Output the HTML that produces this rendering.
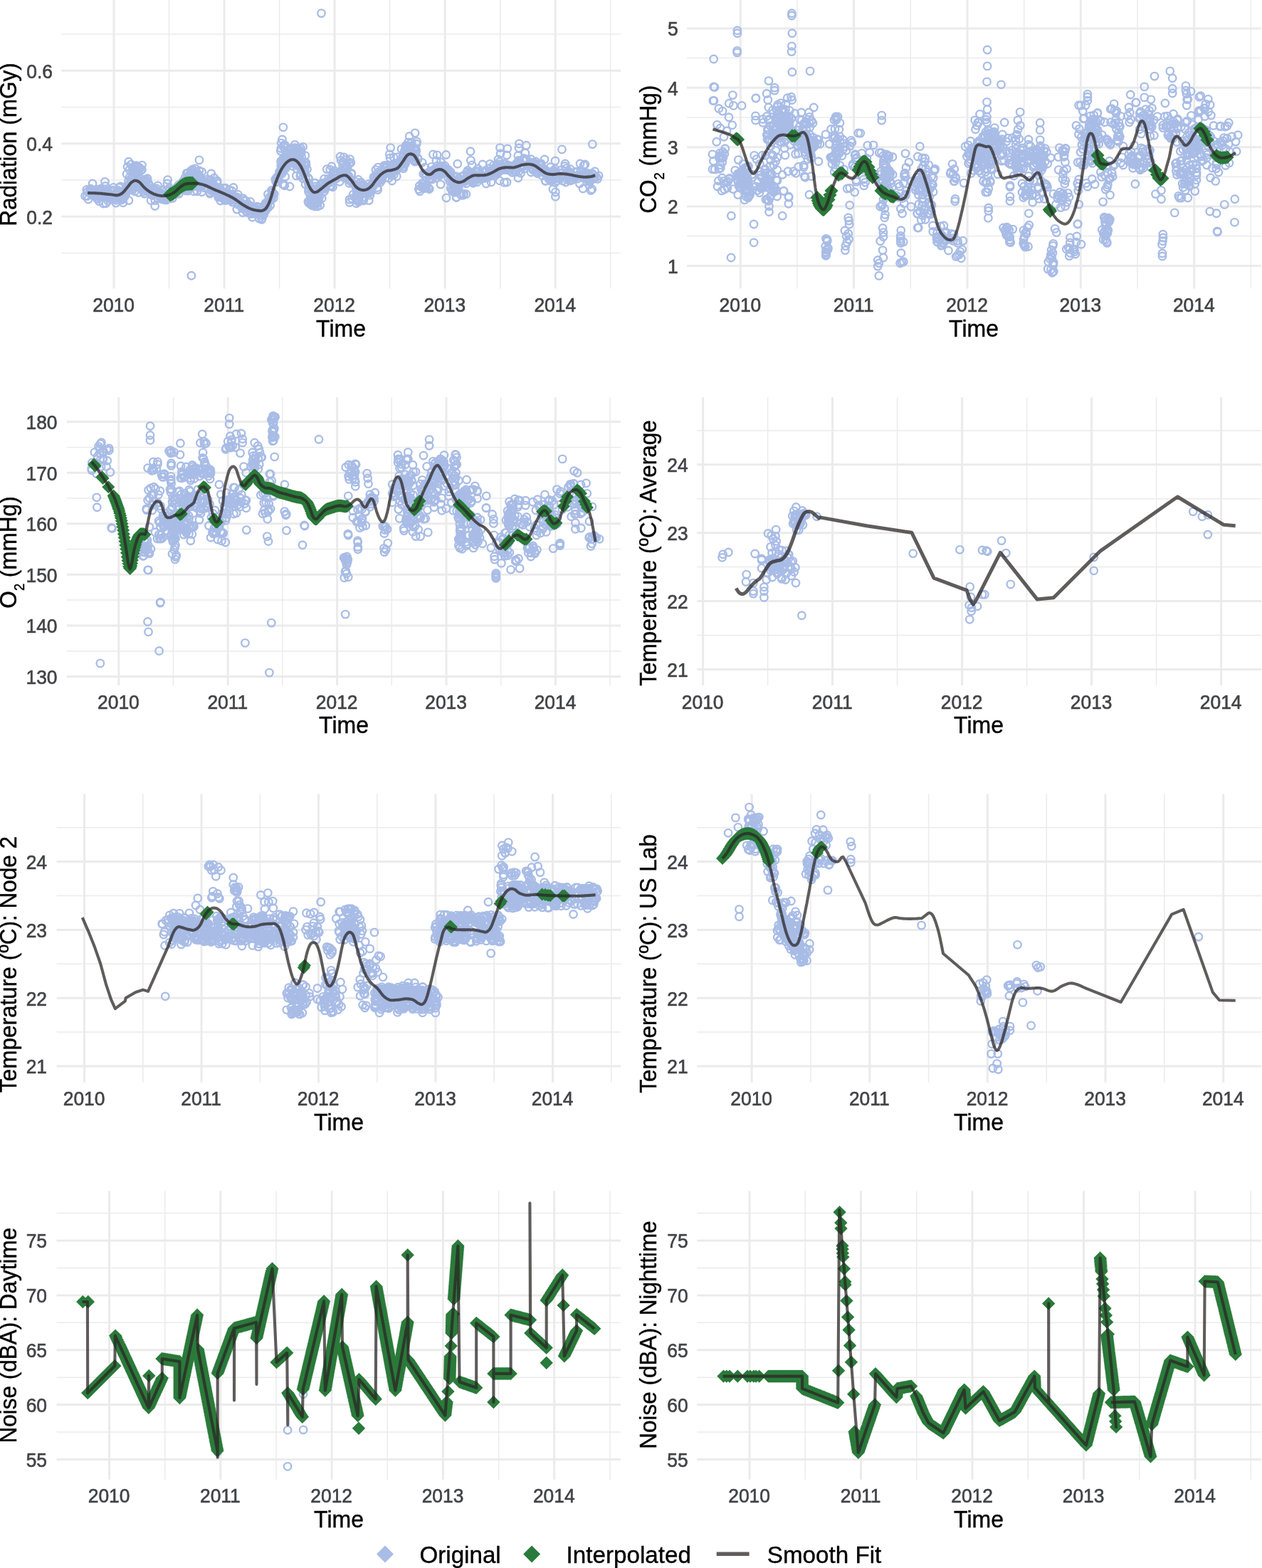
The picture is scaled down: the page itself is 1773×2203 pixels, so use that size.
<!DOCTYPE html>
<html lang="en"><head><meta charset="utf-8"><title>Environmental time series</title>
<style>
html,body{margin:0;padding:0;background:#fff}
svg{display:block;font-family:'Liberation Sans', sans-serif}
</style></head>
<body>
<svg width="1773" height="2203" viewBox="0 0 1773 2203">
<rect width="1773" height="2203" fill="#fff"/>
<!-- p1 -->
<path d="M86.4 48.1H872M86.4 150.5H872M86.4 253H872M86.4 355.4H872M237.5 0V405.6M392.6 0V405.6M547.6 0V405.6M702.7 0V405.6M857.7 0V405.6" stroke="#ebebeb" stroke-width="1.5" fill="none"/>
<path d="M86.4 99.3H872M86.4 201.8H872M86.4 304.2H872M160 0V405.6M315.1 0V405.6M470.1 0V405.6M625.2 0V405.6M780.2 0V405.6" stroke="#ebebeb" stroke-width="3.0" fill="none"/>
<g fill="none" stroke="#a8bce6" stroke-width="2.35"><circle cx="211.1" cy="266.7" r="5.25"/><circle cx="479.5" cy="241.6" r="5.25"/><circle cx="553.5" cy="238.9" r="5.25"/><circle cx="138.8" cy="276.5" r="5.25"/><circle cx="225.1" cy="278.2" r="5.25"/><circle cx="790" cy="246.7" r="5.25"/><circle cx="169" cy="275.5" r="5.25"/><circle cx="212" cy="281.5" r="5.25"/><circle cx="804.6" cy="247.6" r="5.25"/><circle cx="568.2" cy="228.7" r="5.25"/><circle cx="385.2" cy="272.5" r="5.25"/><circle cx="488.2" cy="247.9" r="5.25"/><circle cx="597.9" cy="244.6" r="5.25"/><circle cx="317.3" cy="278.4" r="5.25"/><circle cx="217.9" cy="281.6" r="5.25"/><circle cx="688.5" cy="245.4" r="5.25"/><circle cx="603.3" cy="247" r="5.25"/><circle cx="489" cy="248.8" r="5.25"/><circle cx="709.3" cy="229.4" r="5.25"/><circle cx="515.5" cy="271.6" r="5.25"/><circle cx="828.2" cy="247.1" r="5.25"/><circle cx="266.1" cy="249.2" r="5.25"/><circle cx="518.9" cy="263.3" r="5.25"/><circle cx="468.1" cy="244.8" r="5.25"/><circle cx="373.8" cy="287.6" r="5.25"/><circle cx="546.3" cy="239.7" r="5.25"/><circle cx="288.4" cy="255.9" r="5.25"/><circle cx="698.8" cy="243.7" r="5.25"/><circle cx="745.9" cy="223.7" r="5.25"/><circle cx="211.2" cy="271.4" r="5.25"/><circle cx="456.2" cy="264.1" r="5.25"/><circle cx="318.7" cy="281.1" r="5.25"/><circle cx="178.2" cy="268.8" r="5.25"/><circle cx="766.7" cy="244.4" r="5.25"/><circle cx="429.3" cy="249.5" r="5.25"/><circle cx="224.9" cy="274.7" r="5.25"/><circle cx="605.5" cy="250.3" r="5.25"/><circle cx="264.4" cy="254.6" r="5.25"/><circle cx="770.6" cy="247.1" r="5.25"/><circle cx="275.2" cy="257.2" r="5.25"/><circle cx="141.9" cy="273.1" r="5.25"/><circle cx="263.4" cy="256.7" r="5.25"/><circle cx="368.3" cy="306.7" r="5.25"/><circle cx="457.5" cy="256.9" r="5.25"/><circle cx="774" cy="246.2" r="5.25"/><circle cx="622.9" cy="241" r="5.25"/><circle cx="363.7" cy="299.1" r="5.25"/><circle cx="130.2" cy="273.6" r="5.25"/><circle cx="233.7" cy="277" r="5.25"/><circle cx="839.4" cy="251.4" r="5.25"/><circle cx="450.8" cy="258.1" r="5.25"/><circle cx="618.3" cy="238.2" r="5.25"/><circle cx="157.6" cy="267.4" r="5.25"/><circle cx="142.7" cy="273.1" r="5.25"/><circle cx="730.4" cy="226.8" r="5.25"/><circle cx="543.6" cy="235.4" r="5.25"/><circle cx="341.5" cy="287.6" r="5.25"/><circle cx="347.8" cy="298.5" r="5.25"/><circle cx="182.6" cy="261.5" r="5.25"/><circle cx="243" cy="272.9" r="5.25"/><circle cx="135.8" cy="278.5" r="5.25"/><circle cx="725.5" cy="229.8" r="5.25"/><circle cx="455.6" cy="251.3" r="5.25"/><circle cx="210.1" cy="267.3" r="5.25"/><circle cx="653.2" cy="252" r="5.25"/><circle cx="259.7" cy="265.1" r="5.25"/><circle cx="162.8" cy="285.1" r="5.25"/><circle cx="551.2" cy="232.3" r="5.25"/><circle cx="766.5" cy="254.2" r="5.25"/><circle cx="137.5" cy="279.4" r="5.25"/><circle cx="700.9" cy="241.5" r="5.25"/><circle cx="255.7" cy="262.9" r="5.25"/><circle cx="185.3" cy="266.8" r="5.25"/><circle cx="131" cy="271.7" r="5.25"/><circle cx="330.1" cy="277.5" r="5.25"/><circle cx="644.4" cy="256.9" r="5.25"/><circle cx="475.1" cy="242.7" r="5.25"/><circle cx="735.5" cy="233.8" r="5.25"/><circle cx="275.3" cy="257.2" r="5.25"/><circle cx="346.2" cy="292.3" r="5.25"/><circle cx="304.9" cy="269.8" r="5.25"/><circle cx="826.3" cy="243.3" r="5.25"/><circle cx="799.3" cy="251.8" r="5.25"/><circle cx="364.7" cy="291.2" r="5.25"/><circle cx="433.7" cy="264.7" r="5.25"/><circle cx="345.6" cy="282.4" r="5.25"/><circle cx="658.5" cy="251.7" r="5.25"/><circle cx="147" cy="268.3" r="5.25"/><circle cx="166.8" cy="274.2" r="5.25"/><circle cx="410.5" cy="221" r="5.25"/><circle cx="295.4" cy="252.8" r="5.25"/><circle cx="729.9" cy="227.4" r="5.25"/><circle cx="655.1" cy="252.4" r="5.25"/><circle cx="513.2" cy="270" r="5.25"/><circle cx="596.9" cy="235.2" r="5.25"/><circle cx="619.2" cy="227.7" r="5.25"/><circle cx="683.5" cy="241.3" r="5.25"/><circle cx="789.5" cy="243.2" r="5.25"/><circle cx="226.4" cy="272" r="5.25"/><circle cx="571.3" cy="215" r="5.25"/><circle cx="222" cy="278.7" r="5.25"/><circle cx="438.8" cy="273.6" r="5.25"/><circle cx="687.3" cy="248.1" r="5.25"/><circle cx="765.8" cy="238.2" r="5.25"/><circle cx="667.7" cy="246.8" r="5.25"/><circle cx="143.6" cy="271.1" r="5.25"/><circle cx="378.2" cy="277.5" r="5.25"/><circle cx="236.1" cy="278.8" r="5.25"/><circle cx="841.1" cy="246.9" r="5.25"/><circle cx="222.3" cy="272.1" r="5.25"/><circle cx="294.9" cy="270.5" r="5.25"/><circle cx="376.6" cy="291.9" r="5.25"/><circle cx="162.1" cy="278.6" r="5.25"/><circle cx="748.2" cy="237.6" r="5.25"/><circle cx="578.7" cy="220.3" r="5.25"/><circle cx="233.7" cy="268.6" r="5.25"/><circle cx="478.7" cy="245.6" r="5.25"/><circle cx="175" cy="273.3" r="5.25"/><circle cx="560.3" cy="230.6" r="5.25"/><circle cx="285.7" cy="259.9" r="5.25"/><circle cx="146" cy="274.3" r="5.25"/><circle cx="201.4" cy="269.4" r="5.25"/><circle cx="520" cy="269.7" r="5.25"/><circle cx="579.2" cy="221.4" r="5.25"/><circle cx="353.2" cy="293" r="5.25"/><circle cx="583.9" cy="225.6" r="5.25"/><circle cx="372.9" cy="296.3" r="5.25"/><circle cx="212.6" cy="270.1" r="5.25"/><circle cx="346.2" cy="297.5" r="5.25"/><circle cx="404.2" cy="229.5" r="5.25"/><circle cx="778.8" cy="241.2" r="5.25"/><circle cx="201.7" cy="268.9" r="5.25"/><circle cx="180.4" cy="260.2" r="5.25"/><circle cx="524.5" cy="261" r="5.25"/><circle cx="815.5" cy="240.7" r="5.25"/><circle cx="774.9" cy="244.9" r="5.25"/><circle cx="625" cy="236.5" r="5.25"/><circle cx="166.3" cy="269.2" r="5.25"/><circle cx="701.8" cy="227.4" r="5.25"/><circle cx="612.8" cy="250" r="5.25"/><circle cx="222.2" cy="273.7" r="5.25"/><circle cx="454.6" cy="263.8" r="5.25"/><circle cx="153.7" cy="278.7" r="5.25"/><circle cx="698.6" cy="237.9" r="5.25"/><circle cx="638.3" cy="256.8" r="5.25"/><circle cx="700.6" cy="230.7" r="5.25"/><circle cx="668.5" cy="247.3" r="5.25"/><circle cx="311.5" cy="268.6" r="5.25"/><circle cx="689.8" cy="245.8" r="5.25"/><circle cx="298.4" cy="266" r="5.25"/><circle cx="217.8" cy="266.2" r="5.25"/><circle cx="400.6" cy="221.2" r="5.25"/><circle cx="478.4" cy="242.5" r="5.25"/><circle cx="324.9" cy="280.5" r="5.25"/><circle cx="556.6" cy="239.4" r="5.25"/><circle cx="554.2" cy="240.1" r="5.25"/><circle cx="291.6" cy="251.8" r="5.25"/><circle cx="568.7" cy="211.6" r="5.25"/><circle cx="376.7" cy="284.9" r="5.25"/><circle cx="649.9" cy="253.5" r="5.25"/><circle cx="328.3" cy="275.7" r="5.25"/><circle cx="696.3" cy="241.6" r="5.25"/><circle cx="418.5" cy="227.3" r="5.25"/><circle cx="518.5" cy="258.4" r="5.25"/><circle cx="605.5" cy="240.2" r="5.25"/><circle cx="493.3" cy="253.9" r="5.25"/><circle cx="304.5" cy="268.1" r="5.25"/><circle cx="827.1" cy="248.1" r="5.25"/><circle cx="187.5" cy="265.4" r="5.25"/><circle cx="353.2" cy="292.6" r="5.25"/><circle cx="515.6" cy="266.6" r="5.25"/><circle cx="138.8" cy="266.7" r="5.25"/><circle cx="230.2" cy="273.4" r="5.25"/><circle cx="696.7" cy="242.2" r="5.25"/><circle cx="685.5" cy="247.8" r="5.25"/><circle cx="579.2" cy="216.1" r="5.25"/><circle cx="770.9" cy="246.5" r="5.25"/><circle cx="665" cy="246.9" r="5.25"/><circle cx="334.3" cy="273.4" r="5.25"/><circle cx="584.9" cy="211.8" r="5.25"/><circle cx="364.2" cy="307.1" r="5.25"/><circle cx="660.9" cy="252.5" r="5.25"/><circle cx="396.6" cy="235.7" r="5.25"/><circle cx="228.9" cy="266.5" r="5.25"/><circle cx="752.6" cy="227" r="5.25"/><circle cx="617.9" cy="244.9" r="5.25"/><circle cx="657.1" cy="239.5" r="5.25"/><circle cx="523.1" cy="258.2" r="5.25"/><circle cx="684.8" cy="249.5" r="5.25"/><circle cx="442.3" cy="270.9" r="5.25"/><circle cx="527.6" cy="257.4" r="5.25"/><circle cx="163.3" cy="273.7" r="5.25"/><circle cx="519.9" cy="274.3" r="5.25"/><circle cx="707.8" cy="230.5" r="5.25"/><circle cx="628.8" cy="238.8" r="5.25"/><circle cx="699.5" cy="239.3" r="5.25"/><circle cx="477.2" cy="255.3" r="5.25"/><circle cx="756.1" cy="235.7" r="5.25"/><circle cx="196.4" cy="261.8" r="5.25"/><circle cx="752" cy="230.4" r="5.25"/><circle cx="386.8" cy="252" r="5.25"/><circle cx="183.9" cy="264.1" r="5.25"/><circle cx="566.4" cy="234.1" r="5.25"/><circle cx="447.3" cy="276" r="5.25"/><circle cx="428.1" cy="244" r="5.25"/><circle cx="734.9" cy="225.8" r="5.25"/><circle cx="217.8" cy="267.3" r="5.25"/><circle cx="564.7" cy="227.6" r="5.25"/><circle cx="417.6" cy="230" r="5.25"/><circle cx="500.5" cy="265.3" r="5.25"/><circle cx="479.6" cy="240" r="5.25"/><circle cx="215.1" cy="273" r="5.25"/><circle cx="488.7" cy="248.2" r="5.25"/><circle cx="742.2" cy="231.1" r="5.25"/><circle cx="242" cy="271.8" r="5.25"/><circle cx="126.3" cy="270.1" r="5.25"/><circle cx="166.9" cy="276.8" r="5.25"/><circle cx="450.9" cy="266.2" r="5.25"/><circle cx="823.5" cy="249.8" r="5.25"/><circle cx="150" cy="269.3" r="5.25"/><circle cx="835.4" cy="248.6" r="5.25"/><circle cx="506.1" cy="265.6" r="5.25"/><circle cx="205" cy="255" r="5.25"/><circle cx="421" cy="233.6" r="5.25"/><circle cx="268.1" cy="256.4" r="5.25"/><circle cx="635" cy="256.6" r="5.25"/><circle cx="510.1" cy="266.3" r="5.25"/><circle cx="326.5" cy="277.2" r="5.25"/><circle cx="302.9" cy="268.1" r="5.25"/><circle cx="745.7" cy="230.9" r="5.25"/><circle cx="672.8" cy="244.2" r="5.25"/><circle cx="433.8" cy="251.5" r="5.25"/><circle cx="411.6" cy="233.5" r="5.25"/><circle cx="651.9" cy="246.3" r="5.25"/><circle cx="820.8" cy="247" r="5.25"/><circle cx="175.6" cy="270.6" r="5.25"/><circle cx="233.2" cy="276.8" r="5.25"/><circle cx="380.3" cy="281.5" r="5.25"/><circle cx="485.6" cy="250.2" r="5.25"/><circle cx="169.7" cy="279" r="5.25"/><circle cx="156.7" cy="274.9" r="5.25"/><circle cx="276.9" cy="268.7" r="5.25"/><circle cx="397.4" cy="229.6" r="5.25"/><circle cx="653.2" cy="254.5" r="5.25"/><circle cx="559.6" cy="233.4" r="5.25"/><circle cx="139.1" cy="268.9" r="5.25"/><circle cx="150.6" cy="274.2" r="5.25"/><circle cx="445.3" cy="276.8" r="5.25"/><circle cx="751.4" cy="229.2" r="5.25"/><circle cx="780.5" cy="241.2" r="5.25"/><circle cx="382.3" cy="275.4" r="5.25"/><circle cx="760.5" cy="241.9" r="5.25"/><circle cx="790.7" cy="254" r="5.25"/><circle cx="412.4" cy="229.5" r="5.25"/><circle cx="658.2" cy="251.1" r="5.25"/><circle cx="382.5" cy="269.6" r="5.25"/><circle cx="229.2" cy="276.3" r="5.25"/><circle cx="534.4" cy="244.9" r="5.25"/><circle cx="180.6" cy="254.3" r="5.25"/><circle cx="598.3" cy="243.6" r="5.25"/><circle cx="703.9" cy="235.4" r="5.25"/><circle cx="780.8" cy="243.5" r="5.25"/><circle cx="442.4" cy="268" r="5.25"/><circle cx="203" cy="272.2" r="5.25"/><circle cx="771.4" cy="248.1" r="5.25"/><circle cx="748.1" cy="236.2" r="5.25"/><circle cx="818.5" cy="245.5" r="5.25"/><circle cx="548" cy="234.3" r="5.25"/><circle cx="605.5" cy="243.1" r="5.25"/><circle cx="388.3" cy="255.1" r="5.25"/><circle cx="250.6" cy="263.4" r="5.25"/><circle cx="329.2" cy="278.3" r="5.25"/><circle cx="639.8" cy="259.8" r="5.25"/><circle cx="353.3" cy="295.4" r="5.25"/><circle cx="618.7" cy="233.2" r="5.25"/><circle cx="481.6" cy="244.5" r="5.25"/><circle cx="443.1" cy="266.8" r="5.25"/><circle cx="818.6" cy="249.5" r="5.25"/><circle cx="238.2" cy="267.8" r="5.25"/><circle cx="470.7" cy="251.2" r="5.25"/><circle cx="233.6" cy="278.3" r="5.25"/><circle cx="796.7" cy="244.9" r="5.25"/><circle cx="471.8" cy="246.9" r="5.25"/><circle cx="358.3" cy="292.1" r="5.25"/><circle cx="239.9" cy="273.6" r="5.25"/><circle cx="548.1" cy="241.8" r="5.25"/><circle cx="406.8" cy="229.4" r="5.25"/><circle cx="210.1" cy="268.6" r="5.25"/><circle cx="141.4" cy="265.2" r="5.25"/><circle cx="401.3" cy="236.8" r="5.25"/><circle cx="540.2" cy="243.1" r="5.25"/><circle cx="493.6" cy="255.5" r="5.25"/><circle cx="769.6" cy="245.8" r="5.25"/><circle cx="778" cy="239.8" r="5.25"/><circle cx="795.9" cy="243.1" r="5.25"/><circle cx="697" cy="240.7" r="5.25"/><circle cx="463.8" cy="260.9" r="5.25"/><circle cx="497.2" cy="258.8" r="5.25"/><circle cx="405.7" cy="215" r="5.25"/><circle cx="407.3" cy="223.9" r="5.25"/><circle cx="148.1" cy="274.3" r="5.25"/><circle cx="696.3" cy="246.2" r="5.25"/><circle cx="296.1" cy="267.5" r="5.25"/><circle cx="139.2" cy="282.7" r="5.25"/><circle cx="455.7" cy="268.7" r="5.25"/><circle cx="637.7" cy="260.6" r="5.25"/><circle cx="433.7" cy="264.9" r="5.25"/><circle cx="381.6" cy="267.3" r="5.25"/><circle cx="594.8" cy="244.4" r="5.25"/><circle cx="235.9" cy="277.3" r="5.25"/><circle cx="126.2" cy="268.5" r="5.25"/><circle cx="546.9" cy="242.5" r="5.25"/><circle cx="502" cy="266.2" r="5.25"/><circle cx="744.9" cy="228.6" r="5.25"/><circle cx="419.1" cy="228.1" r="5.25"/><circle cx="687.1" cy="243" r="5.25"/><circle cx="131" cy="272.4" r="5.25"/><circle cx="137.7" cy="269.4" r="5.25"/><circle cx="551.4" cy="241.6" r="5.25"/><circle cx="281.8" cy="249" r="5.25"/><circle cx="166.7" cy="272.5" r="5.25"/><circle cx="210.5" cy="261.2" r="5.25"/><circle cx="389.3" cy="248.7" r="5.25"/><circle cx="362.1" cy="298.4" r="5.25"/><circle cx="526.2" cy="255.7" r="5.25"/><circle cx="760.6" cy="238.7" r="5.25"/><circle cx="382.8" cy="270.7" r="5.25"/><circle cx="251.3" cy="272.2" r="5.25"/><circle cx="536.5" cy="238.5" r="5.25"/><circle cx="119.6" cy="275.4" r="5.25"/><circle cx="396.6" cy="228.4" r="5.25"/><circle cx="347.7" cy="289.1" r="5.25"/><circle cx="398.5" cy="233.9" r="5.25"/><circle cx="154.8" cy="268.9" r="5.25"/><circle cx="519.3" cy="264.8" r="5.25"/><circle cx="569.9" cy="224.5" r="5.25"/><circle cx="660.6" cy="242.5" r="5.25"/><circle cx="811.2" cy="247.2" r="5.25"/><circle cx="374.8" cy="289.3" r="5.25"/><circle cx="593.2" cy="228.3" r="5.25"/><circle cx="438" cy="266.8" r="5.25"/><circle cx="273.7" cy="253.6" r="5.25"/><circle cx="761.8" cy="246.8" r="5.25"/><circle cx="658" cy="245.6" r="5.25"/><circle cx="800.6" cy="253.9" r="5.25"/><circle cx="712.8" cy="232.5" r="5.25"/><circle cx="782.2" cy="254.2" r="5.25"/><circle cx="210.7" cy="272.4" r="5.25"/><circle cx="129.4" cy="273.5" r="5.25"/><circle cx="261.8" cy="262.2" r="5.25"/><circle cx="416.4" cy="230.6" r="5.25"/><circle cx="615.9" cy="245.3" r="5.25"/><circle cx="435.4" cy="272.5" r="5.25"/><circle cx="489.7" cy="247.2" r="5.25"/><circle cx="669" cy="240.1" r="5.25"/><circle cx="169.1" cy="262" r="5.25"/><circle cx="609.1" cy="239.7" r="5.25"/><circle cx="153.3" cy="276.8" r="5.25"/><circle cx="298" cy="266.8" r="5.25"/><circle cx="640.9" cy="256" r="5.25"/><circle cx="612.5" cy="237.6" r="5.25"/><circle cx="411.4" cy="221" r="5.25"/><circle cx="331.3" cy="279.2" r="5.25"/><circle cx="717.6" cy="237.4" r="5.25"/><circle cx="316.9" cy="264.2" r="5.25"/><circle cx="140.6" cy="275.4" r="5.25"/><circle cx="297" cy="257.1" r="5.25"/><circle cx="133.3" cy="270.6" r="5.25"/><circle cx="704.9" cy="232.9" r="5.25"/><circle cx="206.5" cy="265" r="5.25"/><circle cx="823.2" cy="243.5" r="5.25"/><circle cx="272.2" cy="251.8" r="5.25"/><circle cx="339.6" cy="285.4" r="5.25"/><circle cx="541.7" cy="235.4" r="5.25"/><circle cx="341.1" cy="298.6" r="5.25"/><circle cx="392.6" cy="241.3" r="5.25"/><circle cx="193.4" cy="251.2" r="5.25"/><circle cx="399.7" cy="228.7" r="5.25"/><circle cx="136.3" cy="266.1" r="5.25"/><circle cx="280.2" cy="247.2" r="5.25"/><circle cx="776.5" cy="243.7" r="5.25"/><circle cx="321.3" cy="276.5" r="5.25"/><circle cx="314.1" cy="264.2" r="5.25"/><circle cx="609.8" cy="241" r="5.25"/><circle cx="757.2" cy="230.7" r="5.25"/><circle cx="332.2" cy="281" r="5.25"/><circle cx="390.5" cy="250" r="5.25"/><circle cx="635.4" cy="254.6" r="5.25"/><circle cx="691.5" cy="244.6" r="5.25"/><circle cx="562.4" cy="228.4" r="5.25"/><circle cx="247.6" cy="272.4" r="5.25"/><circle cx="248.9" cy="264.5" r="5.25"/><circle cx="666.8" cy="248.1" r="5.25"/><circle cx="629.7" cy="250.1" r="5.25"/><circle cx="766.9" cy="241.8" r="5.25"/><circle cx="682.6" cy="239.3" r="5.25"/><circle cx="423" cy="237.4" r="5.25"/><circle cx="214.5" cy="266.1" r="5.25"/><circle cx="762.7" cy="236.3" r="5.25"/><circle cx="621.6" cy="233.4" r="5.25"/><circle cx="535.3" cy="249.2" r="5.25"/><circle cx="611.7" cy="238.9" r="5.25"/><circle cx="396.8" cy="224.6" r="5.25"/><circle cx="366.5" cy="299.9" r="5.25"/><circle cx="534.6" cy="255.9" r="5.25"/><circle cx="467.5" cy="262.7" r="5.25"/><circle cx="631.3" cy="245.4" r="5.25"/><circle cx="795.7" cy="245" r="5.25"/><circle cx="731.4" cy="234.9" r="5.25"/><circle cx="398.5" cy="237.5" r="5.25"/><circle cx="387.7" cy="255.6" r="5.25"/><circle cx="789" cy="238.6" r="5.25"/><circle cx="403.7" cy="231.1" r="5.25"/><circle cx="697.4" cy="242.2" r="5.25"/><circle cx="185.1" cy="249.2" r="5.25"/><circle cx="444.6" cy="267.9" r="5.25"/><circle cx="491.8" cy="252.6" r="5.25"/><circle cx="703.6" cy="236.3" r="5.25"/><circle cx="753.4" cy="236.5" r="5.25"/><circle cx="228.5" cy="279.1" r="5.25"/><circle cx="564.8" cy="231.1" r="5.25"/><circle cx="573.5" cy="216.5" r="5.25"/><circle cx="227.7" cy="268.4" r="5.25"/><circle cx="721.5" cy="238.4" r="5.25"/><circle cx="518.7" cy="271.1" r="5.25"/><circle cx="814.3" cy="257.9" r="5.25"/><circle cx="252.9" cy="262.8" r="5.25"/><circle cx="498.1" cy="259.5" r="5.25"/><circle cx="352.2" cy="300.6" r="5.25"/><circle cx="583.2" cy="227.1" r="5.25"/><circle cx="558.2" cy="237.9" r="5.25"/><circle cx="489" cy="251.8" r="5.25"/><circle cx="353.2" cy="290" r="5.25"/><circle cx="482.9" cy="249.2" r="5.25"/><circle cx="387.5" cy="251.7" r="5.25"/><circle cx="762.9" cy="240.1" r="5.25"/><circle cx="452.1" cy="263.9" r="5.25"/><circle cx="462.1" cy="254.4" r="5.25"/><circle cx="305.2" cy="257.4" r="5.25"/><circle cx="301.8" cy="262.4" r="5.25"/><circle cx="808.6" cy="248.7" r="5.25"/><circle cx="345.3" cy="289.8" r="5.25"/><circle cx="746.7" cy="229.1" r="5.25"/><circle cx="548.6" cy="241.5" r="5.25"/><circle cx="827.9" cy="251.8" r="5.25"/><circle cx="236.8" cy="278.3" r="5.25"/><circle cx="799.7" cy="241.1" r="5.25"/><circle cx="677.3" cy="246.3" r="5.25"/><circle cx="529.2" cy="249.8" r="5.25"/><circle cx="631.2" cy="243.7" r="5.25"/><circle cx="641" cy="247.9" r="5.25"/><circle cx="442.6" cy="269.6" r="5.25"/><circle cx="577.4" cy="212" r="5.25"/><circle cx="283.5" cy="269.7" r="5.25"/><circle cx="133.5" cy="270.8" r="5.25"/><circle cx="607.8" cy="241.6" r="5.25"/><circle cx="461.5" cy="255.1" r="5.25"/><circle cx="773.6" cy="254.2" r="5.25"/><circle cx="309.2" cy="264.8" r="5.25"/><circle cx="710.2" cy="234.4" r="5.25"/><circle cx="832.1" cy="243.7" r="5.25"/><circle cx="768.2" cy="243.1" r="5.25"/><circle cx="816.2" cy="248.1" r="5.25"/><circle cx="233.2" cy="280.3" r="5.25"/><circle cx="237.5" cy="266.7" r="5.25"/><circle cx="283.3" cy="258.7" r="5.25"/><circle cx="379.7" cy="288.5" r="5.25"/><circle cx="201.6" cy="259.6" r="5.25"/><circle cx="227.1" cy="274.2" r="5.25"/><circle cx="131.4" cy="266.8" r="5.25"/><circle cx="793.7" cy="233.5" r="5.25"/><circle cx="379.4" cy="280.7" r="5.25"/><circle cx="571.2" cy="224.8" r="5.25"/><circle cx="447.1" cy="266.1" r="5.25"/><circle cx="656" cy="242" r="5.25"/><circle cx="701.6" cy="238.2" r="5.25"/><circle cx="395.3" cy="238.5" r="5.25"/><circle cx="505.6" cy="271" r="5.25"/><circle cx="188.6" cy="258.5" r="5.25"/><circle cx="324.7" cy="275.2" r="5.25"/><circle cx="279.3" cy="260" r="5.25"/><circle cx="341.4" cy="278.7" r="5.25"/><circle cx="352.9" cy="299.2" r="5.25"/><circle cx="534.3" cy="246.8" r="5.25"/><circle cx="358.9" cy="300.7" r="5.25"/><circle cx="354.6" cy="299.5" r="5.25"/><circle cx="719.8" cy="234" r="5.25"/><circle cx="126.8" cy="270.3" r="5.25"/><circle cx="121.8" cy="266.5" r="5.25"/><circle cx="159.4" cy="263.4" r="5.25"/><circle cx="744.7" cy="230.1" r="5.25"/><circle cx="576.8" cy="217.1" r="5.25"/><circle cx="645" cy="250.7" r="5.25"/><circle cx="811.4" cy="251" r="5.25"/><circle cx="275.8" cy="258.1" r="5.25"/><circle cx="784.1" cy="246.4" r="5.25"/><circle cx="293.6" cy="258.8" r="5.25"/><circle cx="493.7" cy="244.6" r="5.25"/><circle cx="611.1" cy="243.9" r="5.25"/><circle cx="695.2" cy="243.4" r="5.25"/><circle cx="297.6" cy="264.1" r="5.25"/><circle cx="463.4" cy="253.8" r="5.25"/><circle cx="151" cy="271.3" r="5.25"/><circle cx="326.4" cy="276.8" r="5.25"/><circle cx="828.2" cy="245.7" r="5.25"/><circle cx="773.3" cy="234.7" r="5.25"/><circle cx="539.4" cy="245.9" r="5.25"/><circle cx="687.4" cy="236.7" r="5.25"/><circle cx="771.2" cy="242.8" r="5.25"/><circle cx="358.3" cy="293.6" r="5.25"/><circle cx="827.9" cy="249.6" r="5.25"/><circle cx="442.7" cy="262" r="5.25"/><circle cx="233" cy="280.9" r="5.25"/><circle cx="501.8" cy="267.1" r="5.25"/><circle cx="547.8" cy="243.2" r="5.25"/><circle cx="619.6" cy="244.6" r="5.25"/><circle cx="603.8" cy="241" r="5.25"/><circle cx="148" cy="261.5" r="5.25"/><circle cx="580.7" cy="219.2" r="5.25"/><circle cx="785.3" cy="250.7" r="5.25"/><circle cx="603.2" cy="250.9" r="5.25"/><circle cx="824.1" cy="245.9" r="5.25"/><circle cx="488.3" cy="247.2" r="5.25"/><circle cx="704.6" cy="237.5" r="5.25"/><circle cx="219.6" cy="264.6" r="5.25"/><circle cx="766.4" cy="239.7" r="5.25"/><circle cx="434" cy="257.6" r="5.25"/><circle cx="752.7" cy="241.4" r="5.25"/><circle cx="350.3" cy="289.4" r="5.25"/><circle cx="570" cy="228.5" r="5.25"/><circle cx="730.9" cy="232.6" r="5.25"/><circle cx="633" cy="241.6" r="5.25"/><circle cx="566.8" cy="236.6" r="5.25"/><circle cx="820.7" cy="243.8" r="5.25"/><circle cx="181.7" cy="262.7" r="5.25"/><circle cx="191.8" cy="262.4" r="5.25"/><circle cx="517.3" cy="262.4" r="5.25"/><circle cx="809.2" cy="241.1" r="5.25"/><circle cx="615" cy="243.7" r="5.25"/><circle cx="342.2" cy="288.6" r="5.25"/><circle cx="196" cy="250.1" r="5.25"/><circle cx="442.6" cy="264.8" r="5.25"/><circle cx="465.7" cy="252.7" r="5.25"/><circle cx="457" cy="265.4" r="5.25"/><circle cx="566.4" cy="224.8" r="5.25"/><circle cx="315.5" cy="275.6" r="5.25"/><circle cx="755.4" cy="243.7" r="5.25"/><circle cx="326.8" cy="284.1" r="5.25"/><circle cx="195.5" cy="263" r="5.25"/><circle cx="370.6" cy="301.2" r="5.25"/><circle cx="795.5" cy="236.6" r="5.25"/><circle cx="233.4" cy="281" r="5.25"/><circle cx="319" cy="275.6" r="5.25"/><circle cx="788.8" cy="243.5" r="5.25"/><circle cx="370" cy="290" r="5.25"/><circle cx="728.4" cy="225.5" r="5.25"/><circle cx="150.9" cy="267.2" r="5.25"/><circle cx="761.3" cy="239.6" r="5.25"/><circle cx="289.8" cy="255.2" r="5.25"/><circle cx="248.7" cy="262.9" r="5.25"/><circle cx="655.4" cy="248.7" r="5.25"/><circle cx="834.4" cy="250.3" r="5.25"/><circle cx="812.5" cy="246.3" r="5.25"/><circle cx="662.7" cy="246.7" r="5.25"/><circle cx="779.9" cy="251.4" r="5.25"/><circle cx="832.6" cy="245.8" r="5.25"/><circle cx="518.2" cy="267.5" r="5.25"/><circle cx="222.7" cy="269.3" r="5.25"/><circle cx="733" cy="233.6" r="5.25"/><circle cx="404.6" cy="227.3" r="5.25"/><circle cx="344.4" cy="290.4" r="5.25"/><circle cx="480.7" cy="244.5" r="5.25"/><circle cx="143.2" cy="266.8" r="5.25"/><circle cx="131.5" cy="269.8" r="5.25"/><circle cx="309.4" cy="267.4" r="5.25"/><circle cx="549.4" cy="244.4" r="5.25"/><circle cx="660.6" cy="253.1" r="5.25"/><circle cx="811" cy="241.5" r="5.25"/><circle cx="710.3" cy="238.5" r="5.25"/><circle cx="799.4" cy="242.8" r="5.25"/><circle cx="578.7" cy="219" r="5.25"/><circle cx="649.3" cy="253" r="5.25"/><circle cx="543.3" cy="232.9" r="5.25"/><circle cx="177" cy="270.7" r="5.25"/><circle cx="162.8" cy="276.6" r="5.25"/><circle cx="668.3" cy="240.2" r="5.25"/><circle cx="264.5" cy="248.4" r="5.25"/><circle cx="689.8" cy="240.6" r="5.25"/><circle cx="454" cy="257.2" r="5.25"/><circle cx="123" cy="269.2" r="5.25"/><circle cx="524.5" cy="261.1" r="5.25"/><circle cx="438.8" cy="276" r="5.25"/><circle cx="171.5" cy="269.7" r="5.25"/><circle cx="307" cy="275.6" r="5.25"/><circle cx="340" cy="292.7" r="5.25"/><circle cx="368.3" cy="293.9" r="5.25"/><circle cx="629.7" cy="238.3" r="5.25"/><circle cx="239.1" cy="277.6" r="5.25"/><circle cx="438.9" cy="271.8" r="5.25"/><circle cx="557.3" cy="247.8" r="5.25"/><circle cx="803.1" cy="253.1" r="5.25"/><circle cx="201.3" cy="265.9" r="5.25"/><circle cx="175.4" cy="276" r="5.25"/><circle cx="256.8" cy="255.1" r="5.25"/><circle cx="277.7" cy="258.8" r="5.25"/><circle cx="235.8" cy="273" r="5.25"/><circle cx="173" cy="279" r="5.25"/><circle cx="269.7" cy="260.5" r="5.25"/><circle cx="279.7" cy="247.1" r="5.25"/><circle cx="465.2" cy="261.8" r="5.25"/><circle cx="587" cy="222.3" r="5.25"/><circle cx="381.4" cy="278.8" r="5.25"/><circle cx="239.8" cy="270.7" r="5.25"/><circle cx="186.5" cy="256.2" r="5.25"/><circle cx="308.5" cy="272.6" r="5.25"/><circle cx="241.7" cy="273.1" r="5.25"/><circle cx="466.3" cy="249.7" r="5.25"/><circle cx="748.7" cy="238.7" r="5.25"/><circle cx="636.7" cy="255.3" r="5.25"/><circle cx="265.1" cy="257.8" r="5.25"/><circle cx="143.9" cy="275.7" r="5.25"/><circle cx="167" cy="271.2" r="5.25"/><circle cx="433.5" cy="269.3" r="5.25"/><circle cx="381.2" cy="276.8" r="5.25"/><circle cx="612.1" cy="241.5" r="5.25"/><circle cx="178.7" cy="265.3" r="5.25"/><circle cx="302.3" cy="262.3" r="5.25"/><circle cx="614.5" cy="232.8" r="5.25"/><circle cx="529.3" cy="252.7" r="5.25"/><circle cx="492.1" cy="253.5" r="5.25"/><circle cx="770.8" cy="251.3" r="5.25"/><circle cx="200.1" cy="262.9" r="5.25"/><circle cx="259.5" cy="253.6" r="5.25"/><circle cx="527.5" cy="256.5" r="5.25"/><circle cx="527.3" cy="258.3" r="5.25"/><circle cx="827.6" cy="253.5" r="5.25"/><circle cx="825.7" cy="250.4" r="5.25"/><circle cx="543.2" cy="234.2" r="5.25"/><circle cx="667.4" cy="252.2" r="5.25"/><circle cx="622.9" cy="236.1" r="5.25"/><circle cx="214.2" cy="274.6" r="5.25"/><circle cx="554.1" cy="230.3" r="5.25"/><circle cx="339.4" cy="290.4" r="5.25"/><circle cx="377.9" cy="281.5" r="5.25"/><circle cx="231.1" cy="280.6" r="5.25"/><circle cx="124" cy="280" r="5.25"/><circle cx="736" cy="237.3" r="5.25"/><circle cx="637.1" cy="247.8" r="5.25"/><circle cx="662.6" cy="242.9" r="5.25"/><circle cx="326.5" cy="273.4" r="5.25"/><circle cx="420.2" cy="233.5" r="5.25"/><circle cx="245.5" cy="271.6" r="5.25"/><circle cx="554" cy="239" r="5.25"/><circle cx="725.6" cy="236" r="5.25"/><circle cx="681.9" cy="248.9" r="5.25"/><circle cx="794.1" cy="247.8" r="5.25"/><circle cx="306.6" cy="277.1" r="5.25"/><circle cx="625.8" cy="241.8" r="5.25"/><circle cx="209.7" cy="270.2" r="5.25"/><circle cx="506.3" cy="257.1" r="5.25"/><circle cx="197.8" cy="251.3" r="5.25"/><circle cx="509.2" cy="263.6" r="5.25"/><circle cx="510.5" cy="261.2" r="5.25"/><circle cx="369.2" cy="296.9" r="5.25"/><circle cx="371" cy="300.1" r="5.25"/><circle cx="632.8" cy="247.7" r="5.25"/><circle cx="466.3" cy="252" r="5.25"/><circle cx="413.1" cy="222" r="5.25"/><circle cx="199.6" cy="260.7" r="5.25"/><circle cx="322.4" cy="272.8" r="5.25"/><circle cx="731.3" cy="234.6" r="5.25"/><circle cx="821.7" cy="250.2" r="5.25"/><circle cx="388.2" cy="255.8" r="5.25"/><circle cx="748.5" cy="235.5" r="5.25"/><circle cx="750.6" cy="232.5" r="5.25"/><circle cx="275.9" cy="258.4" r="5.25"/><circle cx="316.2" cy="281.5" r="5.25"/><circle cx="621.9" cy="238.9" r="5.25"/><circle cx="339.6" cy="290.6" r="5.25"/><circle cx="809.6" cy="247.6" r="5.25"/><circle cx="382.3" cy="269.6" r="5.25"/><circle cx="646.7" cy="253.7" r="5.25"/><circle cx="630.1" cy="242.9" r="5.25"/><circle cx="272.7" cy="257.6" r="5.25"/><circle cx="745" cy="227.9" r="5.25"/><circle cx="356" cy="292.6" r="5.25"/><circle cx="197.7" cy="263.8" r="5.25"/><circle cx="154.3" cy="272.5" r="5.25"/><circle cx="445.1" cy="275.3" r="5.25"/><circle cx="576.3" cy="217.7" r="5.25"/><circle cx="314.5" cy="276.2" r="5.25"/><circle cx="727.5" cy="230.7" r="5.25"/><circle cx="311.7" cy="271.4" r="5.25"/><circle cx="731.6" cy="243.3" r="5.25"/><circle cx="141.9" cy="276" r="5.25"/><circle cx="308.2" cy="274.2" r="5.25"/><circle cx="233.5" cy="276" r="5.25"/><circle cx="442.1" cy="274.5" r="5.25"/><circle cx="372" cy="288.4" r="5.25"/><circle cx="403.8" cy="223" r="5.25"/><circle cx="734.5" cy="233.7" r="5.25"/><circle cx="537.6" cy="247.3" r="5.25"/><circle cx="556.3" cy="235.2" r="5.25"/><circle cx="400.4" cy="229.7" r="5.25"/><circle cx="703" cy="234.7" r="5.25"/><circle cx="481.3" cy="245.7" r="5.25"/><circle cx="658.1" cy="243.9" r="5.25"/><circle cx="779.9" cy="237.6" r="5.25"/><circle cx="561.1" cy="233.1" r="5.25"/><circle cx="433.1" cy="250" r="5.25"/><circle cx="308.9" cy="264.6" r="5.25"/><circle cx="778.3" cy="241.6" r="5.25"/><circle cx="671.8" cy="241.1" r="5.25"/><circle cx="696.9" cy="240.6" r="5.25"/><circle cx="278.3" cy="255.6" r="5.25"/><circle cx="434.2" cy="260.8" r="5.25"/><circle cx="757.7" cy="232.1" r="5.25"/><circle cx="296.1" cy="260.1" r="5.25"/><circle cx="707.3" cy="238.2" r="5.25"/><circle cx="508" cy="268.5" r="5.25"/><circle cx="276.4" cy="255.3" r="5.25"/><circle cx="389.8" cy="251.5" r="5.25"/><circle cx="173.2" cy="270.9" r="5.25"/><circle cx="605.3" cy="245.3" r="5.25"/><circle cx="644.3" cy="264" r="5.25"/><circle cx="139" cy="269.5" r="5.25"/><circle cx="336.2" cy="286.2" r="5.25"/><circle cx="674.6" cy="248.3" r="5.25"/><circle cx="263.1" cy="256.7" r="5.25"/><circle cx="506.8" cy="260.5" r="5.25"/><circle cx="701.5" cy="240.4" r="5.25"/><circle cx="530.7" cy="251" r="5.25"/><circle cx="206.5" cy="266.9" r="5.25"/><circle cx="776.2" cy="245" r="5.25"/><circle cx="658.6" cy="249.6" r="5.25"/><circle cx="527" cy="249.8" r="5.25"/><circle cx="359" cy="296.6" r="5.25"/><circle cx="539.6" cy="232.7" r="5.25"/><circle cx="401.5" cy="229.1" r="5.25"/><circle cx="203.9" cy="256.9" r="5.25"/><circle cx="206.4" cy="264.8" r="5.25"/><circle cx="150.8" cy="276.2" r="5.25"/><circle cx="241.3" cy="270.8" r="5.25"/><circle cx="295.8" cy="261.2" r="5.25"/><circle cx="578" cy="218.8" r="5.25"/><circle cx="538" cy="241.3" r="5.25"/><circle cx="545.6" cy="237.4" r="5.25"/><circle cx="713.1" cy="233" r="5.25"/><circle cx="186.9" cy="262.1" r="5.25"/><circle cx="399.6" cy="234.7" r="5.25"/><circle cx="175.4" cy="269.7" r="5.25"/><circle cx="421.2" cy="225.2" r="5.25"/><circle cx="175" cy="270.9" r="5.25"/><circle cx="166" cy="267.4" r="5.25"/><circle cx="193.5" cy="256.6" r="5.25"/><circle cx="400.3" cy="224.9" r="5.25"/><circle cx="670.5" cy="255.8" r="5.25"/><circle cx="322.1" cy="266.7" r="5.25"/><circle cx="655.1" cy="257.8" r="5.25"/><circle cx="286.9" cy="263.7" r="5.25"/><circle cx="325.9" cy="268.2" r="5.25"/><circle cx="459.3" cy="257.2" r="5.25"/><circle cx="172.3" cy="277.8" r="5.25"/><circle cx="443" cy="275.5" r="5.25"/><circle cx="540.5" cy="232.8" r="5.25"/><circle cx="715" cy="232.4" r="5.25"/><circle cx="158.7" cy="267.5" r="5.25"/><circle cx="697.1" cy="233.8" r="5.25"/><circle cx="530.4" cy="246.6" r="5.25"/><circle cx="536.7" cy="252.7" r="5.25"/><circle cx="155" cy="273.6" r="5.25"/><circle cx="755" cy="233.7" r="5.25"/><circle cx="318.8" cy="271.8" r="5.25"/><circle cx="513.6" cy="269.7" r="5.25"/><circle cx="508" cy="269.9" r="5.25"/><circle cx="776.9" cy="240.1" r="5.25"/><circle cx="553.4" cy="245.3" r="5.25"/><circle cx="835.7" cy="240.8" r="5.25"/><circle cx="286.1" cy="258" r="5.25"/><circle cx="597.4" cy="244.8" r="5.25"/><circle cx="535.6" cy="253" r="5.25"/><circle cx="489.8" cy="247" r="5.25"/><circle cx="572.4" cy="219" r="5.25"/><circle cx="516.6" cy="271.7" r="5.25"/><circle cx="361.9" cy="298.6" r="5.25"/><circle cx="582.5" cy="224.4" r="5.25"/><circle cx="178.4" cy="268.8" r="5.25"/><circle cx="464.8" cy="256.1" r="5.25"/><circle cx="445.8" cy="272.1" r="5.25"/><circle cx="272.4" cy="261.8" r="5.25"/><circle cx="529.3" cy="251" r="5.25"/><circle cx="603" cy="252.8" r="5.25"/><circle cx="208.5" cy="258" r="5.25"/><circle cx="333" cy="276.9" r="5.25"/><circle cx="162.9" cy="281.2" r="5.25"/><circle cx="550.3" cy="240.9" r="5.25"/><circle cx="177.1" cy="261.9" r="5.25"/><circle cx="284.1" cy="260.7" r="5.25"/><circle cx="442.3" cy="275.3" r="5.25"/><circle cx="445.1" cy="266.5" r="5.25"/><circle cx="141.9" cy="275.4" r="5.25"/><circle cx="803.9" cy="245.2" r="5.25"/><circle cx="284.5" cy="258.4" r="5.25"/><circle cx="559.6" cy="234.5" r="5.25"/><circle cx="278.9" cy="263.2" r="5.25"/><circle cx="549.3" cy="233.4" r="5.25"/><circle cx="373.4" cy="290.9" r="5.25"/><circle cx="348.7" cy="294.9" r="5.25"/><circle cx="461.5" cy="250.8" r="5.25"/><circle cx="542.5" cy="232.3" r="5.25"/><circle cx="551.1" cy="241.4" r="5.25"/><circle cx="616.5" cy="237.9" r="5.25"/><circle cx="312.5" cy="269.9" r="5.25"/><circle cx="184.3" cy="257.1" r="5.25"/><circle cx="301.4" cy="261.3" r="5.25"/><circle cx="354.5" cy="305.3" r="5.25"/><circle cx="557.7" cy="231.3" r="5.25"/><circle cx="418" cy="225" r="5.25"/><circle cx="343.4" cy="281.5" r="5.25"/><circle cx="189.2" cy="251.4" r="5.25"/><circle cx="550" cy="246.5" r="5.25"/><circle cx="197.6" cy="257.5" r="5.25"/><circle cx="492.2" cy="254.5" r="5.25"/><circle cx="616.4" cy="235.4" r="5.25"/><circle cx="569.1" cy="230.8" r="5.25"/><circle cx="233.6" cy="275.3" r="5.25"/><circle cx="375.7" cy="283.2" r="5.25"/><circle cx="799.2" cy="248.7" r="5.25"/><circle cx="183.7" cy="255.1" r="5.25"/><circle cx="609.4" cy="244.1" r="5.25"/><circle cx="434" cy="261.2" r="5.25"/><circle cx="562.2" cy="233.2" r="5.25"/><circle cx="403.1" cy="228.3" r="5.25"/><circle cx="207.6" cy="262.8" r="5.25"/><circle cx="525.2" cy="249.2" r="5.25"/><circle cx="122.4" cy="275.6" r="5.25"/><circle cx="743.6" cy="229.8" r="5.25"/><circle cx="696.3" cy="240.9" r="5.25"/><circle cx="388.6" cy="250.3" r="5.25"/><circle cx="507" cy="256.1" r="5.25"/><circle cx="499.9" cy="255.4" r="5.25"/><circle cx="827.3" cy="255.1" r="5.25"/><circle cx="149.7" cy="268.4" r="5.25"/><circle cx="333.5" cy="280" r="5.25"/><circle cx="412.7" cy="216.8" r="5.25"/><circle cx="688.1" cy="241" r="5.25"/><circle cx="646.5" cy="253.9" r="5.25"/><circle cx="424.5" cy="236" r="5.25"/><circle cx="126.5" cy="270.4" r="5.25"/><circle cx="587.1" cy="223.6" r="5.25"/><circle cx="237.9" cy="279.1" r="5.25"/><circle cx="664.7" cy="257.2" r="5.25"/><circle cx="327.1" cy="279.2" r="5.25"/><circle cx="314.3" cy="279.4" r="5.25"/><circle cx="830.1" cy="267.5" r="5.25"/><circle cx="760.2" cy="229.8" r="5.25"/><circle cx="671.4" cy="237" r="5.25"/><circle cx="433.7" cy="265.7" r="5.25"/><circle cx="831.8" cy="265.9" r="5.25"/><circle cx="531" cy="251.6" r="5.25"/><circle cx="827.6" cy="259.4" r="5.25"/><circle cx="640.3" cy="252.9" r="5.25"/><circle cx="151.9" cy="282.3" r="5.25"/><circle cx="695.9" cy="234.8" r="5.25"/><circle cx="724.7" cy="241.8" r="5.25"/><circle cx="755.9" cy="240.3" r="5.25"/><circle cx="568.4" cy="227.7" r="5.25"/><circle cx="145.2" cy="286" r="5.25"/><circle cx="746.1" cy="242" r="5.25"/><circle cx="423.5" cy="230.4" r="5.25"/><circle cx="260.3" cy="267.8" r="5.25"/><circle cx="268.9" cy="242.4" r="5.25"/><circle cx="263.9" cy="268.1" r="5.25"/><circle cx="708.5" cy="256.4" r="5.25"/><circle cx="170.6" cy="278.1" r="5.25"/><circle cx="782.8" cy="250.1" r="5.25"/><circle cx="130.2" cy="272.8" r="5.25"/><circle cx="641.4" cy="264.4" r="5.25"/><circle cx="284.9" cy="256.1" r="5.25"/><circle cx="490.7" cy="257.5" r="5.25"/><circle cx="246.4" cy="267.6" r="5.25"/><circle cx="769.4" cy="241.2" r="5.25"/><circle cx="230.9" cy="277.4" r="5.25"/><circle cx="456" cy="261.9" r="5.25"/><circle cx="558.6" cy="220.6" r="5.25"/><circle cx="446.1" cy="290" r="5.25"/><circle cx="274.5" cy="260.1" r="5.25"/><circle cx="327.9" cy="263.5" r="5.25"/><circle cx="794.6" cy="256" r="5.25"/><circle cx="208.7" cy="269.3" r="5.25"/><circle cx="130.7" cy="274.4" r="5.25"/><circle cx="775.9" cy="252.9" r="5.25"/><circle cx="759.6" cy="231.2" r="5.25"/><circle cx="614.1" cy="217.8" r="5.25"/><circle cx="459.7" cy="258.7" r="5.25"/><circle cx="807.2" cy="250.3" r="5.25"/><circle cx="417.1" cy="237.4" r="5.25"/><circle cx="127.4" cy="265.2" r="5.25"/><circle cx="433.1" cy="257.4" r="5.25"/><circle cx="501.1" cy="268.4" r="5.25"/><circle cx="515" cy="264.4" r="5.25"/><circle cx="761" cy="238.4" r="5.25"/><circle cx="167" cy="277.4" r="5.25"/><circle cx="736.4" cy="223" r="5.25"/><circle cx="496.1" cy="273.2" r="5.25"/><circle cx="648.1" cy="248.2" r="5.25"/><circle cx="417.5" cy="228.6" r="5.25"/><circle cx="332.4" cy="279.5" r="5.25"/><circle cx="361" cy="290.1" r="5.25"/><circle cx="316.7" cy="279.2" r="5.25"/><circle cx="446.4" cy="279.8" r="5.25"/><circle cx="550.8" cy="254" r="5.25"/><circle cx="719.6" cy="242.2" r="5.25"/><circle cx="244.3" cy="267.5" r="5.25"/><circle cx="443.9" cy="279.3" r="5.25"/><circle cx="503.2" cy="252.3" r="5.25"/><circle cx="710.4" cy="236.9" r="5.25"/><circle cx="632.2" cy="255.3" r="5.25"/><circle cx="569.2" cy="228.4" r="5.25"/><circle cx="606.2" cy="234.3" r="5.25"/><circle cx="442.5" cy="257.1" r="5.25"/><circle cx="701.9" cy="253.8" r="5.25"/><circle cx="724.3" cy="231" r="5.25"/><circle cx="527.9" cy="238.6" r="5.25"/><circle cx="202.7" cy="252.8" r="5.25"/><circle cx="426.6" cy="243.5" r="5.25"/><circle cx="309.7" cy="282" r="5.25"/><circle cx="256.9" cy="261.2" r="5.25"/><circle cx="332.8" cy="294.1" r="5.25"/><circle cx="711.2" cy="238.4" r="5.25"/><circle cx="369.8" cy="300.9" r="5.25"/><circle cx="429.1" cy="258.8" r="5.25"/><circle cx="395.1" cy="235.8" r="5.25"/><circle cx="251.6" cy="267.8" r="5.25"/><circle cx="531.7" cy="245.9" r="5.25"/><circle cx="419.7" cy="224.3" r="5.25"/><circle cx="796.1" cy="251.8" r="5.25"/><circle cx="565.8" cy="220.2" r="5.25"/><circle cx="826.1" cy="250.2" r="5.25"/><circle cx="739.8" cy="224.1" r="5.25"/><circle cx="473.3" cy="250.5" r="5.25"/><circle cx="129.9" cy="267" r="5.25"/><circle cx="272.2" cy="268.8" r="5.25"/><circle cx="204.4" cy="266.6" r="5.25"/><circle cx="652" cy="255.6" r="5.25"/><circle cx="217.7" cy="289.5" r="5.25"/><circle cx="585.1" cy="202.2" r="5.25"/><circle cx="351.5" cy="283.3" r="5.25"/><circle cx="465.9" cy="233.7" r="5.25"/><circle cx="665.8" cy="247" r="5.25"/><circle cx="334" cy="287.3" r="5.25"/><circle cx="242.3" cy="278.4" r="5.25"/><circle cx="326.5" cy="280.7" r="5.25"/><circle cx="801.2" cy="237.7" r="5.25"/><circle cx="518.3" cy="281.6" r="5.25"/><circle cx="325.9" cy="280.7" r="5.25"/><circle cx="223.5" cy="272.7" r="5.25"/><circle cx="167.4" cy="263.5" r="5.25"/><circle cx="359.8" cy="299.9" r="5.25"/><circle cx="562.5" cy="227.5" r="5.25"/><circle cx="448.7" cy="263.4" r="5.25"/><circle cx="706" cy="238.2" r="5.25"/><circle cx="838.2" cy="248.8" r="5.25"/><circle cx="530.8" cy="242.2" r="5.25"/><circle cx="367.7" cy="308.4" r="5.25"/><circle cx="693.4" cy="232.3" r="5.25"/><circle cx="182.2" cy="248.7" r="5.25"/><circle cx="667.9" cy="249.5" r="5.25"/><circle cx="756.3" cy="237.6" r="5.25"/><circle cx="679.9" cy="247.1" r="5.25"/><circle cx="189.4" cy="250.1" r="5.25"/><circle cx="538.7" cy="243.1" r="5.25"/><circle cx="698.8" cy="233.2" r="5.25"/><circle cx="416" cy="210.4" r="5.25"/><circle cx="729.1" cy="240.4" r="5.25"/><circle cx="238.2" cy="264.2" r="5.25"/><circle cx="500.8" cy="261.1" r="5.25"/><circle cx="522.1" cy="268.2" r="5.25"/><circle cx="688.7" cy="244.2" r="5.25"/><circle cx="416.3" cy="246.9" r="5.25"/><circle cx="305" cy="254.8" r="5.25"/><circle cx="633.6" cy="243.6" r="5.25"/><circle cx="200.7" cy="262.4" r="5.25"/><circle cx="384.3" cy="278.3" r="5.25"/><circle cx="456.9" cy="258.5" r="5.25"/><circle cx="688.4" cy="230.4" r="5.25"/><circle cx="425.5" cy="250.7" r="5.25"/><circle cx="525" cy="248.7" r="5.25"/><circle cx="609.1" cy="239.9" r="5.25"/><circle cx="607.1" cy="251.9" r="5.25"/><circle cx="815.6" cy="242" r="5.25"/><circle cx="453.3" cy="259.5" r="5.25"/><circle cx="532" cy="253.1" r="5.25"/><circle cx="132.1" cy="269.5" r="5.25"/><circle cx="256.9" cy="263.1" r="5.25"/><circle cx="298.1" cy="256" r="5.25"/><circle cx="270.9" cy="256.6" r="5.25"/><circle cx="493.8" cy="243.5" r="5.25"/><circle cx="262.3" cy="243.4" r="5.25"/><circle cx="530.7" cy="266.6" r="5.25"/><circle cx="715.9" cy="239.7" r="5.25"/><circle cx="170.6" cy="280.9" r="5.25"/><circle cx="293.9" cy="253.7" r="5.25"/><circle cx="477.6" cy="247.8" r="5.25"/><circle cx="151.4" cy="271" r="5.25"/><circle cx="221.7" cy="260.9" r="5.25"/><circle cx="534.3" cy="251.2" r="5.25"/><circle cx="407.2" cy="218.3" r="5.25"/><circle cx="772.3" cy="242.8" r="5.25"/><circle cx="531" cy="235.1" r="5.25"/><circle cx="666.1" cy="255.9" r="5.25"/><circle cx="368.4" cy="303.2" r="5.25"/><circle cx="391" cy="250.8" r="5.25"/><circle cx="735.9" cy="222.7" r="5.25"/><circle cx="563.5" cy="225.4" r="5.25"/><circle cx="780.1" cy="256.4" r="5.25"/><circle cx="300.7" cy="263.6" r="5.25"/><circle cx="201" cy="264.2" r="5.25"/><circle cx="608.3" cy="243.7" r="5.25"/><circle cx="208.6" cy="257.7" r="5.25"/><circle cx="173" cy="284.8" r="5.25"/><circle cx="400.7" cy="211.5" r="5.25"/><circle cx="615" cy="240.6" r="5.25"/><circle cx="378.9" cy="282" r="5.25"/><circle cx="663.2" cy="231.9" r="5.25"/><circle cx="447.6" cy="271.3" r="5.25"/><circle cx="324.3" cy="281.5" r="5.25"/><circle cx="504.8" cy="266.3" r="5.25"/><circle cx="555.7" cy="229.7" r="5.25"/><circle cx="226.6" cy="279.4" r="5.25"/><circle cx="546.3" cy="250.2" r="5.25"/><circle cx="240" cy="275" r="5.25"/><circle cx="819" cy="265" r="5.25"/><circle cx="502.8" cy="272.8" r="5.25"/><circle cx="266.7" cy="265.1" r="5.25"/><circle cx="148.8" cy="285.8" r="5.25"/><circle cx="273.3" cy="251.3" r="5.25"/><circle cx="348.5" cy="286.9" r="5.25"/><circle cx="533.2" cy="252" r="5.25"/><circle cx="598.4" cy="248.6" r="5.25"/><circle cx="633.2" cy="264.6" r="5.25"/><circle cx="437.4" cy="277.8" r="5.25"/><circle cx="574.3" cy="218.5" r="5.25"/><circle cx="518.8" cy="266.3" r="5.25"/><circle cx="332.7" cy="279" r="5.25"/><circle cx="276.5" cy="254.3" r="5.25"/><circle cx="407.1" cy="221" r="5.25"/><circle cx="617.3" cy="246.8" r="5.25"/><circle cx="215.4" cy="267.8" r="5.25"/><circle cx="578.4" cy="213.4" r="5.25"/><circle cx="133" cy="273" r="5.25"/><circle cx="251" cy="260" r="5.25"/><circle cx="602.9" cy="243.1" r="5.25"/><circle cx="703.1" cy="216" r="5.25"/><circle cx="673.5" cy="250.2" r="5.25"/><circle cx="612.8" cy="236.5" r="5.25"/><circle cx="302" cy="268.7" r="5.25"/><circle cx="833.2" cy="251" r="5.25"/><circle cx="553.1" cy="221" r="5.25"/><circle cx="776.9" cy="265.9" r="5.25"/><circle cx="796" cy="246.6" r="5.25"/><circle cx="290.8" cy="263.7" r="5.25"/><circle cx="820.1" cy="232.3" r="5.25"/><circle cx="176.8" cy="272.4" r="5.25"/><circle cx="579.4" cy="221.6" r="5.25"/><circle cx="303.8" cy="264.9" r="5.25"/><circle cx="186.1" cy="258.5" r="5.25"/><circle cx="530.3" cy="263.5" r="5.25"/><circle cx="271.9" cy="255.5" r="5.25"/><circle cx="687.4" cy="236.9" r="5.25"/><circle cx="452.2" cy="278.4" r="5.25"/><circle cx="313.3" cy="275.2" r="5.25"/><circle cx="126.5" cy="270.8" r="5.25"/><circle cx="619" cy="259.1" r="5.25"/><circle cx="578.8" cy="219.6" r="5.25"/><circle cx="701" cy="237" r="5.25"/><circle cx="395.4" cy="241.9" r="5.25"/><circle cx="780.4" cy="242.3" r="5.25"/><circle cx="135.1" cy="274.9" r="5.25"/><circle cx="783.2" cy="247.2" r="5.25"/><circle cx="671.7" cy="241.6" r="5.25"/><circle cx="192.1" cy="252.9" r="5.25"/><circle cx="832.7" cy="251.7" r="5.25"/><circle cx="183" cy="263" r="5.25"/><circle cx="661.8" cy="254.7" r="5.25"/><circle cx="294.9" cy="272.1" r="5.25"/><circle cx="618.3" cy="241.8" r="5.25"/><circle cx="724" cy="241.1" r="5.25"/><circle cx="203.4" cy="261.8" r="5.25"/><circle cx="353" cy="292.5" r="5.25"/><circle cx="766.1" cy="254" r="5.25"/><circle cx="463.7" cy="238.2" r="5.25"/><circle cx="228.8" cy="279.9" r="5.25"/><circle cx="180.9" cy="281.6" r="5.25"/><circle cx="207.1" cy="250.7" r="5.25"/><circle cx="194.6" cy="270.5" r="5.25"/><circle cx="376.4" cy="272.9" r="5.25"/><circle cx="680.3" cy="250.5" r="5.25"/><circle cx="445.9" cy="285.6" r="5.25"/><circle cx="189.2" cy="268.8" r="5.25"/><circle cx="373.3" cy="285.4" r="5.25"/><circle cx="468.2" cy="241.8" r="5.25"/><circle cx="442.5" cy="257.2" r="5.25"/><circle cx="582.3" cy="226.4" r="5.25"/><circle cx="610.7" cy="237.3" r="5.25"/><circle cx="659.4" cy="249.9" r="5.25"/><circle cx="506" cy="269.2" r="5.25"/><circle cx="139.7" cy="276.1" r="5.25"/><circle cx="675.2" cy="252" r="5.25"/><circle cx="685" cy="246.8" r="5.25"/><circle cx="184.2" cy="231" r="5.25"/><circle cx="199.5" cy="232.1" r="5.25"/><circle cx="182" cy="238.2" r="5.25"/><circle cx="198.4" cy="239.1" r="5.25"/><circle cx="189.2" cy="238.9" r="5.25"/><circle cx="191.2" cy="238.3" r="5.25"/><circle cx="189.6" cy="233.4" r="5.25"/><circle cx="190.4" cy="239.1" r="5.25"/><circle cx="192.1" cy="240.6" r="5.25"/><circle cx="190.8" cy="235" r="5.25"/><circle cx="186.7" cy="239.9" r="5.25"/><circle cx="196.4" cy="236" r="5.25"/><circle cx="189.3" cy="237.7" r="5.25"/><circle cx="198.9" cy="238.2" r="5.25"/><circle cx="191.4" cy="232.7" r="5.25"/><circle cx="188.7" cy="241.5" r="5.25"/><circle cx="194.4" cy="234.5" r="5.25"/><circle cx="196.6" cy="236.8" r="5.25"/><circle cx="187.6" cy="235.6" r="5.25"/><circle cx="190.8" cy="238.5" r="5.25"/><circle cx="199.3" cy="238.4" r="5.25"/><circle cx="187.2" cy="237.2" r="5.25"/><circle cx="187.9" cy="241.4" r="5.25"/><circle cx="193" cy="238" r="5.25"/><circle cx="186.1" cy="235.9" r="5.25"/><circle cx="180.7" cy="227.2" r="5.25"/><circle cx="179.1" cy="234.2" r="5.25"/><circle cx="178" cy="244.5" r="5.25"/><circle cx="147.5" cy="255.4" r="5.25"/><circle cx="130" cy="258" r="5.25"/><circle cx="205" cy="252" r="5.25"/><circle cx="235.6" cy="252.6" r="5.25"/><circle cx="235" cy="258" r="5.25"/><circle cx="260" cy="249.8" r="5.25"/><circle cx="270.6" cy="253" r="5.25"/><circle cx="270.5" cy="247.3" r="5.25"/><circle cx="267" cy="248.5" r="5.25"/><circle cx="267.1" cy="244" r="5.25"/><circle cx="275.8" cy="241.5" r="5.25"/><circle cx="278.5" cy="253" r="5.25"/><circle cx="283.6" cy="241.4" r="5.25"/><circle cx="279.1" cy="245.2" r="5.25"/><circle cx="268" cy="242.6" r="5.25"/><circle cx="273.8" cy="246.2" r="5.25"/><circle cx="264.1" cy="243" r="5.25"/><circle cx="276.6" cy="246.2" r="5.25"/><circle cx="274.4" cy="236.9" r="5.25"/><circle cx="268.6" cy="242.7" r="5.25"/><circle cx="271.6" cy="250.1" r="5.25"/><circle cx="270.7" cy="238" r="5.25"/><circle cx="268.4" cy="239.9" r="5.25"/><circle cx="279.9" cy="224.9" r="5.25"/><circle cx="296.7" cy="244" r="5.25"/><circle cx="301" cy="250" r="5.25"/><circle cx="305" cy="254" r="5.25"/><circle cx="271" cy="239" r="5.25"/><circle cx="280" cy="240" r="5.25"/><circle cx="400.6" cy="248.2" r="5.25"/><circle cx="398.5" cy="206.5" r="5.25"/><circle cx="399.9" cy="260.7" r="5.25"/><circle cx="392.7" cy="244.1" r="5.25"/><circle cx="397.9" cy="222.6" r="5.25"/><circle cx="394.8" cy="208.5" r="5.25"/><circle cx="394.5" cy="226.7" r="5.25"/><circle cx="398.5" cy="258.9" r="5.25"/><circle cx="400.2" cy="203.8" r="5.25"/><circle cx="394.3" cy="212.1" r="5.25"/><circle cx="395.2" cy="201.1" r="5.25"/><circle cx="396.3" cy="243.8" r="5.25"/><circle cx="397.3" cy="258.8" r="5.25"/><circle cx="394.7" cy="232.7" r="5.25"/><circle cx="402.6" cy="215.6" r="5.25"/><circle cx="398.9" cy="259.6" r="5.25"/><circle cx="397.9" cy="178.8" r="5.25"/><circle cx="396.5" cy="196" r="5.25"/><circle cx="399" cy="204" r="5.25"/><circle cx="410.2" cy="215.8" r="5.25"/><circle cx="413.6" cy="214.2" r="5.25"/><circle cx="425.6" cy="206.3" r="5.25"/><circle cx="417.6" cy="208.2" r="5.25"/><circle cx="413.9" cy="207.7" r="5.25"/><circle cx="417.5" cy="208.9" r="5.25"/><circle cx="418.9" cy="212.4" r="5.25"/><circle cx="417.3" cy="216.8" r="5.25"/><circle cx="407.6" cy="220.1" r="5.25"/><circle cx="418.2" cy="208.5" r="5.25"/><circle cx="415.6" cy="210.5" r="5.25"/><circle cx="420.9" cy="221.2" r="5.25"/><circle cx="409.9" cy="217.9" r="5.25"/><circle cx="421.9" cy="214.6" r="5.25"/><circle cx="414.2" cy="203.4" r="5.25"/><circle cx="408.1" cy="208.3" r="5.25"/><circle cx="423.3" cy="214.2" r="5.25"/><circle cx="414" cy="210.4" r="5.25"/><circle cx="418.5" cy="223.4" r="5.25"/><circle cx="415.8" cy="213.8" r="5.25"/><circle cx="422.1" cy="214.8" r="5.25"/><circle cx="422.2" cy="207.8" r="5.25"/><circle cx="422.2" cy="208.1" r="5.25"/><circle cx="420.2" cy="210" r="5.25"/><circle cx="408.5" cy="210.2" r="5.25"/><circle cx="408.1" cy="212.2" r="5.25"/><circle cx="417.6" cy="215.3" r="5.25"/><circle cx="411.8" cy="214.6" r="5.25"/><circle cx="444.7" cy="282" r="5.25"/><circle cx="432.9" cy="283.2" r="5.25"/><circle cx="440.7" cy="286.9" r="5.25"/><circle cx="440.9" cy="286.2" r="5.25"/><circle cx="447.7" cy="280.3" r="5.25"/><circle cx="438.6" cy="288.7" r="5.25"/><circle cx="441.3" cy="284.9" r="5.25"/><circle cx="435.6" cy="279.8" r="5.25"/><circle cx="441.8" cy="287.7" r="5.25"/><circle cx="441.7" cy="283" r="5.25"/><circle cx="436.5" cy="286.9" r="5.25"/><circle cx="437.5" cy="281.5" r="5.25"/><circle cx="439.5" cy="285.2" r="5.25"/><circle cx="442.6" cy="277.1" r="5.25"/><circle cx="433.9" cy="285.2" r="5.25"/><circle cx="444.2" cy="277.5" r="5.25"/><circle cx="438" cy="284.4" r="5.25"/><circle cx="449.3" cy="275.7" r="5.25"/><circle cx="447.1" cy="283.4" r="5.25"/><circle cx="437.6" cy="286.6" r="5.25"/><circle cx="436.5" cy="285.7" r="5.25"/><circle cx="449.7" cy="288.5" r="5.25"/><circle cx="442.9" cy="279.4" r="5.25"/><circle cx="442.6" cy="290" r="5.25"/><circle cx="431.5" cy="237.9" r="5.25"/><circle cx="420.1" cy="231" r="5.25"/><circle cx="421.8" cy="247.2" r="5.25"/><circle cx="422.7" cy="235.1" r="5.25"/><circle cx="424.9" cy="234.5" r="5.25"/><circle cx="425.7" cy="236.2" r="5.25"/><circle cx="417" cy="225.8" r="5.25"/><circle cx="427.4" cy="232" r="5.25"/><circle cx="424" cy="227.6" r="5.25"/><circle cx="420.9" cy="217" r="5.25"/><circle cx="428.8" cy="218.6" r="5.25"/><circle cx="423.6" cy="238.9" r="5.25"/><circle cx="429.6" cy="229.4" r="5.25"/><circle cx="427.1" cy="232" r="5.25"/><circle cx="423.7" cy="221" r="5.25"/><circle cx="429.7" cy="228.2" r="5.25"/><circle cx="428.2" cy="239.3" r="5.25"/><circle cx="422.9" cy="233.7" r="5.25"/><circle cx="418.5" cy="228.8" r="5.25"/><circle cx="422.8" cy="245.3" r="5.25"/><circle cx="459.2" cy="237.6" r="5.25"/><circle cx="430" cy="232" r="5.25"/><circle cx="407" cy="262" r="5.25"/><circle cx="478" cy="220" r="5.25"/><circle cx="482" cy="228" r="5.25"/><circle cx="470" cy="240" r="5.25"/><circle cx="485.7" cy="236.3" r="5.25"/><circle cx="484.6" cy="236.5" r="5.25"/><circle cx="490.6" cy="229.7" r="5.25"/><circle cx="479" cy="225.3" r="5.25"/><circle cx="488.2" cy="235.5" r="5.25"/><circle cx="481.5" cy="232.2" r="5.25"/><circle cx="482.8" cy="237.2" r="5.25"/><circle cx="483.2" cy="220.9" r="5.25"/><circle cx="486.5" cy="244" r="5.25"/><circle cx="486.4" cy="224.3" r="5.25"/><circle cx="487.2" cy="232.2" r="5.25"/><circle cx="486.8" cy="238" r="5.25"/><circle cx="491.6" cy="223.6" r="5.25"/><circle cx="492.8" cy="228.6" r="5.25"/><circle cx="491" cy="280.3" r="5.25"/><circle cx="494.3" cy="278.9" r="5.25"/><circle cx="491.3" cy="284.5" r="5.25"/><circle cx="503.6" cy="283.7" r="5.25"/><circle cx="504.8" cy="273.3" r="5.25"/><circle cx="501.1" cy="278.4" r="5.25"/><circle cx="510.6" cy="281.9" r="5.25"/><circle cx="511.4" cy="277.2" r="5.25"/><circle cx="502.9" cy="282.3" r="5.25"/><circle cx="501.7" cy="280.4" r="5.25"/><circle cx="501.3" cy="281.4" r="5.25"/><circle cx="500.3" cy="278.8" r="5.25"/><circle cx="510.9" cy="280.2" r="5.25"/><circle cx="504.4" cy="281.1" r="5.25"/><circle cx="501" cy="273.1" r="5.25"/><circle cx="501.6" cy="275.3" r="5.25"/><circle cx="506.3" cy="274.9" r="5.25"/><circle cx="500.6" cy="285.8" r="5.25"/><circle cx="548.7" cy="207.6" r="5.25"/><circle cx="547.3" cy="216.9" r="5.25"/><circle cx="548" cy="222" r="5.25"/><circle cx="575.5" cy="205.9" r="5.25"/><circle cx="575.9" cy="209.5" r="5.25"/><circle cx="574.9" cy="206.8" r="5.25"/><circle cx="571.4" cy="207.4" r="5.25"/><circle cx="570.3" cy="204.4" r="5.25"/><circle cx="578.3" cy="204.8" r="5.25"/><circle cx="572.1" cy="209.9" r="5.25"/><circle cx="582" cy="211" r="5.25"/><circle cx="575" cy="209.9" r="5.25"/><circle cx="574.5" cy="205.4" r="5.25"/><circle cx="572.9" cy="209.3" r="5.25"/><circle cx="573.6" cy="200" r="5.25"/><circle cx="574.2" cy="211.8" r="5.25"/><circle cx="581.7" cy="207.9" r="5.25"/><circle cx="584" cy="209.1" r="5.25"/><circle cx="568.2" cy="212.7" r="5.25"/><circle cx="575.3" cy="206.4" r="5.25"/><circle cx="577.6" cy="211.9" r="5.25"/><circle cx="569.5" cy="206.3" r="5.25"/><circle cx="570.8" cy="210.3" r="5.25"/><circle cx="571.7" cy="206.4" r="5.25"/><circle cx="564" cy="209.3" r="5.25"/><circle cx="577.3" cy="213.9" r="5.25"/><circle cx="573.8" cy="205.5" r="5.25"/><circle cx="573.6" cy="205.6" r="5.25"/><circle cx="574.4" cy="206.8" r="5.25"/><circle cx="575.3" cy="209.3" r="5.25"/><circle cx="584" cy="216" r="5.25"/><circle cx="575" cy="205.8" r="5.25"/><circle cx="578.2" cy="200" r="5.25"/><circle cx="583.1" cy="186.9" r="5.25"/><circle cx="575.2" cy="191.5" r="5.25"/><circle cx="585.6" cy="198.9" r="5.25"/><circle cx="594.4" cy="262.9" r="5.25"/><circle cx="589.8" cy="268.7" r="5.25"/><circle cx="594.9" cy="262.8" r="5.25"/><circle cx="597.8" cy="263.8" r="5.25"/><circle cx="592.9" cy="263.1" r="5.25"/><circle cx="594.3" cy="259.5" r="5.25"/><circle cx="588.4" cy="266" r="5.25"/><circle cx="598.7" cy="263.9" r="5.25"/><circle cx="594" cy="263.6" r="5.25"/><circle cx="603.2" cy="265.3" r="5.25"/><circle cx="603" cy="265.5" r="5.25"/><circle cx="593.4" cy="257.4" r="5.25"/><circle cx="595.9" cy="264.6" r="5.25"/><circle cx="598" cy="261.4" r="5.25"/><circle cx="601.6" cy="263.6" r="5.25"/><circle cx="589.4" cy="261" r="5.25"/><circle cx="608.4" cy="216.9" r="5.25"/><circle cx="626.6" cy="217.5" r="5.25"/><circle cx="642.8" cy="230.2" r="5.25"/><circle cx="661" cy="212.7" r="5.25"/><circle cx="661.4" cy="225.4" r="5.25"/><circle cx="678" cy="231" r="5.25"/><circle cx="613" cy="226" r="5.25"/><circle cx="625" cy="233" r="5.25"/><circle cx="635.2" cy="267.8" r="5.25"/><circle cx="648" cy="274.2" r="5.25"/><circle cx="641.3" cy="277" r="5.25"/><circle cx="639.3" cy="260.9" r="5.25"/><circle cx="639.3" cy="267.4" r="5.25"/><circle cx="641.9" cy="268.3" r="5.25"/><circle cx="641.2" cy="277.5" r="5.25"/><circle cx="627" cy="278" r="5.25"/><circle cx="635.2" cy="268.2" r="5.25"/><circle cx="639.7" cy="270.3" r="5.25"/><circle cx="646.6" cy="272.8" r="5.25"/><circle cx="650.9" cy="274.2" r="5.25"/><circle cx="634.8" cy="266.8" r="5.25"/><circle cx="655" cy="272.7" r="5.25"/><circle cx="642.1" cy="265" r="5.25"/><circle cx="644.9" cy="258" r="5.25"/><circle cx="637.7" cy="261.6" r="5.25"/><circle cx="637.2" cy="269.6" r="5.25"/><circle cx="651.6" cy="272.4" r="5.25"/><circle cx="640" cy="258" r="5.25"/><circle cx="702.5" cy="207.6" r="5.25"/><circle cx="712.9" cy="208.8" r="5.25"/><circle cx="712" cy="218" r="5.25"/><circle cx="729.4" cy="201.9" r="5.25"/><circle cx="739.4" cy="204.2" r="5.25"/><circle cx="727.8" cy="218.7" r="5.25"/><circle cx="729" cy="208" r="5.25"/><circle cx="738" cy="215" r="5.25"/><circle cx="700" cy="224" r="5.25"/><circle cx="765" cy="224" r="5.25"/><circle cx="780" cy="226" r="5.25"/><circle cx="794" cy="230" r="5.25"/><circle cx="815" cy="230" r="5.25"/><circle cx="822" cy="231" r="5.25"/><circle cx="780.4" cy="269.9" r="5.25"/><circle cx="780.4" cy="276.3" r="5.25"/><circle cx="789.4" cy="209.9" r="5.25"/><circle cx="832.3" cy="202.6" r="5.25"/><circle cx="728" cy="250" r="5.25"/><circle cx="712" cy="256" r="5.25"/><circle cx="690" cy="256" r="5.25"/><circle cx="683" cy="258" r="5.25"/><circle cx="451.5" cy="18.6" r="5.25"/><circle cx="268.9" cy="387.2" r="5.25"/></g><path d="M239 263.3l10 10l-10 10l-10 -10zM240.2 262.8l10 10l-10 10l-10 -10zM241.4 262.2l10 10l-10 10l-10 -10zM242.6 261.6l10 10l-10 10l-10 -10zM243.8 260.9l10 10l-10 10l-10 -10zM245 260.1l10 10l-10 10l-10 -10zM246.2 259.2l10 10l-10 10l-10 -10zM247.4 258.2l10 10l-10 10l-10 -10zM248.6 257.1l10 10l-10 10l-10 -10zM249.8 255.9l10 10l-10 10l-10 -10zM251 254.7l10 10l-10 10l-10 -10zM252.2 253.6l10 10l-10 10l-10 -10zM253.4 252.6l10 10l-10 10l-10 -10zM254.6 251.8l10 10l-10 10l-10 -10zM255.8 250.9l10 10l-10 10l-10 -10zM257 250.2l10 10l-10 10l-10 -10zM258.2 249.5l10 10l-10 10l-10 -10zM259.4 249l10 10l-10 10l-10 -10zM260.6 248.5l10 10l-10 10l-10 -10zM261.8 248.2l10 10l-10 10l-10 -10zM263 248l10 10l-10 10l-10 -10zM264.2 247.9l10 10l-10 10l-10 -10zM265.4 247.8l10 10l-10 10l-10 -10zM266.6 247.8l10 10l-10 10l-10 -10zM267.8 247.7l10 10l-10 10l-10 -10zM269 247.7l10 10l-10 10l-10 -10zM270.2 247.6l10 10l-10 10l-10 -10z" fill="#2a7a3a"/><path d="M123.1 271 124.5 271.1 125.9 271.1 127.3 271.2 128.7 271.2 130.1 271.2 131.5 271.3 132.9 271.3 134.3 271.4 135.7 271.5 137.1 271.5 138.5 271.6 139.9 271.7 141.4 271.8 142.8 271.9 144.3 272.1 145.8 272.2 147.3 272.4 148.7 272.6 150.2 272.7 151.7 272.9 153.2 273 154.6 273.2 156.1 273.3 157.6 273.5 159.1 273.8 160.6 274 162 274.3 163.5 274.4 165 274.3 166.5 274 167.9 273.5 169.3 272.9 170.8 272 172.2 271 173.6 269.7 175 268.2 176.3 266.4 177.7 264.7 179.1 263 180.6 261.2 182 259.3 183.4 257.5 184.9 256.1 186.3 255.1 187.8 254.3 189.2 253.8 190.7 253.7 192.1 254 193.6 254.6 195 255.4 196.4 256.5 197.8 257.9 199.3 259.6 200.8 261.4 202.2 263 203.6 264.3 205 265.5 206.3 266.7 207.7 267.7 209.1 268.7 210.4 269.6 211.7 270.3 213 271.1 214.4 271.7 215.7 272.3 217 272.8 218.3 273.3 219.8 273.8 221.2 274.2 222.7 274.5 224.1 274.8 225.6 275 227 275.2 228.5 275.2 229.9 275.2 231.2 275.1 232.5 275 233.8 274.8 235.2 274.5 236.5 274.2 237.8 273.8 239.1 273.3 240.5 272.7 241.9 272 243.2 271.2 244.6 270.4 246 269.4 247.4 268.2 248.8 266.9 250.1 265.5 251.5 264.2 252.9 263 254.3 262 255.7 261 257 260.2 258.4 259.4 259.8 258.8 261.1 258.4 262.4 258.1 263.7 257.9 265.1 257.8 266.4 257.8 267.7 257.7 269 257.7 270.3 257.6 271.7 257.6 273 257.6 274.3 257.6 275.6 257.6 277 257.7 278.3 257.9 279.6 258.1 280.9 258.4 282.2 258.7 283.6 259 284.9 259.4 286.2 259.8 287.5 260.2 288.9 260.7 290.3 261.2 291.6 261.8 293 262.5 294.4 263.1 295.8 263.8 297.2 264.5 298.5 265.1 299.9 265.8 301.3 266.4 302.7 267 304.1 267.6 305.5 268.1 306.9 268.7 308.2 269.3 309.6 269.8 311 270.4 312.4 271 313.8 271.6 315.2 272.2 316.6 272.8 318 273.5 319.3 274.1 320.7 274.7 322.1 275.4 323.5 276.1 324.9 276.8 326.2 277.5 327.6 278.3 329 279.1 330.4 280 331.9 281 333.3 282.1 334.8 283.1 336.2 284.2 337.6 285.3 339.1 286.3 340.5 287.2 341.9 288.1 343.4 289 344.8 289.8 346.2 290.7 347.7 291.4 349.1 292.2 350.6 292.8 352 293.4 353.3 293.9 354.7 294.3 356 294.7 357.3 295 358.6 295.3 360 295.5 361.3 295.7 362.6 295.9 364 296.1 365.3 296.3 366.6 296.3 368 296.1 369.3 295.7 370.4 295.2 371.6 294.6 372.8 293.7 373.9 292.5 375.1 290.8 376.2 288.8 377.4 286.4 378.6 283.7 380 279.6 381.5 274.9 382.9 269.9 384.3 265.3 385.8 261 387.2 256.8 388.7 252.8 390.1 249.1 391.5 245.9 392.9 242.9 394.2 240.1 395.6 237.6 397 235.3 398.4 233.2 399.8 231.4 401.1 229.8 402.5 228.4 403.9 227.2 405.3 226.2 406.7 225.3 408 224.7 409.4 224.3 410.8 224.2 412.2 224.3 413.6 224.6 414.9 225.2 416.3 226 417.7 227.2 419.1 228.7 420.6 230.6 422.1 232.8 423.5 235.3 424.9 238.3 426.4 241.8 427.9 245.5 429.3 249.1 430.7 252.7 432.1 256.4 433.6 260 435 263 436.1 265 437.3 266.8 438.5 268.3 439.6 269.4 440.8 270 442 270.2 443.1 270.1 444.3 269.9 445.7 269.4 447.1 268.6 448.4 267.5 449.8 266.4 451.2 265.3 452.5 264.3 453.8 263.2 455.1 262.1 456.5 261 457.8 259.9 459.1 258.9 460.4 257.9 461.8 256.9 463.3 256.1 464.7 255.2 466.1 254.4 467.6 253.7 469 252.9 470.5 252.2 471.9 251.4 473.2 250.6 474.6 249.8 475.9 248.9 477.3 248.1 478.6 247.5 480 247 481.4 246.6 482.8 246.3 484.1 246.2 485.5 246.3 486.9 246.8 488.3 247.7 489.7 248.9 491 250.4 492.4 252.1 493.8 253.7 495.2 255.5 496.6 257.5 497.9 259.6 499.3 261.5 500.7 263 502.1 264.2 503.6 265.1 505.1 265.8 506.5 266.4 507.9 266.8 509.2 267 510.6 267.1 511.9 267 513.2 266.8 514.6 266.4 516 265.8 517.4 265.1 518.7 264.2 520.1 263.1 521.5 261.8 522.9 260.2 524.3 258.4 525.6 256.4 527 254.4 528.4 252.6 529.8 250.9 531.2 249.3 532.5 247.7 533.9 246.3 535.3 245 536.7 243.9 538.1 242.9 539.4 242 540.8 241.3 542.2 240.6 543.5 240.1 544.9 239.8 546.2 239.6 547.5 239.5 548.8 239.4 550.2 239.1 551.5 238.8 552.8 238.4 554.2 238 555.5 237.6 556.8 237.1 558.2 236.3 559.5 235.3 560.9 233.8 562.3 232.1 563.7 230.1 565.1 228.1 566.5 226.1 567.9 224 569.4 221.7 570.8 219.6 572.2 218 573.5 217.1 574.8 216.6 576 216.4 577.3 216.4 578.6 216.6 580 217.1 581.3 217.9 582.6 219.2 584 221.2 585.5 223.9 587 226.8 588.4 229.5 589.8 232.1 591.2 234.8 592.7 237.3 594.1 239.4 595.5 241.1 597 242.6 598.5 243.7 599.9 244.5 601 244.9 602.2 245.1 603.4 245.2 604.5 245 605.9 244.4 607.3 243.3 608.6 242 610 240.8 611.4 239.9 612.8 239.2 614.2 238.7 615.5 238.3 616.9 238.1 618.3 238.1 619.8 238.3 621.2 238.8 622.6 239.5 624.1 240.4 625.5 241.7 627 243.4 628.5 245.2 629.9 246.8 631.3 248.2 632.7 249.7 634 251 635.4 252.3 636.8 253.3 638.2 254.2 639.6 254.9 640.9 255.4 642.3 255.9 643.7 256.1 645.1 256.2 646.5 256.1 647.8 255.8 649.2 255.4 650.6 254.9 652 254.2 653.4 253.3 654.7 252.2 656.1 251.2 657.5 250.3 658.9 249.5 660.3 248.7 661.6 248 663 247.3 664.4 246.8 665.7 246.5 667.1 246.3 668.4 246.3 669.7 246.3 671 246.4 672.4 246.4 673.7 246.4 675 246.3 676.3 246.3 677.6 246.3 679 246.2 680.3 246.1 681.6 245.9 682.9 245.7 684.2 245.4 685.5 245 686.8 244.5 688.2 244 689.5 243.4 690.8 242.8 692.1 242.2 693.4 241.5 694.7 240.8 696 240 697.4 239.1 698.7 238.4 700 237.7 701.3 237.1 702.6 236.7 703.9 236.3 705.2 236 706.6 235.8 707.9 235.6 709.2 235.4 710.5 235.3 712 235.2 713.4 235.2 714.9 235.3 716.3 235.4 717.8 235.4 719.2 235.5 720.6 235.5 722.1 235.3 723.5 235 725 234.6 726.4 234.1 727.9 233.6 729.3 233.1 730.7 232.6 732.2 232.1 733.6 231.8 734.9 231.5 736.2 231.3 737.5 231 738.9 230.9 740.2 230.7 741.5 230.7 742.8 230.7 744.1 230.8 745.5 231 746.8 231.2 748.2 231.5 749.5 232 750.9 232.5 752.2 233.2 753.6 234.1 755 235.1 756.3 236.1 757.6 237.1 759 238.1 760.3 239 761.7 240 763 241 764.3 241.9 765.7 242.7 767 243.4 768.4 243.9 769.7 244.3 771 244.6 772.4 244.7 773.8 244.9 775.1 245 776.5 245.1 778 245 779.4 244.9 780.9 244.7 782.3 244.5 783.7 244.3 785.2 244.2 786.6 244.1 788.1 244.1 789.5 244.2 791 244.2 792.4 244.3 793.9 244.5 795.3 244.6 796.8 244.8 798.2 245 799.6 245.2 801.1 245.5 802.5 245.8 804 246.1 805.4 246.4 806.8 246.8 808.3 247 809.7 247.3 811.1 247.5 812.6 247.8 814 248 815.5 248.2 816.9 248.4 818.3 248.5 819.8 248.7 821.2 248.7 822.5 248.7 823.8 248.7 825.1 248.6 826.5 248.5 827.8 248.4 829.1 248.2 830.4 248 831.9 247.7 833.3 247.3 834.8 246.8 836.2 246.4" fill="none" stroke="#2b2626" stroke-opacity="0.75" stroke-width="4.1" stroke-linejoin="round" stroke-linecap="butt"/>
<text transform="translate(74 109.6) scale(1 1.04)" text-anchor="end" font-size="26.4" fill="#424347" stroke="#424347" stroke-width="0.6">0.6</text>
<text transform="translate(74 212.1) scale(1 1.04)" text-anchor="end" font-size="26.4" fill="#424347" stroke="#424347" stroke-width="0.6">0.4</text>
<text transform="translate(74 314.5) scale(1 1.04)" text-anchor="end" font-size="26.4" fill="#424347" stroke="#424347" stroke-width="0.6">0.2</text>
<text transform="translate(159.6 438.1) scale(1 1.04)" text-anchor="middle" font-size="26.4" fill="#424347" stroke="#424347" stroke-width="0.6">2010</text>
<text transform="translate(314.7 438.1) scale(1 1.04)" text-anchor="middle" font-size="26.4" fill="#424347" stroke="#424347" stroke-width="0.6">2011</text>
<text transform="translate(469.7 438.1) scale(1 1.04)" text-anchor="middle" font-size="26.4" fill="#424347" stroke="#424347" stroke-width="0.6">2012</text>
<text transform="translate(624.8 438.1) scale(1 1.04)" text-anchor="middle" font-size="26.4" fill="#424347" stroke="#424347" stroke-width="0.6">2013</text>
<text transform="translate(779.8 438.1) scale(1 1.04)" text-anchor="middle" font-size="26.4" fill="#424347" stroke="#424347" stroke-width="0.6">2014</text>
<text transform="translate(479 473) scale(1 1.03)" text-anchor="middle" font-size="32" fill="#000" stroke="#000" stroke-width="0.4">Time</text>
<text transform="translate(22.8 203) rotate(-90) scale(0.985 1.04)" text-anchor="middle" font-size="32" fill="#000" stroke="#000" stroke-width="0.4">Radiation (mGy)</text>
<!-- p2 -->
<path d="M965.1 81.6H1772M965.1 165H1772M965.1 248.4H1772M965.1 331.8H1772M1120 0V405.6M1279.3 0V405.6M1438.7 0V405.6M1598 0V405.6M1757.4 0V405.6" stroke="#ebebeb" stroke-width="1.5" fill="none"/>
<path d="M965.1 39.9H1772M965.1 123.3H1772M965.1 206.7H1772M965.1 290.1H1772M965.1 373.5H1772M1040.3 0V405.6M1199.6 0V405.6M1359 0V405.6M1518.3 0V405.6M1677.7 0V405.6" stroke="#ebebeb" stroke-width="3.0" fill="none"/>
<g fill="none" stroke="#a8bce6" stroke-width="2.35"><circle cx="1002.7" cy="83" r="5.25"/><circle cx="1035.9" cy="42.8" r="5.25"/><circle cx="1035.9" cy="46.7" r="5.25"/><circle cx="1035.6" cy="71.3" r="5.25"/><circle cx="1035.6" cy="73.9" r="5.25"/><circle cx="1112.4" cy="18.7" r="5.25"/><circle cx="1112.4" cy="22" r="5.25"/><circle cx="1112.9" cy="46.7" r="5.25"/><circle cx="1112.4" cy="64.8" r="5.25"/><circle cx="1112.1" cy="72.6" r="5.25"/><circle cx="1112.9" cy="101.2" r="5.25"/><circle cx="1138.1" cy="99.9" r="5.25"/><circle cx="1080" cy="113.6" r="5.25"/><circle cx="1088.3" cy="123.2" r="5.25"/><circle cx="1088.3" cy="127.1" r="5.25"/><circle cx="1077.1" cy="131.5" r="5.25"/><circle cx="1061.8" cy="138" r="5.25"/><circle cx="1111.6" cy="136.2" r="5.25"/><circle cx="1002.7" cy="121.9" r="5.25"/><circle cx="1004" cy="122.5" r="5.25"/><circle cx="1001.9" cy="141.4" r="5.25"/><circle cx="1003" cy="141.5" r="5.25"/><circle cx="1029.4" cy="133.6" r="5.25"/><circle cx="1024.2" cy="145.2" r="5.25"/><circle cx="1030.4" cy="148.4" r="5.25"/><circle cx="1042.1" cy="148.4" r="5.25"/><circle cx="1009.9" cy="152.5" r="5.25"/><circle cx="1015.1" cy="156.1" r="5.25"/><circle cx="1024" cy="164.7" r="5.25"/><circle cx="1238.7" cy="162.1" r="5.25"/><circle cx="1238.7" cy="169.1" r="5.25"/><circle cx="1143.3" cy="151" r="5.25"/><circle cx="1062" cy="137.8" r="5.25"/><circle cx="1061.5" cy="162.9" r="5.25"/><circle cx="1061.5" cy="168.9" r="5.25"/><circle cx="1028.8" cy="175.8" r="5.25"/><circle cx="1007.5" cy="175.3" r="5.25"/><circle cx="1006.7" cy="199.2" r="5.25"/><circle cx="1018.8" cy="208.7" r="5.25"/><circle cx="1017" cy="192.2" r="5.25"/><circle cx="1021" cy="184" r="5.25"/><circle cx="1012" cy="180" r="5.25"/><circle cx="1002.4" cy="226.2" r="5.25"/><circle cx="1010.8" cy="222.4" r="5.25"/><circle cx="1001" cy="237.8" r="5.25"/><circle cx="1013.7" cy="222" r="5.25"/><circle cx="1015.9" cy="221.4" r="5.25"/><circle cx="1001" cy="216.8" r="5.25"/><circle cx="1014.7" cy="228.3" r="5.25"/><circle cx="1010.1" cy="220.5" r="5.25"/><circle cx="1017.8" cy="216.2" r="5.25"/><circle cx="1012.4" cy="235.9" r="5.25"/><circle cx="1009.9" cy="237.4" r="5.25"/><circle cx="1011.7" cy="218.4" r="5.25"/><circle cx="1015.6" cy="213.5" r="5.25"/><circle cx="1012" cy="231.8" r="5.25"/><circle cx="1011.3" cy="215.1" r="5.25"/><circle cx="1004.2" cy="238" r="5.25"/><circle cx="1017.1" cy="254.4" r="5.25"/><circle cx="1024.2" cy="251.6" r="5.25"/><circle cx="1009.5" cy="254.1" r="5.25"/><circle cx="1017.7" cy="266.3" r="5.25"/><circle cx="1025.1" cy="250.3" r="5.25"/><circle cx="1020.8" cy="256.4" r="5.25"/><circle cx="1014.5" cy="250" r="5.25"/><circle cx="1030" cy="265.6" r="5.25"/><circle cx="1022.8" cy="254.9" r="5.25"/><circle cx="1050.9" cy="277.9" r="5.25"/><circle cx="1049" cy="251.3" r="5.25"/><circle cx="1041.8" cy="243" r="5.25"/><circle cx="1049.9" cy="234.2" r="5.25"/><circle cx="1051.4" cy="258.1" r="5.25"/><circle cx="1038.3" cy="244.9" r="5.25"/><circle cx="1049.9" cy="244.6" r="5.25"/><circle cx="1057" cy="267.2" r="5.25"/><circle cx="1043.6" cy="239.8" r="5.25"/><circle cx="1049.5" cy="243.5" r="5.25"/><circle cx="1037.1" cy="255.9" r="5.25"/><circle cx="1048.4" cy="267.9" r="5.25"/><circle cx="1041.8" cy="245.1" r="5.25"/><circle cx="1050.3" cy="250.9" r="5.25"/><circle cx="1045.2" cy="248.8" r="5.25"/><circle cx="1038.1" cy="261.8" r="5.25"/><circle cx="1052.4" cy="275.7" r="5.25"/><circle cx="1044.1" cy="230.4" r="5.25"/><circle cx="1039.1" cy="245.4" r="5.25"/><circle cx="1045.9" cy="247" r="5.25"/><circle cx="1039.4" cy="258.9" r="5.25"/><circle cx="1048" cy="275.9" r="5.25"/><circle cx="1045.1" cy="247.6" r="5.25"/><circle cx="1043.1" cy="251.9" r="5.25"/><circle cx="1049.7" cy="269.1" r="5.25"/><circle cx="1037.4" cy="224.6" r="5.25"/><circle cx="1051.6" cy="233.5" r="5.25"/><circle cx="1032.8" cy="239.4" r="5.25"/><circle cx="1046.4" cy="267.7" r="5.25"/><circle cx="1047.7" cy="254.6" r="5.25"/><circle cx="1043.4" cy="238.7" r="5.25"/><circle cx="1056.6" cy="245.1" r="5.25"/><circle cx="1042.3" cy="241.7" r="5.25"/><circle cx="1045.2" cy="256.8" r="5.25"/><circle cx="1052.7" cy="270.1" r="5.25"/><circle cx="1050.9" cy="255.5" r="5.25"/><circle cx="1046.3" cy="246.3" r="5.25"/><circle cx="1048.6" cy="250.3" r="5.25"/><circle cx="1051.1" cy="261.4" r="5.25"/><circle cx="1046.3" cy="236" r="5.25"/><circle cx="1050.1" cy="266.8" r="5.25"/><circle cx="1041" cy="264.6" r="5.25"/><circle cx="1046.8" cy="236" r="5.25"/><circle cx="1036.8" cy="273.6" r="5.25"/><circle cx="1041.1" cy="240.6" r="5.25"/><circle cx="1039.7" cy="257.2" r="5.25"/><circle cx="1053.6" cy="273.5" r="5.25"/><circle cx="1043.6" cy="240.5" r="5.25"/><circle cx="1048.1" cy="238" r="5.25"/><circle cx="1040.9" cy="246.5" r="5.25"/><circle cx="1045.1" cy="246.9" r="5.25"/><circle cx="1044.7" cy="257.9" r="5.25"/><circle cx="1041.3" cy="253.4" r="5.25"/><circle cx="1051.3" cy="253.7" r="5.25"/><circle cx="1036.6" cy="253.8" r="5.25"/><circle cx="1049.9" cy="257.3" r="5.25"/><circle cx="1057" cy="249.4" r="5.25"/><circle cx="1041.5" cy="263.3" r="5.25"/><circle cx="1046.4" cy="259.4" r="5.25"/><circle cx="1037.1" cy="247.5" r="5.25"/><circle cx="1046.1" cy="280.9" r="5.25"/><circle cx="1036.1" cy="244.5" r="5.25"/><circle cx="1081.4" cy="197.8" r="5.25"/><circle cx="1068.2" cy="246" r="5.25"/><circle cx="1078.1" cy="196" r="5.25"/><circle cx="1079.5" cy="196" r="5.25"/><circle cx="1082.6" cy="275.4" r="5.25"/><circle cx="1087.6" cy="263.5" r="5.25"/><circle cx="1067.4" cy="230.4" r="5.25"/><circle cx="1092" cy="238.9" r="5.25"/><circle cx="1078.6" cy="242.5" r="5.25"/><circle cx="1067.7" cy="262.6" r="5.25"/><circle cx="1062.9" cy="223.6" r="5.25"/><circle cx="1092" cy="221.2" r="5.25"/><circle cx="1089.7" cy="226.7" r="5.25"/><circle cx="1074.9" cy="243.6" r="5.25"/><circle cx="1081.9" cy="246.3" r="5.25"/><circle cx="1086.9" cy="231.9" r="5.25"/><circle cx="1076" cy="257.2" r="5.25"/><circle cx="1071.3" cy="218.1" r="5.25"/><circle cx="1074.8" cy="238.9" r="5.25"/><circle cx="1082.6" cy="225.3" r="5.25"/><circle cx="1075.3" cy="218.4" r="5.25"/><circle cx="1064.2" cy="267.5" r="5.25"/><circle cx="1081.9" cy="233.5" r="5.25"/><circle cx="1059.7" cy="218.4" r="5.25"/><circle cx="1068.5" cy="241.4" r="5.25"/><circle cx="1086.2" cy="218.5" r="5.25"/><circle cx="1077.3" cy="253.6" r="5.25"/><circle cx="1077.3" cy="259.2" r="5.25"/><circle cx="1076.1" cy="263.1" r="5.25"/><circle cx="1084.4" cy="217.3" r="5.25"/><circle cx="1074.7" cy="237.3" r="5.25"/><circle cx="1091.7" cy="276" r="5.25"/><circle cx="1075.9" cy="280.2" r="5.25"/><circle cx="1087.2" cy="261.7" r="5.25"/><circle cx="1089.3" cy="265" r="5.25"/><circle cx="1067" cy="270.8" r="5.25"/><circle cx="1086.8" cy="268.4" r="5.25"/><circle cx="1083.3" cy="260.8" r="5.25"/><circle cx="1084.3" cy="244.6" r="5.25"/><circle cx="1090.5" cy="253.2" r="5.25"/><circle cx="1081.1" cy="244.1" r="5.25"/><circle cx="1078.2" cy="280.2" r="5.25"/><circle cx="1082.3" cy="257" r="5.25"/><circle cx="1074.9" cy="259.6" r="5.25"/><circle cx="1081.4" cy="265" r="5.25"/><circle cx="1062.1" cy="261.9" r="5.25"/><circle cx="1090.8" cy="267.9" r="5.25"/><circle cx="1073.5" cy="254.3" r="5.25"/><circle cx="1081.7" cy="243.8" r="5.25"/><circle cx="1080" cy="282.2" r="5.25"/><circle cx="1078.4" cy="253.2" r="5.25"/><circle cx="1078.4" cy="256" r="5.25"/><circle cx="1078.1" cy="252.2" r="5.25"/><circle cx="1065" cy="255.1" r="5.25"/><circle cx="1073.4" cy="261.8" r="5.25"/><circle cx="1086.7" cy="270.3" r="5.25"/><circle cx="1069.7" cy="249.2" r="5.25"/><circle cx="1069.5" cy="264.9" r="5.25"/><circle cx="1092" cy="253.6" r="5.25"/><circle cx="1108.7" cy="176.5" r="5.25"/><circle cx="1080.8" cy="167.5" r="5.25"/><circle cx="1096.1" cy="177.7" r="5.25"/><circle cx="1103.1" cy="218" r="5.25"/><circle cx="1079.4" cy="168.8" r="5.25"/><circle cx="1096.2" cy="169.5" r="5.25"/><circle cx="1096.6" cy="179.8" r="5.25"/><circle cx="1085.8" cy="181.6" r="5.25"/><circle cx="1092.4" cy="150" r="5.25"/><circle cx="1106.2" cy="137.7" r="5.25"/><circle cx="1097.6" cy="163.1" r="5.25"/><circle cx="1090.1" cy="170.9" r="5.25"/><circle cx="1092.4" cy="158.7" r="5.25"/><circle cx="1099.9" cy="154" r="5.25"/><circle cx="1109.3" cy="155.3" r="5.25"/><circle cx="1103.9" cy="166.9" r="5.25"/><circle cx="1103.1" cy="172.7" r="5.25"/><circle cx="1112.6" cy="140.5" r="5.25"/><circle cx="1077.2" cy="163.5" r="5.25"/><circle cx="1078.4" cy="182.7" r="5.25"/><circle cx="1072" cy="172.4" r="5.25"/><circle cx="1104.2" cy="146.1" r="5.25"/><circle cx="1072" cy="167.4" r="5.25"/><circle cx="1094.2" cy="174.6" r="5.25"/><circle cx="1103.3" cy="191.3" r="5.25"/><circle cx="1078.8" cy="140.4" r="5.25"/><circle cx="1087.2" cy="189.5" r="5.25"/><circle cx="1091.7" cy="165.1" r="5.25"/><circle cx="1102.9" cy="179.2" r="5.25"/><circle cx="1077.4" cy="189.4" r="5.25"/><circle cx="1098.3" cy="156.4" r="5.25"/><circle cx="1102.5" cy="157.7" r="5.25"/><circle cx="1096.2" cy="172.4" r="5.25"/><circle cx="1096.4" cy="190.3" r="5.25"/><circle cx="1108.8" cy="163.3" r="5.25"/><circle cx="1097.1" cy="144.8" r="5.25"/><circle cx="1094.3" cy="160" r="5.25"/><circle cx="1090.8" cy="182.9" r="5.25"/><circle cx="1102" cy="199.4" r="5.25"/><circle cx="1091.3" cy="164" r="5.25"/><circle cx="1102" cy="167.8" r="5.25"/><circle cx="1095.7" cy="170.9" r="5.25"/><circle cx="1107.4" cy="171.8" r="5.25"/><circle cx="1085.6" cy="154.6" r="5.25"/><circle cx="1095.4" cy="165.3" r="5.25"/><circle cx="1098.5" cy="179.2" r="5.25"/><circle cx="1099.2" cy="176.8" r="5.25"/><circle cx="1107.4" cy="175.1" r="5.25"/><circle cx="1099" cy="153.3" r="5.25"/><circle cx="1104.8" cy="162.9" r="5.25"/><circle cx="1116.7" cy="159.5" r="5.25"/><circle cx="1104.1" cy="196.8" r="5.25"/><circle cx="1082.6" cy="205.3" r="5.25"/><circle cx="1078.4" cy="181.8" r="5.25"/><circle cx="1102.1" cy="208.3" r="5.25"/><circle cx="1090.3" cy="168.4" r="5.25"/><circle cx="1097.8" cy="168.5" r="5.25"/><circle cx="1092.6" cy="147.2" r="5.25"/><circle cx="1109.3" cy="179.5" r="5.25"/><circle cx="1108.1" cy="165" r="5.25"/><circle cx="1081.8" cy="176.6" r="5.25"/><circle cx="1097.6" cy="184.9" r="5.25"/><circle cx="1091.1" cy="169.5" r="5.25"/><circle cx="1079.8" cy="151" r="5.25"/><circle cx="1101.8" cy="173.7" r="5.25"/><circle cx="1092.9" cy="173.2" r="5.25"/><circle cx="1099.5" cy="175.3" r="5.25"/><circle cx="1117" cy="189" r="5.25"/><circle cx="1109.5" cy="170.2" r="5.25"/><circle cx="1107" cy="169.1" r="5.25"/><circle cx="1089.9" cy="211.3" r="5.25"/><circle cx="1081.2" cy="197.4" r="5.25"/><circle cx="1108.6" cy="172.9" r="5.25"/><circle cx="1091.1" cy="155.1" r="5.25"/><circle cx="1091" cy="168" r="5.25"/><circle cx="1098" cy="200" r="5.25"/><circle cx="1101.9" cy="172" r="5.25"/><circle cx="1112" cy="166" r="5.25"/><circle cx="1092.7" cy="194.5" r="5.25"/><circle cx="1096.1" cy="186.9" r="5.25"/><circle cx="1091.8" cy="192.2" r="5.25"/><circle cx="1095.5" cy="199.2" r="5.25"/><circle cx="1091.6" cy="188.4" r="5.25"/><circle cx="1085.9" cy="190.3" r="5.25"/><circle cx="1103.5" cy="154" r="5.25"/><circle cx="1096" cy="165.1" r="5.25"/><circle cx="1105.7" cy="180.8" r="5.25"/><circle cx="1090.7" cy="177.9" r="5.25"/><circle cx="1097.1" cy="184.2" r="5.25"/><circle cx="1100.5" cy="169.5" r="5.25"/><circle cx="1079.2" cy="189.1" r="5.25"/><circle cx="1083.9" cy="200" r="5.25"/><circle cx="1101.3" cy="182.7" r="5.25"/><circle cx="1095.8" cy="185.8" r="5.25"/><circle cx="1079.6" cy="181.8" r="5.25"/><circle cx="1088.8" cy="187" r="5.25"/><circle cx="1086.2" cy="178.2" r="5.25"/><circle cx="1091" cy="169.3" r="5.25"/><circle cx="1108" cy="178" r="5.25"/><circle cx="1132.6" cy="203.8" r="5.25"/><circle cx="1115.6" cy="198.5" r="5.25"/><circle cx="1133.9" cy="198.5" r="5.25"/><circle cx="1131.8" cy="171.2" r="5.25"/><circle cx="1133.7" cy="194.1" r="5.25"/><circle cx="1125.8" cy="158" r="5.25"/><circle cx="1136.5" cy="158" r="5.25"/><circle cx="1138" cy="189.5" r="5.25"/><circle cx="1124.2" cy="191.1" r="5.25"/><circle cx="1134.8" cy="223.8" r="5.25"/><circle cx="1139.6" cy="208" r="5.25"/><circle cx="1139.2" cy="216.5" r="5.25"/><circle cx="1121.9" cy="189.5" r="5.25"/><circle cx="1120.8" cy="203.9" r="5.25"/><circle cx="1131.7" cy="217.6" r="5.25"/><circle cx="1120.5" cy="205.6" r="5.25"/><circle cx="1152" cy="202.3" r="5.25"/><circle cx="1122.9" cy="197.6" r="5.25"/><circle cx="1123" cy="178.2" r="5.25"/><circle cx="1137.9" cy="178.7" r="5.25"/><circle cx="1126.3" cy="168.5" r="5.25"/><circle cx="1110" cy="203.5" r="5.25"/><circle cx="1129.6" cy="190.6" r="5.25"/><circle cx="1120.8" cy="183" r="5.25"/><circle cx="1125.6" cy="202.6" r="5.25"/><circle cx="1114.2" cy="185" r="5.25"/><circle cx="1121.5" cy="215.7" r="5.25"/><circle cx="1129.2" cy="232.2" r="5.25"/><circle cx="1130" cy="204.5" r="5.25"/><circle cx="1119.2" cy="182.9" r="5.25"/><circle cx="1123.3" cy="167.6" r="5.25"/><circle cx="1121.8" cy="234.2" r="5.25"/><circle cx="1132.1" cy="204.6" r="5.25"/><circle cx="1129.1" cy="173.7" r="5.25"/><circle cx="1117.6" cy="216.5" r="5.25"/><circle cx="1137.2" cy="164.3" r="5.25"/><circle cx="1123.3" cy="187.7" r="5.25"/><circle cx="1134.5" cy="191.5" r="5.25"/><circle cx="1121" cy="189.2" r="5.25"/><circle cx="1133.5" cy="174.4" r="5.25"/><circle cx="1129.2" cy="235" r="5.25"/><circle cx="1131" cy="188.5" r="5.25"/><circle cx="1135.6" cy="203.4" r="5.25"/><circle cx="1135.6" cy="200.6" r="5.25"/><circle cx="1123.9" cy="201.8" r="5.25"/><circle cx="1131.4" cy="188.5" r="5.25"/><circle cx="1136.9" cy="172.5" r="5.25"/><circle cx="1142" cy="173.1" r="5.25"/><circle cx="1132.9" cy="190.2" r="5.25"/><circle cx="1138" cy="196.8" r="5.25"/><circle cx="1132.9" cy="182.1" r="5.25"/><circle cx="1139.6" cy="210.5" r="5.25"/><circle cx="1121" cy="206.4" r="5.25"/><circle cx="1139.7" cy="201.3" r="5.25"/><circle cx="1130.9" cy="173.6" r="5.25"/><circle cx="1131.2" cy="195.9" r="5.25"/><circle cx="1121" cy="198.6" r="5.25"/><circle cx="1127.7" cy="180.8" r="5.25"/><circle cx="1139.8" cy="170" r="5.25"/><circle cx="1150" cy="226.7" r="5.25"/><circle cx="1130.3" cy="208" r="5.25"/><circle cx="1130.7" cy="193.4" r="5.25"/><circle cx="1138.9" cy="222.1" r="5.25"/><circle cx="1137.5" cy="215.1" r="5.25"/><circle cx="1131.2" cy="205.5" r="5.25"/><circle cx="1134.2" cy="202.3" r="5.25"/><circle cx="1132.7" cy="210.3" r="5.25"/><circle cx="1139.9" cy="220.2" r="5.25"/><circle cx="1141.1" cy="200" r="5.25"/><circle cx="1148.1" cy="195.7" r="5.25"/><circle cx="1142" cy="207.4" r="5.25"/><circle cx="1140.2" cy="170" r="5.25"/><circle cx="1136.6" cy="200.3" r="5.25"/><circle cx="1142.2" cy="193.1" r="5.25"/><circle cx="1128.4" cy="198.7" r="5.25"/><circle cx="1150" cy="196.3" r="5.25"/><circle cx="1137.5" cy="203.9" r="5.25"/><circle cx="1145.6" cy="200.5" r="5.25"/><circle cx="1129.7" cy="200" r="5.25"/><circle cx="1142.9" cy="197.1" r="5.25"/><circle cx="1138.4" cy="205.6" r="5.25"/><circle cx="1134.1" cy="191.6" r="5.25"/><circle cx="1130.7" cy="213.2" r="5.25"/><circle cx="1129.1" cy="174.6" r="5.25"/><circle cx="1148.5" cy="201.9" r="5.25"/><circle cx="1144.3" cy="205.5" r="5.25"/><circle cx="1099.2" cy="245.5" r="5.25"/><circle cx="1107" cy="240.7" r="5.25"/><circle cx="1114.8" cy="240.7" r="5.25"/><circle cx="1118.2" cy="243.3" r="5.25"/><circle cx="1130.3" cy="247.6" r="5.25"/><circle cx="1131.2" cy="249.3" r="5.25"/><circle cx="1139.8" cy="247.6" r="5.25"/><circle cx="1101" cy="268.3" r="5.25"/><circle cx="1107.9" cy="276" r="5.25"/><circle cx="1137" cy="273.5" r="5.25"/><circle cx="1027.4" cy="303.2" r="5.25"/><circle cx="1027.1" cy="362" r="5.25"/><circle cx="1059.1" cy="315" r="5.25"/><circle cx="1059.1" cy="340.8" r="5.25"/><circle cx="1080.5" cy="289.7" r="5.25"/><circle cx="1080.5" cy="297.7" r="5.25"/><circle cx="1082" cy="277.3" r="5.25"/><circle cx="1100.9" cy="268.3" r="5.25"/><circle cx="1108.2" cy="277.3" r="5.25"/><circle cx="1107.9" cy="286.3" r="5.25"/><circle cx="1099.2" cy="303.2" r="5.25"/><circle cx="1008" cy="262" r="5.25"/><circle cx="1014" cy="268" r="5.25"/><circle cx="1022" cy="264" r="5.25"/><circle cx="1165.3" cy="202.3" r="5.25"/><circle cx="1171.4" cy="219.9" r="5.25"/><circle cx="1184.1" cy="196" r="5.25"/><circle cx="1173.5" cy="235.7" r="5.25"/><circle cx="1168.1" cy="221.3" r="5.25"/><circle cx="1160" cy="188.9" r="5.25"/><circle cx="1177" cy="164" r="5.25"/><circle cx="1175.2" cy="168.3" r="5.25"/><circle cx="1178.9" cy="248.2" r="5.25"/><circle cx="1189" cy="211.5" r="5.25"/><circle cx="1174.5" cy="216.6" r="5.25"/><circle cx="1175.5" cy="202.6" r="5.25"/><circle cx="1169.5" cy="222.6" r="5.25"/><circle cx="1174.1" cy="165.9" r="5.25"/><circle cx="1174.3" cy="164" r="5.25"/><circle cx="1180" cy="172.9" r="5.25"/><circle cx="1178.5" cy="214.6" r="5.25"/><circle cx="1169" cy="230.2" r="5.25"/><circle cx="1171.1" cy="224.6" r="5.25"/><circle cx="1184.5" cy="209.8" r="5.25"/><circle cx="1167.5" cy="181.5" r="5.25"/><circle cx="1179.9" cy="232.4" r="5.25"/><circle cx="1186.3" cy="206" r="5.25"/><circle cx="1179.2" cy="212.4" r="5.25"/><circle cx="1176.3" cy="211.1" r="5.25"/><circle cx="1184.4" cy="201.4" r="5.25"/><circle cx="1177.1" cy="195.2" r="5.25"/><circle cx="1174.4" cy="198.4" r="5.25"/><circle cx="1173" cy="181.2" r="5.25"/><circle cx="1182.8" cy="219" r="5.25"/><circle cx="1179.5" cy="208.6" r="5.25"/><circle cx="1185.7" cy="237.8" r="5.25"/><circle cx="1172.1" cy="168.5" r="5.25"/><circle cx="1172.2" cy="241.6" r="5.25"/><circle cx="1174.6" cy="204.1" r="5.25"/><circle cx="1174.1" cy="228" r="5.25"/><circle cx="1170.5" cy="194.3" r="5.25"/><circle cx="1170.5" cy="219.4" r="5.25"/><circle cx="1166.8" cy="221.1" r="5.25"/><circle cx="1179.9" cy="191.8" r="5.25"/><circle cx="1173.8" cy="214.9" r="5.25"/><circle cx="1178.9" cy="208.2" r="5.25"/><circle cx="1179.5" cy="215" r="5.25"/><circle cx="1172.2" cy="191.2" r="5.25"/><circle cx="1173.7" cy="207.8" r="5.25"/><circle cx="1173.1" cy="193.7" r="5.25"/><circle cx="1180.6" cy="201.2" r="5.25"/><circle cx="1175.7" cy="221.3" r="5.25"/><circle cx="1175.9" cy="203.4" r="5.25"/><circle cx="1178.9" cy="182" r="5.25"/><circle cx="1195.6" cy="197.4" r="5.25"/><circle cx="1198" cy="233.1" r="5.25"/><circle cx="1217.9" cy="222.6" r="5.25"/><circle cx="1202" cy="223.2" r="5.25"/><circle cx="1194.1" cy="205.1" r="5.25"/><circle cx="1218.8" cy="204.3" r="5.25"/><circle cx="1210.8" cy="215.4" r="5.25"/><circle cx="1211.7" cy="238.2" r="5.25"/><circle cx="1201.1" cy="234.7" r="5.25"/><circle cx="1221.7" cy="214.3" r="5.25"/><circle cx="1207.4" cy="234.6" r="5.25"/><circle cx="1190.2" cy="265" r="5.25"/><circle cx="1198" cy="230.7" r="5.25"/><circle cx="1200.7" cy="270" r="5.25"/><circle cx="1207" cy="237.5" r="5.25"/><circle cx="1215.6" cy="256.1" r="5.25"/><circle cx="1201.8" cy="217.5" r="5.25"/><circle cx="1202.9" cy="252.9" r="5.25"/><circle cx="1227" cy="203.9" r="5.25"/><circle cx="1209.3" cy="233.5" r="5.25"/><circle cx="1203.6" cy="221.5" r="5.25"/><circle cx="1208.8" cy="187.1" r="5.25"/><circle cx="1196.9" cy="200.2" r="5.25"/><circle cx="1213.4" cy="252" r="5.25"/><circle cx="1217.5" cy="238.7" r="5.25"/><circle cx="1203.1" cy="255.4" r="5.25"/><circle cx="1217.8" cy="232.5" r="5.25"/><circle cx="1205.8" cy="187" r="5.25"/><circle cx="1211.2" cy="233.7" r="5.25"/><circle cx="1201.6" cy="216.6" r="5.25"/><circle cx="1201.1" cy="218" r="5.25"/><circle cx="1160.8" cy="355" r="5.25"/><circle cx="1160.3" cy="359.2" r="5.25"/><circle cx="1160.1" cy="354.2" r="5.25"/><circle cx="1163.4" cy="348.6" r="5.25"/><circle cx="1162.2" cy="338.9" r="5.25"/><circle cx="1160.5" cy="335.3" r="5.25"/><circle cx="1160.9" cy="357.6" r="5.25"/><circle cx="1163" cy="350.8" r="5.25"/><circle cx="1162.1" cy="337.3" r="5.25"/><circle cx="1161.8" cy="336.3" r="5.25"/><circle cx="1159.7" cy="346" r="5.25"/><circle cx="1160.8" cy="351.2" r="5.25"/><circle cx="1193.8" cy="264.3" r="5.25"/><circle cx="1193.8" cy="288.2" r="5.25"/><circle cx="1191.7" cy="305.8" r="5.25"/><circle cx="1192.6" cy="310.1" r="5.25"/><circle cx="1193.1" cy="315.3" r="5.25"/><circle cx="1186.9" cy="324" r="5.25"/><circle cx="1191.7" cy="328.3" r="5.25"/><circle cx="1189.1" cy="331.8" r="5.25"/><circle cx="1192.6" cy="336.1" r="5.25"/><circle cx="1190" cy="340.4" r="5.25"/><circle cx="1187.9" cy="345.6" r="5.25"/><circle cx="1187.4" cy="351.6" r="5.25"/><circle cx="1213.8" cy="260.9" r="5.25"/><circle cx="1236.7" cy="290.3" r="5.25"/><circle cx="1242.7" cy="292.9" r="5.25"/><circle cx="1243.6" cy="301.5" r="5.25"/><circle cx="1242.7" cy="305.8" r="5.25"/><circle cx="1240.1" cy="320.5" r="5.25"/><circle cx="1241" cy="326.6" r="5.25"/><circle cx="1241" cy="332.6" r="5.25"/><circle cx="1236.7" cy="338.7" r="5.25"/><circle cx="1240.1" cy="351.6" r="5.25"/><circle cx="1241" cy="362" r="5.25"/><circle cx="1233.2" cy="365.5" r="5.25"/><circle cx="1234.9" cy="369.8" r="5.25"/><circle cx="1233.2" cy="374.1" r="5.25"/><circle cx="1234.9" cy="387.4" r="5.25"/><circle cx="1241.6" cy="248.3" r="5.25"/><circle cx="1245.4" cy="257.1" r="5.25"/><circle cx="1241" cy="230.5" r="5.25"/><circle cx="1238.1" cy="257.5" r="5.25"/><circle cx="1240.8" cy="219" r="5.25"/><circle cx="1239.7" cy="252.5" r="5.25"/><circle cx="1245.3" cy="216.8" r="5.25"/><circle cx="1243" cy="241.2" r="5.25"/><circle cx="1242" cy="267" r="5.25"/><circle cx="1241.5" cy="226" r="5.25"/><circle cx="1243.5" cy="222.2" r="5.25"/><circle cx="1239.5" cy="287.2" r="5.25"/><circle cx="1238.2" cy="244.3" r="5.25"/><circle cx="1235.3" cy="214.6" r="5.25"/><circle cx="1244.5" cy="244" r="5.25"/><circle cx="1242.5" cy="231.8" r="5.25"/><circle cx="1242.9" cy="275.4" r="5.25"/><circle cx="1241.1" cy="280.3" r="5.25"/><circle cx="1246" cy="271" r="5.25"/><circle cx="1238" cy="263.9" r="5.25"/><circle cx="1244.6" cy="255.7" r="5.25"/><circle cx="1238.4" cy="214.6" r="5.25"/><circle cx="1239.6" cy="262.1" r="5.25"/><circle cx="1237.3" cy="241" r="5.25"/><circle cx="1241.2" cy="232.5" r="5.25"/><circle cx="1240.1" cy="255.2" r="5.25"/><circle cx="1242.2" cy="229.4" r="5.25"/><circle cx="1239.2" cy="289" r="5.25"/><circle cx="1236.8" cy="257.8" r="5.25"/><circle cx="1242.6" cy="269.9" r="5.25"/><circle cx="1254.1" cy="245.3" r="5.25"/><circle cx="1248.9" cy="219.2" r="5.25"/><circle cx="1249.6" cy="268" r="5.25"/><circle cx="1248.6" cy="220.2" r="5.25"/><circle cx="1248.9" cy="241.9" r="5.25"/><circle cx="1249.4" cy="249.4" r="5.25"/><circle cx="1249.6" cy="240.1" r="5.25"/><circle cx="1244.9" cy="233.2" r="5.25"/><circle cx="1246.2" cy="260.3" r="5.25"/><circle cx="1249.1" cy="246.2" r="5.25"/><circle cx="1252" cy="257.5" r="5.25"/><circle cx="1253.4" cy="263.1" r="5.25"/><circle cx="1259" cy="274.6" r="5.25"/><circle cx="1250.8" cy="244" r="5.25"/><circle cx="1248.1" cy="238.6" r="5.25"/><circle cx="1251" cy="274.3" r="5.25"/><circle cx="1252.5" cy="277.5" r="5.25"/><circle cx="1250.9" cy="271" r="5.25"/><circle cx="1247.3" cy="223.5" r="5.25"/><circle cx="1250.1" cy="273.5" r="5.25"/><circle cx="1250.3" cy="254.9" r="5.25"/><circle cx="1246.2" cy="246.1" r="5.25"/><circle cx="1246.8" cy="218.3" r="5.25"/><circle cx="1254" cy="220.5" r="5.25"/><circle cx="1243.8" cy="270.5" r="5.25"/><circle cx="1266.9" cy="368.5" r="5.25"/><circle cx="1269.4" cy="367.7" r="5.25"/><circle cx="1264.6" cy="369.7" r="5.25"/><circle cx="1265.9" cy="355.5" r="5.25"/><circle cx="1265.2" cy="338.8" r="5.25"/><circle cx="1265.3" cy="331.3" r="5.25"/><circle cx="1265.5" cy="341.5" r="5.25"/><circle cx="1265.8" cy="323.7" r="5.25"/><circle cx="1265.2" cy="335.4" r="5.25"/><circle cx="1269.2" cy="339.9" r="5.25"/><circle cx="1272" cy="215.6" r="5.25"/><circle cx="1273" cy="235.5" r="5.25"/><circle cx="1272" cy="248.4" r="5.25"/><circle cx="1292.4" cy="205.7" r="5.25"/><circle cx="1289.3" cy="220" r="5.25"/><circle cx="1299.7" cy="222.5" r="5.25"/><circle cx="1262" cy="258.4" r="5.25"/><circle cx="1271" cy="248.1" r="5.25"/><circle cx="1276.9" cy="228" r="5.25"/><circle cx="1271.3" cy="275.2" r="5.25"/><circle cx="1268.1" cy="278.5" r="5.25"/><circle cx="1267.6" cy="300" r="5.25"/><circle cx="1262" cy="277" r="5.25"/><circle cx="1265.4" cy="293.2" r="5.25"/><circle cx="1272.3" cy="274.6" r="5.25"/><circle cx="1269.2" cy="257.2" r="5.25"/><circle cx="1271.9" cy="272.8" r="5.25"/><circle cx="1271.3" cy="243.2" r="5.25"/><circle cx="1273.4" cy="268.3" r="5.25"/><circle cx="1263.8" cy="262" r="5.25"/><circle cx="1270.5" cy="245.2" r="5.25"/><circle cx="1270.3" cy="285.8" r="5.25"/><circle cx="1308.7" cy="248" r="5.25"/><circle cx="1302.7" cy="274" r="5.25"/><circle cx="1306" cy="266.3" r="5.25"/><circle cx="1313.6" cy="237.4" r="5.25"/><circle cx="1297.3" cy="247.9" r="5.25"/><circle cx="1286.1" cy="256.8" r="5.25"/><circle cx="1289.8" cy="267.7" r="5.25"/><circle cx="1304.9" cy="231.9" r="5.25"/><circle cx="1300.6" cy="245.1" r="5.25"/><circle cx="1284.9" cy="261.8" r="5.25"/><circle cx="1310.6" cy="259.7" r="5.25"/><circle cx="1300.5" cy="236.8" r="5.25"/><circle cx="1313.3" cy="239.1" r="5.25"/><circle cx="1308.9" cy="258.9" r="5.25"/><circle cx="1294.6" cy="237.2" r="5.25"/><circle cx="1299.4" cy="256" r="5.25"/><circle cx="1291.8" cy="266.2" r="5.25"/><circle cx="1290.9" cy="252.7" r="5.25"/><circle cx="1295.8" cy="222" r="5.25"/><circle cx="1303.2" cy="270" r="5.25"/><circle cx="1311.1" cy="269.7" r="5.25"/><circle cx="1290.4" cy="273.7" r="5.25"/><circle cx="1305" cy="265.3" r="5.25"/><circle cx="1299" cy="227.4" r="5.25"/><circle cx="1296.6" cy="273.7" r="5.25"/><circle cx="1309" cy="257.7" r="5.25"/><circle cx="1295.4" cy="266.5" r="5.25"/><circle cx="1311.3" cy="250.1" r="5.25"/><circle cx="1295.6" cy="248.9" r="5.25"/><circle cx="1290.2" cy="249" r="5.25"/><circle cx="1305.7" cy="276.4" r="5.25"/><circle cx="1285.3" cy="256.6" r="5.25"/><circle cx="1287.8" cy="249.5" r="5.25"/><circle cx="1297" cy="233.4" r="5.25"/><circle cx="1298.8" cy="259.5" r="5.25"/><circle cx="1296.3" cy="252.7" r="5.25"/><circle cx="1280.6" cy="254.9" r="5.25"/><circle cx="1286.5" cy="267.3" r="5.25"/><circle cx="1303.5" cy="263.3" r="5.25"/><circle cx="1303.7" cy="252.6" r="5.25"/><circle cx="1289.5" cy="255.8" r="5.25"/><circle cx="1301.2" cy="253.9" r="5.25"/><circle cx="1300.7" cy="263.3" r="5.25"/><circle cx="1308.1" cy="262.9" r="5.25"/><circle cx="1292" cy="254.6" r="5.25"/><circle cx="1312.2" cy="239.7" r="5.25"/><circle cx="1307.3" cy="301" r="5.25"/><circle cx="1307.9" cy="287.1" r="5.25"/><circle cx="1289.2" cy="320" r="5.25"/><circle cx="1303" cy="299.7" r="5.25"/><circle cx="1295.7" cy="279.1" r="5.25"/><circle cx="1280" cy="290.4" r="5.25"/><circle cx="1298.9" cy="295.4" r="5.25"/><circle cx="1308.3" cy="296.3" r="5.25"/><circle cx="1292.4" cy="297" r="5.25"/><circle cx="1292.6" cy="297.1" r="5.25"/><circle cx="1308.9" cy="288.3" r="5.25"/><circle cx="1288.8" cy="300.1" r="5.25"/><circle cx="1290.3" cy="320" r="5.25"/><circle cx="1296.2" cy="283.7" r="5.25"/><circle cx="1305.1" cy="284.6" r="5.25"/><circle cx="1305.2" cy="300.9" r="5.25"/><circle cx="1294.2" cy="309" r="5.25"/><circle cx="1296.3" cy="302.6" r="5.25"/><circle cx="1300.1" cy="308.5" r="5.25"/><circle cx="1295.5" cy="289.6" r="5.25"/><circle cx="1291" cy="286.9" r="5.25"/><circle cx="1288.9" cy="300.1" r="5.25"/><circle cx="1340.8" cy="237.5" r="5.25"/><circle cx="1342.8" cy="250.9" r="5.25"/><circle cx="1342.5" cy="248.7" r="5.25"/><circle cx="1335.8" cy="241.7" r="5.25"/><circle cx="1341" cy="254.4" r="5.25"/><circle cx="1338.1" cy="230.3" r="5.25"/><circle cx="1335.2" cy="244.1" r="5.25"/><circle cx="1340.2" cy="254.8" r="5.25"/><circle cx="1339.1" cy="244.9" r="5.25"/><circle cx="1342" cy="279.5" r="5.25"/><circle cx="1341.7" cy="282.8" r="5.25"/><circle cx="1354.1" cy="257.1" r="5.25"/><circle cx="1326" cy="340.9" r="5.25"/><circle cx="1316.5" cy="339.7" r="5.25"/><circle cx="1317.6" cy="340.3" r="5.25"/><circle cx="1327.8" cy="338.5" r="5.25"/><circle cx="1335" cy="336.3" r="5.25"/><circle cx="1327.9" cy="336.9" r="5.25"/><circle cx="1322.2" cy="345.1" r="5.25"/><circle cx="1328" cy="327.6" r="5.25"/><circle cx="1310.8" cy="325.4" r="5.25"/><circle cx="1317.9" cy="334.5" r="5.25"/><circle cx="1323.3" cy="344.6" r="5.25"/><circle cx="1326" cy="336.6" r="5.25"/><circle cx="1323.7" cy="332.7" r="5.25"/><circle cx="1324.2" cy="341.8" r="5.25"/><circle cx="1316.2" cy="335.5" r="5.25"/><circle cx="1321.5" cy="318" r="5.25"/><circle cx="1328.7" cy="325.7" r="5.25"/><circle cx="1310.5" cy="317" r="5.25"/><circle cx="1316" cy="332.6" r="5.25"/><circle cx="1323.5" cy="330.6" r="5.25"/><circle cx="1339.4" cy="338.4" r="5.25"/><circle cx="1332.4" cy="352" r="5.25"/><circle cx="1340.1" cy="329.3" r="5.25"/><circle cx="1338.2" cy="334.6" r="5.25"/><circle cx="1322.6" cy="331.2" r="5.25"/><circle cx="1325.9" cy="317" r="5.25"/><circle cx="1316.3" cy="327.9" r="5.25"/><circle cx="1336.7" cy="328.3" r="5.25"/><circle cx="1350.3" cy="362.8" r="5.25"/><circle cx="1345.3" cy="338.3" r="5.25"/><circle cx="1343.2" cy="360.5" r="5.25"/><circle cx="1351.7" cy="350.5" r="5.25"/><circle cx="1348.7" cy="353.3" r="5.25"/><circle cx="1345" cy="358.8" r="5.25"/><circle cx="1345.6" cy="341.4" r="5.25"/><circle cx="1347.7" cy="357.8" r="5.25"/><circle cx="1352.7" cy="338.4" r="5.25"/><circle cx="1387.1" cy="70" r="5.25"/><circle cx="1387.1" cy="92.9" r="5.25"/><circle cx="1386.5" cy="114.9" r="5.25"/><circle cx="1406.5" cy="118.8" r="5.25"/><circle cx="1386.5" cy="143.4" r="5.25"/><circle cx="1387.1" cy="153.8" r="5.25"/><circle cx="1386.5" cy="164.2" r="5.25"/><circle cx="1376.6" cy="160.3" r="5.25"/><circle cx="1369.7" cy="168.9" r="5.25"/><circle cx="1385.3" cy="168" r="5.25"/><circle cx="1433.2" cy="157.4" r="5.25"/><circle cx="1461.2" cy="172.5" r="5.25"/><circle cx="1461.2" cy="182.8" r="5.25"/><circle cx="1461.2" cy="196.6" r="5.25"/><circle cx="1429.9" cy="168.9" r="5.25"/><circle cx="1433.3" cy="176.3" r="5.25"/><circle cx="1430.2" cy="181.9" r="5.25"/><circle cx="1428.5" cy="188.8" r="5.25"/><circle cx="1376.1" cy="226.3" r="5.25"/><circle cx="1370.4" cy="181.7" r="5.25"/><circle cx="1408.3" cy="188.9" r="5.25"/><circle cx="1407.6" cy="195.7" r="5.25"/><circle cx="1394.4" cy="211.9" r="5.25"/><circle cx="1390.8" cy="213.1" r="5.25"/><circle cx="1375.2" cy="211.8" r="5.25"/><circle cx="1409.2" cy="206.5" r="5.25"/><circle cx="1404" cy="197.9" r="5.25"/><circle cx="1396.6" cy="185.2" r="5.25"/><circle cx="1381.5" cy="203.2" r="5.25"/><circle cx="1378" cy="221.5" r="5.25"/><circle cx="1381.9" cy="230.8" r="5.25"/><circle cx="1403.1" cy="201.6" r="5.25"/><circle cx="1369.1" cy="231.8" r="5.25"/><circle cx="1385" cy="185.4" r="5.25"/><circle cx="1407.6" cy="226.1" r="5.25"/><circle cx="1396.5" cy="190.5" r="5.25"/><circle cx="1409.3" cy="215.9" r="5.25"/><circle cx="1389.5" cy="193" r="5.25"/><circle cx="1389.8" cy="192.7" r="5.25"/><circle cx="1404" cy="200.8" r="5.25"/><circle cx="1393.1" cy="238.4" r="5.25"/><circle cx="1388.5" cy="198.5" r="5.25"/><circle cx="1375.8" cy="223.1" r="5.25"/><circle cx="1361.4" cy="214.2" r="5.25"/><circle cx="1405.7" cy="217" r="5.25"/><circle cx="1377.3" cy="217.2" r="5.25"/><circle cx="1372.4" cy="223.2" r="5.25"/><circle cx="1396.5" cy="188.3" r="5.25"/><circle cx="1370.4" cy="212.1" r="5.25"/><circle cx="1363.5" cy="217.9" r="5.25"/><circle cx="1375.1" cy="200.1" r="5.25"/><circle cx="1382.7" cy="218" r="5.25"/><circle cx="1387.7" cy="191.8" r="5.25"/><circle cx="1391.3" cy="225.1" r="5.25"/><circle cx="1398.1" cy="197.9" r="5.25"/><circle cx="1381.9" cy="205.9" r="5.25"/><circle cx="1389.1" cy="226.3" r="5.25"/><circle cx="1382" cy="231.8" r="5.25"/><circle cx="1374.2" cy="200.4" r="5.25"/><circle cx="1389.7" cy="199.1" r="5.25"/><circle cx="1389" cy="230.1" r="5.25"/><circle cx="1411.2" cy="172" r="5.25"/><circle cx="1392.6" cy="236.8" r="5.25"/><circle cx="1373.4" cy="235.9" r="5.25"/><circle cx="1392.6" cy="190.9" r="5.25"/><circle cx="1380" cy="233.9" r="5.25"/><circle cx="1407.2" cy="218.1" r="5.25"/><circle cx="1358.4" cy="220" r="5.25"/><circle cx="1373.9" cy="172" r="5.25"/><circle cx="1374" cy="201.8" r="5.25"/><circle cx="1385.5" cy="207.5" r="5.25"/><circle cx="1381.8" cy="203.4" r="5.25"/><circle cx="1360.2" cy="203.8" r="5.25"/><circle cx="1356.1" cy="205.7" r="5.25"/><circle cx="1386.5" cy="172" r="5.25"/><circle cx="1405.5" cy="207.4" r="5.25"/><circle cx="1405.3" cy="198" r="5.25"/><circle cx="1377.8" cy="209.5" r="5.25"/><circle cx="1390.6" cy="201.7" r="5.25"/><circle cx="1370.9" cy="211.1" r="5.25"/><circle cx="1362.4" cy="216.6" r="5.25"/><circle cx="1401.9" cy="245" r="5.25"/><circle cx="1393.8" cy="195.4" r="5.25"/><circle cx="1378.8" cy="243.4" r="5.25"/><circle cx="1378.3" cy="206.5" r="5.25"/><circle cx="1397.4" cy="194.1" r="5.25"/><circle cx="1388.6" cy="183.5" r="5.25"/><circle cx="1378.8" cy="227.6" r="5.25"/><circle cx="1388" cy="182.2" r="5.25"/><circle cx="1383.7" cy="228.5" r="5.25"/><circle cx="1377.8" cy="217.7" r="5.25"/><circle cx="1373.2" cy="200.2" r="5.25"/><circle cx="1397.5" cy="198.4" r="5.25"/><circle cx="1376.8" cy="220.3" r="5.25"/><circle cx="1366.4" cy="214" r="5.25"/><circle cx="1410.6" cy="225.2" r="5.25"/><circle cx="1402.3" cy="211" r="5.25"/><circle cx="1391.6" cy="201.3" r="5.25"/><circle cx="1382.9" cy="221.3" r="5.25"/><circle cx="1386.7" cy="188.2" r="5.25"/><circle cx="1362.4" cy="227.2" r="5.25"/><circle cx="1383.6" cy="212.1" r="5.25"/><circle cx="1387.9" cy="189.7" r="5.25"/><circle cx="1380.9" cy="191.6" r="5.25"/><circle cx="1390.2" cy="204.8" r="5.25"/><circle cx="1372.5" cy="176.3" r="5.25"/><circle cx="1386.5" cy="237.6" r="5.25"/><circle cx="1360.6" cy="229.5" r="5.25"/><circle cx="1383.4" cy="190.1" r="5.25"/><circle cx="1374.6" cy="208.8" r="5.25"/><circle cx="1364.1" cy="243.5" r="5.25"/><circle cx="1377.8" cy="218.7" r="5.25"/><circle cx="1384" cy="191.6" r="5.25"/><circle cx="1374.9" cy="172" r="5.25"/><circle cx="1397.3" cy="179.6" r="5.25"/><circle cx="1373.3" cy="233.8" r="5.25"/><circle cx="1397.4" cy="217.1" r="5.25"/><circle cx="1394.3" cy="185.9" r="5.25"/><circle cx="1374.7" cy="224.6" r="5.25"/><circle cx="1404.7" cy="204" r="5.25"/><circle cx="1363.5" cy="198.2" r="5.25"/><circle cx="1391.4" cy="201" r="5.25"/><circle cx="1384.5" cy="202.1" r="5.25"/><circle cx="1396.3" cy="212.3" r="5.25"/><circle cx="1369.2" cy="216.9" r="5.25"/><circle cx="1374.8" cy="240" r="5.25"/><circle cx="1392.8" cy="200.4" r="5.25"/><circle cx="1394.6" cy="225.7" r="5.25"/><circle cx="1368.8" cy="218.6" r="5.25"/><circle cx="1400" cy="194.6" r="5.25"/><circle cx="1390.4" cy="204" r="5.25"/><circle cx="1363.6" cy="223.9" r="5.25"/><circle cx="1397.8" cy="192.7" r="5.25"/><circle cx="1363.7" cy="210" r="5.25"/><circle cx="1386.1" cy="225.2" r="5.25"/><circle cx="1367.1" cy="209.3" r="5.25"/><circle cx="1360.5" cy="216.2" r="5.25"/><circle cx="1387.9" cy="203.4" r="5.25"/><circle cx="1383.4" cy="204" r="5.25"/><circle cx="1378.2" cy="204.1" r="5.25"/><circle cx="1381" cy="207.7" r="5.25"/><circle cx="1377.9" cy="221.1" r="5.25"/><circle cx="1376.3" cy="213.6" r="5.25"/><circle cx="1367.9" cy="239.4" r="5.25"/><circle cx="1385.1" cy="220" r="5.25"/><circle cx="1379.2" cy="216.3" r="5.25"/><circle cx="1376.5" cy="240" r="5.25"/><circle cx="1373.1" cy="211" r="5.25"/><circle cx="1376.1" cy="201.5" r="5.25"/><circle cx="1363.2" cy="214.6" r="5.25"/><circle cx="1375.8" cy="197.6" r="5.25"/><circle cx="1368.8" cy="219.5" r="5.25"/><circle cx="1392.4" cy="231.1" r="5.25"/><circle cx="1369.1" cy="221.2" r="5.25"/><circle cx="1374.3" cy="206.9" r="5.25"/><circle cx="1379.2" cy="210.5" r="5.25"/><circle cx="1387.3" cy="219.1" r="5.25"/><circle cx="1383.8" cy="228.6" r="5.25"/><circle cx="1379.2" cy="207" r="5.25"/><circle cx="1400" cy="206.8" r="5.25"/><circle cx="1391.2" cy="256" r="5.25"/><circle cx="1386.6" cy="256.7" r="5.25"/><circle cx="1387.3" cy="270" r="5.25"/><circle cx="1388" cy="246.9" r="5.25"/><circle cx="1381.5" cy="254.7" r="5.25"/><circle cx="1384.7" cy="270" r="5.25"/><circle cx="1391" cy="253.8" r="5.25"/><circle cx="1384.7" cy="256.7" r="5.25"/><circle cx="1384.5" cy="241.6" r="5.25"/><circle cx="1388.7" cy="265.2" r="5.25"/><circle cx="1388.7" cy="292" r="5.25"/><circle cx="1388.7" cy="296.3" r="5.25"/><circle cx="1388.4" cy="306.3" r="5.25"/><circle cx="1437" cy="220.8" r="5.25"/><circle cx="1436.3" cy="216.4" r="5.25"/><circle cx="1435.9" cy="228.3" r="5.25"/><circle cx="1428.2" cy="236.3" r="5.25"/><circle cx="1432.4" cy="240.1" r="5.25"/><circle cx="1429" cy="236.3" r="5.25"/><circle cx="1436.1" cy="216.5" r="5.25"/><circle cx="1429.5" cy="242.9" r="5.25"/><circle cx="1435.6" cy="222.2" r="5.25"/><circle cx="1419.3" cy="230.7" r="5.25"/><circle cx="1427" cy="215.1" r="5.25"/><circle cx="1414" cy="198.8" r="5.25"/><circle cx="1428.4" cy="190" r="5.25"/><circle cx="1435.5" cy="221.2" r="5.25"/><circle cx="1427.6" cy="209" r="5.25"/><circle cx="1445" cy="218.5" r="5.25"/><circle cx="1421.9" cy="231.2" r="5.25"/><circle cx="1427" cy="196.9" r="5.25"/><circle cx="1422.4" cy="193.6" r="5.25"/><circle cx="1425.7" cy="222.2" r="5.25"/><circle cx="1425.9" cy="223.7" r="5.25"/><circle cx="1418.2" cy="214.7" r="5.25"/><circle cx="1422" cy="211.1" r="5.25"/><circle cx="1445" cy="196" r="5.25"/><circle cx="1427.5" cy="217.3" r="5.25"/><circle cx="1436.6" cy="208" r="5.25"/><circle cx="1419.8" cy="224.7" r="5.25"/><circle cx="1428.7" cy="232" r="5.25"/><circle cx="1433.7" cy="210.7" r="5.25"/><circle cx="1428.2" cy="224.4" r="5.25"/><circle cx="1425.6" cy="221.2" r="5.25"/><circle cx="1428.1" cy="228.5" r="5.25"/><circle cx="1429.8" cy="240.3" r="5.25"/><circle cx="1435.9" cy="227.9" r="5.25"/><circle cx="1438.8" cy="228.6" r="5.25"/><circle cx="1419.4" cy="229.8" r="5.25"/><circle cx="1414" cy="212.5" r="5.25"/><circle cx="1428" cy="218.5" r="5.25"/><circle cx="1429.6" cy="223.4" r="5.25"/><circle cx="1435" cy="236.1" r="5.25"/><circle cx="1437.7" cy="236.9" r="5.25"/><circle cx="1424.4" cy="247" r="5.25"/><circle cx="1445" cy="203.1" r="5.25"/><circle cx="1431.5" cy="218" r="5.25"/><circle cx="1415.9" cy="194.1" r="5.25"/><circle cx="1436.9" cy="210.9" r="5.25"/><circle cx="1431.7" cy="195.3" r="5.25"/><circle cx="1431.7" cy="235.1" r="5.25"/><circle cx="1417.3" cy="229.2" r="5.25"/><circle cx="1427.2" cy="203.3" r="5.25"/><circle cx="1419" cy="260.6" r="5.25"/><circle cx="1419" cy="276.1" r="5.25"/><circle cx="1419" cy="262.6" r="5.25"/><circle cx="1419" cy="282.5" r="5.25"/><circle cx="1416.5" cy="330.6" r="5.25"/><circle cx="1418.3" cy="340" r="5.25"/><circle cx="1422.8" cy="322.1" r="5.25"/><circle cx="1418.7" cy="337.1" r="5.25"/><circle cx="1415.6" cy="320.5" r="5.25"/><circle cx="1414.6" cy="319.1" r="5.25"/><circle cx="1417.8" cy="322.7" r="5.25"/><circle cx="1416.4" cy="332" r="5.25"/><circle cx="1412.9" cy="325.7" r="5.25"/><circle cx="1409.6" cy="320" r="5.25"/><circle cx="1419.7" cy="340.6" r="5.25"/><circle cx="1411.8" cy="323.4" r="5.25"/><circle cx="1413.8" cy="330.1" r="5.25"/><circle cx="1418.6" cy="333" r="5.25"/><circle cx="1456.2" cy="229.3" r="5.25"/><circle cx="1462.9" cy="229.3" r="5.25"/><circle cx="1464.9" cy="234.1" r="5.25"/><circle cx="1459.2" cy="246" r="5.25"/><circle cx="1468.3" cy="208.6" r="5.25"/><circle cx="1455.3" cy="213.3" r="5.25"/><circle cx="1451.6" cy="215.3" r="5.25"/><circle cx="1461.6" cy="219.7" r="5.25"/><circle cx="1452.3" cy="234.5" r="5.25"/><circle cx="1463" cy="222" r="5.25"/><circle cx="1459.2" cy="219.5" r="5.25"/><circle cx="1456.3" cy="213.9" r="5.25"/><circle cx="1464.6" cy="219" r="5.25"/><circle cx="1464.3" cy="221" r="5.25"/><circle cx="1444" cy="224.4" r="5.25"/><circle cx="1457.5" cy="210.8" r="5.25"/><circle cx="1461.1" cy="224.7" r="5.25"/><circle cx="1463.9" cy="231.3" r="5.25"/><circle cx="1455.7" cy="229" r="5.25"/><circle cx="1450.9" cy="212.7" r="5.25"/><circle cx="1461" cy="233.9" r="5.25"/><circle cx="1465.4" cy="233.7" r="5.25"/><circle cx="1444" cy="228.5" r="5.25"/><circle cx="1448" cy="212.9" r="5.25"/><circle cx="1455.3" cy="210.4" r="5.25"/><circle cx="1444" cy="225.9" r="5.25"/><circle cx="1455.2" cy="215" r="5.25"/><circle cx="1466.6" cy="211.8" r="5.25"/><circle cx="1451.5" cy="234.6" r="5.25"/><circle cx="1461.1" cy="234.8" r="5.25"/><circle cx="1452.9" cy="232" r="5.25"/><circle cx="1463.4" cy="238.9" r="5.25"/><circle cx="1465.2" cy="234.7" r="5.25"/><circle cx="1470.4" cy="213.6" r="5.25"/><circle cx="1460.6" cy="237.2" r="5.25"/><circle cx="1468.4" cy="226.7" r="5.25"/><circle cx="1463.2" cy="230" r="5.25"/><circle cx="1456.2" cy="241.5" r="5.25"/><circle cx="1471.7" cy="230" r="5.25"/><circle cx="1455.2" cy="241.6" r="5.25"/><circle cx="1461.3" cy="226.1" r="5.25"/><circle cx="1476" cy="221.6" r="5.25"/><circle cx="1466.9" cy="218.3" r="5.25"/><circle cx="1453.4" cy="224.1" r="5.25"/><circle cx="1462.3" cy="208.3" r="5.25"/><circle cx="1455.6" cy="224.8" r="5.25"/><circle cx="1458.8" cy="224.2" r="5.25"/><circle cx="1448" cy="220" r="5.25"/><circle cx="1461.7" cy="205" r="5.25"/><circle cx="1447.6" cy="205" r="5.25"/><circle cx="1459.7" cy="279.3" r="5.25"/><circle cx="1441.5" cy="267.1" r="5.25"/><circle cx="1467.1" cy="279.5" r="5.25"/><circle cx="1444.1" cy="266.7" r="5.25"/><circle cx="1455.9" cy="274.6" r="5.25"/><circle cx="1436.1" cy="270.2" r="5.25"/><circle cx="1445" cy="257" r="5.25"/><circle cx="1449.6" cy="266.8" r="5.25"/><circle cx="1458.4" cy="263" r="5.25"/><circle cx="1470.5" cy="260.2" r="5.25"/><circle cx="1462.6" cy="254.4" r="5.25"/><circle cx="1436" cy="257.7" r="5.25"/><circle cx="1452.1" cy="253.7" r="5.25"/><circle cx="1450.1" cy="274.5" r="5.25"/><circle cx="1445" cy="247.3" r="5.25"/><circle cx="1458.5" cy="265.2" r="5.25"/><circle cx="1469.4" cy="259.1" r="5.25"/><circle cx="1447" cy="253.6" r="5.25"/><circle cx="1464.3" cy="270.9" r="5.25"/><circle cx="1467.4" cy="257.5" r="5.25"/><circle cx="1440.3" cy="275.1" r="5.25"/><circle cx="1471.5" cy="262.9" r="5.25"/><circle cx="1442.8" cy="274.5" r="5.25"/><circle cx="1440.3" cy="273" r="5.25"/><circle cx="1444.6" cy="262.8" r="5.25"/><circle cx="1446.2" cy="270.4" r="5.25"/><circle cx="1438.5" cy="262.3" r="5.25"/><circle cx="1441" cy="272.9" r="5.25"/><circle cx="1450.7" cy="284.2" r="5.25"/><circle cx="1437.8" cy="277.5" r="5.25"/><circle cx="1451" cy="272.6" r="5.25"/><circle cx="1445.4" cy="299.8" r="5.25"/><circle cx="1445.8" cy="316.2" r="5.25"/><circle cx="1438.5" cy="341.8" r="5.25"/><circle cx="1439.2" cy="345.2" r="5.25"/><circle cx="1437.7" cy="341.7" r="5.25"/><circle cx="1438.1" cy="336.2" r="5.25"/><circle cx="1444.5" cy="346.5" r="5.25"/><circle cx="1441.1" cy="326" r="5.25"/><circle cx="1438.8" cy="344" r="5.25"/><circle cx="1441.9" cy="328.5" r="5.25"/><circle cx="1443.6" cy="319.6" r="5.25"/><circle cx="1439.3" cy="332" r="5.25"/><circle cx="1440.4" cy="347.1" r="5.25"/><circle cx="1438.1" cy="323.6" r="5.25"/><circle cx="1495.2" cy="218.5" r="5.25"/><circle cx="1497" cy="208.5" r="5.25"/><circle cx="1493.1" cy="213" r="5.25"/><circle cx="1495.9" cy="213" r="5.25"/><circle cx="1493.4" cy="271.7" r="5.25"/><circle cx="1495.8" cy="258.3" r="5.25"/><circle cx="1494.8" cy="220.3" r="5.25"/><circle cx="1487.3" cy="238.6" r="5.25"/><circle cx="1494.5" cy="239.8" r="5.25"/><circle cx="1489.2" cy="270" r="5.25"/><circle cx="1491.2" cy="278.1" r="5.25"/><circle cx="1488.4" cy="207.6" r="5.25"/><circle cx="1497" cy="209" r="5.25"/><circle cx="1493" cy="251.8" r="5.25"/><circle cx="1492.8" cy="211" r="5.25"/><circle cx="1498.6" cy="237.3" r="5.25"/><circle cx="1496.7" cy="253.5" r="5.25"/><circle cx="1493.4" cy="244.7" r="5.25"/><circle cx="1486.9" cy="220.6" r="5.25"/><circle cx="1496.5" cy="227.9" r="5.25"/><circle cx="1494.4" cy="275.7" r="5.25"/><circle cx="1490.2" cy="291.6" r="5.25"/><circle cx="1483.5" cy="287.3" r="5.25"/><circle cx="1492.3" cy="277" r="5.25"/><circle cx="1501.9" cy="277" r="5.25"/><circle cx="1500.2" cy="271.4" r="5.25"/><circle cx="1480" cy="272.3" r="5.25"/><circle cx="1486.9" cy="274.8" r="5.25"/><circle cx="1496.7" cy="289.7" r="5.25"/><circle cx="1492.5" cy="273" r="5.25"/><circle cx="1492.4" cy="282.4" r="5.25"/><circle cx="1491.2" cy="281.2" r="5.25"/><circle cx="1492.4" cy="280.9" r="5.25"/><circle cx="1485.9" cy="274.4" r="5.25"/><circle cx="1499.1" cy="284.1" r="5.25"/><circle cx="1485.8" cy="278.6" r="5.25"/><circle cx="1482.1" cy="321.4" r="5.25"/><circle cx="1484.2" cy="326.6" r="5.25"/><circle cx="1514" cy="315" r="5.25"/><circle cx="1477.8" cy="361.9" r="5.25"/><circle cx="1476.4" cy="378.9" r="5.25"/><circle cx="1472.2" cy="378.1" r="5.25"/><circle cx="1479.4" cy="372.4" r="5.25"/><circle cx="1479.4" cy="370.1" r="5.25"/><circle cx="1476.3" cy="357.7" r="5.25"/><circle cx="1477.1" cy="351.2" r="5.25"/><circle cx="1478.3" cy="383.3" r="5.25"/><circle cx="1475.1" cy="363.5" r="5.25"/><circle cx="1479.3" cy="381.9" r="5.25"/><circle cx="1479.3" cy="345.3" r="5.25"/><circle cx="1479.7" cy="342.4" r="5.25"/><circle cx="1479.9" cy="371.6" r="5.25"/><circle cx="1472.8" cy="368" r="5.25"/><circle cx="1478.9" cy="355.2" r="5.25"/><circle cx="1476.5" cy="360.4" r="5.25"/><circle cx="1480.3" cy="381.4" r="5.25"/><circle cx="1480.2" cy="368.7" r="5.25"/><circle cx="1503.3" cy="341" r="5.25"/><circle cx="1509.4" cy="353.9" r="5.25"/><circle cx="1512" cy="340.2" r="5.25"/><circle cx="1507.8" cy="350.7" r="5.25"/><circle cx="1502.2" cy="359.6" r="5.25"/><circle cx="1498.3" cy="349.9" r="5.25"/><circle cx="1519" cy="343.2" r="5.25"/><circle cx="1501.2" cy="348.1" r="5.25"/><circle cx="1502.8" cy="350.4" r="5.25"/><circle cx="1503.6" cy="355.5" r="5.25"/><circle cx="1512.8" cy="332" r="5.25"/><circle cx="1503.4" cy="333.9" r="5.25"/><circle cx="1510.8" cy="357" r="5.25"/><circle cx="1509.4" cy="350.9" r="5.25"/><circle cx="1527.9" cy="132.3" r="5.25"/><circle cx="1527.9" cy="136.2" r="5.25"/><circle cx="1527.9" cy="141.4" r="5.25"/><circle cx="1622" cy="107.1" r="5.25"/><circle cx="1643.8" cy="99.9" r="5.25"/><circle cx="1647.2" cy="109.7" r="5.25"/><circle cx="1647.2" cy="124.5" r="5.25"/><circle cx="1647.2" cy="131" r="5.25"/><circle cx="1607.8" cy="121.9" r="5.25"/><circle cx="1607.8" cy="136.9" r="5.25"/><circle cx="1617" cy="139.8" r="5.25"/><circle cx="1636.9" cy="145" r="5.25"/><circle cx="1665.9" cy="120.6" r="5.25"/><circle cx="1665.9" cy="127.1" r="5.25"/><circle cx="1673.1" cy="128.4" r="5.25"/><circle cx="1684.8" cy="136.2" r="5.25"/><circle cx="1697.3" cy="139.3" r="5.25"/><circle cx="1726.3" cy="172.5" r="5.25"/><circle cx="1714" cy="177.6" r="5.25"/><circle cx="1531.7" cy="177.2" r="5.25"/><circle cx="1533.6" cy="211" r="5.25"/><circle cx="1530" cy="179" r="5.25"/><circle cx="1527.2" cy="208.1" r="5.25"/><circle cx="1532.6" cy="226.2" r="5.25"/><circle cx="1537.9" cy="187.9" r="5.25"/><circle cx="1534.8" cy="229.3" r="5.25"/><circle cx="1531.7" cy="163.1" r="5.25"/><circle cx="1521.4" cy="209.5" r="5.25"/><circle cx="1533.7" cy="190.6" r="5.25"/><circle cx="1520.3" cy="232" r="5.25"/><circle cx="1525" cy="191.3" r="5.25"/><circle cx="1532.9" cy="173.9" r="5.25"/><circle cx="1532.6" cy="224.3" r="5.25"/><circle cx="1542" cy="158.5" r="5.25"/><circle cx="1539.9" cy="199.6" r="5.25"/><circle cx="1536.2" cy="174.5" r="5.25"/><circle cx="1528.3" cy="219.2" r="5.25"/><circle cx="1531.3" cy="188.3" r="5.25"/><circle cx="1529.1" cy="208.3" r="5.25"/><circle cx="1548.2" cy="189.6" r="5.25"/><circle cx="1535.9" cy="167.4" r="5.25"/><circle cx="1525.2" cy="148" r="5.25"/><circle cx="1523.3" cy="227.7" r="5.25"/><circle cx="1543.4" cy="195.3" r="5.25"/><circle cx="1523.1" cy="166.3" r="5.25"/><circle cx="1535" cy="183.8" r="5.25"/><circle cx="1533.2" cy="211" r="5.25"/><circle cx="1541.7" cy="159.2" r="5.25"/><circle cx="1523" cy="232" r="5.25"/><circle cx="1535.9" cy="185.1" r="5.25"/><circle cx="1533.4" cy="182.7" r="5.25"/><circle cx="1539.2" cy="217.2" r="5.25"/><circle cx="1544.6" cy="194.7" r="5.25"/><circle cx="1532.5" cy="169.4" r="5.25"/><circle cx="1529.4" cy="209.5" r="5.25"/><circle cx="1540" cy="199.7" r="5.25"/><circle cx="1518" cy="213.8" r="5.25"/><circle cx="1533.3" cy="171" r="5.25"/><circle cx="1522.1" cy="166.7" r="5.25"/><circle cx="1519.9" cy="203.3" r="5.25"/><circle cx="1516.3" cy="181.1" r="5.25"/><circle cx="1515.6" cy="148" r="5.25"/><circle cx="1539.5" cy="177.9" r="5.25"/><circle cx="1540" cy="203.3" r="5.25"/><circle cx="1532.5" cy="175" r="5.25"/><circle cx="1541.5" cy="216.9" r="5.25"/><circle cx="1531.9" cy="179.6" r="5.25"/><circle cx="1526.8" cy="188.1" r="5.25"/><circle cx="1521.2" cy="156.1" r="5.25"/><circle cx="1539" cy="173.4" r="5.25"/><circle cx="1539.4" cy="186.2" r="5.25"/><circle cx="1543.7" cy="202.2" r="5.25"/><circle cx="1523.9" cy="194" r="5.25"/><circle cx="1528.9" cy="212.3" r="5.25"/><circle cx="1518.6" cy="148" r="5.25"/><circle cx="1542.6" cy="190.5" r="5.25"/><circle cx="1538.4" cy="187" r="5.25"/><circle cx="1536.6" cy="168.1" r="5.25"/><circle cx="1531.5" cy="189.1" r="5.25"/><circle cx="1530.2" cy="174.4" r="5.25"/><circle cx="1528.1" cy="199" r="5.25"/><circle cx="1542.2" cy="182.7" r="5.25"/><circle cx="1525.6" cy="200.6" r="5.25"/><circle cx="1540.2" cy="170.9" r="5.25"/><circle cx="1534.4" cy="216.6" r="5.25"/><circle cx="1522" cy="198.3" r="5.25"/><circle cx="1517.7" cy="227.4" r="5.25"/><circle cx="1524.1" cy="187.2" r="5.25"/><circle cx="1531.3" cy="179.5" r="5.25"/><circle cx="1519.2" cy="192.8" r="5.25"/><circle cx="1537.7" cy="180.2" r="5.25"/><circle cx="1542.6" cy="168.2" r="5.25"/><circle cx="1536.9" cy="190.3" r="5.25"/><circle cx="1515.4" cy="188.6" r="5.25"/><circle cx="1512" cy="176.3" r="5.25"/><circle cx="1540.1" cy="181.9" r="5.25"/><circle cx="1546" cy="169.6" r="5.25"/><circle cx="1527.8" cy="193" r="5.25"/><circle cx="1536.7" cy="161.8" r="5.25"/><circle cx="1529.1" cy="225.6" r="5.25"/><circle cx="1565.7" cy="231" r="5.25"/><circle cx="1571.9" cy="172.5" r="5.25"/><circle cx="1557.4" cy="200" r="5.25"/><circle cx="1567.8" cy="167.8" r="5.25"/><circle cx="1564.6" cy="174.5" r="5.25"/><circle cx="1572.1" cy="190.1" r="5.25"/><circle cx="1571.4" cy="199" r="5.25"/><circle cx="1554.4" cy="195.5" r="5.25"/><circle cx="1573.3" cy="192.3" r="5.25"/><circle cx="1555.4" cy="232" r="5.25"/><circle cx="1574.6" cy="163.3" r="5.25"/><circle cx="1565.1" cy="145.9" r="5.25"/><circle cx="1557.4" cy="200.1" r="5.25"/><circle cx="1570.3" cy="191.8" r="5.25"/><circle cx="1565.8" cy="155.4" r="5.25"/><circle cx="1558.8" cy="226.2" r="5.25"/><circle cx="1560.5" cy="171.9" r="5.25"/><circle cx="1568.7" cy="156" r="5.25"/><circle cx="1556.2" cy="197" r="5.25"/><circle cx="1559.7" cy="202" r="5.25"/><circle cx="1578" cy="232" r="5.25"/><circle cx="1560.3" cy="153.2" r="5.25"/><circle cx="1568" cy="159.1" r="5.25"/><circle cx="1568.5" cy="181.5" r="5.25"/><circle cx="1572" cy="177.8" r="5.25"/><circle cx="1571.5" cy="186" r="5.25"/><circle cx="1552" cy="171.7" r="5.25"/><circle cx="1562.2" cy="152.7" r="5.25"/><circle cx="1573.5" cy="177.6" r="5.25"/><circle cx="1560.1" cy="203.5" r="5.25"/><circle cx="1577.9" cy="205.3" r="5.25"/><circle cx="1567.2" cy="172.9" r="5.25"/><circle cx="1557.2" cy="199.7" r="5.25"/><circle cx="1569.3" cy="196.9" r="5.25"/><circle cx="1586" cy="150.7" r="5.25"/><circle cx="1586.6" cy="171.7" r="5.25"/><circle cx="1588.2" cy="133" r="5.25"/><circle cx="1596" cy="144.1" r="5.25"/><circle cx="1588.7" cy="167.9" r="5.25"/><circle cx="1584.4" cy="162.8" r="5.25"/><circle cx="1587.4" cy="158" r="5.25"/><circle cx="1616.5" cy="177.1" r="5.25"/><circle cx="1601" cy="181.8" r="5.25"/><circle cx="1613.8" cy="160.1" r="5.25"/><circle cx="1602.4" cy="156.7" r="5.25"/><circle cx="1601.3" cy="159.1" r="5.25"/><circle cx="1614.8" cy="167.8" r="5.25"/><circle cx="1605" cy="172.7" r="5.25"/><circle cx="1608.4" cy="178.9" r="5.25"/><circle cx="1615.8" cy="191.3" r="5.25"/><circle cx="1603.2" cy="188" r="5.25"/><circle cx="1615.7" cy="171.6" r="5.25"/><circle cx="1626" cy="163.6" r="5.25"/><circle cx="1609.6" cy="153.6" r="5.25"/><circle cx="1618.4" cy="178.3" r="5.25"/><circle cx="1616.9" cy="174.6" r="5.25"/><circle cx="1601.5" cy="164.9" r="5.25"/><circle cx="1600.7" cy="166.3" r="5.25"/><circle cx="1611.1" cy="166.9" r="5.25"/><circle cx="1596" cy="144" r="5.25"/><circle cx="1611.4" cy="167.6" r="5.25"/><circle cx="1613.1" cy="172.2" r="5.25"/><circle cx="1614.7" cy="166.8" r="5.25"/><circle cx="1614.5" cy="155.4" r="5.25"/><circle cx="1621.2" cy="168.8" r="5.25"/><circle cx="1608.6" cy="174.1" r="5.25"/><circle cx="1621.4" cy="190.2" r="5.25"/><circle cx="1615.2" cy="181.2" r="5.25"/><circle cx="1615.1" cy="175.5" r="5.25"/><circle cx="1610" cy="167.7" r="5.25"/><circle cx="1618.4" cy="152" r="5.25"/><circle cx="1605.4" cy="162.6" r="5.25"/><circle cx="1593.6" cy="204.4" r="5.25"/><circle cx="1604.8" cy="213.8" r="5.25"/><circle cx="1615.2" cy="228.8" r="5.25"/><circle cx="1615" cy="211.4" r="5.25"/><circle cx="1613.7" cy="209.1" r="5.25"/><circle cx="1605.9" cy="209.5" r="5.25"/><circle cx="1614.5" cy="218.8" r="5.25"/><circle cx="1603.3" cy="207.8" r="5.25"/><circle cx="1588.4" cy="221.2" r="5.25"/><circle cx="1606.9" cy="227.3" r="5.25"/><circle cx="1606" cy="236.2" r="5.25"/><circle cx="1590.3" cy="218.6" r="5.25"/><circle cx="1601" cy="236.9" r="5.25"/><circle cx="1588" cy="227.3" r="5.25"/><circle cx="1601.5" cy="220.2" r="5.25"/><circle cx="1616.4" cy="226.9" r="5.25"/><circle cx="1600" cy="236" r="5.25"/><circle cx="1617.3" cy="235.8" r="5.25"/><circle cx="1607.7" cy="229.1" r="5.25"/><circle cx="1599.1" cy="221.4" r="5.25"/><circle cx="1590" cy="229.8" r="5.25"/><circle cx="1612.4" cy="224.2" r="5.25"/><circle cx="1611.6" cy="223.7" r="5.25"/><circle cx="1592.5" cy="224.6" r="5.25"/><circle cx="1602" cy="238.7" r="5.25"/><circle cx="1615.5" cy="211.3" r="5.25"/><circle cx="1599.1" cy="221.5" r="5.25"/><circle cx="1609.2" cy="212.2" r="5.25"/><circle cx="1598.7" cy="219.7" r="5.25"/><circle cx="1601.3" cy="229.3" r="5.25"/><circle cx="1603.8" cy="234.8" r="5.25"/><circle cx="1586.1" cy="215.8" r="5.25"/><circle cx="1590.3" cy="219.3" r="5.25"/><circle cx="1597.7" cy="227.7" r="5.25"/><circle cx="1591.7" cy="236.2" r="5.25"/><circle cx="1592.8" cy="231.1" r="5.25"/><circle cx="1591.8" cy="228.6" r="5.25"/><circle cx="1592.6" cy="224.8" r="5.25"/><circle cx="1588.6" cy="221.9" r="5.25"/><circle cx="1594.4" cy="228.1" r="5.25"/><circle cx="1574.6" cy="229" r="5.25"/><circle cx="1585.4" cy="226.4" r="5.25"/><circle cx="1576" cy="220.8" r="5.25"/><circle cx="1588.9" cy="213" r="5.25"/><circle cx="1640.2" cy="163.1" r="5.25"/><circle cx="1643.5" cy="168.3" r="5.25"/><circle cx="1638" cy="177.3" r="5.25"/><circle cx="1648.5" cy="160" r="5.25"/><circle cx="1636.1" cy="163.7" r="5.25"/><circle cx="1644" cy="191.8" r="5.25"/><circle cx="1648.7" cy="170.8" r="5.25"/><circle cx="1652" cy="187.1" r="5.25"/><circle cx="1647.9" cy="190.4" r="5.25"/><circle cx="1654.7" cy="178.4" r="5.25"/><circle cx="1642" cy="187.5" r="5.25"/><circle cx="1640.7" cy="176.3" r="5.25"/><circle cx="1653.9" cy="168.6" r="5.25"/><circle cx="1640" cy="177.1" r="5.25"/><circle cx="1645.1" cy="179" r="5.25"/><circle cx="1633.9" cy="179.6" r="5.25"/><circle cx="1654.1" cy="179.1" r="5.25"/><circle cx="1651.3" cy="173.9" r="5.25"/><circle cx="1640.9" cy="190.1" r="5.25"/><circle cx="1633.8" cy="176.1" r="5.25"/><circle cx="1648" cy="173.7" r="5.25"/><circle cx="1648.1" cy="188.6" r="5.25"/><circle cx="1654.4" cy="167.2" r="5.25"/><circle cx="1659.3" cy="178.3" r="5.25"/><circle cx="1647.8" cy="194.7" r="5.25"/><circle cx="1644.6" cy="179" r="5.25"/><circle cx="1644.5" cy="194.1" r="5.25"/><circle cx="1644" cy="175.5" r="5.25"/><circle cx="1667.2" cy="148.1" r="5.25"/><circle cx="1668.9" cy="139.6" r="5.25"/><circle cx="1667" cy="132" r="5.25"/><circle cx="1668" cy="170" r="5.25"/><circle cx="1667.6" cy="139.7" r="5.25"/><circle cx="1673.5" cy="162.3" r="5.25"/><circle cx="1683.8" cy="157.3" r="5.25"/><circle cx="1686.8" cy="134.7" r="5.25"/><circle cx="1700.1" cy="147.4" r="5.25"/><circle cx="1684.3" cy="178.7" r="5.25"/><circle cx="1684.5" cy="155.4" r="5.25"/><circle cx="1691.4" cy="152" r="5.25"/><circle cx="1686.8" cy="155.8" r="5.25"/><circle cx="1689.8" cy="186.6" r="5.25"/><circle cx="1692.8" cy="163.5" r="5.25"/><circle cx="1697.7" cy="157" r="5.25"/><circle cx="1693" cy="152.1" r="5.25"/><circle cx="1693.8" cy="146.1" r="5.25"/><circle cx="1700.8" cy="192" r="5.25"/><circle cx="1701.4" cy="162.1" r="5.25"/><circle cx="1681.1" cy="179.5" r="5.25"/><circle cx="1674.9" cy="174.9" r="5.25"/><circle cx="1693.3" cy="196.8" r="5.25"/><circle cx="1665.7" cy="171.7" r="5.25"/><circle cx="1653.5" cy="199.5" r="5.25"/><circle cx="1671.4" cy="215.5" r="5.25"/><circle cx="1683.6" cy="168" r="5.25"/><circle cx="1705" cy="198" r="5.25"/><circle cx="1678.1" cy="206" r="5.25"/><circle cx="1667.6" cy="192.1" r="5.25"/><circle cx="1676.1" cy="207.1" r="5.25"/><circle cx="1668.7" cy="208.9" r="5.25"/><circle cx="1668.6" cy="217.7" r="5.25"/><circle cx="1680.3" cy="232" r="5.25"/><circle cx="1683" cy="206" r="5.25"/><circle cx="1670.3" cy="186.3" r="5.25"/><circle cx="1693.7" cy="184.3" r="5.25"/><circle cx="1678.1" cy="180.9" r="5.25"/><circle cx="1680.6" cy="212.3" r="5.25"/><circle cx="1672.3" cy="206.3" r="5.25"/><circle cx="1684" cy="208.3" r="5.25"/><circle cx="1684.6" cy="204" r="5.25"/><circle cx="1688" cy="226.5" r="5.25"/><circle cx="1668.3" cy="218.4" r="5.25"/><circle cx="1687.6" cy="217.1" r="5.25"/><circle cx="1671.6" cy="189.8" r="5.25"/><circle cx="1680.5" cy="195.6" r="5.25"/><circle cx="1689.1" cy="179.7" r="5.25"/><circle cx="1699.4" cy="190.3" r="5.25"/><circle cx="1673.2" cy="202.2" r="5.25"/><circle cx="1664.4" cy="181" r="5.25"/><circle cx="1681.1" cy="190.5" r="5.25"/><circle cx="1695.5" cy="232" r="5.25"/><circle cx="1674.8" cy="197.8" r="5.25"/><circle cx="1705" cy="176.5" r="5.25"/><circle cx="1654.1" cy="180.6" r="5.25"/><circle cx="1699.3" cy="199.4" r="5.25"/><circle cx="1694.8" cy="214.4" r="5.25"/><circle cx="1694.1" cy="199.3" r="5.25"/><circle cx="1668.2" cy="214.8" r="5.25"/><circle cx="1697.4" cy="205.8" r="5.25"/><circle cx="1694.8" cy="182.8" r="5.25"/><circle cx="1695.9" cy="217.4" r="5.25"/><circle cx="1676.2" cy="193.5" r="5.25"/><circle cx="1676" cy="231.2" r="5.25"/><circle cx="1696.5" cy="191.3" r="5.25"/><circle cx="1683.9" cy="198.5" r="5.25"/><circle cx="1674.4" cy="192" r="5.25"/><circle cx="1668.1" cy="196.5" r="5.25"/><circle cx="1682.8" cy="208.2" r="5.25"/><circle cx="1661.2" cy="197.8" r="5.25"/><circle cx="1687" cy="219.9" r="5.25"/><circle cx="1681.4" cy="207.7" r="5.25"/><circle cx="1658.6" cy="226.4" r="5.25"/><circle cx="1685.3" cy="202" r="5.25"/><circle cx="1695.3" cy="221.7" r="5.25"/><circle cx="1682.6" cy="220.3" r="5.25"/><circle cx="1661.5" cy="198.6" r="5.25"/><circle cx="1671.2" cy="232" r="5.25"/><circle cx="1690.4" cy="225.3" r="5.25"/><circle cx="1661.9" cy="209.7" r="5.25"/><circle cx="1674.2" cy="197.8" r="5.25"/><circle cx="1694.5" cy="199.7" r="5.25"/><circle cx="1675.4" cy="198.2" r="5.25"/><circle cx="1671.5" cy="205.6" r="5.25"/><circle cx="1690" cy="182.8" r="5.25"/><circle cx="1700.7" cy="201.9" r="5.25"/><circle cx="1684.5" cy="191.3" r="5.25"/><circle cx="1678.8" cy="268.6" r="5.25"/><circle cx="1670.8" cy="260.1" r="5.25"/><circle cx="1678.8" cy="258.3" r="5.25"/><circle cx="1681" cy="246.2" r="5.25"/><circle cx="1668.3" cy="210" r="5.25"/><circle cx="1681" cy="242.6" r="5.25"/><circle cx="1667.5" cy="241.8" r="5.25"/><circle cx="1669.7" cy="254.5" r="5.25"/><circle cx="1655.8" cy="275.4" r="5.25"/><circle cx="1664.9" cy="258.4" r="5.25"/><circle cx="1676.8" cy="215.5" r="5.25"/><circle cx="1668.5" cy="245.7" r="5.25"/><circle cx="1660.9" cy="241.3" r="5.25"/><circle cx="1664.2" cy="257.6" r="5.25"/><circle cx="1657.7" cy="244.3" r="5.25"/><circle cx="1658.3" cy="212.5" r="5.25"/><circle cx="1651.5" cy="229.8" r="5.25"/><circle cx="1674" cy="239.7" r="5.25"/><circle cx="1673.8" cy="210.1" r="5.25"/><circle cx="1663.2" cy="243.1" r="5.25"/><circle cx="1652.4" cy="240.3" r="5.25"/><circle cx="1662.1" cy="263.5" r="5.25"/><circle cx="1681" cy="243.1" r="5.25"/><circle cx="1652.5" cy="234.4" r="5.25"/><circle cx="1659.7" cy="242.9" r="5.25"/><circle cx="1660" cy="245.3" r="5.25"/><circle cx="1671.2" cy="261.7" r="5.25"/><circle cx="1653" cy="228.6" r="5.25"/><circle cx="1666.5" cy="210" r="5.25"/><circle cx="1656.9" cy="278" r="5.25"/><circle cx="1661.1" cy="258" r="5.25"/><circle cx="1653.5" cy="245.6" r="5.25"/><circle cx="1668.8" cy="278" r="5.25"/><circle cx="1659.9" cy="225.3" r="5.25"/><circle cx="1659" cy="231.3" r="5.25"/><circle cx="1673.9" cy="237.3" r="5.25"/><circle cx="1667.3" cy="253.3" r="5.25"/><circle cx="1681" cy="237" r="5.25"/><circle cx="1667.9" cy="258.3" r="5.25"/><circle cx="1665" cy="238.8" r="5.25"/><circle cx="1665.3" cy="267.2" r="5.25"/><circle cx="1681" cy="252.8" r="5.25"/><circle cx="1675.2" cy="216.3" r="5.25"/><circle cx="1661.7" cy="244.3" r="5.25"/><circle cx="1667.1" cy="225.2" r="5.25"/><circle cx="1659.7" cy="242.4" r="5.25"/><circle cx="1670.1" cy="244.7" r="5.25"/><circle cx="1659.8" cy="278" r="5.25"/><circle cx="1659.3" cy="240.7" r="5.25"/><circle cx="1668.1" cy="217" r="5.25"/><circle cx="1726.1" cy="202.4" r="5.25"/><circle cx="1716.4" cy="200.8" r="5.25"/><circle cx="1739.2" cy="189.7" r="5.25"/><circle cx="1730.7" cy="191.8" r="5.25"/><circle cx="1737.2" cy="212.7" r="5.25"/><circle cx="1722.2" cy="209.1" r="5.25"/><circle cx="1717.3" cy="204" r="5.25"/><circle cx="1727.5" cy="213.3" r="5.25"/><circle cx="1714.8" cy="177.2" r="5.25"/><circle cx="1717.9" cy="197.8" r="5.25"/><circle cx="1719.5" cy="193.6" r="5.25"/><circle cx="1724.1" cy="176.9" r="5.25"/><circle cx="1713.6" cy="199.9" r="5.25"/><circle cx="1710" cy="203.1" r="5.25"/><circle cx="1736.1" cy="199.1" r="5.25"/><circle cx="1721.1" cy="178.1" r="5.25"/><circle cx="1723.8" cy="194.3" r="5.25"/><circle cx="1708.8" cy="236.6" r="5.25"/><circle cx="1704" cy="210" r="5.25"/><circle cx="1709.6" cy="212.1" r="5.25"/><circle cx="1711.9" cy="242" r="5.25"/><circle cx="1721.8" cy="232.5" r="5.25"/><circle cx="1709.1" cy="231" r="5.25"/><circle cx="1727" cy="229" r="5.25"/><circle cx="1708.9" cy="228.9" r="5.25"/><circle cx="1709.7" cy="218.8" r="5.25"/><circle cx="1715" cy="224.2" r="5.25"/><circle cx="1705.9" cy="218.2" r="5.25"/><circle cx="1703.2" cy="236" r="5.25"/><circle cx="1514.2" cy="228.1" r="5.25"/><circle cx="1515.7" cy="287.1" r="5.25"/><circle cx="1514.2" cy="314.6" r="5.25"/><circle cx="1515.8" cy="252" r="5.25"/><circle cx="1514.8" cy="268" r="5.25"/><circle cx="1515.2" cy="262.1" r="5.25"/><circle cx="1513.8" cy="257.5" r="5.25"/><circle cx="1555.5" cy="263.2" r="5.25"/><circle cx="1563.1" cy="248.3" r="5.25"/><circle cx="1562.1" cy="243" r="5.25"/><circle cx="1556.3" cy="259.6" r="5.25"/><circle cx="1558.1" cy="251.2" r="5.25"/><circle cx="1546.3" cy="241.8" r="5.25"/><circle cx="1564.1" cy="233.3" r="5.25"/><circle cx="1559.5" cy="274" r="5.25"/><circle cx="1559.6" cy="250.3" r="5.25"/><circle cx="1534.3" cy="251.5" r="5.25"/><circle cx="1556.1" cy="233.4" r="5.25"/><circle cx="1556.4" cy="243.3" r="5.25"/><circle cx="1557.9" cy="252.3" r="5.25"/><circle cx="1526" cy="257.4" r="5.25"/><circle cx="1527.9" cy="262.2" r="5.25"/><circle cx="1552" cy="246.1" r="5.25"/><circle cx="1538.2" cy="259" r="5.25"/><circle cx="1553.1" cy="266.1" r="5.25"/><circle cx="1547.7" cy="248.6" r="5.25"/><circle cx="1549.6" cy="283.6" r="5.25"/><circle cx="1594.9" cy="258.5" r="5.25"/><circle cx="1631.4" cy="267.4" r="5.25"/><circle cx="1623.5" cy="272.6" r="5.25"/><circle cx="1631.4" cy="279.7" r="5.25"/><circle cx="1650.3" cy="298.9" r="5.25"/><circle cx="1700.6" cy="249.7" r="5.25"/><circle cx="1707.7" cy="254.4" r="5.25"/><circle cx="1699.8" cy="297" r="5.25"/><circle cx="1709" cy="299.7" r="5.25"/><circle cx="1720.3" cy="287.4" r="5.25"/><circle cx="1734.8" cy="279.7" r="5.25"/><circle cx="1734.5" cy="312.3" r="5.25"/><circle cx="1710.1" cy="324.9" r="5.25"/><circle cx="1710.5" cy="326" r="5.25"/><circle cx="1554.2" cy="316" r="5.25"/><circle cx="1550.3" cy="327.7" r="5.25"/><circle cx="1552.5" cy="311.8" r="5.25"/><circle cx="1551.3" cy="305.2" r="5.25"/><circle cx="1555.9" cy="327.5" r="5.25"/><circle cx="1554" cy="331" r="5.25"/><circle cx="1558" cy="309" r="5.25"/><circle cx="1554.8" cy="326.1" r="5.25"/><circle cx="1556.2" cy="322.6" r="5.25"/><circle cx="1555.6" cy="323.9" r="5.25"/><circle cx="1554.9" cy="339.6" r="5.25"/><circle cx="1552" cy="306.6" r="5.25"/><circle cx="1558.1" cy="311.8" r="5.25"/><circle cx="1554.2" cy="308.1" r="5.25"/><circle cx="1550.2" cy="327.9" r="5.25"/><circle cx="1553.1" cy="336.9" r="5.25"/><circle cx="1551.9" cy="324.9" r="5.25"/><circle cx="1557.1" cy="306.2" r="5.25"/><circle cx="1556.8" cy="323.6" r="5.25"/><circle cx="1557.9" cy="309.1" r="5.25"/><circle cx="1559.4" cy="308.2" r="5.25"/><circle cx="1552.9" cy="316.2" r="5.25"/><circle cx="1550.1" cy="336.5" r="5.25"/><circle cx="1552.3" cy="330.7" r="5.25"/><circle cx="1555.3" cy="341.4" r="5.25"/><circle cx="1548.3" cy="322.8" r="5.25"/><circle cx="1633.8" cy="329.2" r="5.25"/><circle cx="1634" cy="334" r="5.25"/><circle cx="1633.5" cy="338.7" r="5.25"/><circle cx="1632.5" cy="343.4" r="5.25"/><circle cx="1633" cy="356" r="5.25"/><circle cx="1633" cy="360" r="5.25"/></g><path d="M1034.5 185.2l9.6 9.6l-9.6 9.6l-9.6 -9.6zM1036.5 186.3l9.6 9.6l-9.6 9.6l-9.6 -9.6zM1113 181.3l9.6 9.6l-9.6 9.6l-9.6 -9.6zM1116.5 181.2l9.6 9.6l-9.6 9.6l-9.6 -9.6zM1148 267.9l9.6 9.6l-9.6 9.6l-9.6 -9.6zM1149.2 272.5l9.6 9.6l-9.6 9.6l-9.6 -9.6zM1150.4 276.1l9.6 9.6l-9.6 9.6l-9.6 -9.6zM1151.6 278.9l9.6 9.6l-9.6 9.6l-9.6 -9.6zM1152.8 281l9.6 9.6l-9.6 9.6l-9.6 -9.6zM1154 282.8l9.6 9.6l-9.6 9.6l-9.6 -9.6zM1155.2 284.1l9.6 9.6l-9.6 9.6l-9.6 -9.6zM1156.4 284.9l9.6 9.6l-9.6 9.6l-9.6 -9.6zM1157.6 284.6l9.6 9.6l-9.6 9.6l-9.6 -9.6zM1158.8 283.4l9.6 9.6l-9.6 9.6l-9.6 -9.6zM1160 281.3l9.6 9.6l-9.6 9.6l-9.6 -9.6zM1161.2 278.8l9.6 9.6l-9.6 9.6l-9.6 -9.6zM1164 270.9l9.6 9.6l-9.6 9.6l-9.6 -9.6zM1166 264.4l9.6 9.6l-9.6 9.6l-9.6 -9.6zM1168 258.5l9.6 9.6l-9.6 9.6l-9.6 -9.6zM1178 235.7l9.6 9.6l-9.6 9.6l-9.6 -9.6zM1180.5 233.7l9.6 9.6l-9.6 9.6l-9.6 -9.6zM1183 233.7l9.6 9.6l-9.6 9.6l-9.6 -9.6zM1206 229.4l9.6 9.6l-9.6 9.6l-9.6 -9.6zM1208 224.5l9.6 9.6l-9.6 9.6l-9.6 -9.6zM1210 220.8l9.6 9.6l-9.6 9.6l-9.6 -9.6zM1212 218.1l9.6 9.6l-9.6 9.6l-9.6 -9.6zM1214 217.2l9.6 9.6l-9.6 9.6l-9.6 -9.6zM1216 217.9l9.6 9.6l-9.6 9.6l-9.6 -9.6zM1220 225.1l9.6 9.6l-9.6 9.6l-9.6 -9.6zM1222 230.7l9.6 9.6l-9.6 9.6l-9.6 -9.6zM1224 235.5l9.6 9.6l-9.6 9.6l-9.6 -9.6zM1226 239.6l9.6 9.6l-9.6 9.6l-9.6 -9.6zM1238 258.3l9.6 9.6l-9.6 9.6l-9.6 -9.6zM1240 260.1l9.6 9.6l-9.6 9.6l-9.6 -9.6zM1242 261.4l9.6 9.6l-9.6 9.6l-9.6 -9.6zM1244 262.5l9.6 9.6l-9.6 9.6l-9.6 -9.6zM1251 265.5l9.6 9.6l-9.6 9.6l-9.6 -9.6zM1253 266.2l9.6 9.6l-9.6 9.6l-9.6 -9.6zM1255 266.9l9.6 9.6l-9.6 9.6l-9.6 -9.6zM1474.3 285l9.6 9.6l-9.6 9.6l-9.6 -9.6zM1475.5 286.9l9.6 9.6l-9.6 9.6l-9.6 -9.6zM1542 208.6l9.6 9.6l-9.6 9.6l-9.6 -9.6zM1544.5 216.9l9.6 9.6l-9.6 9.6l-9.6 -9.6zM1547 220.3l9.6 9.6l-9.6 9.6l-9.6 -9.6zM1549.5 220.8l9.6 9.6l-9.6 9.6l-9.6 -9.6zM1623 229.5l9.6 9.6l-9.6 9.6l-9.6 -9.6zM1625.5 235.7l9.6 9.6l-9.6 9.6l-9.6 -9.6zM1628 240.5l9.6 9.6l-9.6 9.6l-9.6 -9.6zM1630.5 242.9l9.6 9.6l-9.6 9.6l-9.6 -9.6zM1633 241l9.6 9.6l-9.6 9.6l-9.6 -9.6zM1686 170.9l9.6 9.6l-9.6 9.6l-9.6 -9.6zM1688.5 172l9.6 9.6l-9.6 9.6l-9.6 -9.6zM1691 175.5l9.6 9.6l-9.6 9.6l-9.6 -9.6zM1693.5 180.5l9.6 9.6l-9.6 9.6l-9.6 -9.6zM1696 187l9.6 9.6l-9.6 9.6l-9.6 -9.6zM1709 209l9.6 9.6l-9.6 9.6l-9.6 -9.6zM1712 211l9.6 9.6l-9.6 9.6l-9.6 -9.6zM1715 212l9.6 9.6l-9.6 9.6l-9.6 -9.6zM1718 212.2l9.6 9.6l-9.6 9.6l-9.6 -9.6zM1721 211.9l9.6 9.6l-9.6 9.6l-9.6 -9.6zM1724 211.3l9.6 9.6l-9.6 9.6l-9.6 -9.6z" fill="#2a7a3a"/><path d="M1001.5 181.5 1003 181.9 1004.5 182.3 1006 182.8 1007.4 183.2 1008.9 183.6 1010.4 184.1 1011.9 184.5 1013.4 184.9 1014.9 185.4 1016.4 185.8 1017.8 186.3 1019.3 186.7 1020.8 187.3 1022.3 187.9 1023.8 188.6 1025.2 189.2 1026.7 189.9 1028.2 190.7 1029.7 191.6 1031.1 192.5 1032.6 193.6 1033.9 194.4 1035.2 195.1 1036.5 195.9 1037.8 197 1039.1 198.6 1040.4 200.9 1041.8 204.5 1043.3 208.7 1044.7 213 1046 216.9 1047.3 220.9 1048.6 224.9 1049.9 228.6 1051.1 232 1052.3 235.4 1053.6 238.4 1054.8 240.7 1055.9 242.3 1057.1 243.3 1058.2 243.8 1059.5 243.4 1060.7 242.2 1062 240.7 1063.4 238.6 1064.8 235.9 1066.1 232.8 1067.5 229.7 1068.9 226.8 1070.4 223.9 1071.8 221.1 1073.2 218.3 1074.7 215.5 1076.1 212.9 1077.6 210.4 1079 208.1 1080.5 205.9 1081.9 203.9 1083.3 201.9 1084.8 200 1086.2 198.3 1087.6 196.7 1089 195.1 1090.3 193.7 1091.7 192.4 1093.1 191.4 1094.4 190.7 1095.7 190.3 1097 189.9 1098.3 189.7 1099.8 189.5 1101.2 189.5 1102.7 189.7 1104.1 189.9 1105.5 190.1 1107 190.2 1108.4 190.3 1109.9 190.6 1111.3 190.8 1112.7 190.9 1114.2 191 1115.6 190.9 1117 190.7 1118.4 190.3 1119.7 189.9 1121.1 189.4 1122.5 188.8 1124 187.8 1125.4 186.8 1126.9 186.2 1128.3 186.1 1129.8 186.5 1131.2 187.9 1132.4 189.7 1133.5 192.1 1134.7 195.7 1135.8 200.7 1137 206.7 1138.1 213 1139.3 219.4 1140.4 226.2 1141.6 233.8 1142.9 244.1 1144.2 254.5 1145.5 263.8 1146.8 271.8 1148 277.8 1149.3 282.5 1150.8 286.8 1152.2 289.8 1153.7 292 1154.8 293.4 1156 294.4 1157.1 294.6 1158.6 293.4 1160 290.9 1161.5 287.7 1162.8 284.3 1164 280.3 1165.3 276.1 1166.6 272.1 1167.9 268.4 1169.2 264.8 1170.5 261.4 1171.8 258 1173 254.9 1174.1 251.9 1175.3 249.3 1176.6 247.1 1177.9 245.3 1179.2 244.1 1180.5 243.3 1182 243 1183.5 243.4 1185 244.2 1186.5 245 1187.7 245.8 1188.9 246.7 1190.2 247.7 1191.4 248.6 1192.6 249.3 1194 249.9 1195.4 250.4 1196.7 250.6 1198.1 250.4 1199.5 249.7 1200.9 248.3 1202.4 246.4 1203.8 244.1 1205.1 241.3 1206.4 238 1207.7 234.7 1209 232 1210.4 229.7 1211.9 227.8 1213.3 226.8 1214.8 226.8 1216.2 227.6 1217.7 229.4 1219 232 1220.2 235.4 1221.5 239.1 1222.8 242.4 1224.2 245.5 1225.6 248.4 1227 251.2 1228.4 253.7 1229.8 256.2 1231.2 258.6 1232.7 260.9 1234.1 263 1235.5 265 1237 266.7 1238.4 268.3 1239.8 269.6 1241.3 270.6 1242.7 271.5 1244.1 272.2 1245.6 272.8 1247 273.5 1248.3 274.1 1249.7 274.6 1251 275.1 1252.3 275.5 1253.7 276 1255 276.5 1256.4 277.1 1257.8 277.8 1259.2 278.4 1260.6 278.9 1262 279.3 1263.5 279.6 1265 279.9 1266.4 280 1267.9 279.8 1269.4 279 1270.6 278.1 1271.7 277 1272.9 275.3 1274.2 272.5 1275.5 268.8 1276.7 265 1278 261.4 1279.2 258.4 1280.4 255.4 1281.7 252.6 1282.9 250 1284.1 247.6 1285.4 245.2 1286.7 243 1288 241.2 1289.3 239.8 1290.6 238.9 1291.9 238.6 1293 238.8 1294.2 239.4 1295.3 240.7 1296.6 243.2 1297.9 246.6 1299.2 250.5 1300.5 254.5 1302 259.2 1303.5 264.2 1305 269.5 1306.4 274.8 1307.8 280.3 1309.2 285.9 1310.5 291.2 1311.8 296.6 1313.1 301.8 1314.4 306.7 1315.7 311.1 1317 315.2 1318.2 319 1319.5 322.3 1320.9 325.3 1322.3 327.6 1323.7 329.5 1325.1 331.1 1326.5 332.6 1327.8 333.9 1329.1 334.9 1330.3 335.8 1331.6 336.4 1332.9 336.8 1334.2 337 1335.4 337.1 1336.6 337.1 1337.9 336.8 1339.1 336 1340.3 334.4 1341.6 331.8 1342.9 328.5 1344.2 324.7 1345.5 320.5 1346.8 315.9 1348.1 310.8 1349.4 305.3 1350.7 299.8 1352 294.2 1353.3 288.4 1354.6 282.4 1355.9 276.3 1357.2 270.1 1358.5 263.7 1359.7 257.3 1361 251 1362.3 244.8 1363.6 238.7 1364.9 232.7 1366.2 226.8 1367.7 219.8 1369.1 213 1370.6 207.8 1371.7 205.5 1372.9 204.3 1374 203.5 1375.4 203.2 1376.9 203.5 1378.3 204 1379.7 204.3 1381.1 204.8 1382.5 205.3 1383.9 205.7 1385.3 206.1 1386.8 206 1388.3 205.7 1389.8 205.8 1391.3 207 1392.7 209.5 1394.2 212.8 1395.6 216.5 1396.9 220 1398.2 223.9 1399.5 227.9 1400.8 232 1402.2 236.9 1403.7 241.9 1405.1 245.9 1406.6 248.2 1408 249.5 1409.5 250.2 1410.8 250.4 1412.1 250.2 1413.4 249.7 1414.7 249.3 1416.1 249.1 1417.6 248.8 1419 248.6 1420.4 248.4 1421.9 248.1 1423.3 247.9 1424.6 247.6 1426 247.3 1427.3 246.8 1428.7 246.4 1430 246.1 1431.4 245.8 1432.7 245.7 1434.1 245.8 1435.4 246.2 1436.7 246.8 1438 247.6 1439.3 248.4 1440.6 249.3 1441.9 250.4 1443.2 251.6 1444.5 252.7 1445.8 253.1 1447.1 252.8 1448.4 251.9 1449.7 250.7 1451 249.3 1452.4 247.4 1453.9 245.2 1455.3 243.7 1456.6 243 1457.9 242.7 1459.2 243.2 1460.5 245 1461.9 249 1463.4 254.4 1464.8 259.8 1466.1 264.2 1467.4 268.6 1468.7 273 1470 277.2 1471.3 281.4 1472.6 285.5 1473.9 289.4 1475.2 292.9 1476.6 296 1478 298.7 1479.3 301 1480.7 303.1 1482.1 305 1483.5 306.8 1485 308.4 1486.4 309.7 1487.8 310.9 1489.3 311.9 1490.7 312.7 1492.1 313.5 1493.5 314.1 1494.9 314.6 1496.3 314.8 1497.7 314.5 1499 313.9 1500.2 313 1501.5 311.7 1502.8 310.1 1504.2 307.9 1505.6 305.3 1507 302.2 1508.4 298.6 1509.8 294.6 1511.1 290.5 1512.4 286 1513.7 281.1 1515 275.5 1516.2 270.1 1517.3 264.2 1518.4 257.8 1519.6 251 1520.9 242.3 1522.3 232.9 1523.6 223.4 1524.7 214.9 1525.9 206.3 1527 199.2 1528.5 193 1530 189.2 1531.2 187.8 1532.3 187.5 1533.3 187.7 1534.4 188.5 1535.4 190.1 1536.7 193.7 1538 198.7 1539.3 204.3 1540.4 209.7 1541.4 215.5 1542.5 220.5 1543.7 224.4 1544.8 227.3 1546.2 229.5 1547.6 230.3 1549 230.3 1550.4 230.5 1551.7 230.8 1553.1 231 1554.4 231 1555.8 230.9 1557.1 230.6 1558.5 230.2 1559.8 229.7 1561.1 229.2 1562.3 228.7 1563.6 228 1564.8 227 1566.1 225.7 1567.3 224 1568.4 222 1569.6 219.9 1570.8 217.9 1572 215.9 1573.2 213.7 1574.3 211.8 1575.5 210.3 1576.8 209.3 1578 208.9 1579.3 208.8 1580.5 208.8 1581.8 208.7 1583.1 208.6 1584.3 208.7 1585.6 208.7 1586.8 208.4 1588.1 207.5 1589.4 205.9 1590.8 203.9 1592.1 201.2 1593.3 198.2 1594.4 194.6 1595.6 190.8 1596.8 187 1598.1 182.6 1599.4 178 1600.7 174.4 1602 172 1603.3 170.4 1604.6 170 1605.9 170.8 1607.3 172.7 1608.6 176 1609.9 180.8 1611.2 186.8 1612.5 193.3 1613.8 200.2 1615.1 207.4 1616.4 214.2 1617.6 219.7 1618.8 224.7 1620 229.4 1621.2 233.6 1622.4 237.3 1623.6 240.7 1624.7 243.6 1625.9 246.2 1627.1 248.5 1628.2 250.5 1629.4 252 1630.6 252.5 1631.8 252 1632.9 250.7 1634.1 248.7 1635.3 246.2 1636.5 243 1637.7 239.1 1638.8 234.8 1640 230.5 1641.2 226.4 1642.4 222.2 1643.6 217 1644.6 211.4 1645.6 205.9 1646.9 200.9 1648.2 197.5 1649.5 194.9 1650.7 193.1 1651.8 192.1 1653 191.7 1654.2 191.7 1655.4 192.3 1656.6 193.5 1657.7 195 1658.9 196.4 1660.2 198.1 1661.4 200 1662.7 202 1663.9 203.5 1665.2 204.3 1666.5 204.3 1667.7 203.6 1669 202.5 1670.2 201.1 1671.5 199.6 1672.8 197.8 1674 195.5 1675.3 193.1 1676.5 190.7 1677.8 188.6 1679 186.8 1680.2 185.1 1681.3 183.5 1682.5 182.3 1683.7 181.4 1684.9 180.7 1686.1 180.4 1687.3 180.7 1688.5 181.6 1689.8 183.2 1691 185.2 1692.3 187.5 1693.5 190.1 1694.7 193 1695.9 196.3 1697.1 199.7 1698.3 202.7 1699.6 205.4 1700.8 207.8 1702.1 210 1703.3 212 1704.6 213.8 1705.9 215.5 1707.2 216.9 1708.5 218.2 1709.8 219.2 1711.1 220.1 1712.4 220.8 1713.7 221.3 1715 221.7 1716.3 221.8 1717.7 221.8 1719 221.7 1720.3 221.6 1721.6 221.4 1722.9 221.2 1724.2 220.8 1725.6 220.4 1726.9 219.9 1728.2 219.3 1729.5 218.6 1730.8 217.9 1732.1 217.1 1733.4 216.2 1734.7 215.3 1736 214.5" fill="none" stroke="#2b2626" stroke-opacity="0.75" stroke-width="4.1" stroke-linejoin="round" stroke-linecap="butt"/>
<text transform="translate(952.6 50.2) scale(1 1.04)" text-anchor="end" font-size="26.4" fill="#424347" stroke="#424347" stroke-width="0.6">5</text>
<text transform="translate(952.6 133.6) scale(1 1.04)" text-anchor="end" font-size="26.4" fill="#424347" stroke="#424347" stroke-width="0.6">4</text>
<text transform="translate(952.6 217) scale(1 1.04)" text-anchor="end" font-size="26.4" fill="#424347" stroke="#424347" stroke-width="0.6">3</text>
<text transform="translate(952.6 300.4) scale(1 1.04)" text-anchor="end" font-size="26.4" fill="#424347" stroke="#424347" stroke-width="0.6">2</text>
<text transform="translate(952.6 383.8) scale(1 1.04)" text-anchor="end" font-size="26.4" fill="#424347" stroke="#424347" stroke-width="0.6">1</text>
<text transform="translate(1039.9 438.1) scale(1 1.04)" text-anchor="middle" font-size="26.4" fill="#424347" stroke="#424347" stroke-width="0.6">2010</text>
<text transform="translate(1199.2 438.1) scale(1 1.04)" text-anchor="middle" font-size="26.4" fill="#424347" stroke="#424347" stroke-width="0.6">2011</text>
<text transform="translate(1358.6 438.1) scale(1 1.04)" text-anchor="middle" font-size="26.4" fill="#424347" stroke="#424347" stroke-width="0.6">2012</text>
<text transform="translate(1517.9 438.1) scale(1 1.04)" text-anchor="middle" font-size="26.4" fill="#424347" stroke="#424347" stroke-width="0.6">2013</text>
<text transform="translate(1677.3 438.1) scale(1 1.04)" text-anchor="middle" font-size="26.4" fill="#424347" stroke="#424347" stroke-width="0.6">2014</text>
<text transform="translate(1368 473) scale(1 1.03)" text-anchor="middle" font-size="32" fill="#000" stroke="#000" stroke-width="0.4">Time</text>
<text transform="translate(921.9 209.7) rotate(-90) scale(0.985 1.04)" text-anchor="middle" font-size="32" fill="#000" stroke="#000" stroke-width="0.4">CO<tspan font-size="18.6" dy="10.6">2</tspan><tspan dy="-10.6"> (mmHg)</tspan></text>
<!-- p3 -->
<path d="M94.1 628.4H872M94.1 700H872M94.1 771.5H872M94.1 843.1H872M94.1 914.7H872M243.5 558.2V963M396.9 558.2V963M550.3 558.2V963M703.7 558.2V963M857.1 558.2V963" stroke="#ebebeb" stroke-width="1.5" fill="none"/>
<path d="M94.1 592.6H872M94.1 664.2H872M94.1 735.8H872M94.1 807.3H872M94.1 878.9H872M94.1 950.5H872M166.8 558.2V963M320.2 558.2V963M473.6 558.2V963M627 558.2V963M780.4 558.2V963" stroke="#ebebeb" stroke-width="3.0" fill="none"/>
<g fill="none" stroke="#a8bce6" stroke-width="2.35"><circle cx="145.2" cy="634" r="5.25"/><circle cx="150.1" cy="631.4" r="5.25"/><circle cx="150.7" cy="647.2" r="5.25"/><circle cx="139.9" cy="636.6" r="5.25"/><circle cx="128.7" cy="658.4" r="5.25"/><circle cx="140.8" cy="646.3" r="5.25"/><circle cx="137" cy="641.2" r="5.25"/><circle cx="142.3" cy="655.5" r="5.25"/><circle cx="153.1" cy="629.8" r="5.25"/><circle cx="149.5" cy="655.5" r="5.25"/><circle cx="132.9" cy="635.5" r="5.25"/><circle cx="136.4" cy="653.2" r="5.25"/><circle cx="144.9" cy="636" r="5.25"/><circle cx="153.4" cy="632.7" r="5.25"/><circle cx="142.5" cy="621.7" r="5.25"/><circle cx="145" cy="644.7" r="5.25"/><circle cx="129.4" cy="650" r="5.25"/><circle cx="138.6" cy="627.1" r="5.25"/><circle cx="135.8" cy="665.7" r="5.25"/><circle cx="144.7" cy="643.9" r="5.25"/><circle cx="140.4" cy="630.3" r="5.25"/><circle cx="141" cy="623.6" r="5.25"/><circle cx="128.9" cy="660.8" r="5.25"/><circle cx="154.8" cy="663.4" r="5.25"/><circle cx="135.8" cy="698.8" r="5.25"/><circle cx="136.3" cy="712.7" r="5.25"/><circle cx="156.6" cy="741.5" r="5.25"/><circle cx="157.5" cy="742.5" r="5.25"/><circle cx="211" cy="598.5" r="5.25"/><circle cx="211" cy="611.5" r="5.25"/><circle cx="211" cy="618.4" r="5.25"/><circle cx="221.4" cy="648.8" r="5.25"/><circle cx="213.2" cy="661.2" r="5.25"/><circle cx="219.9" cy="658.3" r="5.25"/><circle cx="207.6" cy="657.6" r="5.25"/><circle cx="221.4" cy="652.3" r="5.25"/><circle cx="215.3" cy="648.8" r="5.25"/><circle cx="214.6" cy="657.8" r="5.25"/><circle cx="215.8" cy="660.6" r="5.25"/><circle cx="215.4" cy="694.8" r="5.25"/><circle cx="213.6" cy="695.8" r="5.25"/><circle cx="211.8" cy="685.9" r="5.25"/><circle cx="218.5" cy="686.7" r="5.25"/><circle cx="222.5" cy="695.1" r="5.25"/><circle cx="213.8" cy="694.5" r="5.25"/><circle cx="210" cy="699.9" r="5.25"/><circle cx="225" cy="689.7" r="5.25"/><circle cx="206.2" cy="716.6" r="5.25"/><circle cx="216.1" cy="684.1" r="5.25"/><circle cx="214.1" cy="709.8" r="5.25"/><circle cx="221.8" cy="706.7" r="5.25"/><circle cx="213.9" cy="716.9" r="5.25"/><circle cx="205.6" cy="714.9" r="5.25"/><circle cx="208.5" cy="688.5" r="5.25"/><circle cx="215.2" cy="704.9" r="5.25"/><circle cx="214.5" cy="708.9" r="5.25"/><circle cx="230" cy="666.6" r="5.25"/><circle cx="229.2" cy="670.4" r="5.25"/><circle cx="226.9" cy="666.8" r="5.25"/><circle cx="230.8" cy="665.6" r="5.25"/><circle cx="227.9" cy="670" r="5.25"/><circle cx="244.6" cy="635.6" r="5.25"/><circle cx="240.3" cy="673.7" r="5.25"/><circle cx="239.9" cy="675.7" r="5.25"/><circle cx="238.9" cy="687.5" r="5.25"/><circle cx="240.4" cy="653.9" r="5.25"/><circle cx="237.5" cy="633.7" r="5.25"/><circle cx="240.6" cy="679.2" r="5.25"/><circle cx="240.2" cy="669.4" r="5.25"/><circle cx="239.9" cy="691.6" r="5.25"/><circle cx="240.6" cy="651" r="5.25"/><circle cx="239.4" cy="632.6" r="5.25"/><circle cx="241" cy="635.5" r="5.25"/><circle cx="240.7" cy="687.3" r="5.25"/><circle cx="240.8" cy="654.1" r="5.25"/><circle cx="239.7" cy="636.6" r="5.25"/><circle cx="253.4" cy="622.7" r="5.25"/><circle cx="253" cy="638.8" r="5.25"/><circle cx="255.5" cy="662.6" r="5.25"/><circle cx="254.1" cy="654.7" r="5.25"/><circle cx="258.4" cy="670.7" r="5.25"/><circle cx="259.5" cy="669.6" r="5.25"/><circle cx="256.1" cy="666.5" r="5.25"/><circle cx="255.5" cy="667" r="5.25"/><circle cx="255.3" cy="671.8" r="5.25"/><circle cx="253.8" cy="671.5" r="5.25"/><circle cx="271.3" cy="659.2" r="5.25"/><circle cx="268.9" cy="666.4" r="5.25"/><circle cx="273.5" cy="657.7" r="5.25"/><circle cx="274.5" cy="663" r="5.25"/><circle cx="280.2" cy="658.8" r="5.25"/><circle cx="265.4" cy="664.5" r="5.25"/><circle cx="272.9" cy="672.4" r="5.25"/><circle cx="265.6" cy="666" r="5.25"/><circle cx="267.8" cy="675" r="5.25"/><circle cx="280.2" cy="669.1" r="5.25"/><circle cx="268.1" cy="665.3" r="5.25"/><circle cx="269.6" cy="659.4" r="5.25"/><circle cx="267.2" cy="667" r="5.25"/><circle cx="274.8" cy="657.4" r="5.25"/><circle cx="268" cy="672" r="5.25"/><circle cx="261.4" cy="656" r="5.25"/><circle cx="271" cy="655.6" r="5.25"/><circle cx="274.6" cy="659.7" r="5.25"/><circle cx="270.1" cy="653.4" r="5.25"/><circle cx="271.1" cy="667" r="5.25"/><circle cx="266.5" cy="660.3" r="5.25"/><circle cx="284.6" cy="643.3" r="5.25"/><circle cx="286.6" cy="664.7" r="5.25"/><circle cx="281.4" cy="622.2" r="5.25"/><circle cx="285" cy="659.5" r="5.25"/><circle cx="286.1" cy="644.8" r="5.25"/><circle cx="287.4" cy="649" r="5.25"/><circle cx="285.7" cy="666.1" r="5.25"/><circle cx="284.2" cy="610" r="5.25"/><circle cx="287.2" cy="623.8" r="5.25"/><circle cx="287.2" cy="650.8" r="5.25"/><circle cx="289.6" cy="654.5" r="5.25"/><circle cx="289.5" cy="622.7" r="5.25"/><circle cx="285.1" cy="635.8" r="5.25"/><circle cx="288" cy="658.7" r="5.25"/><circle cx="285.9" cy="665.5" r="5.25"/><circle cx="283.6" cy="665.3" r="5.25"/><circle cx="286.8" cy="620.3" r="5.25"/><circle cx="292.9" cy="659.6" r="5.25"/><circle cx="295.1" cy="672.9" r="5.25"/><circle cx="295.9" cy="663.1" r="5.25"/><circle cx="295.1" cy="659.7" r="5.25"/><circle cx="295.9" cy="660.7" r="5.25"/><circle cx="295.9" cy="665.4" r="5.25"/><circle cx="292.9" cy="668.9" r="5.25"/><circle cx="291.2" cy="665.1" r="5.25"/><circle cx="256.5" cy="710.3" r="5.25"/><circle cx="280.9" cy="718" r="5.25"/><circle cx="242" cy="712.9" r="5.25"/><circle cx="267.3" cy="690.3" r="5.25"/><circle cx="288.4" cy="691" r="5.25"/><circle cx="276.4" cy="696.9" r="5.25"/><circle cx="290.7" cy="711.8" r="5.25"/><circle cx="273.8" cy="710.9" r="5.25"/><circle cx="281.1" cy="714" r="5.25"/><circle cx="272.8" cy="710.6" r="5.25"/><circle cx="265.4" cy="699.5" r="5.25"/><circle cx="277.9" cy="701.2" r="5.25"/><circle cx="287.1" cy="696.7" r="5.25"/><circle cx="242" cy="711.8" r="5.25"/><circle cx="259.2" cy="693.4" r="5.25"/><circle cx="242" cy="705" r="5.25"/><circle cx="257.2" cy="706.6" r="5.25"/><circle cx="251.7" cy="715.3" r="5.25"/><circle cx="264.1" cy="697.8" r="5.25"/><circle cx="267" cy="708" r="5.25"/><circle cx="286.4" cy="695.7" r="5.25"/><circle cx="290.6" cy="713.5" r="5.25"/><circle cx="258.9" cy="701.3" r="5.25"/><circle cx="263.7" cy="701.8" r="5.25"/><circle cx="281.1" cy="696.1" r="5.25"/><circle cx="261.4" cy="699.1" r="5.25"/><circle cx="265" cy="698.8" r="5.25"/><circle cx="242.6" cy="699.1" r="5.25"/><circle cx="282.6" cy="714.6" r="5.25"/><circle cx="275.4" cy="695.8" r="5.25"/><circle cx="256.4" cy="706.6" r="5.25"/><circle cx="250.8" cy="711.8" r="5.25"/><circle cx="254.8" cy="694.5" r="5.25"/><circle cx="278.1" cy="687.6" r="5.25"/><circle cx="263.8" cy="708.6" r="5.25"/><circle cx="252.3" cy="690" r="5.25"/><circle cx="266.2" cy="697.7" r="5.25"/><circle cx="284.6" cy="703.6" r="5.25"/><circle cx="290.8" cy="706.9" r="5.25"/><circle cx="292.2" cy="702.1" r="5.25"/><circle cx="273.5" cy="698.3" r="5.25"/><circle cx="275.6" cy="713.2" r="5.25"/><circle cx="276.2" cy="706.4" r="5.25"/><circle cx="282.1" cy="721.3" r="5.25"/><circle cx="280.9" cy="696.6" r="5.25"/><circle cx="256.9" cy="703.7" r="5.25"/><circle cx="260.4" cy="704.1" r="5.25"/><circle cx="265.8" cy="709.2" r="5.25"/><circle cx="282.8" cy="706.5" r="5.25"/><circle cx="263.9" cy="704.7" r="5.25"/><circle cx="259.9" cy="721.6" r="5.25"/><circle cx="287.7" cy="703.1" r="5.25"/><circle cx="294.5" cy="708.4" r="5.25"/><circle cx="257.8" cy="706.2" r="5.25"/><circle cx="269.7" cy="699.2" r="5.25"/><circle cx="289.7" cy="711" r="5.25"/><circle cx="265.7" cy="688.2" r="5.25"/><circle cx="286.1" cy="714.5" r="5.25"/><circle cx="249.9" cy="691" r="5.25"/><circle cx="268.5" cy="701.8" r="5.25"/><circle cx="245.1" cy="707.8" r="5.25"/><circle cx="234.2" cy="724.8" r="5.25"/><circle cx="233.7" cy="725.4" r="5.25"/><circle cx="265.2" cy="724.9" r="5.25"/><circle cx="280" cy="730.2" r="5.25"/><circle cx="262.4" cy="711.3" r="5.25"/><circle cx="246.2" cy="723.7" r="5.25"/><circle cx="231.7" cy="734.3" r="5.25"/><circle cx="229.1" cy="736.7" r="5.25"/><circle cx="265.5" cy="729" r="5.25"/><circle cx="259.7" cy="716.3" r="5.25"/><circle cx="267.5" cy="700" r="5.25"/><circle cx="261.7" cy="748.7" r="5.25"/><circle cx="267.6" cy="711.8" r="5.25"/><circle cx="232.2" cy="721.3" r="5.25"/><circle cx="228.8" cy="728" r="5.25"/><circle cx="224.6" cy="734.2" r="5.25"/><circle cx="242.7" cy="727.5" r="5.25"/><circle cx="239.7" cy="716.1" r="5.25"/><circle cx="245.3" cy="727.2" r="5.25"/><circle cx="221.1" cy="757" r="5.25"/><circle cx="246.4" cy="757" r="5.25"/><circle cx="258" cy="724.7" r="5.25"/><circle cx="244.6" cy="737.1" r="5.25"/><circle cx="207.6" cy="702.8" r="5.25"/><circle cx="242.8" cy="730.9" r="5.25"/><circle cx="236.6" cy="738" r="5.25"/><circle cx="260" cy="723.6" r="5.25"/><circle cx="240.3" cy="753.9" r="5.25"/><circle cx="254.8" cy="740.4" r="5.25"/><circle cx="236.1" cy="736.7" r="5.25"/><circle cx="249.2" cy="700" r="5.25"/><circle cx="261" cy="719.2" r="5.25"/><circle cx="238.2" cy="738.1" r="5.25"/><circle cx="248.8" cy="720.9" r="5.25"/><circle cx="246.1" cy="702.8" r="5.25"/><circle cx="254.4" cy="719.7" r="5.25"/><circle cx="241" cy="749.7" r="5.25"/><circle cx="251.9" cy="737.7" r="5.25"/><circle cx="209.7" cy="740.4" r="5.25"/><circle cx="238.9" cy="730.8" r="5.25"/><circle cx="258.3" cy="751.1" r="5.25"/><circle cx="255.4" cy="700" r="5.25"/><circle cx="225.6" cy="710.9" r="5.25"/><circle cx="228.6" cy="755.5" r="5.25"/><circle cx="250.4" cy="743.1" r="5.25"/><circle cx="249.7" cy="731.5" r="5.25"/><circle cx="251.6" cy="723.2" r="5.25"/><circle cx="244.3" cy="702.2" r="5.25"/><circle cx="245.1" cy="722" r="5.25"/><circle cx="262" cy="726" r="5.25"/><circle cx="226.1" cy="714.9" r="5.25"/><circle cx="217.9" cy="747.7" r="5.25"/><circle cx="261.5" cy="742.8" r="5.25"/><circle cx="229.2" cy="724" r="5.25"/><circle cx="255.6" cy="741" r="5.25"/><circle cx="230.8" cy="727.5" r="5.25"/><circle cx="223" cy="732" r="5.25"/><circle cx="271.2" cy="721.2" r="5.25"/><circle cx="241.8" cy="757" r="5.25"/><circle cx="233.1" cy="745.5" r="5.25"/><circle cx="247.9" cy="740.4" r="5.25"/><circle cx="260.8" cy="735.6" r="5.25"/><circle cx="260.7" cy="734.7" r="5.25"/><circle cx="231.8" cy="732.7" r="5.25"/><circle cx="239.2" cy="737.1" r="5.25"/><circle cx="248.5" cy="742.9" r="5.25"/><circle cx="240.8" cy="735.2" r="5.25"/><circle cx="242.2" cy="734.5" r="5.25"/><circle cx="246.8" cy="732" r="5.25"/><circle cx="247.8" cy="742.7" r="5.25"/><circle cx="261.6" cy="737.3" r="5.25"/><circle cx="230.9" cy="728.4" r="5.25"/><circle cx="261.1" cy="746.2" r="5.25"/><circle cx="247.1" cy="745.9" r="5.25"/><circle cx="255.9" cy="739.1" r="5.25"/><circle cx="245.7" cy="736.6" r="5.25"/><circle cx="271.6" cy="738.7" r="5.25"/><circle cx="229.8" cy="732.9" r="5.25"/><circle cx="262.5" cy="745.5" r="5.25"/><circle cx="244.7" cy="748" r="5.25"/><circle cx="247" cy="745.6" r="5.25"/><circle cx="265.1" cy="740.5" r="5.25"/><circle cx="247.4" cy="740.5" r="5.25"/><circle cx="259.5" cy="742.4" r="5.25"/><circle cx="265.5" cy="750.1" r="5.25"/><circle cx="243.1" cy="733.7" r="5.25"/><circle cx="271.6" cy="738.8" r="5.25"/><circle cx="263.4" cy="734.5" r="5.25"/><circle cx="247.2" cy="731" r="5.25"/><circle cx="252.1" cy="741.1" r="5.25"/><circle cx="241.9" cy="746.3" r="5.25"/><circle cx="252.9" cy="732" r="5.25"/><circle cx="259.2" cy="745.4" r="5.25"/><circle cx="246" cy="785.9" r="5.25"/><circle cx="245.6" cy="768.8" r="5.25"/><circle cx="247.2" cy="782.6" r="5.25"/><circle cx="243.6" cy="758.7" r="5.25"/><circle cx="247.7" cy="780.2" r="5.25"/><circle cx="244.1" cy="759" r="5.25"/><circle cx="245.8" cy="755.2" r="5.25"/><circle cx="242" cy="778.3" r="5.25"/><circle cx="246.5" cy="766.1" r="5.25"/><circle cx="244.8" cy="772.5" r="5.25"/><circle cx="243.8" cy="754" r="5.25"/><circle cx="242.9" cy="761" r="5.25"/><circle cx="245.1" cy="755" r="5.25"/><circle cx="208.4" cy="766.5" r="5.25"/><circle cx="211.9" cy="771.2" r="5.25"/><circle cx="202.6" cy="772" r="5.25"/><circle cx="200.8" cy="781.3" r="5.25"/><circle cx="203" cy="770.4" r="5.25"/><circle cx="200.2" cy="775.4" r="5.25"/><circle cx="205.4" cy="772.4" r="5.25"/><circle cx="203.7" cy="769.8" r="5.25"/><circle cx="201.8" cy="781" r="5.25"/><circle cx="205.4" cy="770.5" r="5.25"/><circle cx="210" cy="777.8" r="5.25"/><circle cx="208.7" cy="776.3" r="5.25"/><circle cx="202.9" cy="759.7" r="5.25"/><circle cx="205.8" cy="761.2" r="5.25"/><circle cx="207" cy="758.8" r="5.25"/><circle cx="208.5" cy="776.4" r="5.25"/><circle cx="204.1" cy="776.1" r="5.25"/><circle cx="200" cy="770" r="5.25"/><circle cx="207.1" cy="770" r="5.25"/><circle cx="207.6" cy="800.8" r="5.25"/><circle cx="225.4" cy="739.9" r="5.25"/><circle cx="224.3" cy="757" r="5.25"/><circle cx="226.3" cy="757" r="5.25"/><circle cx="226.3" cy="751.4" r="5.25"/><circle cx="223.4" cy="751.1" r="5.25"/><circle cx="231.4" cy="738.7" r="5.25"/><circle cx="230" cy="740.6" r="5.25"/><circle cx="267.8" cy="759.7" r="5.25"/><circle cx="269.9" cy="741" r="5.25"/><circle cx="272.4" cy="740" r="5.25"/><circle cx="269.9" cy="750.5" r="5.25"/><circle cx="267.6" cy="742.1" r="5.25"/><circle cx="299.5" cy="749.8" r="5.25"/><circle cx="304.9" cy="735" r="5.25"/><circle cx="311.4" cy="759.9" r="5.25"/><circle cx="317.9" cy="727.7" r="5.25"/><circle cx="301.1" cy="747.2" r="5.25"/><circle cx="303.2" cy="734" r="5.25"/><circle cx="296.1" cy="755.2" r="5.25"/><circle cx="306" cy="732.8" r="5.25"/><circle cx="298.4" cy="747.9" r="5.25"/><circle cx="302.1" cy="717" r="5.25"/><circle cx="311.9" cy="731" r="5.25"/><circle cx="305.9" cy="758" r="5.25"/><circle cx="306.9" cy="741.5" r="5.25"/><circle cx="308.2" cy="740.3" r="5.25"/><circle cx="312.2" cy="749.4" r="5.25"/><circle cx="316.8" cy="762" r="5.25"/><circle cx="296.9" cy="727" r="5.25"/><circle cx="293.4" cy="738.5" r="5.25"/><circle cx="310" cy="734.2" r="5.25"/><circle cx="311.4" cy="747.4" r="5.25"/><circle cx="316.8" cy="731.4" r="5.25"/><circle cx="312.1" cy="721.8" r="5.25"/><circle cx="319.5" cy="722.2" r="5.25"/><circle cx="310" cy="746.9" r="5.25"/><circle cx="301" cy="741.8" r="5.25"/><circle cx="313.8" cy="749.1" r="5.25"/><circle cx="299" cy="721.3" r="5.25"/><circle cx="300.6" cy="729.2" r="5.25"/><circle cx="309.2" cy="733.3" r="5.25"/><circle cx="304" cy="749.1" r="5.25"/><circle cx="322.2" cy="587.3" r="5.25"/><circle cx="322.2" cy="596" r="5.25"/><circle cx="324.6" cy="628.7" r="5.25"/><circle cx="321.7" cy="627.9" r="5.25"/><circle cx="317.7" cy="629.5" r="5.25"/><circle cx="323.4" cy="612.7" r="5.25"/><circle cx="320.2" cy="620.2" r="5.25"/><circle cx="326.7" cy="626.2" r="5.25"/><circle cx="330.8" cy="628.5" r="5.25"/><circle cx="323.1" cy="628.9" r="5.25"/><circle cx="317.1" cy="631.2" r="5.25"/><circle cx="332" cy="609.7" r="5.25"/><circle cx="325.5" cy="617.8" r="5.25"/><circle cx="325.1" cy="620.7" r="5.25"/><circle cx="323.1" cy="628.3" r="5.25"/><circle cx="339" cy="609" r="5.25"/><circle cx="340.7" cy="616.7" r="5.25"/><circle cx="340.7" cy="621.9" r="5.25"/><circle cx="337.6" cy="636.6" r="5.25"/><circle cx="383.3" cy="594.7" r="5.25"/><circle cx="386.6" cy="585.9" r="5.25"/><circle cx="383" cy="589.4" r="5.25"/><circle cx="383.2" cy="619.6" r="5.25"/><circle cx="381.3" cy="589.7" r="5.25"/><circle cx="386.4" cy="613.8" r="5.25"/><circle cx="383.7" cy="593.5" r="5.25"/><circle cx="383.4" cy="613.6" r="5.25"/><circle cx="382.6" cy="606.1" r="5.25"/><circle cx="383.7" cy="613.3" r="5.25"/><circle cx="383.1" cy="606.7" r="5.25"/><circle cx="385.4" cy="601.7" r="5.25"/><circle cx="382.4" cy="614.6" r="5.25"/><circle cx="383" cy="604" r="5.25"/><circle cx="382.8" cy="611.9" r="5.25"/><circle cx="384.5" cy="604.4" r="5.25"/><circle cx="384.1" cy="594.1" r="5.25"/><circle cx="385.1" cy="585.7" r="5.25"/><circle cx="384.4" cy="587.5" r="5.25"/><circle cx="384.5" cy="612.1" r="5.25"/><circle cx="383.7" cy="584.4" r="5.25"/><circle cx="385" cy="585.9" r="5.25"/><circle cx="384.3" cy="618.9" r="5.25"/><circle cx="384.1" cy="604.4" r="5.25"/><circle cx="385.7" cy="641.8" r="5.25"/><circle cx="380" cy="666" r="5.25"/><circle cx="381.7" cy="675.5" r="5.25"/><circle cx="356.1" cy="640.3" r="5.25"/><circle cx="358.7" cy="649.8" r="5.25"/><circle cx="357.7" cy="654.4" r="5.25"/><circle cx="357.7" cy="622" r="5.25"/><circle cx="362.9" cy="643.9" r="5.25"/><circle cx="357.9" cy="644.4" r="5.25"/><circle cx="355" cy="651.2" r="5.25"/><circle cx="358" cy="657.3" r="5.25"/><circle cx="356.5" cy="653" r="5.25"/><circle cx="354.6" cy="635.7" r="5.25"/><circle cx="364.2" cy="652.4" r="5.25"/><circle cx="365.1" cy="635.9" r="5.25"/><circle cx="354.9" cy="653.1" r="5.25"/><circle cx="366.7" cy="642.5" r="5.25"/><circle cx="367.7" cy="642.4" r="5.25"/><circle cx="355.2" cy="646" r="5.25"/><circle cx="362.2" cy="626.5" r="5.25"/><circle cx="359.5" cy="640.8" r="5.25"/><circle cx="363.8" cy="631" r="5.25"/><circle cx="352.8" cy="654.9" r="5.25"/><circle cx="363" cy="658.8" r="5.25"/><circle cx="313.1" cy="703.4" r="5.25"/><circle cx="307.9" cy="680.7" r="5.25"/><circle cx="329.2" cy="697.7" r="5.25"/><circle cx="321.4" cy="703.1" r="5.25"/><circle cx="318" cy="692.4" r="5.25"/><circle cx="346" cy="703.1" r="5.25"/><circle cx="322.9" cy="708.3" r="5.25"/><circle cx="317.1" cy="720.2" r="5.25"/><circle cx="324.2" cy="701.6" r="5.25"/><circle cx="329.6" cy="685.2" r="5.25"/><circle cx="341.9" cy="680.7" r="5.25"/><circle cx="329.8" cy="699.8" r="5.25"/><circle cx="314.9" cy="710.8" r="5.25"/><circle cx="322.2" cy="713.1" r="5.25"/><circle cx="344.5" cy="702.5" r="5.25"/><circle cx="310.3" cy="694.6" r="5.25"/><circle cx="326.4" cy="694.2" r="5.25"/><circle cx="338.1" cy="700" r="5.25"/><circle cx="329.5" cy="702.4" r="5.25"/><circle cx="324.9" cy="707.7" r="5.25"/><circle cx="318.5" cy="702.8" r="5.25"/><circle cx="328.4" cy="722" r="5.25"/><circle cx="331.9" cy="703.1" r="5.25"/><circle cx="329.1" cy="706.6" r="5.25"/><circle cx="336.7" cy="712.3" r="5.25"/><circle cx="328.9" cy="711.3" r="5.25"/><circle cx="339.3" cy="694.9" r="5.25"/><circle cx="328.3" cy="684.8" r="5.25"/><circle cx="335.7" cy="688.1" r="5.25"/><circle cx="323.9" cy="705.4" r="5.25"/><circle cx="343.6" cy="707.7" r="5.25"/><circle cx="339" cy="705.1" r="5.25"/><circle cx="333.6" cy="709.8" r="5.25"/><circle cx="317.6" cy="715" r="5.25"/><circle cx="342.5" cy="655.6" r="5.25"/><circle cx="345.9" cy="664.2" r="5.25"/><circle cx="378.8" cy="666" r="5.25"/><circle cx="378.8" cy="677.2" r="5.25"/><circle cx="369.6" cy="693.4" r="5.25"/><circle cx="384" cy="697.2" r="5.25"/><circle cx="384" cy="696" r="5.25"/><circle cx="377.7" cy="708" r="5.25"/><circle cx="372.7" cy="693.1" r="5.25"/><circle cx="375" cy="699.3" r="5.25"/><circle cx="366.3" cy="695.5" r="5.25"/><circle cx="373.8" cy="706" r="5.25"/><circle cx="332.1" cy="720.7" r="5.25"/><circle cx="345.9" cy="713.8" r="5.25"/><circle cx="346.3" cy="744.6" r="5.25"/><circle cx="375.3" cy="753.6" r="5.25"/><circle cx="377" cy="760.5" r="5.25"/><circle cx="380.1" cy="715" r="5.25"/><circle cx="368.9" cy="721.7" r="5.25"/><circle cx="371.2" cy="717" r="5.25"/><circle cx="376.7" cy="718.8" r="5.25"/><circle cx="372.8" cy="720.8" r="5.25"/><circle cx="377.4" cy="716.5" r="5.25"/><circle cx="375.8" cy="729.3" r="5.25"/><circle cx="370.8" cy="706.6" r="5.25"/><circle cx="225.4" cy="846.1" r="5.25"/><circle cx="208.3" cy="800.9" r="5.25"/><circle cx="225.1" cy="847.1" r="5.25"/><circle cx="207.5" cy="873.5" r="5.25"/><circle cx="208.5" cy="887.8" r="5.25"/><circle cx="223.6" cy="914.5" r="5.25"/><circle cx="140.8" cy="931.9" r="5.25"/><circle cx="344.4" cy="903.3" r="5.25"/><circle cx="381.3" cy="875.1" r="5.25"/><circle cx="378.4" cy="945.1" r="5.25"/><circle cx="485.2" cy="863.1" r="5.25"/><circle cx="448" cy="617.2" r="5.25"/><circle cx="399.9" cy="680.7" r="5.25"/><circle cx="402.5" cy="745.3" r="5.25"/><circle cx="427.6" cy="738" r="5.25"/><circle cx="428" cy="739" r="5.25"/><circle cx="425" cy="765.7" r="5.25"/><circle cx="401.6" cy="723.7" r="5.25"/><circle cx="399.8" cy="718.6" r="5.25"/><circle cx="401.5" cy="722.3" r="5.25"/><circle cx="402.3" cy="722.4" r="5.25"/><circle cx="493.7" cy="654" r="5.25"/><circle cx="498" cy="667.5" r="5.25"/><circle cx="499.1" cy="663" r="5.25"/><circle cx="498.6" cy="673.8" r="5.25"/><circle cx="496" cy="671.7" r="5.25"/><circle cx="496" cy="667.6" r="5.25"/><circle cx="485.7" cy="656.5" r="5.25"/><circle cx="491" cy="665.3" r="5.25"/><circle cx="493.8" cy="663.9" r="5.25"/><circle cx="499.2" cy="651.8" r="5.25"/><circle cx="500.1" cy="652.7" r="5.25"/><circle cx="495.3" cy="656.1" r="5.25"/><circle cx="489.6" cy="669.2" r="5.25"/><circle cx="496.9" cy="658.4" r="5.25"/><circle cx="499.2" cy="651.9" r="5.25"/><circle cx="498.1" cy="661.5" r="5.25"/><circle cx="491.5" cy="664.9" r="5.25"/><circle cx="489.8" cy="653" r="5.25"/><circle cx="490.6" cy="673.4" r="5.25"/><circle cx="499.3" cy="677.2" r="5.25"/><circle cx="499.3" cy="683.3" r="5.25"/><circle cx="489.3" cy="696.8" r="5.25"/><circle cx="515.7" cy="665.1" r="5.25"/><circle cx="516.6" cy="672" r="5.25"/><circle cx="517.5" cy="679.8" r="5.25"/><circle cx="519.8" cy="700" r="5.25"/><circle cx="526.8" cy="692.2" r="5.25"/><circle cx="525.4" cy="700.1" r="5.25"/><circle cx="519.9" cy="694.7" r="5.25"/><circle cx="522.3" cy="698.7" r="5.25"/><circle cx="522.8" cy="700.7" r="5.25"/><circle cx="521.3" cy="699.2" r="5.25"/><circle cx="525.6" cy="704.1" r="5.25"/><circle cx="508.4" cy="715.5" r="5.25"/><circle cx="505.5" cy="741.5" r="5.25"/><circle cx="519.7" cy="712.3" r="5.25"/><circle cx="513.7" cy="738.4" r="5.25"/><circle cx="508" cy="734.2" r="5.25"/><circle cx="509" cy="728.2" r="5.25"/><circle cx="506.3" cy="713.7" r="5.25"/><circle cx="509.4" cy="739.5" r="5.25"/><circle cx="502.6" cy="731.8" r="5.25"/><circle cx="520.4" cy="708.1" r="5.25"/><circle cx="516.9" cy="705" r="5.25"/><circle cx="495.9" cy="717.7" r="5.25"/><circle cx="502.6" cy="715.8" r="5.25"/><circle cx="508.6" cy="730.9" r="5.25"/><circle cx="504.7" cy="725.4" r="5.25"/><circle cx="495.9" cy="727.1" r="5.25"/><circle cx="513.4" cy="719.2" r="5.25"/><circle cx="501.1" cy="733.2" r="5.25"/><circle cx="513.3" cy="718.6" r="5.25"/><circle cx="511.8" cy="709.6" r="5.25"/><circle cx="518.8" cy="705" r="5.25"/><circle cx="488.9" cy="750.1" r="5.25"/><circle cx="489.2" cy="752" r="5.25"/><circle cx="502.4" cy="759.7" r="5.25"/><circle cx="502.8" cy="771.8" r="5.25"/><circle cx="502.6" cy="762" r="5.25"/><circle cx="502.8" cy="768.5" r="5.25"/><circle cx="487.1" cy="786.8" r="5.25"/><circle cx="485.4" cy="788" r="5.25"/><circle cx="483.7" cy="811.7" r="5.25"/><circle cx="485" cy="784.4" r="5.25"/><circle cx="485.7" cy="802.2" r="5.25"/><circle cx="487.4" cy="782" r="5.25"/><circle cx="483.1" cy="783.5" r="5.25"/><circle cx="485.7" cy="802.3" r="5.25"/><circle cx="487.4" cy="790.4" r="5.25"/><circle cx="487" cy="793.2" r="5.25"/><circle cx="487.6" cy="784.8" r="5.25"/><circle cx="489.3" cy="810.8" r="5.25"/><circle cx="485" cy="803.3" r="5.25"/><circle cx="485.4" cy="785.4" r="5.25"/><circle cx="488" cy="789.6" r="5.25"/><circle cx="488.8" cy="786.2" r="5.25"/><circle cx="486.9" cy="806" r="5.25"/><circle cx="544" cy="743.6" r="5.25"/><circle cx="541.8" cy="740.5" r="5.25"/><circle cx="539.9" cy="749.5" r="5.25"/><circle cx="541.1" cy="744.6" r="5.25"/><circle cx="544.8" cy="763.1" r="5.25"/><circle cx="539.9" cy="739.1" r="5.25"/><circle cx="539.5" cy="770.4" r="5.25"/><circle cx="542.3" cy="772.1" r="5.25"/><circle cx="540" cy="775.6" r="5.25"/><circle cx="537.8" cy="739.4" r="5.25"/><circle cx="559" cy="639.2" r="5.25"/><circle cx="573.3" cy="635.4" r="5.25"/><circle cx="559.5" cy="645" r="5.25"/><circle cx="573" cy="645" r="5.25"/><circle cx="577.8" cy="667.8" r="5.25"/><circle cx="570.8" cy="645.1" r="5.25"/><circle cx="580.6" cy="695.5" r="5.25"/><circle cx="565.8" cy="675" r="5.25"/><circle cx="572.9" cy="698.3" r="5.25"/><circle cx="551.2" cy="705.9" r="5.25"/><circle cx="563.1" cy="677.6" r="5.25"/><circle cx="561.1" cy="679.8" r="5.25"/><circle cx="575.2" cy="698.6" r="5.25"/><circle cx="565.7" cy="679.1" r="5.25"/><circle cx="571.7" cy="646.2" r="5.25"/><circle cx="561.3" cy="695.4" r="5.25"/><circle cx="557" cy="689.7" r="5.25"/><circle cx="566" cy="672.6" r="5.25"/><circle cx="576.4" cy="693.4" r="5.25"/><circle cx="566.3" cy="676.1" r="5.25"/><circle cx="578.4" cy="675.5" r="5.25"/><circle cx="564.2" cy="698.4" r="5.25"/><circle cx="564" cy="656.8" r="5.25"/><circle cx="564" cy="652.1" r="5.25"/><circle cx="564.8" cy="680.1" r="5.25"/><circle cx="561.5" cy="657.7" r="5.25"/><circle cx="564.9" cy="699.4" r="5.25"/><circle cx="560.6" cy="668.7" r="5.25"/><circle cx="559" cy="649.8" r="5.25"/><circle cx="578" cy="675.1" r="5.25"/><circle cx="573.2" cy="645" r="5.25"/><circle cx="564.4" cy="708.9" r="5.25"/><circle cx="562.2" cy="682.2" r="5.25"/><circle cx="555" cy="695.8" r="5.25"/><circle cx="571.1" cy="692.7" r="5.25"/><circle cx="561.7" cy="686.6" r="5.25"/><circle cx="580.6" cy="662.9" r="5.25"/><circle cx="553.7" cy="697.8" r="5.25"/><circle cx="569.2" cy="676.4" r="5.25"/><circle cx="575.8" cy="668.2" r="5.25"/><circle cx="562.7" cy="645" r="5.25"/><circle cx="580.6" cy="707.2" r="5.25"/><circle cx="574.2" cy="678.3" r="5.25"/><circle cx="574.1" cy="674.9" r="5.25"/><circle cx="560.3" cy="646.4" r="5.25"/><circle cx="574.4" cy="700.6" r="5.25"/><circle cx="574.3" cy="680.7" r="5.25"/><circle cx="567.8" cy="702" r="5.25"/><circle cx="580.2" cy="682.1" r="5.25"/><circle cx="569.3" cy="666.6" r="5.25"/><circle cx="551.2" cy="693.6" r="5.25"/><circle cx="569.4" cy="652.8" r="5.25"/><circle cx="579.9" cy="653.2" r="5.25"/><circle cx="562.3" cy="681.5" r="5.25"/><circle cx="572.4" cy="697" r="5.25"/><circle cx="562.1" cy="704" r="5.25"/><circle cx="566.8" cy="681" r="5.25"/><circle cx="551.2" cy="680.5" r="5.25"/><circle cx="553.3" cy="686.7" r="5.25"/><circle cx="564.6" cy="678.8" r="5.25"/><circle cx="562.5" cy="673.2" r="5.25"/><circle cx="552.8" cy="692.3" r="5.25"/><circle cx="572" cy="673.2" r="5.25"/><circle cx="569.4" cy="678.6" r="5.25"/><circle cx="603.1" cy="617.6" r="5.25"/><circle cx="603.1" cy="626.2" r="5.25"/><circle cx="621.7" cy="663.5" r="5.25"/><circle cx="610.1" cy="704.3" r="5.25"/><circle cx="601.4" cy="694.2" r="5.25"/><circle cx="615.8" cy="686.4" r="5.25"/><circle cx="605.8" cy="676.7" r="5.25"/><circle cx="615.5" cy="676.2" r="5.25"/><circle cx="597.3" cy="699.2" r="5.25"/><circle cx="598.4" cy="681.2" r="5.25"/><circle cx="590.6" cy="680" r="5.25"/><circle cx="620.8" cy="717.3" r="5.25"/><circle cx="624.1" cy="682.6" r="5.25"/><circle cx="621.6" cy="674.5" r="5.25"/><circle cx="611.7" cy="675.2" r="5.25"/><circle cx="609.8" cy="705.4" r="5.25"/><circle cx="604.7" cy="669.8" r="5.25"/><circle cx="614.4" cy="670.2" r="5.25"/><circle cx="605.3" cy="701.8" r="5.25"/><circle cx="595.5" cy="703.2" r="5.25"/><circle cx="619.2" cy="708.1" r="5.25"/><circle cx="618" cy="662.6" r="5.25"/><circle cx="613.6" cy="688.6" r="5.25"/><circle cx="606.7" cy="668.4" r="5.25"/><circle cx="602.9" cy="688.2" r="5.25"/><circle cx="608.5" cy="648.1" r="5.25"/><circle cx="609.9" cy="675.9" r="5.25"/><circle cx="593.7" cy="701.6" r="5.25"/><circle cx="602.1" cy="684" r="5.25"/><circle cx="595" cy="640" r="5.25"/><circle cx="620.5" cy="699.9" r="5.25"/><circle cx="591.5" cy="687.2" r="5.25"/><circle cx="593.2" cy="674.4" r="5.25"/><circle cx="597" cy="679.8" r="5.25"/><circle cx="609.2" cy="673.4" r="5.25"/><circle cx="596.4" cy="703.1" r="5.25"/><circle cx="627.9" cy="679.2" r="5.25"/><circle cx="615.9" cy="647.7" r="5.25"/><circle cx="584" cy="662.8" r="5.25"/><circle cx="609.9" cy="712.7" r="5.25"/><circle cx="611.4" cy="702.6" r="5.25"/><circle cx="592.4" cy="696" r="5.25"/><circle cx="606.2" cy="664.1" r="5.25"/><circle cx="608.3" cy="690.9" r="5.25"/><circle cx="599.7" cy="700.7" r="5.25"/><circle cx="606" cy="682" r="5.25"/><circle cx="611.2" cy="694.8" r="5.25"/><circle cx="601.2" cy="703" r="5.25"/><circle cx="606.5" cy="701" r="5.25"/><circle cx="593.1" cy="689.3" r="5.25"/><circle cx="614.6" cy="689.5" r="5.25"/><circle cx="599.7" cy="655.4" r="5.25"/><circle cx="621.5" cy="674.3" r="5.25"/><circle cx="630.7" cy="697" r="5.25"/><circle cx="626.9" cy="714.5" r="5.25"/><circle cx="601.7" cy="683.9" r="5.25"/><circle cx="612.2" cy="702.1" r="5.25"/><circle cx="604.1" cy="680.5" r="5.25"/><circle cx="612.6" cy="660.8" r="5.25"/><circle cx="597.4" cy="689" r="5.25"/><circle cx="595.3" cy="689.5" r="5.25"/><circle cx="606.6" cy="662.4" r="5.25"/><circle cx="615.4" cy="653" r="5.25"/><circle cx="619.8" cy="645.3" r="5.25"/><circle cx="617.1" cy="651.8" r="5.25"/><circle cx="622" cy="666" r="5.25"/><circle cx="613.1" cy="655.9" r="5.25"/><circle cx="623.5" cy="649.4" r="5.25"/><circle cx="616.6" cy="671.8" r="5.25"/><circle cx="621.3" cy="667.8" r="5.25"/><circle cx="612.1" cy="656.1" r="5.25"/><circle cx="624" cy="639.5" r="5.25"/><circle cx="620.5" cy="667.8" r="5.25"/><circle cx="629" cy="667.9" r="5.25"/><circle cx="611.7" cy="650.2" r="5.25"/><circle cx="610.9" cy="669" r="5.25"/><circle cx="623" cy="648" r="5.25"/><circle cx="623.9" cy="653.2" r="5.25"/><circle cx="611.1" cy="651.4" r="5.25"/><circle cx="622.1" cy="657.4" r="5.25"/><circle cx="624" cy="654.4" r="5.25"/><circle cx="626.3" cy="669.1" r="5.25"/><circle cx="620.2" cy="652.5" r="5.25"/><circle cx="612.2" cy="659.8" r="5.25"/><circle cx="610.3" cy="656.1" r="5.25"/><circle cx="629" cy="658" r="5.25"/><circle cx="621.5" cy="648" r="5.25"/><circle cx="624.3" cy="655.4" r="5.25"/><circle cx="618.1" cy="668.6" r="5.25"/><circle cx="618.5" cy="663.4" r="5.25"/><circle cx="618.6" cy="644.8" r="5.25"/><circle cx="615.1" cy="651.9" r="5.25"/><circle cx="637.6" cy="680.9" r="5.25"/><circle cx="638.2" cy="676.3" r="5.25"/><circle cx="638.3" cy="668.9" r="5.25"/><circle cx="637.2" cy="646.5" r="5.25"/><circle cx="640.6" cy="664.2" r="5.25"/><circle cx="641.5" cy="642.6" r="5.25"/><circle cx="640" cy="681.5" r="5.25"/><circle cx="638.7" cy="668.3" r="5.25"/><circle cx="640" cy="653.5" r="5.25"/><circle cx="638.1" cy="655.9" r="5.25"/><circle cx="641.7" cy="652.6" r="5.25"/><circle cx="644.4" cy="675.2" r="5.25"/><circle cx="634.3" cy="664" r="5.25"/><circle cx="640.4" cy="639.1" r="5.25"/><circle cx="639.7" cy="638.5" r="5.25"/><circle cx="640" cy="672.1" r="5.25"/><circle cx="639.1" cy="648" r="5.25"/><circle cx="657" cy="701.8" r="5.25"/><circle cx="643.8" cy="700.3" r="5.25"/><circle cx="645.4" cy="694.6" r="5.25"/><circle cx="650.2" cy="714.1" r="5.25"/><circle cx="634.4" cy="706.3" r="5.25"/><circle cx="662.7" cy="704.2" r="5.25"/><circle cx="639.3" cy="688.3" r="5.25"/><circle cx="652.2" cy="689.7" r="5.25"/><circle cx="655.2" cy="710.5" r="5.25"/><circle cx="670.5" cy="700.4" r="5.25"/><circle cx="655.5" cy="691.4" r="5.25"/><circle cx="659.1" cy="701.4" r="5.25"/><circle cx="645.7" cy="698.1" r="5.25"/><circle cx="649.3" cy="692.8" r="5.25"/><circle cx="650.6" cy="695.8" r="5.25"/><circle cx="661.4" cy="706.6" r="5.25"/><circle cx="640.8" cy="701.7" r="5.25"/><circle cx="654.8" cy="688" r="5.25"/><circle cx="670.5" cy="689.4" r="5.25"/><circle cx="641.1" cy="701.2" r="5.25"/><circle cx="632.4" cy="685.8" r="5.25"/><circle cx="645.6" cy="699.3" r="5.25"/><circle cx="649.4" cy="696.4" r="5.25"/><circle cx="667.4" cy="682.8" r="5.25"/><circle cx="655.6" cy="674" r="5.25"/><circle cx="662.2" cy="688.1" r="5.25"/><circle cx="643.7" cy="697.5" r="5.25"/><circle cx="650.4" cy="697.6" r="5.25"/><circle cx="653.7" cy="712.1" r="5.25"/><circle cx="642.4" cy="697.7" r="5.25"/><circle cx="653.7" cy="696.8" r="5.25"/><circle cx="648" cy="701.9" r="5.25"/><circle cx="653.1" cy="692.5" r="5.25"/><circle cx="636.9" cy="717.4" r="5.25"/><circle cx="630.7" cy="690.9" r="5.25"/><circle cx="664.5" cy="687.6" r="5.25"/><circle cx="651.3" cy="691.7" r="5.25"/><circle cx="650" cy="711.4" r="5.25"/><circle cx="670.5" cy="690.9" r="5.25"/><circle cx="661.1" cy="688.7" r="5.25"/><circle cx="655.5" cy="704.2" r="5.25"/><circle cx="644.4" cy="711" r="5.25"/><circle cx="576.6" cy="735.5" r="5.25"/><circle cx="588.1" cy="713.7" r="5.25"/><circle cx="574.1" cy="732" r="5.25"/><circle cx="595.4" cy="729.2" r="5.25"/><circle cx="569.7" cy="700" r="5.25"/><circle cx="578" cy="725.3" r="5.25"/><circle cx="576.4" cy="734.4" r="5.25"/><circle cx="571.2" cy="734.1" r="5.25"/><circle cx="580" cy="731.8" r="5.25"/><circle cx="587.7" cy="744" r="5.25"/><circle cx="572.2" cy="726" r="5.25"/><circle cx="600.5" cy="716.6" r="5.25"/><circle cx="583.3" cy="739" r="5.25"/><circle cx="584.2" cy="753.6" r="5.25"/><circle cx="572.7" cy="722.3" r="5.25"/><circle cx="580" cy="747.2" r="5.25"/><circle cx="589.9" cy="724.5" r="5.25"/><circle cx="570.3" cy="706.9" r="5.25"/><circle cx="573.5" cy="714.8" r="5.25"/><circle cx="572.1" cy="715.3" r="5.25"/><circle cx="567.1" cy="742.5" r="5.25"/><circle cx="587.2" cy="728.2" r="5.25"/><circle cx="572.3" cy="719.5" r="5.25"/><circle cx="597.7" cy="728.6" r="5.25"/><circle cx="567.6" cy="745.6" r="5.25"/><circle cx="577.1" cy="725.8" r="5.25"/><circle cx="581.1" cy="717.2" r="5.25"/><circle cx="570.3" cy="731.6" r="5.25"/><circle cx="559.8" cy="715.6" r="5.25"/><circle cx="573.8" cy="733.6" r="5.25"/><circle cx="580.4" cy="740.1" r="5.25"/><circle cx="570.7" cy="729.3" r="5.25"/><circle cx="583.4" cy="721" r="5.25"/><circle cx="561.3" cy="728.4" r="5.25"/><circle cx="583.7" cy="707.8" r="5.25"/><circle cx="601.3" cy="747.9" r="5.25"/><circle cx="590.6" cy="753.6" r="5.25"/><circle cx="590.9" cy="727.1" r="5.25"/><circle cx="576.9" cy="700" r="5.25"/><circle cx="576.2" cy="717.7" r="5.25"/><circle cx="592.3" cy="707.4" r="5.25"/><circle cx="577.1" cy="701.6" r="5.25"/><circle cx="646.2" cy="746.1" r="5.25"/><circle cx="646.1" cy="768.9" r="5.25"/><circle cx="645.1" cy="758" r="5.25"/><circle cx="648.9" cy="722.1" r="5.25"/><circle cx="646.6" cy="723.5" r="5.25"/><circle cx="644.3" cy="766.4" r="5.25"/><circle cx="647.4" cy="720.4" r="5.25"/><circle cx="643.7" cy="727" r="5.25"/><circle cx="645.7" cy="721" r="5.25"/><circle cx="644.7" cy="729.3" r="5.25"/><circle cx="647.2" cy="756.7" r="5.25"/><circle cx="645.9" cy="736.4" r="5.25"/><circle cx="645.2" cy="718.6" r="5.25"/><circle cx="647.1" cy="758.8" r="5.25"/><circle cx="647.5" cy="754.4" r="5.25"/><circle cx="647" cy="751.9" r="5.25"/><circle cx="649" cy="755.5" r="5.25"/><circle cx="644.2" cy="757.6" r="5.25"/><circle cx="647.4" cy="729.4" r="5.25"/><circle cx="650.2" cy="717.9" r="5.25"/><circle cx="646.5" cy="742.2" r="5.25"/><circle cx="641.6" cy="718.1" r="5.25"/><circle cx="648.6" cy="743.7" r="5.25"/><circle cx="646.1" cy="769.9" r="5.25"/><circle cx="647.9" cy="723.9" r="5.25"/><circle cx="647.1" cy="760.8" r="5.25"/><circle cx="647.9" cy="756" r="5.25"/><circle cx="649.2" cy="771.2" r="5.25"/><circle cx="646.8" cy="750.6" r="5.25"/><circle cx="648.2" cy="760.9" r="5.25"/><circle cx="666.9" cy="748.9" r="5.25"/><circle cx="661.5" cy="724.1" r="5.25"/><circle cx="655" cy="734.3" r="5.25"/><circle cx="674.1" cy="755.5" r="5.25"/><circle cx="664.2" cy="751.7" r="5.25"/><circle cx="657.3" cy="752.1" r="5.25"/><circle cx="663.8" cy="729.1" r="5.25"/><circle cx="668.3" cy="749.6" r="5.25"/><circle cx="655.1" cy="766.6" r="5.25"/><circle cx="668.9" cy="746.2" r="5.25"/><circle cx="668" cy="765.2" r="5.25"/><circle cx="670.9" cy="758.2" r="5.25"/><circle cx="668" cy="757.6" r="5.25"/><circle cx="661.5" cy="735.9" r="5.25"/><circle cx="657.3" cy="736.2" r="5.25"/><circle cx="666.6" cy="735.9" r="5.25"/><circle cx="664.5" cy="762.2" r="5.25"/><circle cx="677.9" cy="763.7" r="5.25"/><circle cx="666" cy="730.6" r="5.25"/><circle cx="670.6" cy="727" r="5.25"/><circle cx="668.3" cy="747.4" r="5.25"/><circle cx="656.5" cy="764.5" r="5.25"/><circle cx="672.8" cy="749.5" r="5.25"/><circle cx="664.9" cy="754.8" r="5.25"/><circle cx="658.5" cy="752.6" r="5.25"/><circle cx="670.6" cy="754" r="5.25"/><circle cx="675.9" cy="743.7" r="5.25"/><circle cx="667.1" cy="752.6" r="5.25"/><circle cx="666" cy="755.5" r="5.25"/><circle cx="663.7" cy="744" r="5.25"/><circle cx="665.1" cy="769.9" r="5.25"/><circle cx="675.1" cy="730.3" r="5.25"/><circle cx="668.4" cy="740" r="5.25"/><circle cx="670.6" cy="733.4" r="5.25"/><circle cx="671.6" cy="761" r="5.25"/><circle cx="655" cy="761.3" r="5.25"/><circle cx="668.9" cy="734.8" r="5.25"/><circle cx="671.6" cy="746.7" r="5.25"/><circle cx="683.3" cy="696.8" r="5.25"/><circle cx="683" cy="713.5" r="5.25"/><circle cx="683" cy="713.8" r="5.25"/><circle cx="691.6" cy="722.5" r="5.25"/><circle cx="693.4" cy="729.4" r="5.25"/><circle cx="693.4" cy="735.4" r="5.25"/><circle cx="738.3" cy="703.1" r="5.25"/><circle cx="738.3" cy="710.1" r="5.25"/><circle cx="716.4" cy="719.2" r="5.25"/><circle cx="710.9" cy="730.7" r="5.25"/><circle cx="714.3" cy="730.9" r="5.25"/><circle cx="721.1" cy="708.8" r="5.25"/><circle cx="722.5" cy="730.2" r="5.25"/><circle cx="714.7" cy="730.4" r="5.25"/><circle cx="719.1" cy="721.2" r="5.25"/><circle cx="724.1" cy="739.5" r="5.25"/><circle cx="727.4" cy="725.6" r="5.25"/><circle cx="721.2" cy="714.8" r="5.25"/><circle cx="714.3" cy="737.5" r="5.25"/><circle cx="709.7" cy="748.6" r="5.25"/><circle cx="719.5" cy="709.5" r="5.25"/><circle cx="717.3" cy="724" r="5.25"/><circle cx="715.6" cy="736.7" r="5.25"/><circle cx="715" cy="733.1" r="5.25"/><circle cx="715.8" cy="738.5" r="5.25"/><circle cx="720.1" cy="742.5" r="5.25"/><circle cx="723.2" cy="701" r="5.25"/><circle cx="714.3" cy="734.2" r="5.25"/><circle cx="730.3" cy="703.2" r="5.25"/><circle cx="727.7" cy="712.3" r="5.25"/><circle cx="717.7" cy="710.4" r="5.25"/><circle cx="721" cy="731.3" r="5.25"/><circle cx="728.3" cy="702.7" r="5.25"/><circle cx="713.7" cy="726.3" r="5.25"/><circle cx="715.5" cy="704.7" r="5.25"/><circle cx="715.5" cy="751.6" r="5.25"/><circle cx="713.1" cy="717.8" r="5.25"/><circle cx="723.5" cy="724.7" r="5.25"/><circle cx="717.9" cy="709.1" r="5.25"/><circle cx="719.8" cy="717.1" r="5.25"/><circle cx="719.7" cy="742.4" r="5.25"/><circle cx="718" cy="728.2" r="5.25"/><circle cx="728.3" cy="709.3" r="5.25"/><circle cx="718.2" cy="718.1" r="5.25"/><circle cx="714.1" cy="722.7" r="5.25"/><circle cx="711" cy="748.4" r="5.25"/><circle cx="715.1" cy="723.3" r="5.25"/><circle cx="720.3" cy="730.7" r="5.25"/><circle cx="720.2" cy="739" r="5.25"/><circle cx="720.9" cy="752" r="5.25"/><circle cx="740.6" cy="733.1" r="5.25"/><circle cx="734.6" cy="737.3" r="5.25"/><circle cx="734.9" cy="737.4" r="5.25"/><circle cx="744.2" cy="740.3" r="5.25"/><circle cx="739.7" cy="726.5" r="5.25"/><circle cx="731.7" cy="735.8" r="5.25"/><circle cx="736.5" cy="733.7" r="5.25"/><circle cx="736.7" cy="730" r="5.25"/><circle cx="709.5" cy="781.2" r="5.25"/><circle cx="694.5" cy="781.7" r="5.25"/><circle cx="694.1" cy="751.9" r="5.25"/><circle cx="714.9" cy="758.2" r="5.25"/><circle cx="706.5" cy="756.5" r="5.25"/><circle cx="709.4" cy="777.2" r="5.25"/><circle cx="712.8" cy="773.5" r="5.25"/><circle cx="694.9" cy="786.1" r="5.25"/><circle cx="713.2" cy="780.5" r="5.25"/><circle cx="704.4" cy="791.2" r="5.25"/><circle cx="707.4" cy="767.6" r="5.25"/><circle cx="709.3" cy="780.4" r="5.25"/><circle cx="708.1" cy="770.1" r="5.25"/><circle cx="701.1" cy="762" r="5.25"/><circle cx="703.6" cy="754.6" r="5.25"/><circle cx="704.9" cy="774.9" r="5.25"/><circle cx="711" cy="764.9" r="5.25"/><circle cx="689.9" cy="769.6" r="5.25"/><circle cx="713.6" cy="764.4" r="5.25"/><circle cx="697.3" cy="762.7" r="5.25"/><circle cx="717.6" cy="800.3" r="5.25"/><circle cx="707.1" cy="776.5" r="5.25"/><circle cx="715.9" cy="760.1" r="5.25"/><circle cx="702.2" cy="773.6" r="5.25"/><circle cx="715.8" cy="776.2" r="5.25"/><circle cx="706.7" cy="758" r="5.25"/><circle cx="696.8" cy="805.5" r="5.25"/><circle cx="696.8" cy="808" r="5.25"/><circle cx="696.8" cy="810.5" r="5.25"/><circle cx="696.8" cy="812.4" r="5.25"/><circle cx="730.1" cy="798.6" r="5.25"/><circle cx="724.2" cy="788.3" r="5.25"/><circle cx="728.5" cy="784.7" r="5.25"/><circle cx="725.5" cy="788.6" r="5.25"/><circle cx="724.5" cy="786.7" r="5.25"/><circle cx="751.5" cy="775.8" r="5.25"/><circle cx="748.7" cy="766.8" r="5.25"/><circle cx="741.6" cy="767.5" r="5.25"/><circle cx="754.4" cy="772.6" r="5.25"/><circle cx="745.8" cy="782" r="5.25"/><circle cx="741" cy="770.2" r="5.25"/><circle cx="751.5" cy="777.8" r="5.25"/><circle cx="749.6" cy="770.1" r="5.25"/><circle cx="742.3" cy="776.7" r="5.25"/><circle cx="741.8" cy="770.6" r="5.25"/><circle cx="746.1" cy="776.7" r="5.25"/><circle cx="743.8" cy="768.6" r="5.25"/><circle cx="749.1" cy="769.5" r="5.25"/><circle cx="782.4" cy="736.3" r="5.25"/><circle cx="773.6" cy="739.5" r="5.25"/><circle cx="754.5" cy="746" r="5.25"/><circle cx="775.8" cy="724.3" r="5.25"/><circle cx="764" cy="722.2" r="5.25"/><circle cx="777.3" cy="738.5" r="5.25"/><circle cx="753.7" cy="752" r="5.25"/><circle cx="764.6" cy="716.3" r="5.25"/><circle cx="761.7" cy="718.7" r="5.25"/><circle cx="759.3" cy="748.9" r="5.25"/><circle cx="755.2" cy="701.7" r="5.25"/><circle cx="782.4" cy="687.6" r="5.25"/><circle cx="765.4" cy="736.3" r="5.25"/><circle cx="762.7" cy="743" r="5.25"/><circle cx="751" cy="741.9" r="5.25"/><circle cx="775.3" cy="736.7" r="5.25"/><circle cx="775.3" cy="738.3" r="5.25"/><circle cx="764" cy="709.1" r="5.25"/><circle cx="753.5" cy="737.5" r="5.25"/><circle cx="770.5" cy="704.1" r="5.25"/><circle cx="765.5" cy="694.8" r="5.25"/><circle cx="752.8" cy="716.7" r="5.25"/><circle cx="783.3" cy="699.3" r="5.25"/><circle cx="771.9" cy="702.3" r="5.25"/><circle cx="756.9" cy="709.7" r="5.25"/><circle cx="758.5" cy="713.4" r="5.25"/><circle cx="772.5" cy="722.6" r="5.25"/><circle cx="776.1" cy="703.5" r="5.25"/><circle cx="770.8" cy="710.4" r="5.25"/><circle cx="770.3" cy="717.6" r="5.25"/><circle cx="762.4" cy="722.7" r="5.25"/><circle cx="783.3" cy="727.8" r="5.25"/><circle cx="763.4" cy="732.6" r="5.25"/><circle cx="767.8" cy="723.8" r="5.25"/><circle cx="769.2" cy="727.5" r="5.25"/><circle cx="763.4" cy="731" r="5.25"/><circle cx="772.7" cy="719.8" r="5.25"/><circle cx="779.5" cy="723.1" r="5.25"/><circle cx="748.7" cy="705.2" r="5.25"/><circle cx="764.1" cy="723.9" r="5.25"/><circle cx="777" cy="736.1" r="5.25"/><circle cx="778.3" cy="709.4" r="5.25"/><circle cx="761.9" cy="741.5" r="5.25"/><circle cx="771.9" cy="711.7" r="5.25"/><circle cx="767.7" cy="737.6" r="5.25"/><circle cx="767.3" cy="747.4" r="5.25"/><circle cx="760.5" cy="723.8" r="5.25"/><circle cx="777.2" cy="770.6" r="5.25"/><circle cx="786.8" cy="763.1" r="5.25"/><circle cx="786.8" cy="766.6" r="5.25"/><circle cx="786" cy="765" r="5.25"/><circle cx="790.2" cy="644.9" r="5.25"/><circle cx="806.6" cy="661.6" r="5.25"/><circle cx="811" cy="664.2" r="5.25"/><circle cx="802.2" cy="683.7" r="5.25"/><circle cx="810.3" cy="688" r="5.25"/><circle cx="802.1" cy="680.6" r="5.25"/><circle cx="797.2" cy="699.7" r="5.25"/><circle cx="816" cy="681" r="5.25"/><circle cx="787.5" cy="690.5" r="5.25"/><circle cx="814.7" cy="695.3" r="5.25"/><circle cx="798.5" cy="684.4" r="5.25"/><circle cx="814.9" cy="692" r="5.25"/><circle cx="801.1" cy="682.1" r="5.25"/><circle cx="823.5" cy="678.9" r="5.25"/><circle cx="801.1" cy="680.3" r="5.25"/><circle cx="786.8" cy="693.5" r="5.25"/><circle cx="824.8" cy="693.3" r="5.25"/><circle cx="806.2" cy="679.5" r="5.25"/><circle cx="804.7" cy="693" r="5.25"/><circle cx="805.8" cy="679.5" r="5.25"/><circle cx="813.8" cy="704.2" r="5.25"/><circle cx="819.5" cy="713.8" r="5.25"/><circle cx="790" cy="715.6" r="5.25"/><circle cx="818.6" cy="702.5" r="5.25"/><circle cx="808.4" cy="702.9" r="5.25"/><circle cx="795.4" cy="698.7" r="5.25"/><circle cx="819.2" cy="704" r="5.25"/><circle cx="814.8" cy="702.9" r="5.25"/><circle cx="815.6" cy="721.7" r="5.25"/><circle cx="808.6" cy="717" r="5.25"/><circle cx="804.2" cy="695.7" r="5.25"/><circle cx="797.1" cy="712.4" r="5.25"/><circle cx="809" cy="704.5" r="5.25"/><circle cx="800" cy="692.7" r="5.25"/><circle cx="806.7" cy="708.3" r="5.25"/><circle cx="816" cy="701" r="5.25"/><circle cx="820.3" cy="708.8" r="5.25"/><circle cx="816.2" cy="710.4" r="5.25"/><circle cx="814.7" cy="701.2" r="5.25"/><circle cx="807.5" cy="722.5" r="5.25"/><circle cx="808.4" cy="734.6" r="5.25"/><circle cx="808.4" cy="743.2" r="5.25"/><circle cx="828" cy="732.5" r="5.25"/><circle cx="816.9" cy="713.2" r="5.25"/><circle cx="809.5" cy="708" r="5.25"/><circle cx="802.6" cy="725.7" r="5.25"/><circle cx="832" cy="711.9" r="5.25"/><circle cx="809.3" cy="722.3" r="5.25"/><circle cx="816.3" cy="742" r="5.25"/><circle cx="818.1" cy="719.6" r="5.25"/><circle cx="836" cy="754" r="5.25"/><circle cx="827.7" cy="755.2" r="5.25"/><circle cx="842.1" cy="757.3" r="5.25"/><circle cx="831.1" cy="757.5" r="5.25"/><circle cx="834.7" cy="752.5" r="5.25"/><circle cx="832.2" cy="754" r="5.25"/><circle cx="830" cy="767.4" r="5.25"/><circle cx="837.8" cy="755.3" r="5.25"/><circle cx="831.7" cy="763.8" r="5.25"/><circle cx="828.6" cy="754.3" r="5.25"/></g><path d="M132 643.5l9 9l-9 9l-9 -9zM133.5 645.5l9 9l-9 9l-9 -9zM143.3 661.2l9 9l-9 9l-9 -9zM144.6 663l9 9l-9 9l-9 -9zM152.3 675.3l9 9l-9 9l-9 -9zM159.5 687.6l9 9l-9 9l-9 -9zM160.3 689.3l9 9l-9 9l-9 -9zM161.1 691.2l9 9l-9 9l-9 -9zM161.9 693.3l9 9l-9 9l-9 -9zM162.7 695.4l9 9l-9 9l-9 -9zM163.5 697.7l9 9l-9 9l-9 -9zM164.3 699.9l9 9l-9 9l-9 -9zM165.1 702.1l9 9l-9 9l-9 -9zM165.9 704.3l9 9l-9 9l-9 -9zM166.7 706.4l9 9l-9 9l-9 -9zM167.5 709l9 9l-9 9l-9 -9zM168.3 712l9 9l-9 9l-9 -9zM169.1 715.2l9 9l-9 9l-9 -9zM169.9 718.7l9 9l-9 9l-9 -9zM170.7 722.6l9 9l-9 9l-9 -9zM171.5 726.7l9 9l-9 9l-9 -9zM172.3 731.3l9 9l-9 9l-9 -9zM173.1 736.1l9 9l-9 9l-9 -9zM173.9 741.2l9 9l-9 9l-9 -9zM174.7 746.3l9 9l-9 9l-9 -9zM175.5 751.6l9 9l-9 9l-9 -9zM176.3 756.9l9 9l-9 9l-9 -9zM177.1 762.3l9 9l-9 9l-9 -9zM177.9 767.8l9 9l-9 9l-9 -9zM178.7 773.4l9 9l-9 9l-9 -9zM179.5 778.4l9 9l-9 9l-9 -9zM180.3 782.8l9 9l-9 9l-9 -9zM181.1 786.7l9 9l-9 9l-9 -9zM181.9 788.9l9 9l-9 9l-9 -9zM182.7 790l9 9l-9 9l-9 -9zM183.5 788.6l9 9l-9 9l-9 -9zM184.3 786l9 9l-9 9l-9 -9zM185.1 782.6l9 9l-9 9l-9 -9zM185.9 778l9 9l-9 9l-9 -9zM186.7 773.2l9 9l-9 9l-9 -9zM187.5 768.3l9 9l-9 9l-9 -9zM188.3 764.3l9 9l-9 9l-9 -9zM189.1 760.8l9 9l-9 9l-9 -9zM189.9 757.8l9 9l-9 9l-9 -9zM190.7 755l9 9l-9 9l-9 -9zM191.5 752.4l9 9l-9 9l-9 -9zM192.3 750l9 9l-9 9l-9 -9zM193.1 747.9l9 9l-9 9l-9 -9zM193.9 745.9l9 9l-9 9l-9 -9zM194.7 744.4l9 9l-9 9l-9 -9zM195.5 742.9l9 9l-9 9l-9 -9zM196.3 742.1l9 9l-9 9l-9 -9zM197.1 741.5l9 9l-9 9l-9 -9zM197.9 741.3l9 9l-9 9l-9 -9zM198.7 741.3l9 9l-9 9l-9 -9zM199.5 741.3l9 9l-9 9l-9 -9zM200.3 741.2l9 9l-9 9l-9 -9zM201.1 741.2l9 9l-9 9l-9 -9zM201.9 741.5l9 9l-9 9l-9 -9zM202.7 741.7l9 9l-9 9l-9 -9zM203.5 741.9l9 9l-9 9l-9 -9zM253 714.1l9 9l-9 9l-9 -9zM255 713l9 9l-9 9l-9 -9zM286 675l9 9l-9 9l-9 -9zM288 676.1l9 9l-9 9l-9 -9zM301 720.3l9 9l-9 9l-9 -9zM303 723.9l9 9l-9 9l-9 -9zM305 724.5l9 9l-9 9l-9 -9zM345 671.9l9 9l-9 9l-9 -9zM346 670.4l9 9l-9 9l-9 -9zM347 669l9 9l-9 9l-9 -9zM348 667.8l9 9l-9 9l-9 -9zM349 666.7l9 9l-9 9l-9 -9zM350 665.7l9 9l-9 9l-9 -9zM351 664.7l9 9l-9 9l-9 -9zM352 663.7l9 9l-9 9l-9 -9zM353 662.8l9 9l-9 9l-9 -9zM354 661.7l9 9l-9 9l-9 -9zM355 660.5l9 9l-9 9l-9 -9zM356 659.6l9 9l-9 9l-9 -9zM357 658.9l9 9l-9 9l-9 -9zM358 658.7l9 9l-9 9l-9 -9zM359 659.2l9 9l-9 9l-9 -9zM360 660.2l9 9l-9 9l-9 -9zM361 661.5l9 9l-9 9l-9 -9zM362 663.2l9 9l-9 9l-9 -9zM363 665.5l9 9l-9 9l-9 -9zM364 667.9l9 9l-9 9l-9 -9zM365 670l9 9l-9 9l-9 -9zM366 671.5l9 9l-9 9l-9 -9zM367 672.6l9 9l-9 9l-9 -9zM368 673.6l9 9l-9 9l-9 -9zM369 674.3l9 9l-9 9l-9 -9zM370 675l9 9l-9 9l-9 -9zM371 675.6l9 9l-9 9l-9 -9zM372 676.1l9 9l-9 9l-9 -9zM373 676.4l9 9l-9 9l-9 -9zM374 676.6l9 9l-9 9l-9 -9zM375 676.7l9 9l-9 9l-9 -9zM376 676.8l9 9l-9 9l-9 -9zM377 676.8l9 9l-9 9l-9 -9zM378 676.9l9 9l-9 9l-9 -9zM379 677l9 9l-9 9l-9 -9zM380 677.3l9 9l-9 9l-9 -9zM381 677.6l9 9l-9 9l-9 -9zM382 678l9 9l-9 9l-9 -9zM383 678.4l9 9l-9 9l-9 -9zM384 678.9l9 9l-9 9l-9 -9zM385 679.4l9 9l-9 9l-9 -9zM386 679.9l9 9l-9 9l-9 -9zM387 680.4l9 9l-9 9l-9 -9zM388 680.9l9 9l-9 9l-9 -9zM389 681.4l9 9l-9 9l-9 -9zM390 681.8l9 9l-9 9l-9 -9zM391 682.2l9 9l-9 9l-9 -9zM392 682.6l9 9l-9 9l-9 -9zM393 682.9l9 9l-9 9l-9 -9zM394 683.2l9 9l-9 9l-9 -9zM395 683.5l9 9l-9 9l-9 -9zM396 683.8l9 9l-9 9l-9 -9zM397 684l9 9l-9 9l-9 -9zM398 684.3l9 9l-9 9l-9 -9zM399 684.6l9 9l-9 9l-9 -9zM400 684.8l9 9l-9 9l-9 -9zM401 685.1l9 9l-9 9l-9 -9zM402 685.4l9 9l-9 9l-9 -9zM403 685.6l9 9l-9 9l-9 -9zM404 685.9l9 9l-9 9l-9 -9zM405 686.2l9 9l-9 9l-9 -9zM406 686.5l9 9l-9 9l-9 -9zM407 686.8l9 9l-9 9l-9 -9zM408 687.1l9 9l-9 9l-9 -9zM409 687.4l9 9l-9 9l-9 -9zM410 687.7l9 9l-9 9l-9 -9zM411 688l9 9l-9 9l-9 -9zM412 688.3l9 9l-9 9l-9 -9zM413 688.6l9 9l-9 9l-9 -9zM414 688.8l9 9l-9 9l-9 -9zM415 689.1l9 9l-9 9l-9 -9zM416 689.3l9 9l-9 9l-9 -9zM417 689.5l9 9l-9 9l-9 -9zM418 689.6l9 9l-9 9l-9 -9zM419 689.7l9 9l-9 9l-9 -9zM420 689.9l9 9l-9 9l-9 -9zM421 690.1l9 9l-9 9l-9 -9zM422 690.3l9 9l-9 9l-9 -9zM423 690.6l9 9l-9 9l-9 -9zM424 691.1l9 9l-9 9l-9 -9zM425 691.6l9 9l-9 9l-9 -9zM426 692.2l9 9l-9 9l-9 -9zM427 692.8l9 9l-9 9l-9 -9zM428 693.4l9 9l-9 9l-9 -9zM429 694.1l9 9l-9 9l-9 -9zM430 695.1l9 9l-9 9l-9 -9zM431 696.3l9 9l-9 9l-9 -9zM432 697.8l9 9l-9 9l-9 -9zM433 699.8l9 9l-9 9l-9 -9zM434 702l9 9l-9 9l-9 -9zM435 704.3l9 9l-9 9l-9 -9zM436 706.8l9 9l-9 9l-9 -9zM437 709.6l9 9l-9 9l-9 -9zM438 712.5l9 9l-9 9l-9 -9zM439 715.2l9 9l-9 9l-9 -9zM440 717.3l9 9l-9 9l-9 -9zM441 718.8l9 9l-9 9l-9 -9zM442 719.7l9 9l-9 9l-9 -9zM443 720.2l9 9l-9 9l-9 -9zM444 720.4l9 9l-9 9l-9 -9zM445 720l9 9l-9 9l-9 -9zM446 719.1l9 9l-9 9l-9 -9zM447 717.9l9 9l-9 9l-9 -9zM448 716.6l9 9l-9 9l-9 -9zM449 715.4l9 9l-9 9l-9 -9zM450 714.4l9 9l-9 9l-9 -9zM451 713.3l9 9l-9 9l-9 -9zM452 712.2l9 9l-9 9l-9 -9zM453 711.2l9 9l-9 9l-9 -9zM454 710.2l9 9l-9 9l-9 -9zM455 709.2l9 9l-9 9l-9 -9zM456 708.4l9 9l-9 9l-9 -9zM457 707.7l9 9l-9 9l-9 -9zM458 707.1l9 9l-9 9l-9 -9zM459 706.5l9 9l-9 9l-9 -9zM460 706.1l9 9l-9 9l-9 -9zM461 705.7l9 9l-9 9l-9 -9zM462 705.4l9 9l-9 9l-9 -9zM463 705.1l9 9l-9 9l-9 -9zM464 704.8l9 9l-9 9l-9 -9zM465 704.5l9 9l-9 9l-9 -9zM466 704.2l9 9l-9 9l-9 -9zM467 703.8l9 9l-9 9l-9 -9zM468 703.5l9 9l-9 9l-9 -9zM469 703.2l9 9l-9 9l-9 -9zM470 702.9l9 9l-9 9l-9 -9zM471 702.6l9 9l-9 9l-9 -9zM472 702.3l9 9l-9 9l-9 -9zM473 702l9 9l-9 9l-9 -9zM474 701.8l9 9l-9 9l-9 -9zM475 701.6l9 9l-9 9l-9 -9zM476 701.5l9 9l-9 9l-9 -9zM477 701.4l9 9l-9 9l-9 -9zM478 701.4l9 9l-9 9l-9 -9zM479 701.5l9 9l-9 9l-9 -9zM480 701.7l9 9l-9 9l-9 -9zM481 701.9l9 9l-9 9l-9 -9zM482 702.1l9 9l-9 9l-9 -9zM483 702.3l9 9l-9 9l-9 -9zM484 702.4l9 9l-9 9l-9 -9zM485 702.5l9 9l-9 9l-9 -9zM486 702.4l9 9l-9 9l-9 -9zM487 702.2l9 9l-9 9l-9 -9zM488 701.9l9 9l-9 9l-9 -9zM582 707.6l9 9l-9 9l-9 -9zM584.5 705.3l9 9l-9 9l-9 -9zM587 700.7l9 9l-9 9l-9 -9zM589.5 694.7l9 9l-9 9l-9 -9zM645 700.2l9 9l-9 9l-9 -9zM647 702.1l9 9l-9 9l-9 -9zM649 703.8l9 9l-9 9l-9 -9zM651 705.7l9 9l-9 9l-9 -9zM653 707.9l9 9l-9 9l-9 -9zM655 710.1l9 9l-9 9l-9 -9zM657 712.3l9 9l-9 9l-9 -9zM659 714.5l9 9l-9 9l-9 -9zM710 756.5l9 9l-9 9l-9 -9zM712.5 753.7l9 9l-9 9l-9 -9zM715 750.8l9 9l-9 9l-9 -9zM727 742.8l9 9l-9 9l-9 -9zM729.5 743.6l9 9l-9 9l-9 -9zM732 745.5l9 9l-9 9l-9 -9zM734.5 747.2l9 9l-9 9l-9 -9zM737 748.8l9 9l-9 9l-9 -9zM739.5 748.5l9 9l-9 9l-9 -9zM762 709.8l9 9l-9 9l-9 -9zM764.5 708.3l9 9l-9 9l-9 -9zM767 709.2l9 9l-9 9l-9 -9zM774 722.3l9 9l-9 9l-9 -9zM776.5 725.7l9 9l-9 9l-9 -9zM779 726.7l9 9l-9 9l-9 -9zM781.5 725.7l9 9l-9 9l-9 -9zM792 702.2l9 9l-9 9l-9 -9zM794.5 695l9 9l-9 9l-9 -9zM797 689.1l9 9l-9 9l-9 -9zM811 679.4l9 9l-9 9l-9 -9zM813.5 681.2l9 9l-9 9l-9 -9zM816 684.3l9 9l-9 9l-9 -9zM821 695.2l9 9l-9 9l-9 -9zM823 699.6l9 9l-9 9l-9 -9zM825 703.9l9 9l-9 9l-9 -9z" fill="#2a7a3a"/><path d="M128.9 648.7 130.1 650.2 131.3 651.8 132.6 653.3 133.8 654.9 135 656.5 136.4 658.5 137.8 660.5 139.1 662.6 140.5 664.7 141.9 666.8 143.3 668.8 144.7 670.9 146 672.9 147.4 675 148.8 677.2 150.2 679.5 151.6 681.8 152.9 684.2 154.3 686.7 155.7 689.3 157 691.7 158.3 694.2 159.6 696.8 160.9 699.7 162.1 702.8 163.3 706.1 164.5 709.5 165.6 712.4 166.7 715.4 167.8 719 169 723.6 170.1 728.8 171.3 734.6 172.4 741 173.6 748 174.7 755.3 176 763.9 177.3 772.6 178.6 781.7 179.9 789.9 181.2 796.2 182.5 799.4 183.8 797.1 185.1 791.6 186.4 784.1 187.7 776.1 188.9 770.7 190 766.2 191.2 762.3 192.6 758 194.1 754.5 195.5 751.9 196.8 750.6 198.1 750.3 199.4 750.3 200.7 750.1 202.1 750.5 203.6 750.9 205 748.4 206.3 742 207.6 734.6 208.7 729 209.9 723.6 211 719 212.3 714.9 213.6 712 214.9 709.7 216.2 707.8 217.5 706.2 218.8 705.1 220.1 704.4 221.4 704.3 222.7 704.5 224 705.1 225.3 706.4 226.6 708.6 227.8 711.7 228.9 715.6 230.1 719 231.2 721.7 232.4 724.1 233.5 725.9 234.7 726.9 235.8 727.2 237 727.3 238.4 727.3 239.9 726.9 241.3 726.2 242.7 725.5 244.2 724.7 245.6 724.2 247.1 723.9 248.5 723.8 249.9 723.7 251.4 723.5 252.9 723.2 254.3 722.5 255.8 721.5 257.3 720.2 258.8 718.8 260.3 717.3 261.8 715.6 263.2 713.7 264.7 712.1 266 711.1 267.2 710.4 268.5 709.6 269.8 708.6 270.8 707.7 271.9 706.7 272.9 705 274.4 700.8 275.9 696.2 277.3 692.8 278.8 689.9 280.2 687.6 281.6 685.9 283.1 684.7 284.5 684.1 286 684 287.4 684.6 288.9 685.9 290.3 687.7 291.8 690.2 293.2 694.5 294.6 701 296 708.4 297.2 714.8 298.4 720.7 299.5 725.1 300.7 728.5 301.8 731.1 303.1 733 304.4 733.7 305.6 733.2 306.7 731.8 307.9 729.4 309 726.2 310.2 722.2 311.3 717.3 312.2 712.9 313.2 707 314 699.1 314.8 691 316 683.3 317.1 678.3 318.3 673.8 319.4 669.1 320.6 665 321.7 661.6 322.9 659.2 324 657.6 325.2 656.5 326.3 655.7 327.5 655.4 328.6 655.6 329.8 656.4 330.9 657.8 332.1 659.9 333.2 663 334.4 666.8 335.5 670.3 336.7 673.5 337.8 676.5 339 678.9 340.4 681 341.9 682.2 343.3 682.4 344.7 681.3 346.2 679.2 347.6 677.2 348.9 675.8 350.2 674.5 351.5 673.2 352.8 672 354.1 670.6 355.4 669.1 356.7 668 358 667.7 359.2 668.3 360.3 669.5 361.5 671.2 362.6 673.6 363.8 676.4 364.9 678.9 366.2 680.8 367.5 682.2 368.8 683.2 370.1 684.1 371.6 685 373.1 685.5 374.6 685.7 376 685.8 377.5 685.9 379 686 380.5 686.4 381.9 686.9 383.3 687.6 384.7 688.3 386.2 689 387.6 689.7 389 690.4 390.4 691 391.7 691.5 393.1 691.9 394.4 692.3 395.8 692.7 397.1 693.1 398.5 693.4 399.8 693.8 401.2 694.1 402.5 694.5 403.8 694.9 405.2 695.3 406.5 695.7 407.9 696.1 409.2 696.5 410.6 696.9 411.9 697.3 413.3 697.6 414.6 698 416.1 698.3 417.6 698.5 419.1 698.7 420.5 699 422 699.3 423.5 699.8 425 700.6 426.4 701.4 427.8 702.2 429.1 703.2 430.5 704.6 431.9 706.6 433.3 709.4 434.8 712.7 436.2 716.3 437.4 719.6 438.5 723.1 439.7 725.9 441.1 728 442.6 729.1 444 729.4 445.3 728.8 446.6 727.4 447.9 725.7 449.2 724.2 450.6 722.8 452 721.3 453.3 719.8 454.7 718.5 456.1 717.3 457.6 716.3 459.1 715.5 460.6 714.9 462 714.3 463.5 713.9 465 713.5 466.5 713 468 712.5 469.4 712 470.9 711.6 472.4 711.2 473.9 710.8 475.3 710.6 476.8 710.4 478.3 710.4 479.8 710.6 481.3 710.9 482.7 711.3 484.2 711.5 485.7 711.5 487.2 711.2 488.4 710.8 489.6 710.2 490.9 709.5 492.1 708.7 493.3 707.8 494.7 706.4 496.2 704.8 497.6 703.5 498.9 702.6 500.2 702 501.5 701.6 502.8 701.7 504.2 702.4 505.7 703.5 507.1 705.2 508.3 707.2 509.4 709.5 510.6 711.2 511.7 712.1 512.9 712.5 514 712.1 515.2 710.6 516.3 708.3 517.5 706.1 518.8 703.8 520.1 701.7 521.4 700.7 522.7 701.1 524 702.6 525.3 705.2 526.4 708.8 527.6 713.2 528.7 717.3 530.1 721.6 531.6 725.4 533 728.5 534.2 730.5 535.3 732 536.5 732.9 537.9 733.1 539.4 732.4 540.8 730.3 542 727.4 543.1 723.5 544.3 719 545.4 714.2 546.5 709 547.5 703.5 548.6 698 549.8 692.3 550.9 687 552.1 682.4 553.2 678.6 554.4 675.4 555.5 672.9 556.9 670.9 558.4 670 559.8 670.3 561 671.2 562.1 672.9 563.3 675.5 564.5 679.4 565.6 684.2 566.8 689.3 567.9 694.7 569.1 700.3 570.2 705 571.6 709 573.1 711.7 574.5 713.8 575.8 715.4 577.1 716.5 578.4 717.1 579.7 717.3 581 717.1 582.3 716.5 583.6 715.4 584.9 713.8 586.1 711.7 587.2 709.1 588.4 706.3 589.6 703.5 590.9 700.4 592.2 697.1 593.6 693.9 594.9 690.6 596.2 687.6 597.6 684.7 599 682 600.3 679.4 601.7 676.7 603.1 673.8 604.4 670.8 605.7 667.5 607 664.4 608.3 661.6 609.7 658.8 611.2 656.4 612.6 654.7 613.9 653.9 615.2 653.9 616.3 654.8 617.5 656.4 618.6 658.2 619.9 660.5 621.2 663.1 622.5 665.9 623.8 668.6 625.2 671.3 626.6 674 627.9 676.8 629.3 679.5 630.7 682.4 632.1 685.5 633.5 688.7 634.9 692 636.3 695.1 637.7 698 639.2 700.7 640.6 703.2 642 705.5 643.5 707.5 644.8 709.1 646.1 710.3 647.5 711.5 648.8 712.6 650.1 713.8 651.6 715.3 653.1 716.9 654.6 718.6 656 720.2 657.5 721.9 659 723.5 660.5 725.1 662 726.7 663.5 728.2 665 729.8 666.4 731.3 667.9 732.7 669.4 734.1 670.9 735.4 672.2 736.4 673.6 737.3 674.9 738 676.3 738.7 677.6 739.3 679 740.1 680.3 740.9 681.7 741.9 683 743.2 684.4 744.7 685.8 746.2 687.1 748 688.5 749.8 689.9 751.9 691.2 754.1 692.5 756.5 693.8 759 695.1 761.4 696.5 764.3 698 767.1 699.4 769.2 700.7 770.2 702 770.6 703.4 770.6 704.8 770 706.1 769 707.5 767.8 708.9 766.6 710.3 765.3 711.7 763.7 713.1 762 714.5 760.3 715.9 758.8 717.3 757.4 718.7 756 720 754.7 721.4 753.5 722.8 752.7 724.1 752.2 725.4 751.8 726.7 751.7 728 751.9 729.3 752.5 730.5 753.4 731.8 754.4 733.1 755.3 734.4 756.2 735.7 757.1 737 757.8 738.3 757.9 739.6 757.5 740.9 756.6 742.2 755.3 743.5 753.6 744.8 751.4 746.1 748.8 747.4 746 748.7 743.2 750 740.4 751.3 737.5 752.6 734.7 753.9 732 755.2 729.4 756.5 726.9 757.8 724.5 759.1 722.5 760.4 720.7 761.7 719.1 763 717.9 764.3 717.3 765.7 717.4 767.2 718.3 768.6 719.9 770 722.7 771.5 726.2 772.9 729.4 774.3 731.9 775.8 734 777.2 735.4 778.7 735.8 780.1 735.5 781.6 734.6 783 733.5 784.5 731.9 785.9 729.4 787.3 725.7 788.8 721.1 790.2 716.6 791.6 712.3 793.1 707.9 794.5 704 796 700.4 797.4 697.2 798.9 694.5 800.4 692.5 801.9 691.1 803.4 690.1 804.9 689.3 806.1 688.7 807.3 688.3 808.6 688 809.8 688 811 688.4 812.3 689.2 813.6 690.3 814.9 691.7 816.2 693.6 817.5 696 818.8 698.9 820 701.9 821.3 704.9 822.5 707.4 823.6 709.9 824.8 712.5 826 715 827.1 717.5 828.3 720.7 829.4 724.7 830.6 729.4 831.7 734.6 833 741.3 834.3 748.4 835.5 754.9 836.6 761.4" fill="none" stroke="#2b2626" stroke-opacity="0.75" stroke-width="4.1" stroke-linejoin="round" stroke-linecap="butt"/>
<text transform="translate(80.5 602.9) scale(1 1.04)" text-anchor="end" font-size="26.4" fill="#424347" stroke="#424347" stroke-width="0.6">180</text>
<text transform="translate(80.5 674.5) scale(1 1.04)" text-anchor="end" font-size="26.4" fill="#424347" stroke="#424347" stroke-width="0.6">170</text>
<text transform="translate(80.5 746.1) scale(1 1.04)" text-anchor="end" font-size="26.4" fill="#424347" stroke="#424347" stroke-width="0.6">160</text>
<text transform="translate(80.5 817.6) scale(1 1.04)" text-anchor="end" font-size="26.4" fill="#424347" stroke="#424347" stroke-width="0.6">150</text>
<text transform="translate(80.5 889.2) scale(1 1.04)" text-anchor="end" font-size="26.4" fill="#424347" stroke="#424347" stroke-width="0.6">140</text>
<text transform="translate(80.5 960.8) scale(1 1.04)" text-anchor="end" font-size="26.4" fill="#424347" stroke="#424347" stroke-width="0.6">130</text>
<text transform="translate(166.4 995.5) scale(1 1.04)" text-anchor="middle" font-size="26.4" fill="#424347" stroke="#424347" stroke-width="0.6">2010</text>
<text transform="translate(319.8 995.5) scale(1 1.04)" text-anchor="middle" font-size="26.4" fill="#424347" stroke="#424347" stroke-width="0.6">2011</text>
<text transform="translate(473.2 995.5) scale(1 1.04)" text-anchor="middle" font-size="26.4" fill="#424347" stroke="#424347" stroke-width="0.6">2012</text>
<text transform="translate(626.6 995.5) scale(1 1.04)" text-anchor="middle" font-size="26.4" fill="#424347" stroke="#424347" stroke-width="0.6">2013</text>
<text transform="translate(780 995.5) scale(1 1.04)" text-anchor="middle" font-size="26.4" fill="#424347" stroke="#424347" stroke-width="0.6">2014</text>
<text transform="translate(483 1030.4) scale(1 1.03)" text-anchor="middle" font-size="32" fill="#000" stroke="#000" stroke-width="0.4">Time</text>
<text transform="translate(22.8 776) rotate(-90) scale(0.985 1.04)" text-anchor="middle" font-size="32" fill="#000" stroke="#000" stroke-width="0.4">O<tspan font-size="18.6" dy="10.6">2</tspan><tspan dy="-10.6"> (mmHg)</tspan></text>
<!-- p4 -->
<path d="M979.3 604.9H1772M979.3 700.7H1772M979.3 796.6H1772M979.3 892.5H1772M1078.6 558.2V963M1260.6 558.2V963M1442.6 558.2V963M1624.6 558.2V963" stroke="#ebebeb" stroke-width="1.5" fill="none"/>
<path d="M979.3 652.8H1772M979.3 748.7H1772M979.3 844.5H1772M979.3 940.4H1772M987.6 558.2V963M1169.6 558.2V963M1351.6 558.2V963M1533.6 558.2V963M1715.6 558.2V963" stroke="#ebebeb" stroke-width="3.0" fill="none"/>
<g fill="none" stroke="#a8bce6" stroke-width="2.35"><circle cx="1015.7" cy="778.7" r="5.25"/><circle cx="1014.6" cy="783.3" r="5.25"/><circle cx="1023.3" cy="776" r="5.25"/><circle cx="1060.7" cy="778" r="5.25"/><circle cx="1079.1" cy="749.5" r="5.25"/><circle cx="1090.2" cy="744.1" r="5.25"/><circle cx="1083.7" cy="752.2" r="5.25"/><circle cx="1089.5" cy="753.4" r="5.25"/><circle cx="1090.7" cy="760.3" r="5.25"/><circle cx="1082.6" cy="768.4" r="5.25"/><circle cx="1089.5" cy="766" r="5.25"/><circle cx="1086" cy="757" r="5.25"/><circle cx="1097.4" cy="802.6" r="5.25"/><circle cx="1085.4" cy="789.1" r="5.25"/><circle cx="1070" cy="785" r="5.25"/><circle cx="1086.2" cy="797.5" r="5.25"/><circle cx="1103.6" cy="814.5" r="5.25"/><circle cx="1108.3" cy="779" r="5.25"/><circle cx="1105.9" cy="782.6" r="5.25"/><circle cx="1086" cy="795.3" r="5.25"/><circle cx="1088.8" cy="790.2" r="5.25"/><circle cx="1078.7" cy="805.3" r="5.25"/><circle cx="1096" cy="788.7" r="5.25"/><circle cx="1102.6" cy="794.9" r="5.25"/><circle cx="1095.4" cy="794.2" r="5.25"/><circle cx="1083.5" cy="797" r="5.25"/><circle cx="1097.5" cy="811.1" r="5.25"/><circle cx="1093.8" cy="778.5" r="5.25"/><circle cx="1098.5" cy="773.1" r="5.25"/><circle cx="1090.4" cy="776.1" r="5.25"/><circle cx="1095.1" cy="790.8" r="5.25"/><circle cx="1083.9" cy="795.7" r="5.25"/><circle cx="1082.5" cy="800.9" r="5.25"/><circle cx="1070" cy="798.2" r="5.25"/><circle cx="1095.3" cy="795.9" r="5.25"/><circle cx="1094.7" cy="772.5" r="5.25"/><circle cx="1081" cy="786.3" r="5.25"/><circle cx="1111.6" cy="799.6" r="5.25"/><circle cx="1107.7" cy="779.2" r="5.25"/><circle cx="1113.8" cy="788.4" r="5.25"/><circle cx="1091.5" cy="789" r="5.25"/><circle cx="1089.9" cy="800.3" r="5.25"/><circle cx="1097" cy="783.5" r="5.25"/><circle cx="1104.4" cy="773.8" r="5.25"/><circle cx="1111.5" cy="789.8" r="5.25"/><circle cx="1081.4" cy="790.8" r="5.25"/><circle cx="1091.1" cy="804.5" r="5.25"/><circle cx="1070" cy="786.9" r="5.25"/><circle cx="1090" cy="791.4" r="5.25"/><circle cx="1104.3" cy="787.9" r="5.25"/><circle cx="1101.6" cy="788.4" r="5.25"/><circle cx="1118" cy="819" r="5.25"/><circle cx="1082" cy="787.7" r="5.25"/><circle cx="1104.9" cy="788.3" r="5.25"/><circle cx="1092.1" cy="788.2" r="5.25"/><circle cx="1100.1" cy="800.5" r="5.25"/><circle cx="1085.3" cy="784.7" r="5.25"/><circle cx="1101.3" cy="796.4" r="5.25"/><circle cx="1092" cy="806.3" r="5.25"/><circle cx="1104.6" cy="806.3" r="5.25"/><circle cx="1111.9" cy="809" r="5.25"/><circle cx="1088" cy="791" r="5.25"/><circle cx="1084.7" cy="777" r="5.25"/><circle cx="1110" cy="796.9" r="5.25"/><circle cx="1117.4" cy="797.3" r="5.25"/><circle cx="1099.5" cy="797.9" r="5.25"/><circle cx="1082" cy="790.9" r="5.25"/><circle cx="1085.1" cy="799.7" r="5.25"/><circle cx="1108.2" cy="784.2" r="5.25"/><circle cx="1115.6" cy="803.5" r="5.25"/><circle cx="1098.3" cy="813.4" r="5.25"/><circle cx="1087.1" cy="796.4" r="5.25"/><circle cx="1110" cy="795.5" r="5.25"/><circle cx="1087" cy="801.6" r="5.25"/><circle cx="1048.7" cy="807.1" r="5.25"/><circle cx="1048" cy="817.5" r="5.25"/><circle cx="1058.4" cy="819.1" r="5.25"/><circle cx="1058.4" cy="830.6" r="5.25"/><circle cx="1058.4" cy="834.1" r="5.25"/><circle cx="1073.4" cy="824.8" r="5.25"/><circle cx="1073.4" cy="830.6" r="5.25"/><circle cx="1073.4" cy="839.4" r="5.25"/><circle cx="1076.8" cy="814.5" r="5.25"/><circle cx="1084.9" cy="811" r="5.25"/><circle cx="1126.1" cy="729.7" r="5.25"/><circle cx="1126.2" cy="724.8" r="5.25"/><circle cx="1124" cy="730.6" r="5.25"/><circle cx="1121" cy="735.5" r="5.25"/><circle cx="1132.3" cy="723.6" r="5.25"/><circle cx="1115.4" cy="717.9" r="5.25"/><circle cx="1129.6" cy="721.2" r="5.25"/><circle cx="1117.5" cy="734.8" r="5.25"/><circle cx="1125.6" cy="728.8" r="5.25"/><circle cx="1116.9" cy="734.9" r="5.25"/><circle cx="1113.3" cy="724.9" r="5.25"/><circle cx="1116.4" cy="734.5" r="5.25"/><circle cx="1116.8" cy="723.7" r="5.25"/><circle cx="1130.8" cy="722.3" r="5.25"/><circle cx="1119" cy="727.9" r="5.25"/><circle cx="1118.4" cy="726.9" r="5.25"/><circle cx="1116.7" cy="725.9" r="5.25"/><circle cx="1122.5" cy="728.5" r="5.25"/><circle cx="1122.5" cy="736.5" r="5.25"/><circle cx="1126.1" cy="722.1" r="5.25"/><circle cx="1118.4" cy="712.5" r="5.25"/><circle cx="1115.3" cy="731.7" r="5.25"/><circle cx="1122.2" cy="744.7" r="5.25"/><circle cx="1127.9" cy="737.4" r="5.25"/><circle cx="1127.2" cy="717.5" r="5.25"/><circle cx="1116.6" cy="732.1" r="5.25"/><circle cx="1119.6" cy="737.9" r="5.25"/><circle cx="1124.7" cy="736" r="5.25"/><circle cx="1119.1" cy="744.2" r="5.25"/><circle cx="1114.1" cy="735.6" r="5.25"/><circle cx="1147.6" cy="725.7" r="5.25"/><circle cx="1126.4" cy="864.7" r="5.25"/><circle cx="1282.7" cy="777.6" r="5.25"/><circle cx="1348.4" cy="772.3" r="5.25"/><circle cx="1362.7" cy="824.4" r="5.25"/><circle cx="1363.9" cy="838.7" r="5.25"/><circle cx="1361.6" cy="850.2" r="5.25"/><circle cx="1365" cy="853.7" r="5.25"/><circle cx="1364.6" cy="858.7" r="5.25"/><circle cx="1362.3" cy="870.3" r="5.25"/><circle cx="1373.1" cy="851.8" r="5.25"/><circle cx="1380" cy="835.2" r="5.25"/><circle cx="1380" cy="773" r="5.25"/><circle cx="1383.4" cy="835.2" r="5.25"/><circle cx="1385.7" cy="773.7" r="5.25"/><circle cx="1387.3" cy="774.8" r="5.25"/><circle cx="1407.1" cy="759.6" r="5.25"/><circle cx="1413.3" cy="777.1" r="5.25"/><circle cx="1419.8" cy="820.9" r="5.25"/><circle cx="1536.7" cy="782.9" r="5.25"/><circle cx="1536.7" cy="801.8" r="5.25"/><circle cx="1676.2" cy="718.8" r="5.25"/><circle cx="1688.9" cy="725.7" r="5.25"/><circle cx="1696.9" cy="723.4" r="5.25"/><circle cx="1696.9" cy="751.1" r="5.25"/></g><path d="M1034.2 826.5 1035.3 828.4 1036.5 830.2 1037.6 831.8 1038.8 832.9 1039.9 833.7 1041 834.2 1042.2 834.5 1043.4 834.5 1044.6 834.2 1045.7 833.6 1046.9 832.9 1048.3 831.7 1049.7 830.1 1051 828.3 1052.4 826.5 1053.8 824.8 1055.2 823.3 1056.6 821.9 1057.9 820.5 1059.3 819.2 1060.7 817.9 1062 816.8 1063.4 815.8 1064.8 814.8 1066.1 813.8 1067.5 812.6 1068.8 811 1070.2 808.9 1071.7 806.6 1073.1 804.1 1074.5 801.8 1075.9 799.6 1077.3 797.5 1078.6 795.4 1080 793.5 1081.4 791.9 1082.7 790.8 1084.1 790 1085.4 789.4 1086.7 789 1088 788.7 1089.4 788.4 1090.7 788 1092 787.6 1093.4 787.4 1094.7 787.2 1096 786.9 1097.4 786.4 1098.7 785.6 1100.1 784.5 1101.5 783.2 1102.8 781.6 1104.2 779.8 1105.6 777.6 1107 774.9 1108.4 771.9 1109.8 768.6 1111.2 765 1112.6 761.4 1114 757.5 1115.4 753.4 1116.9 749.2 1118.3 745.3 1119.8 741.6 1121.2 738 1122.6 734.6 1124.1 731.5 1125.5 728.5 1127 725.6 1128.5 723 1129.9 721.1 1131.1 720.1 1132.2 719.5 1133.3 719.1 1134.5 718.8 1135.9 718.6 1137.3 718.7 1138.8 719 1140.2 719.5 1141.7 720.4 1143.1 721.5 1144.5 722.8 1146 724.1 1147.2 725.1 1148.3 726 1149.4 727 1150.6 728 1151.8 726.9 1217.5 738.8 1280.9 748.3 1312 812.2 1358.1 829.4 1362.7 842.1 1367.3 849.1 1371.9 842.1 1405.3 776.4 1457.2 842.1 1480.2 839.8 1545.9 774.1 1654.3 698 1718.8 737.2 1735.7 738.8" fill="none" stroke="#2b2626" stroke-opacity="0.75" stroke-width="5.0" stroke-linejoin="round" stroke-linecap="butt"/>
<text transform="translate(966.6 663.1) scale(1 1.04)" text-anchor="end" font-size="26.4" fill="#424347" stroke="#424347" stroke-width="0.6">24</text>
<text transform="translate(966.6 759) scale(1 1.04)" text-anchor="end" font-size="26.4" fill="#424347" stroke="#424347" stroke-width="0.6">23</text>
<text transform="translate(966.6 854.8) scale(1 1.04)" text-anchor="end" font-size="26.4" fill="#424347" stroke="#424347" stroke-width="0.6">22</text>
<text transform="translate(966.6 950.7) scale(1 1.04)" text-anchor="end" font-size="26.4" fill="#424347" stroke="#424347" stroke-width="0.6">21</text>
<text transform="translate(987.2 995.5) scale(1 1.04)" text-anchor="middle" font-size="26.4" fill="#424347" stroke="#424347" stroke-width="0.6">2010</text>
<text transform="translate(1169.2 995.5) scale(1 1.04)" text-anchor="middle" font-size="26.4" fill="#424347" stroke="#424347" stroke-width="0.6">2011</text>
<text transform="translate(1351.2 995.5) scale(1 1.04)" text-anchor="middle" font-size="26.4" fill="#424347" stroke="#424347" stroke-width="0.6">2012</text>
<text transform="translate(1533.2 995.5) scale(1 1.04)" text-anchor="middle" font-size="26.4" fill="#424347" stroke="#424347" stroke-width="0.6">2013</text>
<text transform="translate(1715.2 995.5) scale(1 1.04)" text-anchor="middle" font-size="26.4" fill="#424347" stroke="#424347" stroke-width="0.6">2014</text>
<text transform="translate(1375 1030.4) scale(1 1.03)" text-anchor="middle" font-size="32" fill="#000" stroke="#000" stroke-width="0.4">Time</text>
<text transform="translate(921.9 776.9) rotate(-90) scale(0.985 1.04)" text-anchor="middle" font-size="32" fill="#000" stroke="#000" stroke-width="0.4">Temperature (ºC): Average</text>
<!-- p5 -->
<path d="M79.6 1162.7H872M79.6 1258.5H872M79.6 1354.3H872M79.6 1450.1H872M200.8 1115.4V1520.8M365.2 1115.4V1520.8M529.8 1115.4V1520.8M694.2 1115.4V1520.8M858.8 1115.4V1520.8" stroke="#ebebeb" stroke-width="1.5" fill="none"/>
<path d="M79.6 1210.6H872M79.6 1306.4H872M79.6 1402.2H872M79.6 1498H872M118.5 1115.4V1520.8M283 1115.4V1520.8M447.5 1115.4V1520.8M612 1115.4V1520.8M776.5 1115.4V1520.8" stroke="#ebebeb" stroke-width="3.0" fill="none"/>
<g fill="none" stroke="#a8bce6" stroke-width="2.35"><circle cx="232.2" cy="1399.8" r="5.25"/><circle cx="227.6" cy="1297.9" r="5.25"/><circle cx="236.3" cy="1292" r="5.25"/><circle cx="231.6" cy="1328.5" r="5.25"/><circle cx="231.1" cy="1309.3" r="5.25"/><circle cx="228.3" cy="1298.5" r="5.25"/><circle cx="229.9" cy="1313.1" r="5.25"/><circle cx="233" cy="1293.2" r="5.25"/><circle cx="238.1" cy="1324.2" r="5.25"/><circle cx="238.3" cy="1285.8" r="5.25"/><circle cx="236.6" cy="1296" r="5.25"/><circle cx="238.7" cy="1300.7" r="5.25"/><circle cx="256.5" cy="1315.7" r="5.25"/><circle cx="283.3" cy="1299.3" r="5.25"/><circle cx="253.1" cy="1294" r="5.25"/><circle cx="244" cy="1313.2" r="5.25"/><circle cx="247.6" cy="1314.2" r="5.25"/><circle cx="249.4" cy="1298.2" r="5.25"/><circle cx="269.8" cy="1293.9" r="5.25"/><circle cx="286.4" cy="1303.7" r="5.25"/><circle cx="265.4" cy="1294.5" r="5.25"/><circle cx="249.9" cy="1288.4" r="5.25"/><circle cx="246.4" cy="1317.8" r="5.25"/><circle cx="286" cy="1306.9" r="5.25"/><circle cx="263.6" cy="1294.6" r="5.25"/><circle cx="241.5" cy="1298.6" r="5.25"/><circle cx="281.4" cy="1299.5" r="5.25"/><circle cx="289.2" cy="1303.6" r="5.25"/><circle cx="297.2" cy="1321.6" r="5.25"/><circle cx="292" cy="1317" r="5.25"/><circle cx="241.9" cy="1291.9" r="5.25"/><circle cx="281" cy="1313.5" r="5.25"/><circle cx="274.4" cy="1304.3" r="5.25"/><circle cx="262.9" cy="1297.1" r="5.25"/><circle cx="246.7" cy="1290.4" r="5.25"/><circle cx="248.7" cy="1310.5" r="5.25"/><circle cx="286.7" cy="1322.8" r="5.25"/><circle cx="259.3" cy="1289.2" r="5.25"/><circle cx="278.1" cy="1320.8" r="5.25"/><circle cx="274.7" cy="1318.7" r="5.25"/><circle cx="283.4" cy="1299.8" r="5.25"/><circle cx="282.6" cy="1313.8" r="5.25"/><circle cx="262.9" cy="1313.4" r="5.25"/><circle cx="249" cy="1313" r="5.25"/><circle cx="270.6" cy="1310.5" r="5.25"/><circle cx="255.5" cy="1317.2" r="5.25"/><circle cx="284.7" cy="1319.1" r="5.25"/><circle cx="273.7" cy="1296.7" r="5.25"/><circle cx="275.1" cy="1306.3" r="5.25"/><circle cx="284.1" cy="1320.7" r="5.25"/><circle cx="283" cy="1291.6" r="5.25"/><circle cx="268.6" cy="1307.9" r="5.25"/><circle cx="289.1" cy="1316.7" r="5.25"/><circle cx="286.2" cy="1320.4" r="5.25"/><circle cx="287.3" cy="1311.7" r="5.25"/><circle cx="245.6" cy="1306.8" r="5.25"/><circle cx="287.1" cy="1305.8" r="5.25"/><circle cx="273.5" cy="1297.5" r="5.25"/><circle cx="268.1" cy="1300.2" r="5.25"/><circle cx="286.2" cy="1312.8" r="5.25"/><circle cx="292.7" cy="1319.8" r="5.25"/><circle cx="289.2" cy="1322.2" r="5.25"/><circle cx="243.1" cy="1321.4" r="5.25"/><circle cx="292.8" cy="1297.7" r="5.25"/><circle cx="250.3" cy="1296.9" r="5.25"/><circle cx="273.1" cy="1290.9" r="5.25"/><circle cx="295.2" cy="1320.3" r="5.25"/><circle cx="252.8" cy="1308.1" r="5.25"/><circle cx="280.6" cy="1300" r="5.25"/><circle cx="260" cy="1311.4" r="5.25"/><circle cx="249.7" cy="1317.7" r="5.25"/><circle cx="291.5" cy="1314.1" r="5.25"/><circle cx="287.7" cy="1294.9" r="5.25"/><circle cx="294.8" cy="1308.2" r="5.25"/><circle cx="243.8" cy="1288.7" r="5.25"/><circle cx="252.1" cy="1298" r="5.25"/><circle cx="244.7" cy="1308.4" r="5.25"/><circle cx="244.3" cy="1311.1" r="5.25"/><circle cx="269.5" cy="1295.6" r="5.25"/><circle cx="289.3" cy="1312.5" r="5.25"/><circle cx="289.2" cy="1300.6" r="5.25"/><circle cx="240.6" cy="1290.2" r="5.25"/><circle cx="259.3" cy="1323.5" r="5.25"/><circle cx="259.3" cy="1308.2" r="5.25"/><circle cx="297.6" cy="1309.9" r="5.25"/><circle cx="256.9" cy="1293.9" r="5.25"/><circle cx="286.1" cy="1315.3" r="5.25"/><circle cx="250.3" cy="1290.6" r="5.25"/><circle cx="252.2" cy="1293.9" r="5.25"/><circle cx="279.3" cy="1318" r="5.25"/><circle cx="274.2" cy="1315.6" r="5.25"/><circle cx="273.8" cy="1304" r="5.25"/><circle cx="249.7" cy="1293.7" r="5.25"/><circle cx="290.2" cy="1305.4" r="5.25"/><circle cx="290.5" cy="1297.8" r="5.25"/><circle cx="254.7" cy="1301.4" r="5.25"/><circle cx="274.4" cy="1294.3" r="5.25"/><circle cx="259.8" cy="1320.8" r="5.25"/><circle cx="251.5" cy="1317.7" r="5.25"/><circle cx="296.6" cy="1323.5" r="5.25"/><circle cx="273.5" cy="1300.5" r="5.25"/><circle cx="245.7" cy="1303.6" r="5.25"/><circle cx="266.2" cy="1312.7" r="5.25"/><circle cx="255.4" cy="1321" r="5.25"/><circle cx="298.6" cy="1292.6" r="5.25"/><circle cx="257.1" cy="1292.9" r="5.25"/><circle cx="268.6" cy="1290.4" r="5.25"/><circle cx="259.8" cy="1289.8" r="5.25"/><circle cx="246.5" cy="1295.8" r="5.25"/><circle cx="293.2" cy="1298.8" r="5.25"/><circle cx="282.3" cy="1304.1" r="5.25"/><circle cx="295.1" cy="1312.7" r="5.25"/><circle cx="291.6" cy="1315" r="5.25"/><circle cx="276.3" cy="1320.3" r="5.25"/><circle cx="274.8" cy="1316.6" r="5.25"/><circle cx="282" cy="1299.1" r="5.25"/><circle cx="263.3" cy="1323.6" r="5.25"/><circle cx="283.5" cy="1300.4" r="5.25"/><circle cx="248" cy="1293" r="5.25"/><circle cx="275.1" cy="1320.1" r="5.25"/><circle cx="282.1" cy="1320.9" r="5.25"/><circle cx="248.2" cy="1303.4" r="5.25"/><circle cx="242.7" cy="1294.8" r="5.25"/><circle cx="264.8" cy="1299.4" r="5.25"/><circle cx="361.1" cy="1296.1" r="5.25"/><circle cx="306.4" cy="1301" r="5.25"/><circle cx="346.9" cy="1305.8" r="5.25"/><circle cx="302.4" cy="1309.6" r="5.25"/><circle cx="342.1" cy="1319.4" r="5.25"/><circle cx="352.6" cy="1307.8" r="5.25"/><circle cx="339" cy="1318.9" r="5.25"/><circle cx="300.7" cy="1308.1" r="5.25"/><circle cx="304.6" cy="1307.3" r="5.25"/><circle cx="331.9" cy="1292.1" r="5.25"/><circle cx="349.5" cy="1311.6" r="5.25"/><circle cx="308.2" cy="1322.8" r="5.25"/><circle cx="325" cy="1294.8" r="5.25"/><circle cx="362.2" cy="1316.2" r="5.25"/><circle cx="300.6" cy="1308.9" r="5.25"/><circle cx="363.5" cy="1289.8" r="5.25"/><circle cx="312.3" cy="1295.5" r="5.25"/><circle cx="312.2" cy="1304.5" r="5.25"/><circle cx="355.5" cy="1291.3" r="5.25"/><circle cx="363.1" cy="1290" r="5.25"/><circle cx="348.1" cy="1300.6" r="5.25"/><circle cx="300.5" cy="1321.7" r="5.25"/><circle cx="311" cy="1296.4" r="5.25"/><circle cx="362.9" cy="1322.1" r="5.25"/><circle cx="336.2" cy="1293.5" r="5.25"/><circle cx="351.8" cy="1301.4" r="5.25"/><circle cx="352.9" cy="1318.4" r="5.25"/><circle cx="337.2" cy="1301.5" r="5.25"/><circle cx="315.1" cy="1318.4" r="5.25"/><circle cx="320.2" cy="1307.4" r="5.25"/><circle cx="356.1" cy="1308.1" r="5.25"/><circle cx="362.9" cy="1316.3" r="5.25"/><circle cx="313.4" cy="1315" r="5.25"/><circle cx="344.4" cy="1291.6" r="5.25"/><circle cx="350.5" cy="1306.8" r="5.25"/><circle cx="311.8" cy="1320.7" r="5.25"/><circle cx="337.4" cy="1297.8" r="5.25"/><circle cx="343.5" cy="1292.5" r="5.25"/><circle cx="325.3" cy="1320.3" r="5.25"/><circle cx="324.7" cy="1310.6" r="5.25"/><circle cx="321.1" cy="1315.2" r="5.25"/><circle cx="348" cy="1310" r="5.25"/><circle cx="358.1" cy="1291" r="5.25"/><circle cx="338.8" cy="1319.6" r="5.25"/><circle cx="306" cy="1294.9" r="5.25"/><circle cx="347.9" cy="1317.3" r="5.25"/><circle cx="324.5" cy="1304.9" r="5.25"/><circle cx="359.9" cy="1300.3" r="5.25"/><circle cx="329.7" cy="1295.2" r="5.25"/><circle cx="339.4" cy="1319.6" r="5.25"/><circle cx="338.9" cy="1317.2" r="5.25"/><circle cx="358.1" cy="1292.3" r="5.25"/><circle cx="344.3" cy="1322.1" r="5.25"/><circle cx="335.8" cy="1294" r="5.25"/><circle cx="338.3" cy="1321.8" r="5.25"/><circle cx="339.5" cy="1309.4" r="5.25"/><circle cx="346.4" cy="1305.5" r="5.25"/><circle cx="360.1" cy="1313.6" r="5.25"/><circle cx="326.8" cy="1317.2" r="5.25"/><circle cx="332" cy="1301.9" r="5.25"/><circle cx="348.4" cy="1317.9" r="5.25"/><circle cx="356.7" cy="1318.7" r="5.25"/><circle cx="353.1" cy="1302.3" r="5.25"/><circle cx="346.1" cy="1313.6" r="5.25"/><circle cx="338.2" cy="1309.6" r="5.25"/><circle cx="308.7" cy="1307.9" r="5.25"/><circle cx="303.9" cy="1308" r="5.25"/><circle cx="307.9" cy="1292.7" r="5.25"/><circle cx="349.6" cy="1317.7" r="5.25"/><circle cx="303.6" cy="1310.7" r="5.25"/><circle cx="314.6" cy="1290.6" r="5.25"/><circle cx="341.8" cy="1306.2" r="5.25"/><circle cx="326" cy="1294.9" r="5.25"/><circle cx="301.6" cy="1303.4" r="5.25"/><circle cx="361.8" cy="1314.6" r="5.25"/><circle cx="356.3" cy="1288.6" r="5.25"/><circle cx="300.7" cy="1313.7" r="5.25"/><circle cx="337.8" cy="1301.6" r="5.25"/><circle cx="360" cy="1290.5" r="5.25"/><circle cx="307.4" cy="1290.7" r="5.25"/><circle cx="331.2" cy="1322" r="5.25"/><circle cx="324.4" cy="1302.1" r="5.25"/><circle cx="364.8" cy="1296.8" r="5.25"/><circle cx="304.6" cy="1314.5" r="5.25"/><circle cx="304.3" cy="1287.1" r="5.25"/><circle cx="328.7" cy="1321.4" r="5.25"/><circle cx="330.7" cy="1306.8" r="5.25"/><circle cx="325.5" cy="1289.5" r="5.25"/><circle cx="339" cy="1307.5" r="5.25"/><circle cx="318.3" cy="1317.6" r="5.25"/><circle cx="347.9" cy="1306.3" r="5.25"/><circle cx="328.3" cy="1288.5" r="5.25"/><circle cx="363.7" cy="1300.2" r="5.25"/><circle cx="305.1" cy="1292.5" r="5.25"/><circle cx="341.4" cy="1287.3" r="5.25"/><circle cx="313.2" cy="1312.4" r="5.25"/><circle cx="340.6" cy="1312.3" r="5.25"/><circle cx="335.2" cy="1290.6" r="5.25"/><circle cx="380.2" cy="1315.9" r="5.25"/><circle cx="395.8" cy="1310.5" r="5.25"/><circle cx="369.7" cy="1324.5" r="5.25"/><circle cx="387" cy="1292.9" r="5.25"/><circle cx="366.8" cy="1313.8" r="5.25"/><circle cx="363.9" cy="1309.7" r="5.25"/><circle cx="396.2" cy="1287.3" r="5.25"/><circle cx="376" cy="1305.9" r="5.25"/><circle cx="393" cy="1324.5" r="5.25"/><circle cx="391.4" cy="1319.1" r="5.25"/><circle cx="402.3" cy="1298.4" r="5.25"/><circle cx="365.3" cy="1309.9" r="5.25"/><circle cx="384.2" cy="1298" r="5.25"/><circle cx="362.7" cy="1316.7" r="5.25"/><circle cx="399.7" cy="1314.6" r="5.25"/><circle cx="383.4" cy="1291.3" r="5.25"/><circle cx="394.7" cy="1316.8" r="5.25"/><circle cx="404" cy="1324" r="5.25"/><circle cx="393" cy="1310.6" r="5.25"/><circle cx="368.1" cy="1318.4" r="5.25"/><circle cx="376.5" cy="1299.2" r="5.25"/><circle cx="400.3" cy="1288.2" r="5.25"/><circle cx="377" cy="1314.1" r="5.25"/><circle cx="390.6" cy="1315.4" r="5.25"/><circle cx="383.3" cy="1310.2" r="5.25"/><circle cx="393.7" cy="1321.2" r="5.25"/><circle cx="399.6" cy="1290.7" r="5.25"/><circle cx="392.7" cy="1306.3" r="5.25"/><circle cx="403.1" cy="1288.5" r="5.25"/><circle cx="369.6" cy="1318" r="5.25"/><circle cx="400.5" cy="1293.3" r="5.25"/><circle cx="369.8" cy="1288.9" r="5.25"/><circle cx="390.7" cy="1318.1" r="5.25"/><circle cx="402.5" cy="1305.3" r="5.25"/><circle cx="394.4" cy="1312" r="5.25"/><circle cx="362.4" cy="1318.2" r="5.25"/><circle cx="401.7" cy="1316.1" r="5.25"/><circle cx="376.6" cy="1325.1" r="5.25"/><circle cx="366.4" cy="1318.6" r="5.25"/><circle cx="408.4" cy="1321.7" r="5.25"/><circle cx="378.8" cy="1290.8" r="5.25"/><circle cx="366.8" cy="1287" r="5.25"/><circle cx="402.3" cy="1320.9" r="5.25"/><circle cx="392.4" cy="1302" r="5.25"/><circle cx="365.4" cy="1319.4" r="5.25"/><circle cx="361.4" cy="1320.4" r="5.25"/><circle cx="406.1" cy="1314" r="5.25"/><circle cx="407.9" cy="1302.3" r="5.25"/><circle cx="405.6" cy="1312.5" r="5.25"/><circle cx="401" cy="1307" r="5.25"/><circle cx="362.7" cy="1313.8" r="5.25"/><circle cx="405.9" cy="1287.1" r="5.25"/><circle cx="375.7" cy="1297.1" r="5.25"/><circle cx="379.2" cy="1306.4" r="5.25"/><circle cx="369.3" cy="1310" r="5.25"/><circle cx="373.9" cy="1297.4" r="5.25"/><circle cx="361.5" cy="1297.5" r="5.25"/><circle cx="407.4" cy="1287.3" r="5.25"/><circle cx="363.5" cy="1321.5" r="5.25"/><circle cx="409.7" cy="1322.3" r="5.25"/><circle cx="362.7" cy="1294.7" r="5.25"/><circle cx="372.1" cy="1295.6" r="5.25"/><circle cx="364.3" cy="1288.9" r="5.25"/><circle cx="407.5" cy="1313" r="5.25"/><circle cx="367.1" cy="1311" r="5.25"/><circle cx="396.3" cy="1300" r="5.25"/><circle cx="398.6" cy="1317.3" r="5.25"/><circle cx="396" cy="1318.1" r="5.25"/><circle cx="369.4" cy="1286.4" r="5.25"/><circle cx="401" cy="1286.3" r="5.25"/><circle cx="374.6" cy="1312" r="5.25"/><circle cx="403.8" cy="1297.5" r="5.25"/><circle cx="362.8" cy="1321" r="5.25"/><circle cx="363" cy="1291.4" r="5.25"/><circle cx="365" cy="1297.4" r="5.25"/><circle cx="369.5" cy="1289.1" r="5.25"/><circle cx="406" cy="1319.9" r="5.25"/><circle cx="373.7" cy="1321" r="5.25"/><circle cx="360.5" cy="1310.6" r="5.25"/><circle cx="388" cy="1325.3" r="5.25"/><circle cx="386.1" cy="1313.4" r="5.25"/><circle cx="371.5" cy="1292.9" r="5.25"/><circle cx="395.9" cy="1299.1" r="5.25"/><circle cx="381" cy="1320.1" r="5.25"/><circle cx="360" cy="1297.3" r="5.25"/><circle cx="377.8" cy="1297" r="5.25"/><circle cx="379.2" cy="1314" r="5.25"/><circle cx="373.6" cy="1319.4" r="5.25"/><circle cx="368.3" cy="1322.9" r="5.25"/><circle cx="383.6" cy="1312.2" r="5.25"/><circle cx="404.2" cy="1288.9" r="5.25"/><circle cx="369.7" cy="1292.1" r="5.25"/><circle cx="404.8" cy="1318.2" r="5.25"/><circle cx="364.1" cy="1297.6" r="5.25"/><circle cx="390.9" cy="1315.9" r="5.25"/><circle cx="365.8" cy="1288" r="5.25"/><circle cx="391.5" cy="1300.7" r="5.25"/><circle cx="374.5" cy="1315.4" r="5.25"/><circle cx="395" cy="1312.6" r="5.25"/><circle cx="401.9" cy="1316.7" r="5.25"/><circle cx="373.8" cy="1315.7" r="5.25"/><circle cx="401.3" cy="1310.7" r="5.25"/><circle cx="371.7" cy="1324.8" r="5.25"/><circle cx="382.7" cy="1310.5" r="5.25"/><circle cx="364" cy="1296.2" r="5.25"/><circle cx="381.8" cy="1312" r="5.25"/><circle cx="407.1" cy="1301.4" r="5.25"/><circle cx="368.2" cy="1298.7" r="5.25"/><circle cx="384.3" cy="1314.9" r="5.25"/><circle cx="363.1" cy="1312.5" r="5.25"/><circle cx="396.3" cy="1286.4" r="5.25"/><circle cx="371.7" cy="1323.2" r="5.25"/><circle cx="254.5" cy="1326.9" r="5.25"/><circle cx="362.9" cy="1330.1" r="5.25"/><circle cx="285.7" cy="1290.5" r="5.25"/><circle cx="341.1" cy="1304.2" r="5.25"/><circle cx="339.9" cy="1329" r="5.25"/><circle cx="309.4" cy="1288.3" r="5.25"/><circle cx="364.1" cy="1326" r="5.25"/><circle cx="392.8" cy="1284.7" r="5.25"/><circle cx="333.3" cy="1303.5" r="5.25"/><circle cx="262.7" cy="1297.8" r="5.25"/><circle cx="335.1" cy="1318.2" r="5.25"/><circle cx="399.7" cy="1329.8" r="5.25"/><circle cx="306.3" cy="1305.9" r="5.25"/><circle cx="241.1" cy="1326.5" r="5.25"/><circle cx="312.3" cy="1325.9" r="5.25"/><circle cx="284.3" cy="1320" r="5.25"/><circle cx="334.1" cy="1299" r="5.25"/><circle cx="265.9" cy="1282.8" r="5.25"/><circle cx="404.7" cy="1319" r="5.25"/><circle cx="385.4" cy="1288.9" r="5.25"/><circle cx="247.4" cy="1305" r="5.25"/><circle cx="400.2" cy="1313.7" r="5.25"/><circle cx="252.1" cy="1283.3" r="5.25"/><circle cx="241.5" cy="1310.1" r="5.25"/><circle cx="380.4" cy="1327.7" r="5.25"/><circle cx="244.5" cy="1313.6" r="5.25"/><circle cx="354.9" cy="1328.4" r="5.25"/><circle cx="316.1" cy="1320.5" r="5.25"/><circle cx="284.5" cy="1297.9" r="5.25"/><circle cx="301" cy="1303.1" r="5.25"/><circle cx="269.8" cy="1311.3" r="5.25"/><circle cx="263" cy="1302.8" r="5.25"/><circle cx="307.6" cy="1326" r="5.25"/><circle cx="317.3" cy="1327.3" r="5.25"/><circle cx="268.5" cy="1293.3" r="5.25"/><circle cx="243.7" cy="1283.2" r="5.25"/><circle cx="263.5" cy="1315.1" r="5.25"/><circle cx="363.3" cy="1315.3" r="5.25"/><circle cx="297.3" cy="1222.8" r="5.25"/><circle cx="301" cy="1222.3" r="5.25"/><circle cx="295.7" cy="1217.3" r="5.25"/><circle cx="294.5" cy="1214.8" r="5.25"/><circle cx="303.3" cy="1231.2" r="5.25"/><circle cx="292.9" cy="1217.3" r="5.25"/><circle cx="299.6" cy="1214.9" r="5.25"/><circle cx="310.5" cy="1222.7" r="5.25"/><circle cx="306.6" cy="1218.2" r="5.25"/><circle cx="307" cy="1260.7" r="5.25"/><circle cx="298.3" cy="1259.5" r="5.25"/><circle cx="297.4" cy="1261.3" r="5.25"/><circle cx="299.3" cy="1252.3" r="5.25"/><circle cx="308.4" cy="1262.5" r="5.25"/><circle cx="305.4" cy="1255.6" r="5.25"/><circle cx="277.8" cy="1261.9" r="5.25"/><circle cx="275" cy="1272" r="5.25"/><circle cx="281" cy="1278" r="5.25"/><circle cx="327.8" cy="1233.1" r="5.25"/><circle cx="332.3" cy="1247.4" r="5.25"/><circle cx="331.3" cy="1250.8" r="5.25"/><circle cx="332.6" cy="1251.5" r="5.25"/><circle cx="329.2" cy="1251.3" r="5.25"/><circle cx="335.6" cy="1266" r="5.25"/><circle cx="332.9" cy="1253.6" r="5.25"/><circle cx="327.8" cy="1242.7" r="5.25"/><circle cx="333.3" cy="1251.9" r="5.25"/><circle cx="329.7" cy="1247" r="5.25"/><circle cx="333" cy="1266" r="5.25"/><circle cx="335.1" cy="1246.4" r="5.25"/><circle cx="332.4" cy="1273.7" r="5.25"/><circle cx="348" cy="1276.6" r="5.25"/><circle cx="337.4" cy="1281.4" r="5.25"/><circle cx="338.6" cy="1274.3" r="5.25"/><circle cx="339.8" cy="1277.3" r="5.25"/><circle cx="336.1" cy="1271.3" r="5.25"/><circle cx="338.3" cy="1279.8" r="5.25"/><circle cx="324.4" cy="1282" r="5.25"/><circle cx="366.4" cy="1257.5" r="5.25"/><circle cx="376.3" cy="1254.6" r="5.25"/><circle cx="371.6" cy="1267.2" r="5.25"/><circle cx="377.4" cy="1267.2" r="5.25"/><circle cx="383.2" cy="1266.1" r="5.25"/><circle cx="372" cy="1277" r="5.25"/><circle cx="384" cy="1276" r="5.25"/><circle cx="412" cy="1280.6" r="5.25"/><circle cx="413.1" cy="1297.9" r="5.25"/><circle cx="412" cy="1309.9" r="5.25"/><circle cx="412" cy="1316.8" r="5.25"/><circle cx="450.7" cy="1267.2" r="5.25"/><circle cx="441.2" cy="1282" r="5.25"/><circle cx="436.2" cy="1284.1" r="5.25"/><circle cx="439.1" cy="1311.3" r="5.25"/><circle cx="450.2" cy="1291.5" r="5.25"/><circle cx="429.6" cy="1306.4" r="5.25"/><circle cx="448.2" cy="1309.9" r="5.25"/><circle cx="431.5" cy="1302.1" r="5.25"/><circle cx="432.7" cy="1313.6" r="5.25"/><circle cx="440.8" cy="1296.7" r="5.25"/><circle cx="443.5" cy="1309.3" r="5.25"/><circle cx="445.9" cy="1302" r="5.25"/><circle cx="449.3" cy="1288" r="5.25"/><circle cx="430.5" cy="1282.7" r="5.25"/><circle cx="439.3" cy="1301.3" r="5.25"/><circle cx="444.5" cy="1319.9" r="5.25"/><circle cx="440.8" cy="1315.1" r="5.25"/><circle cx="447.1" cy="1308.1" r="5.25"/><circle cx="439.1" cy="1311.4" r="5.25"/><circle cx="436.6" cy="1312.5" r="5.25"/><circle cx="417.2" cy="1419.8" r="5.25"/><circle cx="429.6" cy="1386.3" r="5.25"/><circle cx="421.3" cy="1425" r="5.25"/><circle cx="415.2" cy="1389.6" r="5.25"/><circle cx="435" cy="1400.4" r="5.25"/><circle cx="424.5" cy="1394" r="5.25"/><circle cx="418.2" cy="1404.3" r="5.25"/><circle cx="425.3" cy="1408.9" r="5.25"/><circle cx="409.6" cy="1425" r="5.25"/><circle cx="409.5" cy="1416" r="5.25"/><circle cx="434.4" cy="1395.4" r="5.25"/><circle cx="424.1" cy="1405.3" r="5.25"/><circle cx="410.6" cy="1404.2" r="5.25"/><circle cx="406.3" cy="1395.6" r="5.25"/><circle cx="418.3" cy="1409.4" r="5.25"/><circle cx="410.8" cy="1405.8" r="5.25"/><circle cx="429.6" cy="1398" r="5.25"/><circle cx="403.8" cy="1395.3" r="5.25"/><circle cx="428.8" cy="1410.7" r="5.25"/><circle cx="410.9" cy="1401.6" r="5.25"/><circle cx="409" cy="1416" r="5.25"/><circle cx="419.3" cy="1412.4" r="5.25"/><circle cx="408.9" cy="1389.6" r="5.25"/><circle cx="414.3" cy="1381" r="5.25"/><circle cx="414.5" cy="1403.4" r="5.25"/><circle cx="402.8" cy="1395.5" r="5.25"/><circle cx="409.4" cy="1391.5" r="5.25"/><circle cx="421.6" cy="1395" r="5.25"/><circle cx="402.8" cy="1418.8" r="5.25"/><circle cx="408" cy="1400.5" r="5.25"/><circle cx="411.5" cy="1423.8" r="5.25"/><circle cx="426.2" cy="1411.5" r="5.25"/><circle cx="426.2" cy="1383.8" r="5.25"/><circle cx="430.7" cy="1407.8" r="5.25"/><circle cx="411.1" cy="1419.4" r="5.25"/><circle cx="425.3" cy="1383.4" r="5.25"/><circle cx="420.7" cy="1389" r="5.25"/><circle cx="408.4" cy="1401.8" r="5.25"/><circle cx="423" cy="1396.9" r="5.25"/><circle cx="418.7" cy="1421.6" r="5.25"/><circle cx="413.5" cy="1393.5" r="5.25"/><circle cx="410.1" cy="1421.7" r="5.25"/><circle cx="405.8" cy="1387.6" r="5.25"/><circle cx="422.8" cy="1393.5" r="5.25"/><circle cx="422.3" cy="1406.6" r="5.25"/><circle cx="416.5" cy="1408.7" r="5.25"/><circle cx="415.7" cy="1404.7" r="5.25"/><circle cx="414" cy="1420.8" r="5.25"/><circle cx="424.9" cy="1423.1" r="5.25"/><circle cx="420.3" cy="1424.8" r="5.25"/><circle cx="404.5" cy="1402" r="5.25"/><circle cx="419.5" cy="1412.8" r="5.25"/><circle cx="422.5" cy="1400.1" r="5.25"/><circle cx="413.9" cy="1418.9" r="5.25"/><circle cx="415" cy="1381" r="5.25"/><circle cx="414" cy="1395.9" r="5.25"/><circle cx="423.8" cy="1400.8" r="5.25"/><circle cx="415.5" cy="1397.8" r="5.25"/><circle cx="418.5" cy="1420.7" r="5.25"/><circle cx="419.5" cy="1387.8" r="5.25"/><circle cx="461.5" cy="1331.2" r="5.25"/><circle cx="460.3" cy="1335.3" r="5.25"/><circle cx="463.8" cy="1341.4" r="5.25"/><circle cx="461.2" cy="1375.4" r="5.25"/><circle cx="466.8" cy="1335.3" r="5.25"/><circle cx="466.6" cy="1367.6" r="5.25"/><circle cx="457.6" cy="1373.5" r="5.25"/><circle cx="457.5" cy="1383.3" r="5.25"/><circle cx="466.4" cy="1338.5" r="5.25"/><circle cx="465.1" cy="1363.3" r="5.25"/><circle cx="459.1" cy="1330.3" r="5.25"/><circle cx="463.8" cy="1332.2" r="5.25"/><circle cx="460.2" cy="1373.9" r="5.25"/><circle cx="466.4" cy="1377.2" r="5.25"/><circle cx="460" cy="1384" r="5.25"/><circle cx="471.4" cy="1392.3" r="5.25"/><circle cx="471.2" cy="1399.8" r="5.25"/><circle cx="466.2" cy="1387.7" r="5.25"/><circle cx="479.5" cy="1414.3" r="5.25"/><circle cx="454" cy="1400.4" r="5.25"/><circle cx="449.8" cy="1405.8" r="5.25"/><circle cx="456.8" cy="1404.3" r="5.25"/><circle cx="477.5" cy="1400.4" r="5.25"/><circle cx="461.2" cy="1396.3" r="5.25"/><circle cx="456.4" cy="1419.7" r="5.25"/><circle cx="456.1" cy="1414.1" r="5.25"/><circle cx="467.6" cy="1422.1" r="5.25"/><circle cx="463.1" cy="1402.2" r="5.25"/><circle cx="474.1" cy="1407.5" r="5.25"/><circle cx="460.7" cy="1408.5" r="5.25"/><circle cx="471.6" cy="1400.2" r="5.25"/><circle cx="456" cy="1403.7" r="5.25"/><circle cx="468.3" cy="1384.7" r="5.25"/><circle cx="481" cy="1389.8" r="5.25"/><circle cx="461.8" cy="1393.1" r="5.25"/><circle cx="462.5" cy="1390.4" r="5.25"/><circle cx="472.1" cy="1409.4" r="5.25"/><circle cx="454.9" cy="1408.5" r="5.25"/><circle cx="459.6" cy="1409.1" r="5.25"/><circle cx="458.8" cy="1401" r="5.25"/><circle cx="465.8" cy="1416.3" r="5.25"/><circle cx="451.6" cy="1415.2" r="5.25"/><circle cx="476.2" cy="1411" r="5.25"/><circle cx="464.8" cy="1400.1" r="5.25"/><circle cx="465.2" cy="1422.7" r="5.25"/><circle cx="462.2" cy="1389.8" r="5.25"/><circle cx="463.3" cy="1384.5" r="5.25"/><circle cx="446" cy="1388.5" r="5.25"/><circle cx="474.8" cy="1418.6" r="5.25"/><circle cx="455.9" cy="1405.3" r="5.25"/><circle cx="470.9" cy="1397.1" r="5.25"/><circle cx="462.3" cy="1380" r="5.25"/><circle cx="461.8" cy="1401.4" r="5.25"/><circle cx="468" cy="1392.2" r="5.25"/><circle cx="478.4" cy="1380" r="5.25"/><circle cx="462.8" cy="1417.2" r="5.25"/><circle cx="458.6" cy="1404.5" r="5.25"/><circle cx="467.8" cy="1420.8" r="5.25"/><circle cx="446" cy="1403.9" r="5.25"/><circle cx="456.1" cy="1410.9" r="5.25"/><circle cx="476.6" cy="1281" r="5.25"/><circle cx="476.6" cy="1298" r="5.25"/><circle cx="476.6" cy="1310" r="5.25"/><circle cx="484.5" cy="1320" r="5.25"/><circle cx="496.6" cy="1303.3" r="5.25"/><circle cx="487.1" cy="1305.9" r="5.25"/><circle cx="496.5" cy="1323.3" r="5.25"/><circle cx="492.8" cy="1307" r="5.25"/><circle cx="480.7" cy="1296.4" r="5.25"/><circle cx="491.1" cy="1300" r="5.25"/><circle cx="492.4" cy="1317.7" r="5.25"/><circle cx="484.4" cy="1308" r="5.25"/><circle cx="489.8" cy="1293.2" r="5.25"/><circle cx="499.5" cy="1318.2" r="5.25"/><circle cx="502.3" cy="1284.5" r="5.25"/><circle cx="491.5" cy="1277" r="5.25"/><circle cx="472.3" cy="1290.6" r="5.25"/><circle cx="497.9" cy="1278.9" r="5.25"/><circle cx="507.9" cy="1300.6" r="5.25"/><circle cx="488.8" cy="1303.6" r="5.25"/><circle cx="483" cy="1299.7" r="5.25"/><circle cx="493.7" cy="1295.8" r="5.25"/><circle cx="492.9" cy="1289.6" r="5.25"/><circle cx="499.1" cy="1315" r="5.25"/><circle cx="485.1" cy="1277.9" r="5.25"/><circle cx="507.1" cy="1312.4" r="5.25"/><circle cx="499.4" cy="1306.4" r="5.25"/><circle cx="481.6" cy="1302.2" r="5.25"/><circle cx="500.5" cy="1308.8" r="5.25"/><circle cx="489.8" cy="1283.1" r="5.25"/><circle cx="497.4" cy="1315.6" r="5.25"/><circle cx="494.3" cy="1309.6" r="5.25"/><circle cx="491.5" cy="1317.3" r="5.25"/><circle cx="493.9" cy="1277" r="5.25"/><circle cx="487.1" cy="1306.3" r="5.25"/><circle cx="484.2" cy="1301.3" r="5.25"/><circle cx="488.8" cy="1277" r="5.25"/><circle cx="488.3" cy="1298.7" r="5.25"/><circle cx="494.6" cy="1303.7" r="5.25"/><circle cx="492.7" cy="1292.9" r="5.25"/><circle cx="476" cy="1307.9" r="5.25"/><circle cx="498.7" cy="1310.2" r="5.25"/><circle cx="490.6" cy="1297.2" r="5.25"/><circle cx="498.9" cy="1298.5" r="5.25"/><circle cx="497.3" cy="1312.8" r="5.25"/><circle cx="493.5" cy="1290.4" r="5.25"/><circle cx="496.2" cy="1309.4" r="5.25"/><circle cx="477.7" cy="1320" r="5.25"/><circle cx="505.3" cy="1302.6" r="5.25"/><circle cx="508.9" cy="1307.8" r="5.25"/><circle cx="496.9" cy="1303.3" r="5.25"/><circle cx="486.2" cy="1313.5" r="5.25"/><circle cx="497.4" cy="1283.7" r="5.25"/><circle cx="487.9" cy="1281.1" r="5.25"/><circle cx="506" cy="1292" r="5.25"/><circle cx="487" cy="1295.1" r="5.25"/><circle cx="480.3" cy="1315.4" r="5.25"/><circle cx="483.4" cy="1320.5" r="5.25"/><circle cx="484.2" cy="1310.4" r="5.25"/><circle cx="497.7" cy="1319" r="5.25"/><circle cx="490.6" cy="1297.7" r="5.25"/><circle cx="493.6" cy="1296.1" r="5.25"/><circle cx="487.9" cy="1283.2" r="5.25"/><circle cx="478" cy="1281" r="5.25"/><circle cx="492.4" cy="1277.6" r="5.25"/><circle cx="498.8" cy="1281" r="5.25"/><circle cx="503.4" cy="1288" r="5.25"/><circle cx="526" cy="1309.9" r="5.25"/><circle cx="513.3" cy="1323.3" r="5.25"/><circle cx="538" cy="1372.8" r="5.25"/><circle cx="528.5" cy="1348.6" r="5.25"/><circle cx="523.8" cy="1359.5" r="5.25"/><circle cx="519.4" cy="1354" r="5.25"/><circle cx="509.6" cy="1336.5" r="5.25"/><circle cx="512.1" cy="1361.5" r="5.25"/><circle cx="523.4" cy="1367.4" r="5.25"/><circle cx="519.7" cy="1356.5" r="5.25"/><circle cx="527.9" cy="1360.6" r="5.25"/><circle cx="521.1" cy="1367.8" r="5.25"/><circle cx="514.4" cy="1360.9" r="5.25"/><circle cx="510.9" cy="1352.1" r="5.25"/><circle cx="519.7" cy="1332.9" r="5.25"/><circle cx="531.9" cy="1342.8" r="5.25"/><circle cx="534.6" cy="1343.9" r="5.25"/><circle cx="514.2" cy="1363.3" r="5.25"/><circle cx="523.5" cy="1370.8" r="5.25"/><circle cx="514.3" cy="1354" r="5.25"/><circle cx="521.6" cy="1366.4" r="5.25"/><circle cx="504.6" cy="1328" r="5.25"/><circle cx="514.9" cy="1357.3" r="5.25"/><circle cx="506.1" cy="1338.7" r="5.25"/><circle cx="530.6" cy="1365.8" r="5.25"/><circle cx="513.1" cy="1388.5" r="5.25"/><circle cx="512.6" cy="1416" r="5.25"/><circle cx="511.3" cy="1396" r="5.25"/><circle cx="512.7" cy="1396.7" r="5.25"/><circle cx="515.3" cy="1385" r="5.25"/><circle cx="506.1" cy="1399.2" r="5.25"/><circle cx="514.5" cy="1412.8" r="5.25"/><circle cx="506.9" cy="1382.5" r="5.25"/><circle cx="502.7" cy="1387" r="5.25"/><circle cx="510.6" cy="1367.2" r="5.25"/><circle cx="511.3" cy="1390.5" r="5.25"/><circle cx="509.6" cy="1412" r="5.25"/><circle cx="505.7" cy="1376.2" r="5.25"/><circle cx="510.7" cy="1386.4" r="5.25"/><circle cx="587.6" cy="1396" r="5.25"/><circle cx="586" cy="1390.9" r="5.25"/><circle cx="564.7" cy="1388.2" r="5.25"/><circle cx="528.8" cy="1395" r="5.25"/><circle cx="546.7" cy="1395.4" r="5.25"/><circle cx="572.6" cy="1407.7" r="5.25"/><circle cx="542" cy="1406.8" r="5.25"/><circle cx="580.4" cy="1398.2" r="5.25"/><circle cx="613" cy="1406.7" r="5.25"/><circle cx="581.8" cy="1394.5" r="5.25"/><circle cx="577.6" cy="1401.1" r="5.25"/><circle cx="581.4" cy="1397.1" r="5.25"/><circle cx="565.2" cy="1388.5" r="5.25"/><circle cx="555.5" cy="1397.2" r="5.25"/><circle cx="587.9" cy="1413.8" r="5.25"/><circle cx="565.6" cy="1409.1" r="5.25"/><circle cx="535.7" cy="1392.1" r="5.25"/><circle cx="541.1" cy="1415.6" r="5.25"/><circle cx="562.3" cy="1409.3" r="5.25"/><circle cx="595.6" cy="1417.8" r="5.25"/><circle cx="530.2" cy="1392.6" r="5.25"/><circle cx="585.6" cy="1405.1" r="5.25"/><circle cx="602.6" cy="1408.4" r="5.25"/><circle cx="536.2" cy="1386.6" r="5.25"/><circle cx="597.6" cy="1399.7" r="5.25"/><circle cx="585.8" cy="1412.3" r="5.25"/><circle cx="593.9" cy="1414" r="5.25"/><circle cx="529.6" cy="1389" r="5.25"/><circle cx="558.1" cy="1395.6" r="5.25"/><circle cx="591.7" cy="1392.2" r="5.25"/><circle cx="544.7" cy="1405.5" r="5.25"/><circle cx="573.7" cy="1391.3" r="5.25"/><circle cx="582.5" cy="1413.3" r="5.25"/><circle cx="566.3" cy="1406.9" r="5.25"/><circle cx="572.9" cy="1392" r="5.25"/><circle cx="527.3" cy="1411.3" r="5.25"/><circle cx="535.5" cy="1390.2" r="5.25"/><circle cx="563" cy="1413.1" r="5.25"/><circle cx="553.6" cy="1393.2" r="5.25"/><circle cx="570.3" cy="1402.6" r="5.25"/><circle cx="584.3" cy="1386.9" r="5.25"/><circle cx="596" cy="1396.1" r="5.25"/><circle cx="549.2" cy="1394.2" r="5.25"/><circle cx="597.1" cy="1417.8" r="5.25"/><circle cx="613.1" cy="1409.5" r="5.25"/><circle cx="538.7" cy="1413.5" r="5.25"/><circle cx="598.8" cy="1411.2" r="5.25"/><circle cx="543.6" cy="1388.8" r="5.25"/><circle cx="526.8" cy="1404.5" r="5.25"/><circle cx="567.5" cy="1396.8" r="5.25"/><circle cx="612.9" cy="1398.2" r="5.25"/><circle cx="605" cy="1390" r="5.25"/><circle cx="563.5" cy="1410.4" r="5.25"/><circle cx="540.3" cy="1396" r="5.25"/><circle cx="561.4" cy="1392.2" r="5.25"/><circle cx="593.9" cy="1386.8" r="5.25"/><circle cx="534.4" cy="1410.5" r="5.25"/><circle cx="567.4" cy="1414.8" r="5.25"/><circle cx="540" cy="1389.6" r="5.25"/><circle cx="586" cy="1394.5" r="5.25"/><circle cx="578.2" cy="1403.3" r="5.25"/><circle cx="597" cy="1409.4" r="5.25"/><circle cx="548.9" cy="1402.4" r="5.25"/><circle cx="569.8" cy="1410.5" r="5.25"/><circle cx="528.2" cy="1412.5" r="5.25"/><circle cx="587.9" cy="1400.3" r="5.25"/><circle cx="562.5" cy="1409.3" r="5.25"/><circle cx="543.1" cy="1411" r="5.25"/><circle cx="555.5" cy="1389.9" r="5.25"/><circle cx="608.3" cy="1403.4" r="5.25"/><circle cx="541.4" cy="1396" r="5.25"/><circle cx="574.6" cy="1394.2" r="5.25"/><circle cx="543.9" cy="1415.8" r="5.25"/><circle cx="611.8" cy="1416.2" r="5.25"/><circle cx="535.9" cy="1390.3" r="5.25"/><circle cx="527.9" cy="1413.6" r="5.25"/><circle cx="536.7" cy="1410.8" r="5.25"/><circle cx="613.1" cy="1398.7" r="5.25"/><circle cx="557.9" cy="1398.3" r="5.25"/><circle cx="599.8" cy="1397.9" r="5.25"/><circle cx="536.1" cy="1415.3" r="5.25"/><circle cx="549.7" cy="1400" r="5.25"/><circle cx="600.8" cy="1402.7" r="5.25"/><circle cx="565.2" cy="1406.8" r="5.25"/><circle cx="537" cy="1390.6" r="5.25"/><circle cx="593.6" cy="1386.5" r="5.25"/><circle cx="597.9" cy="1410.2" r="5.25"/><circle cx="591.1" cy="1399" r="5.25"/><circle cx="552.6" cy="1412.2" r="5.25"/><circle cx="604.3" cy="1413.7" r="5.25"/><circle cx="531.8" cy="1388.9" r="5.25"/><circle cx="592.1" cy="1394.4" r="5.25"/><circle cx="583.1" cy="1397.3" r="5.25"/><circle cx="568.6" cy="1415.6" r="5.25"/><circle cx="567.1" cy="1394.7" r="5.25"/><circle cx="584.8" cy="1400.7" r="5.25"/><circle cx="600.1" cy="1406.8" r="5.25"/><circle cx="585.8" cy="1417.4" r="5.25"/><circle cx="612.3" cy="1397.6" r="5.25"/><circle cx="603.9" cy="1418.1" r="5.25"/><circle cx="599.4" cy="1411.7" r="5.25"/><circle cx="611.4" cy="1413" r="5.25"/><circle cx="534.7" cy="1401.3" r="5.25"/><circle cx="593.9" cy="1410.1" r="5.25"/><circle cx="575.3" cy="1387.8" r="5.25"/><circle cx="611.3" cy="1407.3" r="5.25"/><circle cx="552.2" cy="1398.3" r="5.25"/><circle cx="588.6" cy="1393.2" r="5.25"/><circle cx="579.5" cy="1415.5" r="5.25"/><circle cx="559" cy="1387.2" r="5.25"/><circle cx="596.3" cy="1399.1" r="5.25"/><circle cx="600.8" cy="1402.9" r="5.25"/><circle cx="592.4" cy="1418.2" r="5.25"/><circle cx="585.9" cy="1407.1" r="5.25"/><circle cx="534.1" cy="1390.9" r="5.25"/><circle cx="568.2" cy="1405.1" r="5.25"/><circle cx="588.2" cy="1412.1" r="5.25"/><circle cx="593.9" cy="1409.1" r="5.25"/><circle cx="607.4" cy="1404.2" r="5.25"/><circle cx="526.3" cy="1395.4" r="5.25"/><circle cx="561.3" cy="1399.3" r="5.25"/><circle cx="603.3" cy="1415" r="5.25"/><circle cx="569.1" cy="1387.7" r="5.25"/><circle cx="538.7" cy="1403.4" r="5.25"/><circle cx="531" cy="1394.5" r="5.25"/><circle cx="584.7" cy="1392.6" r="5.25"/><circle cx="540.1" cy="1392.6" r="5.25"/><circle cx="566" cy="1393.1" r="5.25"/><circle cx="564.2" cy="1414.9" r="5.25"/><circle cx="560.3" cy="1418.8" r="5.25"/><circle cx="564.3" cy="1412.6" r="5.25"/><circle cx="579.8" cy="1417.8" r="5.25"/><circle cx="592.6" cy="1391" r="5.25"/><circle cx="604.7" cy="1417.9" r="5.25"/><circle cx="571.4" cy="1393.7" r="5.25"/><circle cx="610.8" cy="1393.2" r="5.25"/><circle cx="529.3" cy="1396.8" r="5.25"/><circle cx="535.1" cy="1400.1" r="5.25"/><circle cx="527.7" cy="1414.7" r="5.25"/><circle cx="548.9" cy="1413.4" r="5.25"/><circle cx="572.1" cy="1390.5" r="5.25"/><circle cx="613.4" cy="1412.2" r="5.25"/><circle cx="552.6" cy="1406.9" r="5.25"/><circle cx="535.5" cy="1418.2" r="5.25"/><circle cx="543.4" cy="1407.9" r="5.25"/><circle cx="533.9" cy="1399.4" r="5.25"/><circle cx="543" cy="1401.6" r="5.25"/><circle cx="546.2" cy="1416.6" r="5.25"/><circle cx="545.8" cy="1386.7" r="5.25"/><circle cx="567" cy="1417.4" r="5.25"/><circle cx="529.6" cy="1401.7" r="5.25"/><circle cx="545" cy="1389.4" r="5.25"/><circle cx="526.4" cy="1415.7" r="5.25"/><circle cx="588.5" cy="1413.5" r="5.25"/><circle cx="593.6" cy="1395.8" r="5.25"/><circle cx="615.4" cy="1401.1" r="5.25"/><circle cx="601.4" cy="1396.2" r="5.25"/><circle cx="600.6" cy="1397" r="5.25"/><circle cx="549.2" cy="1408.8" r="5.25"/><circle cx="603" cy="1413.6" r="5.25"/><circle cx="553.7" cy="1392" r="5.25"/><circle cx="586.9" cy="1392.1" r="5.25"/><circle cx="564.8" cy="1392.1" r="5.25"/><circle cx="574.8" cy="1413.4" r="5.25"/><circle cx="601.6" cy="1390.1" r="5.25"/><circle cx="540.3" cy="1400.8" r="5.25"/><circle cx="607.6" cy="1390.8" r="5.25"/><circle cx="580.2" cy="1397" r="5.25"/><circle cx="536.3" cy="1389.3" r="5.25"/><circle cx="569.8" cy="1393.1" r="5.25"/><circle cx="612" cy="1412.8" r="5.25"/><circle cx="536.9" cy="1407.7" r="5.25"/><circle cx="528" cy="1407.1" r="5.25"/><circle cx="530.6" cy="1397.9" r="5.25"/><circle cx="597.4" cy="1396.5" r="5.25"/><circle cx="549.8" cy="1387.6" r="5.25"/><circle cx="563.3" cy="1398.8" r="5.25"/><circle cx="572.2" cy="1413.4" r="5.25"/><circle cx="556.1" cy="1394.9" r="5.25"/><circle cx="543.9" cy="1393.4" r="5.25"/><circle cx="571.8" cy="1386.2" r="5.25"/><circle cx="583.1" cy="1410.3" r="5.25"/><circle cx="551.2" cy="1390.4" r="5.25"/><circle cx="599.8" cy="1391.5" r="5.25"/><circle cx="574" cy="1388.3" r="5.25"/><circle cx="536.9" cy="1406" r="5.25"/><circle cx="585.7" cy="1390.8" r="5.25"/><circle cx="558.8" cy="1407.9" r="5.25"/><circle cx="582.1" cy="1405.9" r="5.25"/><circle cx="596.6" cy="1416.8" r="5.25"/><circle cx="528.9" cy="1397.4" r="5.25"/><circle cx="563.4" cy="1403.2" r="5.25"/><circle cx="563.6" cy="1416.6" r="5.25"/><circle cx="545.6" cy="1406.1" r="5.25"/><circle cx="544.9" cy="1409.8" r="5.25"/><circle cx="561.5" cy="1396.4" r="5.25"/><circle cx="559" cy="1416.2" r="5.25"/><circle cx="594.7" cy="1395.6" r="5.25"/><circle cx="577.9" cy="1402.4" r="5.25"/><circle cx="582.6" cy="1403.3" r="5.25"/><circle cx="530.3" cy="1401.2" r="5.25"/><circle cx="558.4" cy="1422.3" r="5.25"/><circle cx="594" cy="1404.9" r="5.25"/><circle cx="558.8" cy="1390.1" r="5.25"/><circle cx="541.9" cy="1405.1" r="5.25"/><circle cx="575" cy="1408.7" r="5.25"/><circle cx="556.9" cy="1391.1" r="5.25"/><circle cx="570.4" cy="1404" r="5.25"/><circle cx="578.5" cy="1395.9" r="5.25"/><circle cx="547.9" cy="1388.7" r="5.25"/><circle cx="569.4" cy="1392.7" r="5.25"/><circle cx="601.4" cy="1410.3" r="5.25"/><circle cx="564.6" cy="1400.3" r="5.25"/><circle cx="565.6" cy="1385.2" r="5.25"/><circle cx="557.6" cy="1409.4" r="5.25"/><circle cx="578.3" cy="1398.8" r="5.25"/><circle cx="582.4" cy="1381" r="5.25"/><circle cx="550.6" cy="1390.9" r="5.25"/><circle cx="573.6" cy="1381" r="5.25"/><circle cx="608.9" cy="1395.5" r="5.25"/><circle cx="533.1" cy="1423" r="5.25"/><circle cx="593.6" cy="1422.8" r="5.25"/><circle cx="591.2" cy="1404.7" r="5.25"/><circle cx="535.7" cy="1393.2" r="5.25"/><circle cx="532.9" cy="1389.9" r="5.25"/><circle cx="611.8" cy="1422.9" r="5.25"/><circle cx="701.4" cy="1288.2" r="5.25"/><circle cx="652.1" cy="1289.8" r="5.25"/><circle cx="654" cy="1319.2" r="5.25"/><circle cx="691.8" cy="1321.9" r="5.25"/><circle cx="662.1" cy="1285.7" r="5.25"/><circle cx="670.2" cy="1296.6" r="5.25"/><circle cx="643.8" cy="1312.9" r="5.25"/><circle cx="621.8" cy="1309.6" r="5.25"/><circle cx="630.2" cy="1291.7" r="5.25"/><circle cx="617.9" cy="1311.8" r="5.25"/><circle cx="660.9" cy="1308" r="5.25"/><circle cx="619.2" cy="1291.4" r="5.25"/><circle cx="651.9" cy="1313.9" r="5.25"/><circle cx="635" cy="1319.7" r="5.25"/><circle cx="611.2" cy="1319.4" r="5.25"/><circle cx="674.2" cy="1313.3" r="5.25"/><circle cx="613.6" cy="1307.9" r="5.25"/><circle cx="661.6" cy="1323.8" r="5.25"/><circle cx="649.8" cy="1292.3" r="5.25"/><circle cx="689.7" cy="1308.6" r="5.25"/><circle cx="647.3" cy="1302.3" r="5.25"/><circle cx="624" cy="1285.2" r="5.25"/><circle cx="648.2" cy="1292.1" r="5.25"/><circle cx="653.7" cy="1308.1" r="5.25"/><circle cx="618.4" cy="1290.5" r="5.25"/><circle cx="631.7" cy="1309" r="5.25"/><circle cx="628" cy="1285.5" r="5.25"/><circle cx="630.7" cy="1317.5" r="5.25"/><circle cx="684.6" cy="1295.9" r="5.25"/><circle cx="639" cy="1315.5" r="5.25"/><circle cx="674" cy="1310.1" r="5.25"/><circle cx="612.6" cy="1298.1" r="5.25"/><circle cx="702.7" cy="1294.3" r="5.25"/><circle cx="690.2" cy="1319.7" r="5.25"/><circle cx="650.8" cy="1290.7" r="5.25"/><circle cx="617.6" cy="1310.8" r="5.25"/><circle cx="654.2" cy="1290.5" r="5.25"/><circle cx="672.8" cy="1310" r="5.25"/><circle cx="638.5" cy="1305.2" r="5.25"/><circle cx="611.2" cy="1302.9" r="5.25"/><circle cx="639" cy="1323.8" r="5.25"/><circle cx="667.3" cy="1290.1" r="5.25"/><circle cx="619" cy="1320.6" r="5.25"/><circle cx="658.1" cy="1287" r="5.25"/><circle cx="684" cy="1286.2" r="5.25"/><circle cx="670.5" cy="1319.2" r="5.25"/><circle cx="682.6" cy="1299.5" r="5.25"/><circle cx="680.8" cy="1304" r="5.25"/><circle cx="691" cy="1288.9" r="5.25"/><circle cx="648.8" cy="1311.3" r="5.25"/><circle cx="672.9" cy="1287.6" r="5.25"/><circle cx="699.6" cy="1302.1" r="5.25"/><circle cx="674.2" cy="1293.3" r="5.25"/><circle cx="702.9" cy="1322.5" r="5.25"/><circle cx="698.4" cy="1321.9" r="5.25"/><circle cx="643.8" cy="1306.9" r="5.25"/><circle cx="623.4" cy="1301.8" r="5.25"/><circle cx="636.9" cy="1323.8" r="5.25"/><circle cx="621.6" cy="1320.3" r="5.25"/><circle cx="620.2" cy="1306.5" r="5.25"/><circle cx="650.7" cy="1286.3" r="5.25"/><circle cx="697.5" cy="1294.8" r="5.25"/><circle cx="697" cy="1312" r="5.25"/><circle cx="670.5" cy="1316.4" r="5.25"/><circle cx="700.8" cy="1317.2" r="5.25"/><circle cx="637.7" cy="1322.2" r="5.25"/><circle cx="625.4" cy="1293.2" r="5.25"/><circle cx="694.8" cy="1320" r="5.25"/><circle cx="692.3" cy="1300.9" r="5.25"/><circle cx="637.9" cy="1304.8" r="5.25"/><circle cx="679" cy="1287.1" r="5.25"/><circle cx="624.2" cy="1303.6" r="5.25"/><circle cx="697.3" cy="1306.7" r="5.25"/><circle cx="637.1" cy="1310.4" r="5.25"/><circle cx="628.8" cy="1303.5" r="5.25"/><circle cx="701.2" cy="1290.8" r="5.25"/><circle cx="615.5" cy="1319.9" r="5.25"/><circle cx="632.8" cy="1291.5" r="5.25"/><circle cx="703" cy="1322.9" r="5.25"/><circle cx="652.9" cy="1296.7" r="5.25"/><circle cx="646.6" cy="1315.1" r="5.25"/><circle cx="666.6" cy="1295.4" r="5.25"/><circle cx="614.8" cy="1314.7" r="5.25"/><circle cx="613.2" cy="1301.6" r="5.25"/><circle cx="646.7" cy="1289.3" r="5.25"/><circle cx="694.3" cy="1306.3" r="5.25"/><circle cx="693.2" cy="1288.1" r="5.25"/><circle cx="687.7" cy="1314.9" r="5.25"/><circle cx="689.8" cy="1292.4" r="5.25"/><circle cx="652.5" cy="1319.7" r="5.25"/><circle cx="680.7" cy="1295" r="5.25"/><circle cx="670" cy="1288.9" r="5.25"/><circle cx="627.4" cy="1311.4" r="5.25"/><circle cx="616.8" cy="1295.8" r="5.25"/><circle cx="676.6" cy="1307.8" r="5.25"/><circle cx="651.5" cy="1320.9" r="5.25"/><circle cx="693.6" cy="1302" r="5.25"/><circle cx="700.9" cy="1323" r="5.25"/><circle cx="656" cy="1310.2" r="5.25"/><circle cx="620.7" cy="1310.6" r="5.25"/><circle cx="641.4" cy="1286.1" r="5.25"/><circle cx="653.2" cy="1319.4" r="5.25"/><circle cx="633.8" cy="1319.4" r="5.25"/><circle cx="647.9" cy="1287" r="5.25"/><circle cx="672.6" cy="1310.8" r="5.25"/><circle cx="679.2" cy="1288.8" r="5.25"/><circle cx="675.4" cy="1320.3" r="5.25"/><circle cx="623.8" cy="1314.5" r="5.25"/><circle cx="699.4" cy="1285.6" r="5.25"/><circle cx="652.7" cy="1316.6" r="5.25"/><circle cx="613.1" cy="1307.5" r="5.25"/><circle cx="686.2" cy="1309.7" r="5.25"/><circle cx="638.5" cy="1291" r="5.25"/><circle cx="702.5" cy="1322.7" r="5.25"/><circle cx="624.9" cy="1306.9" r="5.25"/><circle cx="692.4" cy="1314.8" r="5.25"/><circle cx="679.7" cy="1303.4" r="5.25"/><circle cx="618" cy="1307" r="5.25"/><circle cx="675.2" cy="1301.5" r="5.25"/><circle cx="618.7" cy="1285.1" r="5.25"/><circle cx="621.7" cy="1297.9" r="5.25"/><circle cx="639.8" cy="1323.7" r="5.25"/><circle cx="676.5" cy="1310.2" r="5.25"/><circle cx="653.3" cy="1285.9" r="5.25"/><circle cx="617.8" cy="1323.2" r="5.25"/><circle cx="693.6" cy="1313" r="5.25"/><circle cx="642.5" cy="1311.1" r="5.25"/><circle cx="620.4" cy="1291.3" r="5.25"/><circle cx="647.2" cy="1319.8" r="5.25"/><circle cx="690.1" cy="1291.9" r="5.25"/><circle cx="660.5" cy="1323.1" r="5.25"/><circle cx="689.8" cy="1285.4" r="5.25"/><circle cx="689.1" cy="1311.4" r="5.25"/><circle cx="675.7" cy="1295.5" r="5.25"/><circle cx="621.4" cy="1311.2" r="5.25"/><circle cx="634.7" cy="1318.6" r="5.25"/><circle cx="627.4" cy="1305.7" r="5.25"/><circle cx="660.8" cy="1313.2" r="5.25"/><circle cx="630.5" cy="1294" r="5.25"/><circle cx="629.6" cy="1317.2" r="5.25"/><circle cx="661" cy="1287.8" r="5.25"/><circle cx="653.7" cy="1304.4" r="5.25"/><circle cx="659.8" cy="1292.1" r="5.25"/><circle cx="673.3" cy="1292.1" r="5.25"/><circle cx="686.3" cy="1288.9" r="5.25"/><circle cx="622.6" cy="1295.6" r="5.25"/><circle cx="656" cy="1291.5" r="5.25"/><circle cx="633" cy="1289.3" r="5.25"/><circle cx="698.3" cy="1317.6" r="5.25"/><circle cx="694.4" cy="1303.7" r="5.25"/><circle cx="642" cy="1319.1" r="5.25"/><circle cx="701.8" cy="1315.1" r="5.25"/><circle cx="693.3" cy="1292.7" r="5.25"/><circle cx="685.6" cy="1314.7" r="5.25"/><circle cx="619.9" cy="1317.2" r="5.25"/><circle cx="634.6" cy="1288.9" r="5.25"/><circle cx="669.3" cy="1322.3" r="5.25"/><circle cx="637.5" cy="1288.9" r="5.25"/><circle cx="634.7" cy="1314.6" r="5.25"/><circle cx="611.7" cy="1316.3" r="5.25"/><circle cx="620.7" cy="1308.9" r="5.25"/><circle cx="696.4" cy="1309.8" r="5.25"/><circle cx="636.5" cy="1310.9" r="5.25"/><circle cx="629.1" cy="1319.1" r="5.25"/><circle cx="654.6" cy="1303.2" r="5.25"/><circle cx="671.4" cy="1296.1" r="5.25"/><circle cx="675.3" cy="1298" r="5.25"/><circle cx="682.7" cy="1288.8" r="5.25"/><circle cx="646.1" cy="1287.8" r="5.25"/><circle cx="701.4" cy="1294.7" r="5.25"/><circle cx="676.2" cy="1304.2" r="5.25"/><circle cx="627.2" cy="1321.7" r="5.25"/><circle cx="677.4" cy="1309.9" r="5.25"/><circle cx="676.3" cy="1315.5" r="5.25"/><circle cx="672.7" cy="1313.8" r="5.25"/><circle cx="641.8" cy="1305.4" r="5.25"/><circle cx="647" cy="1298.9" r="5.25"/><circle cx="658.9" cy="1290.7" r="5.25"/><circle cx="647.5" cy="1291.8" r="5.25"/><circle cx="688.9" cy="1301.5" r="5.25"/><circle cx="641.6" cy="1307.3" r="5.25"/><circle cx="627.2" cy="1306.5" r="5.25"/><circle cx="669.5" cy="1292.8" r="5.25"/><circle cx="631.8" cy="1315.3" r="5.25"/><circle cx="652" cy="1304.9" r="5.25"/><circle cx="639.9" cy="1302.3" r="5.25"/><circle cx="687.5" cy="1311.8" r="5.25"/><circle cx="680.6" cy="1307.9" r="5.25"/><circle cx="705.2" cy="1291.2" r="5.25"/><circle cx="640.5" cy="1295.8" r="5.25"/><circle cx="633.9" cy="1286.7" r="5.25"/><circle cx="663.3" cy="1311.1" r="5.25"/><circle cx="624.7" cy="1302.5" r="5.25"/><circle cx="645.4" cy="1314.7" r="5.25"/><circle cx="673" cy="1295.4" r="5.25"/><circle cx="658.3" cy="1289.6" r="5.25"/><circle cx="677.1" cy="1317.1" r="5.25"/><circle cx="639.6" cy="1313.8" r="5.25"/><circle cx="646.1" cy="1286.4" r="5.25"/><circle cx="653.9" cy="1316.4" r="5.25"/><circle cx="676.8" cy="1295.2" r="5.25"/><circle cx="683.2" cy="1321.9" r="5.25"/><circle cx="685.6" cy="1309.8" r="5.25"/><circle cx="659.6" cy="1296.5" r="5.25"/><circle cx="640.1" cy="1301" r="5.25"/><circle cx="647.3" cy="1301.8" r="5.25"/><circle cx="657.3" cy="1279" r="5.25"/><circle cx="620.8" cy="1311.8" r="5.25"/><circle cx="635.1" cy="1300.1" r="5.25"/><circle cx="616.2" cy="1312.8" r="5.25"/><circle cx="686" cy="1267.2" r="5.25"/><circle cx="689.7" cy="1339.4" r="5.25"/><circle cx="705.3" cy="1188" r="5.25"/><circle cx="714.2" cy="1183.6" r="5.25"/><circle cx="711" cy="1190.6" r="5.25"/><circle cx="707.2" cy="1193.1" r="5.25"/><circle cx="719.3" cy="1196.3" r="5.25"/><circle cx="713.5" cy="1191.8" r="5.25"/><circle cx="700.5" cy="1221.1" r="5.25"/><circle cx="707.4" cy="1229" r="5.25"/><circle cx="706.1" cy="1218.9" r="5.25"/><circle cx="703.8" cy="1244" r="5.25"/><circle cx="709.8" cy="1198.4" r="5.25"/><circle cx="707.6" cy="1218.2" r="5.25"/><circle cx="704.2" cy="1241.4" r="5.25"/><circle cx="704.5" cy="1215.7" r="5.25"/><circle cx="707.2" cy="1232" r="5.25"/><circle cx="709.5" cy="1198.1" r="5.25"/><circle cx="707" cy="1221.3" r="5.25"/><circle cx="705.2" cy="1202.3" r="5.25"/><circle cx="722.3" cy="1225.6" r="5.25"/><circle cx="718.9" cy="1227.1" r="5.25"/><circle cx="723.1" cy="1230" r="5.25"/><circle cx="719.3" cy="1230.2" r="5.25"/><circle cx="725.2" cy="1226.4" r="5.25"/><circle cx="718.2" cy="1226.7" r="5.25"/><circle cx="751.6" cy="1203.9" r="5.25"/><circle cx="739.1" cy="1223.8" r="5.25"/><circle cx="744.2" cy="1237.3" r="5.25"/><circle cx="758.9" cy="1225.6" r="5.25"/><circle cx="746.6" cy="1235.7" r="5.25"/><circle cx="741.3" cy="1224.3" r="5.25"/><circle cx="743.3" cy="1232" r="5.25"/><circle cx="742.6" cy="1242" r="5.25"/><circle cx="747" cy="1218.6" r="5.25"/><circle cx="742.1" cy="1230" r="5.25"/><circle cx="755.7" cy="1217.2" r="5.25"/><circle cx="742.1" cy="1225.5" r="5.25"/><circle cx="767.3" cy="1266.1" r="5.25"/><circle cx="703.4" cy="1252.3" r="5.25"/><circle cx="722.4" cy="1268.5" r="5.25"/><circle cx="743.3" cy="1254" r="5.25"/><circle cx="731.1" cy="1244.2" r="5.25"/><circle cx="738.4" cy="1260.7" r="5.25"/><circle cx="770.4" cy="1261.4" r="5.25"/><circle cx="721.1" cy="1275.7" r="5.25"/><circle cx="720.2" cy="1243.7" r="5.25"/><circle cx="722.6" cy="1254.3" r="5.25"/><circle cx="718.5" cy="1267.4" r="5.25"/><circle cx="731.3" cy="1251.1" r="5.25"/><circle cx="731.7" cy="1248.2" r="5.25"/><circle cx="752.7" cy="1254.9" r="5.25"/><circle cx="751.2" cy="1274.2" r="5.25"/><circle cx="722.9" cy="1260.9" r="5.25"/><circle cx="771.1" cy="1275.4" r="5.25"/><circle cx="720.1" cy="1275.9" r="5.25"/><circle cx="759.1" cy="1261.1" r="5.25"/><circle cx="736" cy="1268.7" r="5.25"/><circle cx="764.9" cy="1259.5" r="5.25"/><circle cx="719.2" cy="1261.8" r="5.25"/><circle cx="727.4" cy="1274" r="5.25"/><circle cx="722.3" cy="1271.5" r="5.25"/><circle cx="758" cy="1268.1" r="5.25"/><circle cx="763.2" cy="1249.6" r="5.25"/><circle cx="715.4" cy="1247.9" r="5.25"/><circle cx="743.2" cy="1266.4" r="5.25"/><circle cx="704.4" cy="1247" r="5.25"/><circle cx="755.7" cy="1251" r="5.25"/><circle cx="719.7" cy="1256.6" r="5.25"/><circle cx="708.4" cy="1252.7" r="5.25"/><circle cx="771.4" cy="1256.8" r="5.25"/><circle cx="752.3" cy="1267.6" r="5.25"/><circle cx="718.1" cy="1269.2" r="5.25"/><circle cx="759.5" cy="1263.7" r="5.25"/><circle cx="704.8" cy="1261.1" r="5.25"/><circle cx="727.6" cy="1247.2" r="5.25"/><circle cx="714.2" cy="1245.1" r="5.25"/><circle cx="740.1" cy="1243.8" r="5.25"/><circle cx="741.7" cy="1253.7" r="5.25"/><circle cx="755.4" cy="1260.8" r="5.25"/><circle cx="766.8" cy="1252.3" r="5.25"/><circle cx="726.4" cy="1267.6" r="5.25"/><circle cx="705.5" cy="1254.7" r="5.25"/><circle cx="731.6" cy="1263.9" r="5.25"/><circle cx="749.9" cy="1269.9" r="5.25"/><circle cx="734.7" cy="1263.1" r="5.25"/><circle cx="720.4" cy="1248.2" r="5.25"/><circle cx="745.7" cy="1270" r="5.25"/><circle cx="740.5" cy="1253.5" r="5.25"/><circle cx="742.9" cy="1274.6" r="5.25"/><circle cx="768.5" cy="1263.8" r="5.25"/><circle cx="762" cy="1274.9" r="5.25"/><circle cx="709.2" cy="1267.3" r="5.25"/><circle cx="753.9" cy="1257.9" r="5.25"/><circle cx="727.4" cy="1251.8" r="5.25"/><circle cx="745.9" cy="1267.8" r="5.25"/><circle cx="731.1" cy="1256" r="5.25"/><circle cx="769.7" cy="1253.6" r="5.25"/><circle cx="758.1" cy="1263.9" r="5.25"/><circle cx="749.8" cy="1243.9" r="5.25"/><circle cx="719.6" cy="1259.6" r="5.25"/><circle cx="710.4" cy="1263.1" r="5.25"/><circle cx="710.8" cy="1269.5" r="5.25"/><circle cx="742" cy="1254.5" r="5.25"/><circle cx="729" cy="1266.1" r="5.25"/><circle cx="770.7" cy="1254.5" r="5.25"/><circle cx="731" cy="1243.4" r="5.25"/><circle cx="716.2" cy="1262.8" r="5.25"/><circle cx="769" cy="1255.1" r="5.25"/><circle cx="738" cy="1260.1" r="5.25"/><circle cx="757.5" cy="1253.1" r="5.25"/><circle cx="719.6" cy="1267.2" r="5.25"/><circle cx="740.4" cy="1250.8" r="5.25"/><circle cx="754.8" cy="1267.1" r="5.25"/><circle cx="770.6" cy="1260.9" r="5.25"/><circle cx="705.7" cy="1270.1" r="5.25"/><circle cx="741.4" cy="1251.1" r="5.25"/><circle cx="757.2" cy="1249.8" r="5.25"/><circle cx="722.1" cy="1243.2" r="5.25"/><circle cx="728" cy="1247.8" r="5.25"/><circle cx="718.7" cy="1271.8" r="5.25"/><circle cx="714.2" cy="1275.2" r="5.25"/><circle cx="724.1" cy="1247" r="5.25"/><circle cx="751.6" cy="1252.1" r="5.25"/><circle cx="717.1" cy="1258.6" r="5.25"/><circle cx="760.6" cy="1260.6" r="5.25"/><circle cx="715.6" cy="1268" r="5.25"/><circle cx="731.9" cy="1258.9" r="5.25"/><circle cx="767.4" cy="1243.8" r="5.25"/><circle cx="756.9" cy="1262.3" r="5.25"/><circle cx="765.7" cy="1247.1" r="5.25"/><circle cx="705.5" cy="1253.5" r="5.25"/><circle cx="724" cy="1253.7" r="5.25"/><circle cx="718.1" cy="1266.4" r="5.25"/><circle cx="759.3" cy="1261.5" r="5.25"/><circle cx="705.4" cy="1266.9" r="5.25"/><circle cx="721.3" cy="1270.2" r="5.25"/><circle cx="760.2" cy="1260" r="5.25"/><circle cx="727.9" cy="1251.8" r="5.25"/><circle cx="722.8" cy="1260.9" r="5.25"/><circle cx="724.6" cy="1274.9" r="5.25"/><circle cx="728.1" cy="1269.8" r="5.25"/><circle cx="749" cy="1245" r="5.25"/><circle cx="726.5" cy="1271.8" r="5.25"/><circle cx="727.8" cy="1254.8" r="5.25"/><circle cx="758" cy="1272.5" r="5.25"/><circle cx="735.6" cy="1266.6" r="5.25"/><circle cx="762.8" cy="1246.7" r="5.25"/><circle cx="723.8" cy="1263.9" r="5.25"/><circle cx="714.1" cy="1263.8" r="5.25"/><circle cx="758.5" cy="1252.3" r="5.25"/><circle cx="726.3" cy="1264.5" r="5.25"/><circle cx="724.7" cy="1243.5" r="5.25"/><circle cx="711.5" cy="1259.1" r="5.25"/><circle cx="763.1" cy="1264.6" r="5.25"/><circle cx="767.9" cy="1246.9" r="5.25"/><circle cx="740.7" cy="1269.8" r="5.25"/><circle cx="705" cy="1269.4" r="5.25"/><circle cx="712.2" cy="1272.7" r="5.25"/><circle cx="769.3" cy="1275.3" r="5.25"/><circle cx="732.1" cy="1252.6" r="5.25"/><circle cx="738.1" cy="1245.4" r="5.25"/><circle cx="738.4" cy="1246.2" r="5.25"/><circle cx="748.2" cy="1245.8" r="5.25"/><circle cx="736.2" cy="1251.8" r="5.25"/><circle cx="769.5" cy="1257" r="5.25"/><circle cx="795.8" cy="1258.4" r="5.25"/><circle cx="834.8" cy="1266.9" r="5.25"/><circle cx="825" cy="1258.4" r="5.25"/><circle cx="779.4" cy="1263.2" r="5.25"/><circle cx="774.8" cy="1251.9" r="5.25"/><circle cx="809" cy="1258.7" r="5.25"/><circle cx="825.8" cy="1255.2" r="5.25"/><circle cx="779.3" cy="1270.6" r="5.25"/><circle cx="824.4" cy="1261.4" r="5.25"/><circle cx="796.5" cy="1259.4" r="5.25"/><circle cx="822.4" cy="1271.5" r="5.25"/><circle cx="775" cy="1248.3" r="5.25"/><circle cx="788.7" cy="1254.6" r="5.25"/><circle cx="822.9" cy="1271.4" r="5.25"/><circle cx="779.3" cy="1272" r="5.25"/><circle cx="838" cy="1253.9" r="5.25"/><circle cx="777.9" cy="1268" r="5.25"/><circle cx="778.3" cy="1271.9" r="5.25"/><circle cx="801.3" cy="1254.1" r="5.25"/><circle cx="833.3" cy="1246.5" r="5.25"/><circle cx="796.1" cy="1250.9" r="5.25"/><circle cx="781.2" cy="1272.9" r="5.25"/><circle cx="779.4" cy="1267.6" r="5.25"/><circle cx="811.6" cy="1246.8" r="5.25"/><circle cx="777.8" cy="1269.1" r="5.25"/><circle cx="828.9" cy="1251.7" r="5.25"/><circle cx="827.1" cy="1252.3" r="5.25"/><circle cx="827.4" cy="1263.5" r="5.25"/><circle cx="794" cy="1251.5" r="5.25"/><circle cx="798.1" cy="1256.8" r="5.25"/><circle cx="823.8" cy="1247.8" r="5.25"/><circle cx="822.5" cy="1251.3" r="5.25"/><circle cx="798.8" cy="1253.7" r="5.25"/><circle cx="822.9" cy="1269.8" r="5.25"/><circle cx="836.5" cy="1249.8" r="5.25"/><circle cx="827.6" cy="1244.7" r="5.25"/><circle cx="827.9" cy="1271.6" r="5.25"/><circle cx="815.1" cy="1250.6" r="5.25"/><circle cx="798" cy="1255.1" r="5.25"/><circle cx="818.5" cy="1255.3" r="5.25"/><circle cx="783.3" cy="1262.1" r="5.25"/><circle cx="834.2" cy="1270.5" r="5.25"/><circle cx="817.4" cy="1259.4" r="5.25"/><circle cx="787.3" cy="1268.6" r="5.25"/><circle cx="778" cy="1252" r="5.25"/><circle cx="783.1" cy="1260" r="5.25"/><circle cx="836.6" cy="1260.7" r="5.25"/><circle cx="826.1" cy="1249.9" r="5.25"/><circle cx="832.7" cy="1272" r="5.25"/><circle cx="796.6" cy="1246.5" r="5.25"/><circle cx="790.1" cy="1257.1" r="5.25"/><circle cx="785.6" cy="1259" r="5.25"/><circle cx="795.4" cy="1272.5" r="5.25"/><circle cx="772.8" cy="1266.7" r="5.25"/><circle cx="811.2" cy="1253.7" r="5.25"/><circle cx="799.4" cy="1251.3" r="5.25"/><circle cx="827.5" cy="1259.5" r="5.25"/><circle cx="799.9" cy="1258.3" r="5.25"/><circle cx="806.5" cy="1270.4" r="5.25"/><circle cx="791.7" cy="1247.6" r="5.25"/><circle cx="821.2" cy="1270.1" r="5.25"/><circle cx="794.6" cy="1258.9" r="5.25"/><circle cx="802.9" cy="1253" r="5.25"/><circle cx="827.7" cy="1248.4" r="5.25"/><circle cx="823.8" cy="1250.1" r="5.25"/><circle cx="825.9" cy="1253.4" r="5.25"/><circle cx="811.2" cy="1269.8" r="5.25"/><circle cx="780.7" cy="1263.8" r="5.25"/><circle cx="777.9" cy="1259.8" r="5.25"/><circle cx="830.7" cy="1256.2" r="5.25"/><circle cx="838.5" cy="1248.8" r="5.25"/><circle cx="815.2" cy="1249.8" r="5.25"/><circle cx="789.9" cy="1246.9" r="5.25"/><circle cx="786" cy="1258.1" r="5.25"/><circle cx="788.3" cy="1258.7" r="5.25"/><circle cx="833.8" cy="1248.4" r="5.25"/><circle cx="796.8" cy="1247.2" r="5.25"/><circle cx="820.2" cy="1251.1" r="5.25"/><circle cx="835.3" cy="1260.1" r="5.25"/><circle cx="833.8" cy="1265.1" r="5.25"/><circle cx="832.6" cy="1260" r="5.25"/><circle cx="795.2" cy="1254.1" r="5.25"/><circle cx="791.8" cy="1255" r="5.25"/><circle cx="820.8" cy="1267.1" r="5.25"/><circle cx="777.4" cy="1259.1" r="5.25"/><circle cx="793.9" cy="1264.1" r="5.25"/><circle cx="793.4" cy="1249.4" r="5.25"/><circle cx="828.1" cy="1252.6" r="5.25"/><circle cx="839.6" cy="1252" r="5.25"/><circle cx="819.9" cy="1250.1" r="5.25"/><circle cx="816.1" cy="1272.5" r="5.25"/><circle cx="787.8" cy="1253.5" r="5.25"/><circle cx="799.6" cy="1268.5" r="5.25"/><circle cx="808.6" cy="1247" r="5.25"/><circle cx="785.3" cy="1246.4" r="5.25"/><circle cx="824.5" cy="1269.4" r="5.25"/><circle cx="807.3" cy="1270.4" r="5.25"/><circle cx="831.6" cy="1265.2" r="5.25"/><circle cx="838" cy="1262.3" r="5.25"/><circle cx="784.8" cy="1249.3" r="5.25"/><circle cx="813.3" cy="1262.2" r="5.25"/><circle cx="820.3" cy="1250.4" r="5.25"/><circle cx="785.3" cy="1261.1" r="5.25"/><circle cx="802.2" cy="1266" r="5.25"/><circle cx="818.7" cy="1248.2" r="5.25"/><circle cx="780.3" cy="1262.3" r="5.25"/><circle cx="778.6" cy="1265.3" r="5.25"/><circle cx="803.2" cy="1253.4" r="5.25"/><circle cx="801.5" cy="1252.9" r="5.25"/><circle cx="827.1" cy="1260.1" r="5.25"/><circle cx="780.2" cy="1263.7" r="5.25"/><circle cx="788.2" cy="1272.8" r="5.25"/><circle cx="773.9" cy="1256.7" r="5.25"/><circle cx="767.8" cy="1253.9" r="5.25"/><circle cx="786.6" cy="1255.2" r="5.25"/><circle cx="732.7" cy="1255.8" r="5.25"/><circle cx="746.6" cy="1243.4" r="5.25"/><circle cx="726.4" cy="1243.5" r="5.25"/><circle cx="734.7" cy="1256.7" r="5.25"/><circle cx="825.5" cy="1276.4" r="5.25"/><circle cx="737.6" cy="1259.7" r="5.25"/><circle cx="764.8" cy="1239.9" r="5.25"/><circle cx="752.8" cy="1246.4" r="5.25"/><circle cx="749.9" cy="1256.7" r="5.25"/><circle cx="754.7" cy="1247.4" r="5.25"/><circle cx="757.5" cy="1259.7" r="5.25"/><circle cx="777.3" cy="1250.1" r="5.25"/><circle cx="754.6" cy="1249.5" r="5.25"/><circle cx="779.6" cy="1244.2" r="5.25"/><circle cx="759.7" cy="1261.7" r="5.25"/><circle cx="754.9" cy="1260.7" r="5.25"/><circle cx="758.3" cy="1261.4" r="5.25"/><circle cx="825.3" cy="1264.2" r="5.25"/><circle cx="723.4" cy="1256.2" r="5.25"/><circle cx="760.3" cy="1269.5" r="5.25"/><circle cx="790" cy="1247.3" r="5.25"/><circle cx="784.8" cy="1265" r="5.25"/><circle cx="731.1" cy="1253.5" r="5.25"/><circle cx="727.3" cy="1252.8" r="5.25"/><circle cx="763.6" cy="1250.8" r="5.25"/><circle cx="806.5" cy="1263.3" r="5.25"/><circle cx="791.8" cy="1259.7" r="5.25"/><circle cx="805.5" cy="1284.5" r="5.25"/></g><path d="M289.5 1275l9 9l-9 9l-9 -9zM291.5 1272.5l9 9l-9 9l-9 -9zM326.5 1289l9 9l-9 9l-9 -9zM328.5 1289.6l9 9l-9 9l-9 -9zM426.8 1350.5l9 9l-9 9l-9 -9zM428 1347.5l9 9l-9 9l-9 -9zM632.5 1292.5l9 9l-9 9l-9 -9zM634 1293.5l9 9l-9 9l-9 -9zM702.5 1260.5l9 9l-9 9l-9 -9zM704.2 1257.5l9 9l-9 9l-9 -9zM761.6 1247.5l9 9l-9 9l-9 -9zM766 1248l9 9l-9 9l-9 -9zM770 1249l9 9l-9 9l-9 -9zM773 1249.2l9 9l-9 9l-9 -9zM790.5 1249.5l9 9l-9 9l-9 -9zM793 1249.6l9 9l-9 9l-9 -9z" fill="#2a7a3a"/><path d="M115.7 1289.1 123.8 1307.6 133 1330.6 141.1 1353.7 149.2 1383.7 156.1 1404.4 161.8 1417.1 175.7 1406.7 176.8 1402.1 190.7 1394 201 1390.6 208 1392.9 236.8 1328.3 238.2 1324.5 239.6 1320.4 240.9 1316.5 242.3 1312.9 243.7 1309.9 245.1 1307.3 246.6 1305.2 248.1 1303.6 249.5 1302.5 250.9 1302.1 252.3 1302.2 253.8 1302.6 255.2 1303 256.5 1303.3 257.8 1303.7 259.1 1304.1 260.5 1304.6 261.8 1305 263.1 1305.4 264.4 1305.7 265.7 1306 267.1 1306.3 268.4 1306.6 269.7 1306.9 271 1307 272.4 1306.8 273.7 1306.4 275.1 1305.7 276.5 1304.9 277.8 1303.8 279.2 1302.4 280.6 1300.7 282 1298.4 283.4 1295.5 284.7 1292.4 286.1 1289.4 287.5 1286.8 288.9 1284.4 290.4 1282.3 291.9 1280.4 293.3 1278.8 294.7 1277.6 296.1 1276.8 297.6 1276.2 299 1275.8 300.4 1275.6 301.9 1275.7 303.4 1276 304.8 1276.5 306.2 1277.3 307.6 1278.3 309.1 1279.6 310.5 1281.1 311.9 1282.9 313.3 1285.1 314.7 1287.4 316.1 1289.5 317.5 1291.4 318.9 1292.9 320.3 1294.2 321.6 1295.4 323 1296.4 324.4 1297.2 325.7 1297.8 327 1298 328.3 1298.2 329.7 1298.2 331 1298.2 332.3 1298.2 333.6 1298.4 335 1298.7 336.5 1299.2 337.9 1299.7 339.4 1300.2 340.8 1300.7 342.2 1301.1 343.7 1301.5 345.1 1301.8 346.6 1302 348 1302.1 349.4 1302.2 350.9 1302.2 352.4 1302.2 353.8 1302.1 355.2 1302 356.7 1301.8 358.1 1301.6 359.6 1301.2 361 1300.8 362.4 1300.4 363.9 1299.9 365.3 1299.5 366.8 1299.1 368.2 1298.8 369.6 1298.6 371.1 1298.4 372.5 1298.2 373.9 1298.1 375.4 1298 376.8 1297.9 378.3 1297.9 379.7 1297.9 381.1 1297.8 382.4 1297.7 383.8 1297.5 385.1 1297.6 386.4 1298 387.8 1298.8 389.2 1300 390.6 1301.5 392.1 1303.6 393.5 1306.4 394.9 1310.3 396.4 1315 397.9 1320.3 399.3 1326 400.4 1330.9 401.6 1336.3 402.8 1341.7 403.9 1346.8 405 1351.7 406.2 1356.5 407.4 1361.1 408.5 1365.2 409.6 1369 410.8 1372.4 412 1375.4 413.1 1377.9 414.3 1380 415.5 1381.5 416.6 1382.5 417.8 1382.5 418.9 1381.5 420.1 1379.7 421.2 1377.3 422.4 1374.4 423.5 1371.1 424.7 1367.3 425.9 1363 427 1358.3 428.1 1353 429.3 1347.3 430.4 1342.2 431.5 1337.9 432.7 1334.1 433.9 1330.9 435 1328.3 436.2 1326.4 437.4 1325.2 438.5 1324.5 439.7 1324.2 441.1 1324.2 442.5 1324.7 444 1326 445.4 1328.3 446.5 1330.9 447.7 1334.1 448.9 1337.9 450 1342.2 451.1 1347.5 452.3 1353.6 453.5 1359.7 454.6 1365.2 455.8 1370.1 457 1374.5 458.1 1378.4 459.3 1381.4 460.6 1383.7 461.9 1385 463.2 1385.5 464.5 1385.1 465.9 1383.7 467.2 1381.7 468.5 1379 469.6 1376.2 470.8 1373 472 1369.3 473.1 1365.2 474.5 1359.5 475.9 1353.2 477.3 1346.8 478.6 1340.2 480 1333.2 481.4 1326.7 482.7 1321.4 483.9 1318.1 485 1315.7 486.1 1313.7 487.3 1312.2 488.4 1311 489.6 1310.2 490.8 1309.8 491.9 1309.9 493 1310.3 494.2 1311 495.4 1312.4 496.5 1314.5 497.6 1317.7 498.8 1321.8 500 1326.3 501.1 1330.6 502.6 1335.9 504 1341.3 505.4 1346.5 506.9 1351.4 508.3 1355.6 509.7 1359.6 511 1363.3 512.4 1366.7 513.8 1369.8 515.1 1372.4 516.5 1374.6 517.8 1376.6 519.2 1378.3 520.5 1379.9 521.9 1381.4 523.2 1382.8 524.6 1383.9 525.9 1385 527.2 1386 528.6 1387 529.9 1388.3 531.2 1389.8 532.6 1391.5 533.9 1393.3 535.2 1395.1 536.5 1396.8 537.9 1398.4 539.2 1399.8 540.6 1401 542 1402 543.3 1403 544.7 1403.7 546.1 1404.4 547.5 1404.9 549 1405.2 550.4 1405.3 551.9 1405.3 553.3 1405.2 554.7 1405.1 556.2 1405 557.6 1404.9 559 1404.8 560.4 1404.7 561.7 1404.4 563.1 1404.2 564.5 1404 565.9 1403.7 567.3 1403.5 568.6 1403.4 570 1403.3 571.4 1403.3 572.7 1403.4 574.1 1403.4 575.4 1403.6 576.7 1403.7 578 1404 579.4 1404.4 580.7 1404.9 582.1 1405.7 583.5 1406.7 584.8 1407.7 586.2 1408.7 587.6 1409.5 589 1410.2 590.5 1410.9 591.9 1411.2 593.3 1410.9 594.5 1410.2 595.6 1409.2 596.8 1407.8 598 1405.6 599.1 1402.6 600.3 1398.9 601.5 1394.8 602.6 1390.6 603.8 1386.3 604.9 1381.7 606.1 1376.9 607.2 1372.1 608.6 1365.9 610 1359.5 611.5 1353 612.9 1346.8 614.4 1340.8 615.8 1334.9 617.2 1329.2 618.7 1323.7 619.9 1319.3 621 1314.8 622.1 1310.8 623.3 1307.6 624.8 1305.1 626.2 1303.8 627.6 1303.3 629.1 1303 630.5 1302.9 631.9 1303.4 633.2 1304.1 634.6 1304.8 636 1305.3 637.4 1305.6 638.8 1305.8 640.1 1306 641.5 1306.1 642.9 1306.2 644.3 1306.3 645.7 1306.3 647 1306.3 648.4 1306.4 649.8 1306.4 651.3 1306.4 652.7 1306.4 654.2 1306.4 655.7 1306.3 657.2 1306.3 658.6 1306.2 660.1 1306.2 661.6 1306.2 663.1 1306.2 664.5 1306.3 666 1306.4 667.4 1306.6 668.9 1306.9 670.3 1307.2 671.8 1307.5 673.2 1307.8 674.6 1308.2 676.1 1308.5 677.5 1308.7 679 1309 680.4 1309.5 681.8 1309.7 683.3 1309.4 684.7 1308.7 686.1 1307.6 687.6 1306.1 689 1304.1 690.4 1301.4 691.8 1298.1 693.1 1294.4 694.5 1290.6 695.9 1286.8 697.3 1282.9 698.7 1278.8 700.1 1274.6 701.5 1270.7 702.9 1267.2 704.3 1264.1 705.7 1261.3 707 1258.8 708.4 1256.6 709.8 1254.6 711.2 1252.9 712.6 1251.5 714.1 1250.3 715.5 1249.5 716.9 1249 718.3 1248.8 719.7 1248.8 721.1 1249.1 722.5 1249.5 723.9 1250.2 725.3 1251.3 726.6 1252.5 728 1253.7 729.4 1254.6 730.8 1255.3 732.2 1255.9 733.7 1256.4 735.1 1256.9 736.5 1257.3 737.9 1257.5 739.4 1257.7 740.8 1257.7 742.2 1257.7 743.6 1257.6 745.1 1257.5 746.5 1257.3 747.9 1257.2 749.3 1257 750.8 1256.9 752.2 1256.9 753.6 1256.9 755.1 1257 756.5 1257 758 1257.1 759.5 1257.2 760.9 1257.4 762.4 1257.5 763.8 1257.6 765.3 1257.7 766.8 1257.8 768.2 1257.9 769.7 1258 771.1 1258.1 772.6 1258.1 774 1258.2 775.5 1258.3 776.9 1258.3 778.4 1258.4 779.8 1258.4 781.2 1258.5 782.7 1258.5 784.1 1258.5 785.6 1258.6 787 1258.6 788.5 1258.6 789.9 1258.7 791.4 1258.7 792.8 1258.7 794.2 1258.7 795.7 1258.7 797.1 1258.8 798.5 1258.8 800 1258.8 801.4 1258.8 802.9 1258.8 804.3 1258.8 805.7 1258.8 807.2 1258.8 808.6 1258.8 810 1258.8 811.5 1258.8 812.9 1258.8 814.4 1258.7 815.8 1258.7 817.3 1258.6 818.8 1258.6 820.3 1258.5 821.7 1258.4 823.2 1258.3 824.7 1258.2 826.2 1258.1 827.7 1258 829.2 1257.9 830.7 1257.7 832.1 1257.6 833.6 1257.5 835.1 1257.4 836.6 1257.3" fill="none" stroke="#2b2626" stroke-opacity="0.75" stroke-width="4.1" stroke-linejoin="round" stroke-linecap="butt"/>
<text transform="translate(66 1220.9) scale(1 1.04)" text-anchor="end" font-size="26.4" fill="#424347" stroke="#424347" stroke-width="0.6">24</text>
<text transform="translate(66 1316.7) scale(1 1.04)" text-anchor="end" font-size="26.4" fill="#424347" stroke="#424347" stroke-width="0.6">23</text>
<text transform="translate(66 1412.5) scale(1 1.04)" text-anchor="end" font-size="26.4" fill="#424347" stroke="#424347" stroke-width="0.6">22</text>
<text transform="translate(66 1508.3) scale(1 1.04)" text-anchor="end" font-size="26.4" fill="#424347" stroke="#424347" stroke-width="0.6">21</text>
<text transform="translate(118.1 1553.3) scale(1 1.04)" text-anchor="middle" font-size="26.4" fill="#424347" stroke="#424347" stroke-width="0.6">2010</text>
<text transform="translate(282.6 1553.3) scale(1 1.04)" text-anchor="middle" font-size="26.4" fill="#424347" stroke="#424347" stroke-width="0.6">2011</text>
<text transform="translate(447.1 1553.3) scale(1 1.04)" text-anchor="middle" font-size="26.4" fill="#424347" stroke="#424347" stroke-width="0.6">2012</text>
<text transform="translate(611.6 1553.3) scale(1 1.04)" text-anchor="middle" font-size="26.4" fill="#424347" stroke="#424347" stroke-width="0.6">2013</text>
<text transform="translate(776.1 1553.3) scale(1 1.04)" text-anchor="middle" font-size="26.4" fill="#424347" stroke="#424347" stroke-width="0.6">2014</text>
<text transform="translate(476 1588.2) scale(1 1.03)" text-anchor="middle" font-size="32" fill="#000" stroke="#000" stroke-width="0.4">Time</text>
<text transform="translate(22.8 1355) rotate(-90) scale(0.985 1.04)" text-anchor="middle" font-size="32" fill="#000" stroke="#000" stroke-width="0.4">Temperature (ºC): Node 2</text>
<!-- p6 -->
<path d="M979.3 1162.7H1772M979.3 1258.5H1772M979.3 1354.3H1772M979.3 1450.1H1772M1138.9 1115.4V1520.8M1304.6 1115.4V1520.8M1470.2 1115.4V1520.8M1635.9 1115.4V1520.8" stroke="#ebebeb" stroke-width="1.5" fill="none"/>
<path d="M979.3 1210.6H1772M979.3 1306.4H1772M979.3 1402.2H1772M979.3 1498H1772M1056.1 1115.4V1520.8M1221.8 1115.4V1520.8M1387.4 1115.4V1520.8M1553 1115.4V1520.8M1718.7 1115.4V1520.8" stroke="#ebebeb" stroke-width="3.0" fill="none"/>
<g fill="none" stroke="#a8bce6" stroke-width="2.35"><circle cx="1033.4" cy="1148.9" r="5.25"/><circle cx="1023.1" cy="1170.3" r="5.25"/><circle cx="1036.9" cy="1162.3" r="5.25"/><circle cx="1052.6" cy="1134.1" r="5.25"/><circle cx="1055.3" cy="1145" r="5.25"/><circle cx="1053" cy="1153.1" r="5.25"/><circle cx="1058.8" cy="1154.2" r="5.25"/><circle cx="1056.5" cy="1160" r="5.25"/><circle cx="1064.6" cy="1164.6" r="5.25"/><circle cx="1072.6" cy="1168" r="5.25"/><circle cx="1063.2" cy="1152.4" r="5.25"/><circle cx="1052" cy="1151.8" r="5.25"/><circle cx="1058.3" cy="1149.3" r="5.25"/><circle cx="1051.8" cy="1160.8" r="5.25"/><circle cx="1060.1" cy="1164.5" r="5.25"/><circle cx="1065.1" cy="1148.3" r="5.25"/><circle cx="1051.9" cy="1163.9" r="5.25"/><circle cx="1063.3" cy="1160.9" r="5.25"/><circle cx="1051.6" cy="1151.9" r="5.25"/><circle cx="1065.5" cy="1158.2" r="5.25"/><circle cx="1058.1" cy="1166.5" r="5.25"/><circle cx="1060.4" cy="1150.3" r="5.25"/><circle cx="1051.2" cy="1150.7" r="5.25"/><circle cx="1066.3" cy="1148.1" r="5.25"/><circle cx="1056.8" cy="1167" r="5.25"/><circle cx="1054.8" cy="1160.5" r="5.25"/><circle cx="1062.8" cy="1149.3" r="5.25"/><circle cx="1053.1" cy="1153.4" r="5.25"/><circle cx="1057.5" cy="1185.1" r="5.25"/><circle cx="1051.3" cy="1193.4" r="5.25"/><circle cx="1061" cy="1196.2" r="5.25"/><circle cx="1053.5" cy="1194.8" r="5.25"/><circle cx="1061.6" cy="1192.8" r="5.25"/><circle cx="1055.5" cy="1190.5" r="5.25"/><circle cx="1054.7" cy="1187.1" r="5.25"/><circle cx="1049.2" cy="1187.8" r="5.25"/><circle cx="1055.5" cy="1189.9" r="5.25"/><circle cx="1058.8" cy="1187.2" r="5.25"/><circle cx="1084.7" cy="1222.8" r="5.25"/><circle cx="1082.4" cy="1206.6" r="5.25"/><circle cx="1083.2" cy="1231.2" r="5.25"/><circle cx="1089" cy="1208.4" r="5.25"/><circle cx="1085.1" cy="1210.7" r="5.25"/><circle cx="1087" cy="1225.7" r="5.25"/><circle cx="1077.8" cy="1213.6" r="5.25"/><circle cx="1086.6" cy="1232" r="5.25"/><circle cx="1081.2" cy="1201.4" r="5.25"/><circle cx="1090.5" cy="1196.3" r="5.25"/><circle cx="1078.7" cy="1224.6" r="5.25"/><circle cx="1081.4" cy="1218.4" r="5.25"/><circle cx="1087.5" cy="1201.5" r="5.25"/><circle cx="1092" cy="1193.1" r="5.25"/><circle cx="1078.8" cy="1199.8" r="5.25"/><circle cx="1083.5" cy="1209.5" r="5.25"/><circle cx="1081.5" cy="1206.1" r="5.25"/><circle cx="1090.6" cy="1193.1" r="5.25"/><circle cx="1092" cy="1196.5" r="5.25"/><circle cx="1085.6" cy="1218.2" r="5.25"/><circle cx="1088" cy="1227" r="5.25"/><circle cx="1082.2" cy="1233.2" r="5.25"/><circle cx="1080.2" cy="1197.7" r="5.25"/><circle cx="1086.6" cy="1192.8" r="5.25"/><circle cx="1082.9" cy="1218.4" r="5.25"/><circle cx="1038.5" cy="1277.6" r="5.25"/><circle cx="1038.5" cy="1287.9" r="5.25"/><circle cx="1111.4" cy="1266" r="5.25"/><circle cx="1085.3" cy="1264.9" r="5.25"/><circle cx="1096.5" cy="1284.7" r="5.25"/><circle cx="1112.2" cy="1326.4" r="5.25"/><circle cx="1098" cy="1291" r="5.25"/><circle cx="1114.7" cy="1330.4" r="5.25"/><circle cx="1088.3" cy="1247.2" r="5.25"/><circle cx="1109.4" cy="1312" r="5.25"/><circle cx="1113.2" cy="1325.8" r="5.25"/><circle cx="1117.4" cy="1322.5" r="5.25"/><circle cx="1098.8" cy="1293.3" r="5.25"/><circle cx="1113.5" cy="1329.2" r="5.25"/><circle cx="1110" cy="1325.2" r="5.25"/><circle cx="1110.5" cy="1322.8" r="5.25"/><circle cx="1115.9" cy="1335.7" r="5.25"/><circle cx="1106.5" cy="1304" r="5.25"/><circle cx="1105.7" cy="1317.5" r="5.25"/><circle cx="1113.2" cy="1324.7" r="5.25"/><circle cx="1110.6" cy="1318" r="5.25"/><circle cx="1089.7" cy="1247" r="5.25"/><circle cx="1117.8" cy="1327.4" r="5.25"/><circle cx="1116.3" cy="1329.6" r="5.25"/><circle cx="1092.6" cy="1268.8" r="5.25"/><circle cx="1115.7" cy="1324.1" r="5.25"/><circle cx="1101.3" cy="1293.7" r="5.25"/><circle cx="1096.8" cy="1285.1" r="5.25"/><circle cx="1117" cy="1334.3" r="5.25"/><circle cx="1109.5" cy="1316.1" r="5.25"/><circle cx="1107" cy="1312.6" r="5.25"/><circle cx="1100.9" cy="1298.1" r="5.25"/><circle cx="1114.9" cy="1326" r="5.25"/><circle cx="1107.6" cy="1322" r="5.25"/><circle cx="1102.3" cy="1297.6" r="5.25"/><circle cx="1105.9" cy="1310" r="5.25"/><circle cx="1090.4" cy="1267.3" r="5.25"/><circle cx="1099.1" cy="1294.9" r="5.25"/><circle cx="1111.1" cy="1333.9" r="5.25"/><circle cx="1089.5" cy="1252.8" r="5.25"/><circle cx="1107.8" cy="1314.7" r="5.25"/><circle cx="1093.5" cy="1273.2" r="5.25"/><circle cx="1108.3" cy="1328.7" r="5.25"/><circle cx="1117.1" cy="1326.9" r="5.25"/><circle cx="1100.6" cy="1293.5" r="5.25"/><circle cx="1114.3" cy="1331" r="5.25"/><circle cx="1115.6" cy="1327.5" r="5.25"/><circle cx="1092.6" cy="1253.9" r="5.25"/><circle cx="1092.9" cy="1267.9" r="5.25"/><circle cx="1111.2" cy="1309.4" r="5.25"/><circle cx="1093.7" cy="1299.8" r="5.25"/><circle cx="1117.9" cy="1294.3" r="5.25"/><circle cx="1098" cy="1282.8" r="5.25"/><circle cx="1097.2" cy="1287" r="5.25"/><circle cx="1099.4" cy="1275.8" r="5.25"/><circle cx="1105.4" cy="1297.9" r="5.25"/><circle cx="1104.9" cy="1305.5" r="5.25"/><circle cx="1093.9" cy="1304.8" r="5.25"/><circle cx="1106.2" cy="1296.7" r="5.25"/><circle cx="1108.4" cy="1318.8" r="5.25"/><circle cx="1100.7" cy="1304.4" r="5.25"/><circle cx="1092" cy="1307.3" r="5.25"/><circle cx="1097.6" cy="1281" r="5.25"/><circle cx="1100.5" cy="1292.1" r="5.25"/><circle cx="1110.4" cy="1290.9" r="5.25"/><circle cx="1102" cy="1315.2" r="5.25"/><circle cx="1108.4" cy="1296.2" r="5.25"/><circle cx="1120" cy="1295.6" r="5.25"/><circle cx="1105.4" cy="1294.6" r="5.25"/><circle cx="1104" cy="1322.7" r="5.25"/><circle cx="1111.5" cy="1289.7" r="5.25"/><circle cx="1113.9" cy="1286.3" r="5.25"/><circle cx="1114.6" cy="1302.2" r="5.25"/><circle cx="1105.7" cy="1297.4" r="5.25"/><circle cx="1096.7" cy="1320.5" r="5.25"/><circle cx="1092.3" cy="1317" r="5.25"/><circle cx="1099.4" cy="1303.8" r="5.25"/><circle cx="1103" cy="1296.6" r="5.25"/><circle cx="1097" cy="1299.5" r="5.25"/><circle cx="1095.1" cy="1320.7" r="5.25"/><circle cx="1102.8" cy="1306" r="5.25"/><circle cx="1102" cy="1309.4" r="5.25"/><circle cx="1101.1" cy="1268" r="5.25"/><circle cx="1117.6" cy="1280.9" r="5.25"/><circle cx="1111.6" cy="1296.5" r="5.25"/><circle cx="1096.1" cy="1309.1" r="5.25"/><circle cx="1111.5" cy="1309.4" r="5.25"/><circle cx="1104.1" cy="1300.7" r="5.25"/><circle cx="1099.5" cy="1271" r="5.25"/><circle cx="1101" cy="1300.5" r="5.25"/><circle cx="1120" cy="1286" r="5.25"/><circle cx="1104.2" cy="1268" r="5.25"/><circle cx="1098.8" cy="1284.2" r="5.25"/><circle cx="1103.9" cy="1292" r="5.25"/><circle cx="1124.6" cy="1327.8" r="5.25"/><circle cx="1128.7" cy="1311" r="5.25"/><circle cx="1124.6" cy="1346.6" r="5.25"/><circle cx="1123.4" cy="1307.1" r="5.25"/><circle cx="1119.8" cy="1300.8" r="5.25"/><circle cx="1123.2" cy="1327.9" r="5.25"/><circle cx="1115.6" cy="1305.3" r="5.25"/><circle cx="1128.4" cy="1342.3" r="5.25"/><circle cx="1123.5" cy="1308.9" r="5.25"/><circle cx="1130.7" cy="1331.7" r="5.25"/><circle cx="1127.4" cy="1307.8" r="5.25"/><circle cx="1120.9" cy="1314.5" r="5.25"/><circle cx="1122.9" cy="1323.7" r="5.25"/><circle cx="1123.3" cy="1311.9" r="5.25"/><circle cx="1123.8" cy="1331.4" r="5.25"/><circle cx="1110" cy="1312" r="5.25"/><circle cx="1117" cy="1341.5" r="5.25"/><circle cx="1137.1" cy="1334.2" r="5.25"/><circle cx="1124.3" cy="1299.3" r="5.25"/><circle cx="1133.6" cy="1349.8" r="5.25"/><circle cx="1120" cy="1326.3" r="5.25"/><circle cx="1113" cy="1310.3" r="5.25"/><circle cx="1121.6" cy="1325.9" r="5.25"/><circle cx="1121.2" cy="1323.6" r="5.25"/><circle cx="1118.3" cy="1333.3" r="5.25"/><circle cx="1132" cy="1333.9" r="5.25"/><circle cx="1133.7" cy="1338.6" r="5.25"/><circle cx="1118.9" cy="1304.4" r="5.25"/><circle cx="1137.4" cy="1325.7" r="5.25"/><circle cx="1130.2" cy="1313.3" r="5.25"/><circle cx="1115.6" cy="1300.2" r="5.25"/><circle cx="1131" cy="1310.8" r="5.25"/><circle cx="1126.4" cy="1307.1" r="5.25"/><circle cx="1124" cy="1327.2" r="5.25"/><circle cx="1112.7" cy="1317.7" r="5.25"/><circle cx="1129.7" cy="1343.7" r="5.25"/><circle cx="1127.5" cy="1351" r="5.25"/><circle cx="1128.6" cy="1341.2" r="5.25"/><circle cx="1130.3" cy="1341.5" r="5.25"/><circle cx="1123.9" cy="1333.4" r="5.25"/><circle cx="1127.2" cy="1339.6" r="5.25"/><circle cx="1127.1" cy="1347.5" r="5.25"/><circle cx="1125.3" cy="1351.9" r="5.25"/><circle cx="1123" cy="1343" r="5.25"/><circle cx="1129.4" cy="1350" r="5.25"/><circle cx="1148.4" cy="1194.6" r="5.25"/><circle cx="1150" cy="1213" r="5.25"/><circle cx="1143.7" cy="1229.5" r="5.25"/><circle cx="1136.5" cy="1229.8" r="5.25"/><circle cx="1140.6" cy="1232.5" r="5.25"/><circle cx="1146.1" cy="1212" r="5.25"/><circle cx="1136.7" cy="1212.7" r="5.25"/><circle cx="1139.5" cy="1218.9" r="5.25"/><circle cx="1135.3" cy="1212.9" r="5.25"/><circle cx="1136.7" cy="1224.1" r="5.25"/><circle cx="1132.1" cy="1227.9" r="5.25"/><circle cx="1145.7" cy="1229.2" r="5.25"/><circle cx="1136.1" cy="1207.1" r="5.25"/><circle cx="1140.2" cy="1235.9" r="5.25"/><circle cx="1142.3" cy="1192.9" r="5.25"/><circle cx="1138" cy="1212.9" r="5.25"/><circle cx="1133.9" cy="1210.1" r="5.25"/><circle cx="1136.4" cy="1216.4" r="5.25"/><circle cx="1134" cy="1213.4" r="5.25"/><circle cx="1140.1" cy="1231.2" r="5.25"/><circle cx="1136.3" cy="1207.1" r="5.25"/><circle cx="1145.4" cy="1226.3" r="5.25"/><circle cx="1137.6" cy="1202.5" r="5.25"/><circle cx="1142.2" cy="1216.5" r="5.25"/><circle cx="1134.6" cy="1221.6" r="5.25"/><circle cx="1159.2" cy="1174.6" r="5.25"/><circle cx="1145.6" cy="1183.6" r="5.25"/><circle cx="1140.6" cy="1181.7" r="5.25"/><circle cx="1163.8" cy="1177.7" r="5.25"/><circle cx="1147.1" cy="1165.4" r="5.25"/><circle cx="1151.2" cy="1172.5" r="5.25"/><circle cx="1151.9" cy="1178.5" r="5.25"/><circle cx="1161.9" cy="1173.2" r="5.25"/><circle cx="1157.6" cy="1181.4" r="5.25"/><circle cx="1160.7" cy="1187.6" r="5.25"/><circle cx="1161.5" cy="1176.6" r="5.25"/><circle cx="1156.3" cy="1178.1" r="5.25"/><circle cx="1153.3" cy="1145" r="5.25"/><circle cx="1156.3" cy="1165.7" r="5.25"/><circle cx="1145.2" cy="1171" r="5.25"/><circle cx="1163" cy="1250.6" r="5.25"/><circle cx="1164.7" cy="1215.3" r="5.25"/><circle cx="1169.4" cy="1209" r="5.25"/><circle cx="1149.9" cy="1205.3" r="5.25"/><circle cx="1157.6" cy="1213.1" r="5.25"/><circle cx="1167.5" cy="1209.1" r="5.25"/><circle cx="1160" cy="1209.4" r="5.25"/><circle cx="1151.3" cy="1208" r="5.25"/><circle cx="1163" cy="1208.4" r="5.25"/><circle cx="1153.4" cy="1206.2" r="5.25"/><circle cx="1164.9" cy="1214.6" r="5.25"/><circle cx="1194.8" cy="1182.6" r="5.25"/><circle cx="1196.4" cy="1188.8" r="5.25"/><circle cx="1195.3" cy="1207.2" r="5.25"/><circle cx="1195.3" cy="1211.8" r="5.25"/><circle cx="1294.6" cy="1300.1" r="5.25"/><circle cx="1386.3" cy="1376.6" r="5.25"/><circle cx="1377.8" cy="1406.5" r="5.25"/><circle cx="1376" cy="1382.5" r="5.25"/><circle cx="1384.7" cy="1395.4" r="5.25"/><circle cx="1387" cy="1396.3" r="5.25"/><circle cx="1383.8" cy="1392.1" r="5.25"/><circle cx="1386.4" cy="1392.5" r="5.25"/><circle cx="1384.9" cy="1385.6" r="5.25"/><circle cx="1381.8" cy="1389" r="5.25"/><circle cx="1380.4" cy="1399.8" r="5.25"/><circle cx="1378.2" cy="1399.3" r="5.25"/><circle cx="1381.1" cy="1380.6" r="5.25"/><circle cx="1429.5" cy="1327.3" r="5.25"/><circle cx="1456" cy="1356.1" r="5.25"/><circle cx="1458.3" cy="1359.5" r="5.25"/><circle cx="1461.8" cy="1358.4" r="5.25"/><circle cx="1418" cy="1399.2" r="5.25"/><circle cx="1436.9" cy="1408.4" r="5.25"/><circle cx="1457.6" cy="1392.3" r="5.25"/><circle cx="1448.6" cy="1440.9" r="5.25"/><circle cx="1428.9" cy="1379.2" r="5.25"/><circle cx="1416.2" cy="1385" r="5.25"/><circle cx="1428.8" cy="1381.7" r="5.25"/><circle cx="1429.9" cy="1388.3" r="5.25"/><circle cx="1419.2" cy="1383.7" r="5.25"/><circle cx="1440.2" cy="1386.1" r="5.25"/><circle cx="1419.1" cy="1387.9" r="5.25"/><circle cx="1438.5" cy="1382.9" r="5.25"/><circle cx="1416.9" cy="1384.5" r="5.25"/><circle cx="1434.8" cy="1388" r="5.25"/><circle cx="1399.2" cy="1450.2" r="5.25"/><circle cx="1408" cy="1459.8" r="5.25"/><circle cx="1393.7" cy="1449.6" r="5.25"/><circle cx="1418.9" cy="1447.8" r="5.25"/><circle cx="1412.7" cy="1450.3" r="5.25"/><circle cx="1395.7" cy="1448.3" r="5.25"/><circle cx="1400.1" cy="1457" r="5.25"/><circle cx="1403" cy="1446.5" r="5.25"/><circle cx="1409.1" cy="1435.1" r="5.25"/><circle cx="1410.3" cy="1457.2" r="5.25"/><circle cx="1412.4" cy="1454.4" r="5.25"/><circle cx="1413.1" cy="1446.8" r="5.25"/><circle cx="1398" cy="1448.9" r="5.25"/><circle cx="1406.5" cy="1456.2" r="5.25"/><circle cx="1404.3" cy="1453.2" r="5.25"/><circle cx="1409.4" cy="1442.2" r="5.25"/><circle cx="1404.4" cy="1461.1" r="5.25"/><circle cx="1393.6" cy="1466.7" r="5.25"/><circle cx="1402.2" cy="1450.3" r="5.25"/><circle cx="1419" cy="1442.1" r="5.25"/><circle cx="1392.6" cy="1480.6" r="5.25"/><circle cx="1401.8" cy="1480.6" r="5.25"/><circle cx="1400.7" cy="1494.4" r="5.25"/><circle cx="1394.9" cy="1500.9" r="5.25"/><circle cx="1402.3" cy="1502.5" r="5.25"/><circle cx="1683.8" cy="1316.2" r="5.25"/></g><path d="M1015 1197.1l9 9l-9 9l-9 -9zM1015.8 1196.2l9 9l-9 9l-9 -9zM1016.6 1195.2l9 9l-9 9l-9 -9zM1017.4 1194.3l9 9l-9 9l-9 -9zM1018.2 1193.4l9 9l-9 9l-9 -9zM1019 1192.4l9 9l-9 9l-9 -9zM1019.8 1191.4l9 9l-9 9l-9 -9zM1020.6 1190.3l9 9l-9 9l-9 -9zM1021.4 1189.1l9 9l-9 9l-9 -9zM1022.2 1187.9l9 9l-9 9l-9 -9zM1023 1186.5l9 9l-9 9l-9 -9zM1023.8 1185.2l9 9l-9 9l-9 -9zM1024.6 1183.8l9 9l-9 9l-9 -9zM1025.4 1182.4l9 9l-9 9l-9 -9zM1026.2 1181l9 9l-9 9l-9 -9zM1027 1179.7l9 9l-9 9l-9 -9zM1027.8 1178.5l9 9l-9 9l-9 -9zM1028.6 1177.3l9 9l-9 9l-9 -9zM1029.4 1176.1l9 9l-9 9l-9 -9zM1030.2 1174.9l9 9l-9 9l-9 -9zM1031 1173.8l9 9l-9 9l-9 -9zM1031.8 1172.7l9 9l-9 9l-9 -9zM1032.6 1171.7l9 9l-9 9l-9 -9zM1033.4 1170.7l9 9l-9 9l-9 -9zM1034.2 1169.8l9 9l-9 9l-9 -9zM1035 1169l9 9l-9 9l-9 -9zM1035.8 1168.2l9 9l-9 9l-9 -9zM1036.6 1167.5l9 9l-9 9l-9 -9zM1037.4 1166.9l9 9l-9 9l-9 -9zM1038.2 1166.3l9 9l-9 9l-9 -9zM1039 1165.7l9 9l-9 9l-9 -9zM1039.8 1165.2l9 9l-9 9l-9 -9zM1040.6 1164.8l9 9l-9 9l-9 -9zM1041.4 1164.3l9 9l-9 9l-9 -9zM1042.2 1163.9l9 9l-9 9l-9 -9zM1043 1163.6l9 9l-9 9l-9 -9zM1043.8 1163.2l9 9l-9 9l-9 -9zM1044.6 1163l9 9l-9 9l-9 -9zM1045.4 1162.7l9 9l-9 9l-9 -9zM1046.2 1162.5l9 9l-9 9l-9 -9zM1047 1162.3l9 9l-9 9l-9 -9zM1047.8 1162.2l9 9l-9 9l-9 -9zM1048.6 1162.1l9 9l-9 9l-9 -9zM1049.4 1162l9 9l-9 9l-9 -9zM1050.2 1162l9 9l-9 9l-9 -9zM1051 1162l9 9l-9 9l-9 -9zM1051.8 1162.1l9 9l-9 9l-9 -9zM1052.6 1162.2l9 9l-9 9l-9 -9zM1053.4 1162.3l9 9l-9 9l-9 -9zM1054.2 1162.5l9 9l-9 9l-9 -9zM1055 1162.7l9 9l-9 9l-9 -9zM1055.8 1163l9 9l-9 9l-9 -9zM1056.6 1163.3l9 9l-9 9l-9 -9zM1057.4 1163.6l9 9l-9 9l-9 -9zM1058.2 1164l9 9l-9 9l-9 -9zM1059 1164.3l9 9l-9 9l-9 -9zM1059.8 1164.7l9 9l-9 9l-9 -9zM1060.6 1165.2l9 9l-9 9l-9 -9zM1061.4 1165.7l9 9l-9 9l-9 -9zM1062.2 1166.2l9 9l-9 9l-9 -9zM1063 1166.8l9 9l-9 9l-9 -9zM1063.8 1167.5l9 9l-9 9l-9 -9zM1064.6 1168.3l9 9l-9 9l-9 -9zM1065.4 1169.2l9 9l-9 9l-9 -9zM1066.2 1170.2l9 9l-9 9l-9 -9zM1067 1171.2l9 9l-9 9l-9 -9zM1067.8 1172.3l9 9l-9 9l-9 -9zM1068.6 1173.5l9 9l-9 9l-9 -9zM1069.4 1174.8l9 9l-9 9l-9 -9zM1070.2 1176.1l9 9l-9 9l-9 -9zM1071 1177.7l9 9l-9 9l-9 -9zM1071.8 1179.2l9 9l-9 9l-9 -9zM1072.6 1180.9l9 9l-9 9l-9 -9zM1073.4 1182.7l9 9l-9 9l-9 -9zM1074.2 1184.5l9 9l-9 9l-9 -9zM1075 1186.5l9 9l-9 9l-9 -9zM1075.8 1188.5l9 9l-9 9l-9 -9zM1076.6 1190.8l9 9l-9 9l-9 -9zM1077.4 1193.1l9 9l-9 9l-9 -9zM1078.2 1195.6l9 9l-9 9l-9 -9zM1079 1198.3l9 9l-9 9l-9 -9zM1079.8 1201.1l9 9l-9 9l-9 -9zM1148 1189.2l9 9l-9 9l-9 -9zM1150 1184.9l9 9l-9 9l-9 -9zM1152 1182.3l9 9l-9 9l-9 -9zM1154 1181.1l9 9l-9 9l-9 -9z" fill="#2a7a3a"/><path d="M1015 1206.1 1016.4 1204.4 1017.9 1202.8 1019.3 1201.1 1020.7 1199.2 1022.1 1197.1 1023.5 1194.7 1024.9 1192.2 1026.3 1189.8 1027.7 1187.6 1029.1 1185.6 1030.5 1183.6 1031.8 1181.7 1033.2 1179.9 1034.6 1178.4 1035.9 1177.1 1037.3 1175.9 1038.7 1175 1040 1174.1 1041.3 1173.4 1042.7 1172.7 1044.1 1172.1 1045.5 1171.7 1046.8 1171.3 1048.2 1171.1 1049.6 1171 1050.9 1171 1052.3 1171.1 1053.6 1171.4 1054.9 1171.7 1056.3 1172.2 1057.6 1172.7 1059 1173.3 1060.4 1174 1061.8 1174.9 1063.2 1176 1064.6 1177.3 1066 1178.9 1067.4 1180.7 1068.7 1182.7 1070.1 1185 1071.5 1187.6 1072.9 1190.6 1074.3 1193.8 1075.8 1197.4 1077.2 1201.5 1078.3 1205.1 1079.5 1209 1080.7 1213.2 1081.8 1217.6 1083 1222.5 1084.2 1227.8 1085.3 1233.2 1086.5 1238.4 1087.9 1244.3 1089.3 1250.1 1090.8 1255.7 1092.2 1261.4 1093.7 1267.2 1095.1 1273 1096.5 1278.7 1098 1284.5 1099.4 1290.4 1100.8 1296.5 1102.3 1302.3 1103.7 1307.5 1104.9 1311.2 1106.1 1314.6 1107.2 1317.6 1108.4 1320.2 1109.6 1322.5 1110.7 1324.4 1111.8 1325.9 1113 1327.1 1114.1 1327.9 1115.3 1328.3 1116.4 1328.3 1117.6 1328.1 1118.7 1327.6 1119.8 1326.6 1121 1324.8 1122.2 1322.1 1123.3 1318.7 1124.4 1314.6 1125.6 1309.8 1126.8 1304.1 1127.9 1297.7 1129.1 1291.4 1130.2 1285.6 1131.4 1279.9 1132.5 1274.2 1133.7 1268.3 1134.8 1262.1 1136 1255.8 1137.2 1249.4 1138.3 1243 1139.5 1236.5 1140.6 1229.8 1141.8 1223.4 1142.9 1217.6 1144.1 1212.2 1145.2 1207.3 1146.4 1202.9 1147.6 1199.2 1148.8 1196.3 1149.9 1194.1 1151 1192.4 1152.2 1191.1 1153.3 1190.3 1154.5 1189.9 1155.7 1190 1156.8 1190.4 1158 1191.2 1159.1 1192.5 1160.2 1194 1161.4 1195.7 1162.8 1198.1 1164.2 1201 1165.7 1203.8 1167.1 1206.1 1168.5 1207.7 1170 1208.9 1171.5 1209.7 1172.9 1210.2 1174.4 1210.6 1175.8 1210.7 1177.2 1210.4 1178.7 1209.5 1179.8 1208.2 1181 1206.5 1182.1 1204.9 1184.4 1203.8 1187.9 1209.5 1215.6 1268.3 1216.8 1271.8 1217.9 1275.4 1219 1278.9 1220.2 1282.2 1221.3 1285.4 1222.5 1288.5 1223.7 1291.3 1224.8 1293.7 1225.9 1295.6 1227.1 1297.1 1228.2 1298.3 1229.4 1299 1230.5 1299.3 1231.7 1299.5 1233 1299.5 1234.4 1299.1 1235.8 1298.6 1237.1 1297.9 1238.5 1297.2 1239.8 1296.5 1241.1 1295.9 1242.4 1295.2 1243.7 1294.5 1245.1 1293.8 1246.4 1293.1 1247.7 1292.4 1249 1291.8 1250.3 1291.2 1251.7 1290.7 1253 1290.1 1254.4 1289.7 1255.8 1289.3 1257.1 1289.1 1258.4 1289.1 1259.8 1289.2 1261.1 1289.4 1262.4 1289.7 1263.8 1290 1265.1 1290.2 1266.5 1290.3 1268 1290.5 1269.5 1290.6 1270.9 1290.7 1272.3 1290.7 1273.8 1290.8 1275.2 1290.9 1276.7 1290.9 1278.1 1290.9 1279.5 1290.9 1280.9 1290.9 1282.4 1290.8 1283.8 1290.8 1285.2 1290.7 1286.6 1290.7 1288 1290.6 1289.4 1290.5 1290.9 1290.4 1292.3 1290.3 1293.7 1290.3 1295.1 1290.2 1296.5 1289 1298 1287.8 1299.5 1286.7 1300.9 1285.6 1302.1 1284.7 1303.2 1283.7 1304.3 1282.9 1305.5 1282.6 1306.7 1282.8 1307.8 1283.3 1308.9 1284.2 1310.1 1285.6 1311.2 1287.5 1312.4 1290 1313.5 1292.8 1314.7 1296 1315.8 1299.5 1317 1303.3 1318.2 1307.5 1319.3 1312.1 1320.5 1317.2 1321.6 1322.7 1322.8 1328.3 1323.9 1334 1325.1 1339.8 1360.8 1370 1362.2 1372.2 1363.5 1374.3 1364.9 1376.3 1366.2 1378.4 1367.6 1380.5 1368.9 1382.7 1370.3 1385.1 1371.6 1387.7 1373 1390.7 1374.4 1394 1375.8 1397.5 1377.1 1401.2 1378.5 1405 1379.9 1409.1 1381.3 1413.3 1382.7 1417.8 1384 1422.4 1385.4 1427.2 1386.8 1432.2 1388.2 1437.8 1389.7 1443.7 1391.1 1449.6 1392.6 1455.2 1393.8 1459.6 1394.9 1464.1 1396 1468.2 1397.2 1471.4 1398.4 1473.7 1399.5 1475.3 1400.7 1476 1401.8 1475.5 1403 1473.9 1404.2 1471.6 1405.3 1469 1406.7 1465.3 1408.2 1460.7 1409.6 1455.7 1411 1450.6 1412.5 1445.2 1413.9 1439.4 1415.3 1433.5 1416.8 1427.6 1418.2 1421.6 1419.7 1415.5 1421.1 1409.6 1422.6 1404.5 1423.8 1401 1424.9 1397.9 1426 1395.2 1427.2 1393 1428.6 1391 1430.1 1389.8 1431.5 1389 1432.9 1388.4 1434.2 1387.9 1435.6 1387.8 1436.9 1387.9 1438.2 1388.1 1439.5 1388.4 1440.9 1388.7 1442.2 1388.8 1443.7 1388.8 1445.2 1388.8 1446.6 1388.7 1448.1 1388.6 1449.6 1388.5 1451.1 1388.4 1452.6 1388.3 1454 1388.2 1455.5 1388.1 1457 1388.1 1458.5 1388.1 1459.9 1388.1 1461.4 1388.2 1462.9 1388.4 1464.4 1388.7 1465.8 1389.1 1467.3 1389.6 1468.8 1390.2 1470.3 1390.8 1471.7 1391.4 1473.2 1391.9 1474.7 1392.3 1476.2 1392.6 1477.6 1392.6 1479.1 1392.5 1480.5 1392.1 1481.9 1391.6 1483.2 1390.9 1484.6 1390 1486 1389.1 1487.4 1388.2 1488.8 1387.2 1490.1 1386.3 1491.5 1385.6 1492.9 1384.9 1494.3 1384.3 1495.8 1383.7 1497.2 1383.1 1498.7 1382.6 1500.1 1382.1 1501.5 1381.8 1503 1381.5 1504.4 1381.4 1505.7 1381.4 1507 1381.6 1508.3 1381.8 1509.7 1382.1 1511 1382.5 1512.3 1382.9 1513.6 1383.3 1515 1383.8 1516.5 1384.4 1518 1385 1519.4 1385.7 1520.8 1386.4 1522.3 1387.1 1523.8 1387.7 1525.2 1388.4 1574.7 1408 1646.2 1284.6 1662.6 1277.8 1703.8 1394.1 1713.1 1405.2 1735.7 1405.7" fill="none" stroke="#2b2626" stroke-opacity="0.75" stroke-width="4.1" stroke-linejoin="round" stroke-linecap="butt"/>
<text transform="translate(966.6 1220.9) scale(1 1.04)" text-anchor="end" font-size="26.4" fill="#424347" stroke="#424347" stroke-width="0.6">24</text>
<text transform="translate(966.6 1316.7) scale(1 1.04)" text-anchor="end" font-size="26.4" fill="#424347" stroke="#424347" stroke-width="0.6">23</text>
<text transform="translate(966.6 1412.5) scale(1 1.04)" text-anchor="end" font-size="26.4" fill="#424347" stroke="#424347" stroke-width="0.6">22</text>
<text transform="translate(966.6 1508.3) scale(1 1.04)" text-anchor="end" font-size="26.4" fill="#424347" stroke="#424347" stroke-width="0.6">21</text>
<text transform="translate(1055.7 1553.3) scale(1 1.04)" text-anchor="middle" font-size="26.4" fill="#424347" stroke="#424347" stroke-width="0.6">2010</text>
<text transform="translate(1221.3 1553.3) scale(1 1.04)" text-anchor="middle" font-size="26.4" fill="#424347" stroke="#424347" stroke-width="0.6">2011</text>
<text transform="translate(1387 1553.3) scale(1 1.04)" text-anchor="middle" font-size="26.4" fill="#424347" stroke="#424347" stroke-width="0.6">2012</text>
<text transform="translate(1552.6 1553.3) scale(1 1.04)" text-anchor="middle" font-size="26.4" fill="#424347" stroke="#424347" stroke-width="0.6">2013</text>
<text transform="translate(1718.3 1553.3) scale(1 1.04)" text-anchor="middle" font-size="26.4" fill="#424347" stroke="#424347" stroke-width="0.6">2014</text>
<text transform="translate(1375 1588.2) scale(1 1.03)" text-anchor="middle" font-size="32" fill="#000" stroke="#000" stroke-width="0.4">Time</text>
<text transform="translate(921.9 1353.9) rotate(-90) scale(0.985 1.04)" text-anchor="middle" font-size="32" fill="#000" stroke="#000" stroke-width="0.4">Temperature (ºC): US Lab</text>
<!-- p7 -->
<path d="M79.6 1704.6H872M79.6 1781.4H872M79.6 1858.3H872M79.6 1935.2H872M79.6 2012.1H872M231.7 1673.2V2078.8M388 1673.2V2078.8M544.2 1673.2V2078.8M700.6 1673.2V2078.8M856.9 1673.2V2078.8" stroke="#ebebeb" stroke-width="1.5" fill="none"/>
<path d="M79.6 1743H872M79.6 1819.9H872M79.6 1896.8H872M79.6 1973.6H872M79.6 2050.5H872M153.5 1673.2V2078.8M309.8 1673.2V2078.8M466.1 1673.2V2078.8M622.4 1673.2V2078.8M778.7 1673.2V2078.8" stroke="#ebebeb" stroke-width="3.0" fill="none"/>
<g fill="none" stroke="#a8bce6" stroke-width="2.35"><circle cx="404.1" cy="2009.3" r="5.25"/><circle cx="426.1" cy="2008.9" r="5.25"/><circle cx="404.1" cy="2060.3" r="5.25"/><circle cx="426.1" cy="1958.8" r="5.25"/><circle cx="305.7" cy="2040" r="5.25"/></g><path d="M116.3 1819.8l9.2 9.2l-9.2 9.2l-9.2 -9.2zM123.8 1819.8l9.2 9.2l-9.2 9.2l-9.2 -9.2zM209.3 1923.7l9.2 9.2l-9.2 9.2l-9.2 -9.2zM504 1997.5l9.2 9.2l-9.2 9.2l-9.2 -9.2zM572.7 1754.1l9.2 9.2l-9.2 9.2l-9.2 -9.2zM693.4 1960.8l9.2 9.2l-9.2 9.2l-9.2 -9.2zM767.7 1905.5l9.2 9.2l-9.2 9.2l-9.2 -9.2zM791.6 1824.7l9.2 9.2l-9.2 9.2l-9.2 -9.2zM629.4 1945.8l9.2 9.2l-9.2 9.2l-9.2 -9.2zM633.7 1881.8l9.2 9.2l-9.2 9.2l-9.2 -9.2zM637.2 1836.8l9.2 9.2l-9.2 9.2l-9.2 -9.2zM123.2 1947.9l9.2 9.2l-9.2 9.2l-9.2 -9.2zM124.4 1946.7l9.2 9.2l-9.2 9.2l-9.2 -9.2zM125.6 1945.5l9.2 9.2l-9.2 9.2l-9.2 -9.2zM126.8 1944.3l9.2 9.2l-9.2 9.2l-9.2 -9.2zM128 1943.1l9.2 9.2l-9.2 9.2l-9.2 -9.2zM129.2 1941.9l9.2 9.2l-9.2 9.2l-9.2 -9.2zM130.3 1940.8l9.2 9.2l-9.2 9.2l-9.2 -9.2zM131.5 1939.6l9.2 9.2l-9.2 9.2l-9.2 -9.2zM132.7 1938.4l9.2 9.2l-9.2 9.2l-9.2 -9.2zM133.9 1937.2l9.2 9.2l-9.2 9.2l-9.2 -9.2zM135.1 1936l9.2 9.2l-9.2 9.2l-9.2 -9.2zM136.3 1934.8l9.2 9.2l-9.2 9.2l-9.2 -9.2zM137.5 1933.6l9.2 9.2l-9.2 9.2l-9.2 -9.2zM138.7 1932.4l9.2 9.2l-9.2 9.2l-9.2 -9.2zM139.9 1931.2l9.2 9.2l-9.2 9.2l-9.2 -9.2zM141.1 1930l9.2 9.2l-9.2 9.2l-9.2 -9.2zM142.2 1928.8l9.2 9.2l-9.2 9.2l-9.2 -9.2zM143.4 1927.7l9.2 9.2l-9.2 9.2l-9.2 -9.2zM144.6 1926.5l9.2 9.2l-9.2 9.2l-9.2 -9.2zM145.8 1925.3l9.2 9.2l-9.2 9.2l-9.2 -9.2zM147 1924.1l9.2 9.2l-9.2 9.2l-9.2 -9.2zM148.2 1922.9l9.2 9.2l-9.2 9.2l-9.2 -9.2zM149.4 1921.7l9.2 9.2l-9.2 9.2l-9.2 -9.2zM150.6 1920.5l9.2 9.2l-9.2 9.2l-9.2 -9.2zM151.8 1919.3l9.2 9.2l-9.2 9.2l-9.2 -9.2zM153 1918.1l9.2 9.2l-9.2 9.2l-9.2 -9.2zM154.2 1916.9l9.2 9.2l-9.2 9.2l-9.2 -9.2zM155.3 1915.8l9.2 9.2l-9.2 9.2l-9.2 -9.2zM156.5 1914.6l9.2 9.2l-9.2 9.2l-9.2 -9.2zM157.7 1913.4l9.2 9.2l-9.2 9.2l-9.2 -9.2zM158.9 1912.2l9.2 9.2l-9.2 9.2l-9.2 -9.2zM160.1 1911l9.2 9.2l-9.2 9.2l-9.2 -9.2zM161.3 1909.8l9.2 9.2l-9.2 9.2l-9.2 -9.2zM162.1 1867.4l9.2 9.2l-9.2 9.2l-9.2 -9.2zM162.8 1868.9l9.2 9.2l-9.2 9.2l-9.2 -9.2zM163.5 1870.5l9.2 9.2l-9.2 9.2l-9.2 -9.2zM164.2 1872l9.2 9.2l-9.2 9.2l-9.2 -9.2zM164.9 1873.5l9.2 9.2l-9.2 9.2l-9.2 -9.2zM165.6 1875.1l9.2 9.2l-9.2 9.2l-9.2 -9.2zM166.3 1876.6l9.2 9.2l-9.2 9.2l-9.2 -9.2zM167.1 1878.1l9.2 9.2l-9.2 9.2l-9.2 -9.2zM167.8 1879.7l9.2 9.2l-9.2 9.2l-9.2 -9.2zM168.5 1881.2l9.2 9.2l-9.2 9.2l-9.2 -9.2zM169.2 1882.7l9.2 9.2l-9.2 9.2l-9.2 -9.2zM169.9 1884.3l9.2 9.2l-9.2 9.2l-9.2 -9.2zM170.6 1885.8l9.2 9.2l-9.2 9.2l-9.2 -9.2zM171.3 1887.3l9.2 9.2l-9.2 9.2l-9.2 -9.2zM172 1888.9l9.2 9.2l-9.2 9.2l-9.2 -9.2zM172.7 1890.4l9.2 9.2l-9.2 9.2l-9.2 -9.2zM173.4 1891.9l9.2 9.2l-9.2 9.2l-9.2 -9.2zM174.1 1893.5l9.2 9.2l-9.2 9.2l-9.2 -9.2zM174.8 1895l9.2 9.2l-9.2 9.2l-9.2 -9.2zM175.5 1896.5l9.2 9.2l-9.2 9.2l-9.2 -9.2zM176.3 1898.1l9.2 9.2l-9.2 9.2l-9.2 -9.2zM177 1899.6l9.2 9.2l-9.2 9.2l-9.2 -9.2zM177.7 1901.1l9.2 9.2l-9.2 9.2l-9.2 -9.2zM178.4 1902.7l9.2 9.2l-9.2 9.2l-9.2 -9.2zM179.1 1904.2l9.2 9.2l-9.2 9.2l-9.2 -9.2zM179.8 1905.7l9.2 9.2l-9.2 9.2l-9.2 -9.2zM180.5 1907.3l9.2 9.2l-9.2 9.2l-9.2 -9.2zM181.2 1908.8l9.2 9.2l-9.2 9.2l-9.2 -9.2zM181.9 1910.3l9.2 9.2l-9.2 9.2l-9.2 -9.2zM182.6 1911.9l9.2 9.2l-9.2 9.2l-9.2 -9.2zM183.3 1913.4l9.2 9.2l-9.2 9.2l-9.2 -9.2zM184 1914.9l9.2 9.2l-9.2 9.2l-9.2 -9.2zM184.7 1916.5l9.2 9.2l-9.2 9.2l-9.2 -9.2zM185.4 1918l9.2 9.2l-9.2 9.2l-9.2 -9.2zM186.2 1919.5l9.2 9.2l-9.2 9.2l-9.2 -9.2zM186.9 1921.1l9.2 9.2l-9.2 9.2l-9.2 -9.2zM187.6 1922.6l9.2 9.2l-9.2 9.2l-9.2 -9.2zM188.3 1924.1l9.2 9.2l-9.2 9.2l-9.2 -9.2zM189 1925.7l9.2 9.2l-9.2 9.2l-9.2 -9.2zM189.7 1927.2l9.2 9.2l-9.2 9.2l-9.2 -9.2zM190.4 1928.7l9.2 9.2l-9.2 9.2l-9.2 -9.2zM191.1 1930.3l9.2 9.2l-9.2 9.2l-9.2 -9.2zM191.8 1931.8l9.2 9.2l-9.2 9.2l-9.2 -9.2zM192.5 1933.3l9.2 9.2l-9.2 9.2l-9.2 -9.2zM193.2 1934.9l9.2 9.2l-9.2 9.2l-9.2 -9.2zM193.9 1936.4l9.2 9.2l-9.2 9.2l-9.2 -9.2zM194.6 1937.9l9.2 9.2l-9.2 9.2l-9.2 -9.2zM195.4 1939.5l9.2 9.2l-9.2 9.2l-9.2 -9.2zM196.1 1941l9.2 9.2l-9.2 9.2l-9.2 -9.2zM196.8 1942.5l9.2 9.2l-9.2 9.2l-9.2 -9.2zM197.5 1944.1l9.2 9.2l-9.2 9.2l-9.2 -9.2zM198.2 1945.6l9.2 9.2l-9.2 9.2l-9.2 -9.2zM198.9 1947.1l9.2 9.2l-9.2 9.2l-9.2 -9.2zM199.6 1948.7l9.2 9.2l-9.2 9.2l-9.2 -9.2zM200.3 1950.2l9.2 9.2l-9.2 9.2l-9.2 -9.2zM201 1951.7l9.2 9.2l-9.2 9.2l-9.2 -9.2zM201.7 1953.3l9.2 9.2l-9.2 9.2l-9.2 -9.2zM202.4 1954.8l9.2 9.2l-9.2 9.2l-9.2 -9.2zM203.1 1956.3l9.2 9.2l-9.2 9.2l-9.2 -9.2zM203.8 1957.9l9.2 9.2l-9.2 9.2l-9.2 -9.2zM204.6 1959.4l9.2 9.2l-9.2 9.2l-9.2 -9.2zM205.3 1960.9l9.2 9.2l-9.2 9.2l-9.2 -9.2zM206 1962.5l9.2 9.2l-9.2 9.2l-9.2 -9.2zM206.7 1964l9.2 9.2l-9.2 9.2l-9.2 -9.2zM207.4 1965.5l9.2 9.2l-9.2 9.2l-9.2 -9.2zM208.1 1967.1l9.2 9.2l-9.2 9.2l-9.2 -9.2zM208.8 1968.6l9.2 9.2l-9.2 9.2l-9.2 -9.2zM208.8 1968.6l9.2 9.2l-9.2 9.2l-9.2 -9.2zM209.5 1967.1l9.2 9.2l-9.2 9.2l-9.2 -9.2zM210.2 1965.5l9.2 9.2l-9.2 9.2l-9.2 -9.2zM210.9 1964l9.2 9.2l-9.2 9.2l-9.2 -9.2zM211.6 1962.5l9.2 9.2l-9.2 9.2l-9.2 -9.2zM212.3 1960.9l9.2 9.2l-9.2 9.2l-9.2 -9.2zM213 1959.4l9.2 9.2l-9.2 9.2l-9.2 -9.2zM213.7 1957.8l9.2 9.2l-9.2 9.2l-9.2 -9.2zM214.4 1956.3l9.2 9.2l-9.2 9.2l-9.2 -9.2zM215.1 1954.8l9.2 9.2l-9.2 9.2l-9.2 -9.2zM215.8 1953.2l9.2 9.2l-9.2 9.2l-9.2 -9.2zM216.5 1951.7l9.2 9.2l-9.2 9.2l-9.2 -9.2zM217.2 1950.2l9.2 9.2l-9.2 9.2l-9.2 -9.2zM217.9 1948.6l9.2 9.2l-9.2 9.2l-9.2 -9.2zM218.7 1947.1l9.2 9.2l-9.2 9.2l-9.2 -9.2zM219.4 1945.5l9.2 9.2l-9.2 9.2l-9.2 -9.2zM220.1 1944l9.2 9.2l-9.2 9.2l-9.2 -9.2zM220.8 1942.5l9.2 9.2l-9.2 9.2l-9.2 -9.2zM221.5 1940.9l9.2 9.2l-9.2 9.2l-9.2 -9.2zM222.2 1939.4l9.2 9.2l-9.2 9.2l-9.2 -9.2zM222.9 1937.9l9.2 9.2l-9.2 9.2l-9.2 -9.2zM223.6 1936.3l9.2 9.2l-9.2 9.2l-9.2 -9.2zM224.3 1934.8l9.2 9.2l-9.2 9.2l-9.2 -9.2zM225 1933.2l9.2 9.2l-9.2 9.2l-9.2 -9.2zM225.7 1931.7l9.2 9.2l-9.2 9.2l-9.2 -9.2zM226.4 1930.2l9.2 9.2l-9.2 9.2l-9.2 -9.2zM227.1 1928.6l9.2 9.2l-9.2 9.2l-9.2 -9.2zM227.8 1927.1l9.2 9.2l-9.2 9.2l-9.2 -9.2zM227.5 1899.8l9.2 9.2l-9.2 9.2l-9.2 -9.2zM229.2 1900.1l9.2 9.2l-9.2 9.2l-9.2 -9.2zM230.8 1900.3l9.2 9.2l-9.2 9.2l-9.2 -9.2zM232.5 1900.6l9.2 9.2l-9.2 9.2l-9.2 -9.2zM234.1 1900.8l9.2 9.2l-9.2 9.2l-9.2 -9.2zM235.8 1901.1l9.2 9.2l-9.2 9.2l-9.2 -9.2zM237.5 1901.4l9.2 9.2l-9.2 9.2l-9.2 -9.2zM239.1 1901.6l9.2 9.2l-9.2 9.2l-9.2 -9.2zM240.8 1901.9l9.2 9.2l-9.2 9.2l-9.2 -9.2zM242.4 1902.1l9.2 9.2l-9.2 9.2l-9.2 -9.2zM244.1 1902.4l9.2 9.2l-9.2 9.2l-9.2 -9.2zM245.8 1902.7l9.2 9.2l-9.2 9.2l-9.2 -9.2zM247.4 1902.9l9.2 9.2l-9.2 9.2l-9.2 -9.2zM249.1 1903.2l9.2 9.2l-9.2 9.2l-9.2 -9.2zM250.7 1903.4l9.2 9.2l-9.2 9.2l-9.2 -9.2zM252.4 1903.7l9.2 9.2l-9.2 9.2l-9.2 -9.2zM252.4 1903.7l9.2 9.2l-9.2 9.2l-9.2 -9.2zM252.4 1905.4l9.2 9.2l-9.2 9.2l-9.2 -9.2zM252.4 1907.1l9.2 9.2l-9.2 9.2l-9.2 -9.2zM252.4 1908.8l9.2 9.2l-9.2 9.2l-9.2 -9.2zM252.4 1910.5l9.2 9.2l-9.2 9.2l-9.2 -9.2zM252.4 1912.2l9.2 9.2l-9.2 9.2l-9.2 -9.2zM252.4 1913.9l9.2 9.2l-9.2 9.2l-9.2 -9.2zM252.4 1915.6l9.2 9.2l-9.2 9.2l-9.2 -9.2zM252.4 1917.3l9.2 9.2l-9.2 9.2l-9.2 -9.2zM252.4 1919l9.2 9.2l-9.2 9.2l-9.2 -9.2zM252.4 1920.7l9.2 9.2l-9.2 9.2l-9.2 -9.2zM252.4 1922.4l9.2 9.2l-9.2 9.2l-9.2 -9.2zM252.4 1924.1l9.2 9.2l-9.2 9.2l-9.2 -9.2zM252.4 1925.8l9.2 9.2l-9.2 9.2l-9.2 -9.2zM252.4 1927.5l9.2 9.2l-9.2 9.2l-9.2 -9.2zM252.4 1929.2l9.2 9.2l-9.2 9.2l-9.2 -9.2zM252.4 1931l9.2 9.2l-9.2 9.2l-9.2 -9.2zM252.4 1932.7l9.2 9.2l-9.2 9.2l-9.2 -9.2zM252.4 1934.4l9.2 9.2l-9.2 9.2l-9.2 -9.2zM252.4 1936.1l9.2 9.2l-9.2 9.2l-9.2 -9.2zM252.4 1937.8l9.2 9.2l-9.2 9.2l-9.2 -9.2zM252.4 1939.5l9.2 9.2l-9.2 9.2l-9.2 -9.2zM252.4 1941.2l9.2 9.2l-9.2 9.2l-9.2 -9.2zM252.4 1942.9l9.2 9.2l-9.2 9.2l-9.2 -9.2zM252.4 1944.6l9.2 9.2l-9.2 9.2l-9.2 -9.2zM252.4 1946.3l9.2 9.2l-9.2 9.2l-9.2 -9.2zM252.4 1948l9.2 9.2l-9.2 9.2l-9.2 -9.2zM252.4 1949.7l9.2 9.2l-9.2 9.2l-9.2 -9.2zM252.4 1951.4l9.2 9.2l-9.2 9.2l-9.2 -9.2zM252.4 1953.1l9.2 9.2l-9.2 9.2l-9.2 -9.2zM252.4 1954.8l9.2 9.2l-9.2 9.2l-9.2 -9.2zM252.4 1954.8l9.2 9.2l-9.2 9.2l-9.2 -9.2zM252.8 1953.1l9.2 9.2l-9.2 9.2l-9.2 -9.2zM253.1 1951.5l9.2 9.2l-9.2 9.2l-9.2 -9.2zM253.5 1949.8l9.2 9.2l-9.2 9.2l-9.2 -9.2zM253.8 1948.1l9.2 9.2l-9.2 9.2l-9.2 -9.2zM254.2 1946.5l9.2 9.2l-9.2 9.2l-9.2 -9.2zM254.5 1944.8l9.2 9.2l-9.2 9.2l-9.2 -9.2zM254.9 1943.1l9.2 9.2l-9.2 9.2l-9.2 -9.2zM255.2 1941.5l9.2 9.2l-9.2 9.2l-9.2 -9.2zM255.6 1939.8l9.2 9.2l-9.2 9.2l-9.2 -9.2zM255.9 1938.2l9.2 9.2l-9.2 9.2l-9.2 -9.2zM256.3 1936.5l9.2 9.2l-9.2 9.2l-9.2 -9.2zM256.6 1934.8l9.2 9.2l-9.2 9.2l-9.2 -9.2zM257 1933.2l9.2 9.2l-9.2 9.2l-9.2 -9.2zM257.3 1931.5l9.2 9.2l-9.2 9.2l-9.2 -9.2zM257.7 1929.8l9.2 9.2l-9.2 9.2l-9.2 -9.2zM258 1928.2l9.2 9.2l-9.2 9.2l-9.2 -9.2zM258.4 1926.5l9.2 9.2l-9.2 9.2l-9.2 -9.2zM258.8 1924.8l9.2 9.2l-9.2 9.2l-9.2 -9.2zM259.1 1923.2l9.2 9.2l-9.2 9.2l-9.2 -9.2zM259.5 1921.5l9.2 9.2l-9.2 9.2l-9.2 -9.2zM259.8 1919.8l9.2 9.2l-9.2 9.2l-9.2 -9.2zM260.2 1918.2l9.2 9.2l-9.2 9.2l-9.2 -9.2zM260.5 1916.5l9.2 9.2l-9.2 9.2l-9.2 -9.2zM260.9 1914.9l9.2 9.2l-9.2 9.2l-9.2 -9.2zM261.2 1913.2l9.2 9.2l-9.2 9.2l-9.2 -9.2zM261.6 1911.5l9.2 9.2l-9.2 9.2l-9.2 -9.2zM261.9 1909.9l9.2 9.2l-9.2 9.2l-9.2 -9.2zM262.3 1908.2l9.2 9.2l-9.2 9.2l-9.2 -9.2zM262.6 1906.5l9.2 9.2l-9.2 9.2l-9.2 -9.2zM263 1904.9l9.2 9.2l-9.2 9.2l-9.2 -9.2zM263.3 1903.2l9.2 9.2l-9.2 9.2l-9.2 -9.2zM263.7 1901.5l9.2 9.2l-9.2 9.2l-9.2 -9.2zM264 1899.9l9.2 9.2l-9.2 9.2l-9.2 -9.2zM264.4 1898.2l9.2 9.2l-9.2 9.2l-9.2 -9.2zM264.8 1896.5l9.2 9.2l-9.2 9.2l-9.2 -9.2zM265.1 1894.9l9.2 9.2l-9.2 9.2l-9.2 -9.2zM265.5 1893.2l9.2 9.2l-9.2 9.2l-9.2 -9.2zM265.8 1891.6l9.2 9.2l-9.2 9.2l-9.2 -9.2zM266.2 1889.9l9.2 9.2l-9.2 9.2l-9.2 -9.2zM266.5 1888.2l9.2 9.2l-9.2 9.2l-9.2 -9.2zM266.9 1886.6l9.2 9.2l-9.2 9.2l-9.2 -9.2zM267.2 1884.9l9.2 9.2l-9.2 9.2l-9.2 -9.2zM267.6 1883.2l9.2 9.2l-9.2 9.2l-9.2 -9.2zM267.9 1881.6l9.2 9.2l-9.2 9.2l-9.2 -9.2zM268.3 1879.9l9.2 9.2l-9.2 9.2l-9.2 -9.2zM268.6 1878.2l9.2 9.2l-9.2 9.2l-9.2 -9.2zM269 1876.6l9.2 9.2l-9.2 9.2l-9.2 -9.2zM269.3 1874.9l9.2 9.2l-9.2 9.2l-9.2 -9.2zM269.7 1873.2l9.2 9.2l-9.2 9.2l-9.2 -9.2zM270 1871.6l9.2 9.2l-9.2 9.2l-9.2 -9.2zM270.4 1869.9l9.2 9.2l-9.2 9.2l-9.2 -9.2zM270.7 1868.3l9.2 9.2l-9.2 9.2l-9.2 -9.2zM271.1 1866.6l9.2 9.2l-9.2 9.2l-9.2 -9.2zM271.5 1864.9l9.2 9.2l-9.2 9.2l-9.2 -9.2zM271.8 1863.3l9.2 9.2l-9.2 9.2l-9.2 -9.2zM272.2 1861.6l9.2 9.2l-9.2 9.2l-9.2 -9.2zM272.5 1859.9l9.2 9.2l-9.2 9.2l-9.2 -9.2zM272.9 1858.3l9.2 9.2l-9.2 9.2l-9.2 -9.2zM273.2 1856.6l9.2 9.2l-9.2 9.2l-9.2 -9.2zM273.6 1854.9l9.2 9.2l-9.2 9.2l-9.2 -9.2zM273.9 1853.3l9.2 9.2l-9.2 9.2l-9.2 -9.2zM274.3 1851.6l9.2 9.2l-9.2 9.2l-9.2 -9.2zM274.6 1850l9.2 9.2l-9.2 9.2l-9.2 -9.2zM275 1848.3l9.2 9.2l-9.2 9.2l-9.2 -9.2zM275.3 1846.6l9.2 9.2l-9.2 9.2l-9.2 -9.2zM275.7 1845l9.2 9.2l-9.2 9.2l-9.2 -9.2zM276 1843.3l9.2 9.2l-9.2 9.2l-9.2 -9.2zM276.4 1841.6l9.2 9.2l-9.2 9.2l-9.2 -9.2zM276.7 1840l9.2 9.2l-9.2 9.2l-9.2 -9.2zM277.1 1838.3l9.2 9.2l-9.2 9.2l-9.2 -9.2zM278 1886.4l9.2 9.2l-9.2 9.2l-9.2 -9.2zM278.3 1888.1l9.2 9.2l-9.2 9.2l-9.2 -9.2zM278.6 1889.8l9.2 9.2l-9.2 9.2l-9.2 -9.2zM279 1891.4l9.2 9.2l-9.2 9.2l-9.2 -9.2zM279.3 1893.1l9.2 9.2l-9.2 9.2l-9.2 -9.2zM279.6 1894.8l9.2 9.2l-9.2 9.2l-9.2 -9.2zM279.9 1896.5l9.2 9.2l-9.2 9.2l-9.2 -9.2zM280.3 1898.2l9.2 9.2l-9.2 9.2l-9.2 -9.2zM280.6 1899.8l9.2 9.2l-9.2 9.2l-9.2 -9.2zM280.9 1901.5l9.2 9.2l-9.2 9.2l-9.2 -9.2zM281.2 1903.2l9.2 9.2l-9.2 9.2l-9.2 -9.2zM281.6 1904.9l9.2 9.2l-9.2 9.2l-9.2 -9.2zM281.9 1906.5l9.2 9.2l-9.2 9.2l-9.2 -9.2zM282.2 1908.2l9.2 9.2l-9.2 9.2l-9.2 -9.2zM282.5 1909.9l9.2 9.2l-9.2 9.2l-9.2 -9.2zM282.9 1911.6l9.2 9.2l-9.2 9.2l-9.2 -9.2zM283.2 1913.3l9.2 9.2l-9.2 9.2l-9.2 -9.2zM283.5 1914.9l9.2 9.2l-9.2 9.2l-9.2 -9.2zM283.8 1916.6l9.2 9.2l-9.2 9.2l-9.2 -9.2zM284.1 1918.3l9.2 9.2l-9.2 9.2l-9.2 -9.2zM284.5 1920l9.2 9.2l-9.2 9.2l-9.2 -9.2zM284.8 1921.7l9.2 9.2l-9.2 9.2l-9.2 -9.2zM285.1 1923.3l9.2 9.2l-9.2 9.2l-9.2 -9.2zM285.4 1925l9.2 9.2l-9.2 9.2l-9.2 -9.2zM285.8 1926.7l9.2 9.2l-9.2 9.2l-9.2 -9.2zM286.1 1928.4l9.2 9.2l-9.2 9.2l-9.2 -9.2zM286.4 1930l9.2 9.2l-9.2 9.2l-9.2 -9.2zM286.7 1931.7l9.2 9.2l-9.2 9.2l-9.2 -9.2zM287.1 1933.4l9.2 9.2l-9.2 9.2l-9.2 -9.2zM287.4 1935.1l9.2 9.2l-9.2 9.2l-9.2 -9.2zM287.7 1936.8l9.2 9.2l-9.2 9.2l-9.2 -9.2zM288 1938.4l9.2 9.2l-9.2 9.2l-9.2 -9.2zM288.4 1940.1l9.2 9.2l-9.2 9.2l-9.2 -9.2zM288.7 1941.8l9.2 9.2l-9.2 9.2l-9.2 -9.2zM289 1943.5l9.2 9.2l-9.2 9.2l-9.2 -9.2zM289.3 1945.2l9.2 9.2l-9.2 9.2l-9.2 -9.2zM289.6 1946.8l9.2 9.2l-9.2 9.2l-9.2 -9.2zM290 1948.5l9.2 9.2l-9.2 9.2l-9.2 -9.2zM290.3 1950.2l9.2 9.2l-9.2 9.2l-9.2 -9.2zM290.6 1951.9l9.2 9.2l-9.2 9.2l-9.2 -9.2zM290.9 1953.6l9.2 9.2l-9.2 9.2l-9.2 -9.2zM291.3 1955.2l9.2 9.2l-9.2 9.2l-9.2 -9.2zM291.6 1956.9l9.2 9.2l-9.2 9.2l-9.2 -9.2zM291.9 1958.6l9.2 9.2l-9.2 9.2l-9.2 -9.2zM292.2 1960.3l9.2 9.2l-9.2 9.2l-9.2 -9.2zM292.6 1961.9l9.2 9.2l-9.2 9.2l-9.2 -9.2zM292.9 1963.6l9.2 9.2l-9.2 9.2l-9.2 -9.2zM293.2 1965.3l9.2 9.2l-9.2 9.2l-9.2 -9.2zM293.5 1967l9.2 9.2l-9.2 9.2l-9.2 -9.2zM293.9 1968.7l9.2 9.2l-9.2 9.2l-9.2 -9.2zM294.2 1970.3l9.2 9.2l-9.2 9.2l-9.2 -9.2zM294.5 1972l9.2 9.2l-9.2 9.2l-9.2 -9.2zM294.8 1973.7l9.2 9.2l-9.2 9.2l-9.2 -9.2zM295.1 1975.4l9.2 9.2l-9.2 9.2l-9.2 -9.2zM295.5 1977.1l9.2 9.2l-9.2 9.2l-9.2 -9.2zM295.8 1978.7l9.2 9.2l-9.2 9.2l-9.2 -9.2zM296.1 1980.4l9.2 9.2l-9.2 9.2l-9.2 -9.2zM296.4 1982.1l9.2 9.2l-9.2 9.2l-9.2 -9.2zM296.8 1983.8l9.2 9.2l-9.2 9.2l-9.2 -9.2zM297.1 1985.5l9.2 9.2l-9.2 9.2l-9.2 -9.2zM297.4 1987.1l9.2 9.2l-9.2 9.2l-9.2 -9.2zM297.7 1988.8l9.2 9.2l-9.2 9.2l-9.2 -9.2zM298.1 1990.5l9.2 9.2l-9.2 9.2l-9.2 -9.2zM298.4 1992.2l9.2 9.2l-9.2 9.2l-9.2 -9.2zM298.7 1993.8l9.2 9.2l-9.2 9.2l-9.2 -9.2zM299 1995.5l9.2 9.2l-9.2 9.2l-9.2 -9.2zM299.4 1997.2l9.2 9.2l-9.2 9.2l-9.2 -9.2zM299.7 1998.9l9.2 9.2l-9.2 9.2l-9.2 -9.2zM300 2000.6l9.2 9.2l-9.2 9.2l-9.2 -9.2zM300.3 2002.2l9.2 9.2l-9.2 9.2l-9.2 -9.2zM300.6 2003.9l9.2 9.2l-9.2 9.2l-9.2 -9.2zM301 2005.6l9.2 9.2l-9.2 9.2l-9.2 -9.2zM301.3 2007.3l9.2 9.2l-9.2 9.2l-9.2 -9.2zM301.6 2009l9.2 9.2l-9.2 9.2l-9.2 -9.2zM301.9 2010.6l9.2 9.2l-9.2 9.2l-9.2 -9.2zM302.3 2012.3l9.2 9.2l-9.2 9.2l-9.2 -9.2zM302.6 2014l9.2 9.2l-9.2 9.2l-9.2 -9.2zM302.9 2015.7l9.2 9.2l-9.2 9.2l-9.2 -9.2zM303.2 2017.3l9.2 9.2l-9.2 9.2l-9.2 -9.2zM303.6 2019l9.2 9.2l-9.2 9.2l-9.2 -9.2zM303.9 2020.7l9.2 9.2l-9.2 9.2l-9.2 -9.2zM304.2 2022.4l9.2 9.2l-9.2 9.2l-9.2 -9.2zM304.5 2024.1l9.2 9.2l-9.2 9.2l-9.2 -9.2zM304.9 2025.7l9.2 9.2l-9.2 9.2l-9.2 -9.2zM305.2 2027.4l9.2 9.2l-9.2 9.2l-9.2 -9.2zM305.5 2029.1l9.2 9.2l-9.2 9.2l-9.2 -9.2zM305.7 1920.2l9.2 9.2l-9.2 9.2l-9.2 -9.2zM306.3 1918.6l9.2 9.2l-9.2 9.2l-9.2 -9.2zM306.9 1917l9.2 9.2l-9.2 9.2l-9.2 -9.2zM307.4 1915.5l9.2 9.2l-9.2 9.2l-9.2 -9.2zM308 1913.9l9.2 9.2l-9.2 9.2l-9.2 -9.2zM308.6 1912.3l9.2 9.2l-9.2 9.2l-9.2 -9.2zM309.2 1910.7l9.2 9.2l-9.2 9.2l-9.2 -9.2zM309.8 1909.1l9.2 9.2l-9.2 9.2l-9.2 -9.2zM310.4 1907.6l9.2 9.2l-9.2 9.2l-9.2 -9.2zM310.9 1906l9.2 9.2l-9.2 9.2l-9.2 -9.2zM311.5 1904.4l9.2 9.2l-9.2 9.2l-9.2 -9.2zM312.1 1902.8l9.2 9.2l-9.2 9.2l-9.2 -9.2zM312.7 1901.2l9.2 9.2l-9.2 9.2l-9.2 -9.2zM313.3 1899.7l9.2 9.2l-9.2 9.2l-9.2 -9.2zM313.9 1898.1l9.2 9.2l-9.2 9.2l-9.2 -9.2zM314.4 1896.5l9.2 9.2l-9.2 9.2l-9.2 -9.2zM315 1894.9l9.2 9.2l-9.2 9.2l-9.2 -9.2zM315.6 1893.3l9.2 9.2l-9.2 9.2l-9.2 -9.2zM316.2 1891.8l9.2 9.2l-9.2 9.2l-9.2 -9.2zM316.8 1890.2l9.2 9.2l-9.2 9.2l-9.2 -9.2zM317.4 1888.6l9.2 9.2l-9.2 9.2l-9.2 -9.2zM317.9 1887l9.2 9.2l-9.2 9.2l-9.2 -9.2zM318.5 1885.4l9.2 9.2l-9.2 9.2l-9.2 -9.2zM319.1 1883.9l9.2 9.2l-9.2 9.2l-9.2 -9.2zM319.7 1882.3l9.2 9.2l-9.2 9.2l-9.2 -9.2zM320.3 1880.7l9.2 9.2l-9.2 9.2l-9.2 -9.2zM320.8 1879.1l9.2 9.2l-9.2 9.2l-9.2 -9.2zM321.4 1877.5l9.2 9.2l-9.2 9.2l-9.2 -9.2zM322 1876l9.2 9.2l-9.2 9.2l-9.2 -9.2zM322.6 1874.4l9.2 9.2l-9.2 9.2l-9.2 -9.2zM323.2 1872.8l9.2 9.2l-9.2 9.2l-9.2 -9.2zM323.8 1871.2l9.2 9.2l-9.2 9.2l-9.2 -9.2zM324.3 1869.6l9.2 9.2l-9.2 9.2l-9.2 -9.2zM324.9 1868.1l9.2 9.2l-9.2 9.2l-9.2 -9.2zM325.5 1866.5l9.2 9.2l-9.2 9.2l-9.2 -9.2zM326.1 1864.9l9.2 9.2l-9.2 9.2l-9.2 -9.2zM326.7 1863.3l9.2 9.2l-9.2 9.2l-9.2 -9.2zM327.3 1861.7l9.2 9.2l-9.2 9.2l-9.2 -9.2zM327.8 1860.2l9.2 9.2l-9.2 9.2l-9.2 -9.2zM328.4 1858.6l9.2 9.2l-9.2 9.2l-9.2 -9.2zM329 1857l9.2 9.2l-9.2 9.2l-9.2 -9.2zM329 1857l9.2 9.2l-9.2 9.2l-9.2 -9.2zM330.6 1856.5l9.2 9.2l-9.2 9.2l-9.2 -9.2zM332.3 1856.1l9.2 9.2l-9.2 9.2l-9.2 -9.2zM333.9 1855.6l9.2 9.2l-9.2 9.2l-9.2 -9.2zM335.5 1855.2l9.2 9.2l-9.2 9.2l-9.2 -9.2zM337.2 1854.7l9.2 9.2l-9.2 9.2l-9.2 -9.2zM338.8 1854.3l9.2 9.2l-9.2 9.2l-9.2 -9.2zM340.5 1853.8l9.2 9.2l-9.2 9.2l-9.2 -9.2zM342.1 1853.4l9.2 9.2l-9.2 9.2l-9.2 -9.2zM343.7 1852.9l9.2 9.2l-9.2 9.2l-9.2 -9.2zM345.4 1852.5l9.2 9.2l-9.2 9.2l-9.2 -9.2zM347 1852l9.2 9.2l-9.2 9.2l-9.2 -9.2zM348.6 1851.6l9.2 9.2l-9.2 9.2l-9.2 -9.2zM350.3 1851.1l9.2 9.2l-9.2 9.2l-9.2 -9.2zM351.9 1850.7l9.2 9.2l-9.2 9.2l-9.2 -9.2zM353.6 1850.2l9.2 9.2l-9.2 9.2l-9.2 -9.2zM355.2 1849.8l9.2 9.2l-9.2 9.2l-9.2 -9.2zM356.8 1849.3l9.2 9.2l-9.2 9.2l-9.2 -9.2zM358.5 1848.9l9.2 9.2l-9.2 9.2l-9.2 -9.2zM360.1 1848.4l9.2 9.2l-9.2 9.2l-9.2 -9.2zM360.5 1870.8l9.2 9.2l-9.2 9.2l-9.2 -9.2zM360.9 1869.1l9.2 9.2l-9.2 9.2l-9.2 -9.2zM361.2 1867.5l9.2 9.2l-9.2 9.2l-9.2 -9.2zM361.6 1865.8l9.2 9.2l-9.2 9.2l-9.2 -9.2zM362 1864.2l9.2 9.2l-9.2 9.2l-9.2 -9.2zM362.4 1862.5l9.2 9.2l-9.2 9.2l-9.2 -9.2zM362.7 1860.9l9.2 9.2l-9.2 9.2l-9.2 -9.2zM363.1 1859.2l9.2 9.2l-9.2 9.2l-9.2 -9.2zM363.5 1857.6l9.2 9.2l-9.2 9.2l-9.2 -9.2zM363.9 1855.9l9.2 9.2l-9.2 9.2l-9.2 -9.2zM364.2 1854.3l9.2 9.2l-9.2 9.2l-9.2 -9.2zM364.6 1852.6l9.2 9.2l-9.2 9.2l-9.2 -9.2zM365 1850.9l9.2 9.2l-9.2 9.2l-9.2 -9.2zM365.3 1849.3l9.2 9.2l-9.2 9.2l-9.2 -9.2zM365.7 1847.6l9.2 9.2l-9.2 9.2l-9.2 -9.2zM366.1 1846l9.2 9.2l-9.2 9.2l-9.2 -9.2zM366.5 1844.3l9.2 9.2l-9.2 9.2l-9.2 -9.2zM366.8 1842.7l9.2 9.2l-9.2 9.2l-9.2 -9.2zM367.2 1841l9.2 9.2l-9.2 9.2l-9.2 -9.2zM367.6 1839.4l9.2 9.2l-9.2 9.2l-9.2 -9.2zM368 1837.7l9.2 9.2l-9.2 9.2l-9.2 -9.2zM368.3 1836.1l9.2 9.2l-9.2 9.2l-9.2 -9.2zM368.7 1834.4l9.2 9.2l-9.2 9.2l-9.2 -9.2zM369.1 1832.8l9.2 9.2l-9.2 9.2l-9.2 -9.2zM369.4 1831.1l9.2 9.2l-9.2 9.2l-9.2 -9.2zM369.8 1829.4l9.2 9.2l-9.2 9.2l-9.2 -9.2zM370.2 1827.8l9.2 9.2l-9.2 9.2l-9.2 -9.2zM370.6 1826.1l9.2 9.2l-9.2 9.2l-9.2 -9.2zM370.9 1824.5l9.2 9.2l-9.2 9.2l-9.2 -9.2zM371.3 1822.8l9.2 9.2l-9.2 9.2l-9.2 -9.2zM371.7 1821.2l9.2 9.2l-9.2 9.2l-9.2 -9.2zM372.1 1819.5l9.2 9.2l-9.2 9.2l-9.2 -9.2zM372.4 1817.9l9.2 9.2l-9.2 9.2l-9.2 -9.2zM372.8 1816.2l9.2 9.2l-9.2 9.2l-9.2 -9.2zM373.2 1814.6l9.2 9.2l-9.2 9.2l-9.2 -9.2zM373.6 1812.9l9.2 9.2l-9.2 9.2l-9.2 -9.2zM373.9 1811.2l9.2 9.2l-9.2 9.2l-9.2 -9.2zM374.3 1809.6l9.2 9.2l-9.2 9.2l-9.2 -9.2zM374.7 1807.9l9.2 9.2l-9.2 9.2l-9.2 -9.2zM375 1806.3l9.2 9.2l-9.2 9.2l-9.2 -9.2zM375.4 1804.6l9.2 9.2l-9.2 9.2l-9.2 -9.2zM375.8 1803l9.2 9.2l-9.2 9.2l-9.2 -9.2zM376.2 1801.3l9.2 9.2l-9.2 9.2l-9.2 -9.2zM376.5 1799.7l9.2 9.2l-9.2 9.2l-9.2 -9.2zM376.9 1798l9.2 9.2l-9.2 9.2l-9.2 -9.2zM377.3 1796.4l9.2 9.2l-9.2 9.2l-9.2 -9.2zM377.7 1794.7l9.2 9.2l-9.2 9.2l-9.2 -9.2zM378 1793.1l9.2 9.2l-9.2 9.2l-9.2 -9.2zM378.4 1791.4l9.2 9.2l-9.2 9.2l-9.2 -9.2zM378.8 1789.7l9.2 9.2l-9.2 9.2l-9.2 -9.2zM379.1 1788.1l9.2 9.2l-9.2 9.2l-9.2 -9.2zM379.5 1786.4l9.2 9.2l-9.2 9.2l-9.2 -9.2zM379.9 1784.8l9.2 9.2l-9.2 9.2l-9.2 -9.2zM380.3 1783.1l9.2 9.2l-9.2 9.2l-9.2 -9.2zM380.6 1781.5l9.2 9.2l-9.2 9.2l-9.2 -9.2zM381 1779.8l9.2 9.2l-9.2 9.2l-9.2 -9.2zM381.4 1778.2l9.2 9.2l-9.2 9.2l-9.2 -9.2zM381.8 1776.5l9.2 9.2l-9.2 9.2l-9.2 -9.2zM382.1 1774.9l9.2 9.2l-9.2 9.2l-9.2 -9.2zM382.5 1773.2l9.2 9.2l-9.2 9.2l-9.2 -9.2zM388.5 1904.8l9.2 9.2l-9.2 9.2l-9.2 -9.2zM389.7 1903.7l9.2 9.2l-9.2 9.2l-9.2 -9.2zM390.9 1902.6l9.2 9.2l-9.2 9.2l-9.2 -9.2zM392.2 1901.5l9.2 9.2l-9.2 9.2l-9.2 -9.2zM393.4 1900.4l9.2 9.2l-9.2 9.2l-9.2 -9.2zM394.6 1899.3l9.2 9.2l-9.2 9.2l-9.2 -9.2zM395.9 1898.2l9.2 9.2l-9.2 9.2l-9.2 -9.2zM397.1 1897.1l9.2 9.2l-9.2 9.2l-9.2 -9.2zM398.3 1896l9.2 9.2l-9.2 9.2l-9.2 -9.2zM399.5 1894.9l9.2 9.2l-9.2 9.2l-9.2 -9.2zM400.8 1893.8l9.2 9.2l-9.2 9.2l-9.2 -9.2zM402 1892.7l9.2 9.2l-9.2 9.2l-9.2 -9.2zM403.2 1891.6l9.2 9.2l-9.2 9.2l-9.2 -9.2zM404.3 1947.9l9.2 9.2l-9.2 9.2l-9.2 -9.2zM405.2 1949.4l9.2 9.2l-9.2 9.2l-9.2 -9.2zM406.1 1950.8l9.2 9.2l-9.2 9.2l-9.2 -9.2zM407 1952.3l9.2 9.2l-9.2 9.2l-9.2 -9.2zM407.9 1953.8l9.2 9.2l-9.2 9.2l-9.2 -9.2zM408.8 1955.2l9.2 9.2l-9.2 9.2l-9.2 -9.2zM409.6 1956.7l9.2 9.2l-9.2 9.2l-9.2 -9.2zM410.5 1958.2l9.2 9.2l-9.2 9.2l-9.2 -9.2zM411.4 1959.6l9.2 9.2l-9.2 9.2l-9.2 -9.2zM412.3 1961.1l9.2 9.2l-9.2 9.2l-9.2 -9.2zM413.2 1962.6l9.2 9.2l-9.2 9.2l-9.2 -9.2zM414.1 1964l9.2 9.2l-9.2 9.2l-9.2 -9.2zM415 1965.5l9.2 9.2l-9.2 9.2l-9.2 -9.2zM415.9 1966.9l9.2 9.2l-9.2 9.2l-9.2 -9.2zM416.8 1968.4l9.2 9.2l-9.2 9.2l-9.2 -9.2zM417.7 1969.9l9.2 9.2l-9.2 9.2l-9.2 -9.2zM418.6 1971.3l9.2 9.2l-9.2 9.2l-9.2 -9.2zM419.5 1972.8l9.2 9.2l-9.2 9.2l-9.2 -9.2zM420.3 1974.3l9.2 9.2l-9.2 9.2l-9.2 -9.2zM421.2 1975.7l9.2 9.2l-9.2 9.2l-9.2 -9.2zM422.1 1977.2l9.2 9.2l-9.2 9.2l-9.2 -9.2zM423 1978.7l9.2 9.2l-9.2 9.2l-9.2 -9.2zM423.9 1980.1l9.2 9.2l-9.2 9.2l-9.2 -9.2zM424.8 1981.6l9.2 9.2l-9.2 9.2l-9.2 -9.2zM425.7 1942.7l9.2 9.2l-9.2 9.2l-9.2 -9.2zM426.1 1941.1l9.2 9.2l-9.2 9.2l-9.2 -9.2zM426.5 1939.4l9.2 9.2l-9.2 9.2l-9.2 -9.2zM426.9 1937.8l9.2 9.2l-9.2 9.2l-9.2 -9.2zM427.3 1936.1l9.2 9.2l-9.2 9.2l-9.2 -9.2zM427.7 1934.5l9.2 9.2l-9.2 9.2l-9.2 -9.2zM428.1 1932.8l9.2 9.2l-9.2 9.2l-9.2 -9.2zM428.4 1931.2l9.2 9.2l-9.2 9.2l-9.2 -9.2zM428.8 1929.5l9.2 9.2l-9.2 9.2l-9.2 -9.2zM429.2 1927.9l9.2 9.2l-9.2 9.2l-9.2 -9.2zM429.6 1926.2l9.2 9.2l-9.2 9.2l-9.2 -9.2zM430 1924.6l9.2 9.2l-9.2 9.2l-9.2 -9.2zM430.4 1922.9l9.2 9.2l-9.2 9.2l-9.2 -9.2zM430.8 1921.3l9.2 9.2l-9.2 9.2l-9.2 -9.2zM431.2 1919.6l9.2 9.2l-9.2 9.2l-9.2 -9.2zM431.6 1918l9.2 9.2l-9.2 9.2l-9.2 -9.2zM432 1916.3l9.2 9.2l-9.2 9.2l-9.2 -9.2zM432.4 1914.7l9.2 9.2l-9.2 9.2l-9.2 -9.2zM432.8 1913l9.2 9.2l-9.2 9.2l-9.2 -9.2zM433.1 1911.4l9.2 9.2l-9.2 9.2l-9.2 -9.2zM433.5 1909.7l9.2 9.2l-9.2 9.2l-9.2 -9.2zM433.9 1908.1l9.2 9.2l-9.2 9.2l-9.2 -9.2zM434.3 1906.4l9.2 9.2l-9.2 9.2l-9.2 -9.2zM434.7 1904.8l9.2 9.2l-9.2 9.2l-9.2 -9.2zM435.1 1903.1l9.2 9.2l-9.2 9.2l-9.2 -9.2zM435.5 1901.5l9.2 9.2l-9.2 9.2l-9.2 -9.2zM435.9 1899.8l9.2 9.2l-9.2 9.2l-9.2 -9.2zM436.3 1898.2l9.2 9.2l-9.2 9.2l-9.2 -9.2zM436.7 1896.5l9.2 9.2l-9.2 9.2l-9.2 -9.2zM437.1 1894.9l9.2 9.2l-9.2 9.2l-9.2 -9.2zM437.5 1893.2l9.2 9.2l-9.2 9.2l-9.2 -9.2zM437.9 1891.6l9.2 9.2l-9.2 9.2l-9.2 -9.2zM438.2 1889.9l9.2 9.2l-9.2 9.2l-9.2 -9.2zM438.6 1888.3l9.2 9.2l-9.2 9.2l-9.2 -9.2zM439 1886.6l9.2 9.2l-9.2 9.2l-9.2 -9.2zM439.4 1885l9.2 9.2l-9.2 9.2l-9.2 -9.2zM439.8 1883.3l9.2 9.2l-9.2 9.2l-9.2 -9.2zM440.2 1881.7l9.2 9.2l-9.2 9.2l-9.2 -9.2zM440.6 1880l9.2 9.2l-9.2 9.2l-9.2 -9.2zM441 1878.4l9.2 9.2l-9.2 9.2l-9.2 -9.2zM441.4 1876.7l9.2 9.2l-9.2 9.2l-9.2 -9.2zM441.8 1875.1l9.2 9.2l-9.2 9.2l-9.2 -9.2zM442.2 1873.4l9.2 9.2l-9.2 9.2l-9.2 -9.2zM442.6 1871.8l9.2 9.2l-9.2 9.2l-9.2 -9.2zM442.9 1870.1l9.2 9.2l-9.2 9.2l-9.2 -9.2zM443.3 1868.5l9.2 9.2l-9.2 9.2l-9.2 -9.2zM443.7 1866.8l9.2 9.2l-9.2 9.2l-9.2 -9.2zM444.1 1865.2l9.2 9.2l-9.2 9.2l-9.2 -9.2zM444.5 1863.5l9.2 9.2l-9.2 9.2l-9.2 -9.2zM444.9 1861.9l9.2 9.2l-9.2 9.2l-9.2 -9.2zM445.3 1860.2l9.2 9.2l-9.2 9.2l-9.2 -9.2zM445.7 1858.6l9.2 9.2l-9.2 9.2l-9.2 -9.2zM446.1 1856.9l9.2 9.2l-9.2 9.2l-9.2 -9.2zM446.5 1855.3l9.2 9.2l-9.2 9.2l-9.2 -9.2zM446.9 1853.6l9.2 9.2l-9.2 9.2l-9.2 -9.2zM447.3 1852l9.2 9.2l-9.2 9.2l-9.2 -9.2zM447.7 1850.3l9.2 9.2l-9.2 9.2l-9.2 -9.2zM448 1848.7l9.2 9.2l-9.2 9.2l-9.2 -9.2zM448.4 1847l9.2 9.2l-9.2 9.2l-9.2 -9.2zM448.8 1845.4l9.2 9.2l-9.2 9.2l-9.2 -9.2zM449.2 1843.7l9.2 9.2l-9.2 9.2l-9.2 -9.2zM449.6 1842.1l9.2 9.2l-9.2 9.2l-9.2 -9.2zM450 1840.4l9.2 9.2l-9.2 9.2l-9.2 -9.2zM450.4 1838.8l9.2 9.2l-9.2 9.2l-9.2 -9.2zM450.8 1837.1l9.2 9.2l-9.2 9.2l-9.2 -9.2zM451.2 1835.5l9.2 9.2l-9.2 9.2l-9.2 -9.2zM451.6 1833.8l9.2 9.2l-9.2 9.2l-9.2 -9.2zM452 1832.2l9.2 9.2l-9.2 9.2l-9.2 -9.2zM452.4 1830.5l9.2 9.2l-9.2 9.2l-9.2 -9.2zM452.7 1828.9l9.2 9.2l-9.2 9.2l-9.2 -9.2zM453.1 1827.2l9.2 9.2l-9.2 9.2l-9.2 -9.2zM453.5 1825.6l9.2 9.2l-9.2 9.2l-9.2 -9.2zM453.9 1823.9l9.2 9.2l-9.2 9.2l-9.2 -9.2zM454.3 1822.3l9.2 9.2l-9.2 9.2l-9.2 -9.2zM454.7 1820.6l9.2 9.2l-9.2 9.2l-9.2 -9.2zM455.1 1819l9.2 9.2l-9.2 9.2l-9.2 -9.2zM456.8 1944.4l9.2 9.2l-9.2 9.2l-9.2 -9.2zM457.1 1942.7l9.2 9.2l-9.2 9.2l-9.2 -9.2zM457.4 1941.1l9.2 9.2l-9.2 9.2l-9.2 -9.2zM457.7 1939.4l9.2 9.2l-9.2 9.2l-9.2 -9.2zM458 1937.7l9.2 9.2l-9.2 9.2l-9.2 -9.2zM458.2 1936.1l9.2 9.2l-9.2 9.2l-9.2 -9.2zM458.5 1934.4l9.2 9.2l-9.2 9.2l-9.2 -9.2zM458.8 1932.7l9.2 9.2l-9.2 9.2l-9.2 -9.2zM459.1 1931.1l9.2 9.2l-9.2 9.2l-9.2 -9.2zM459.4 1929.4l9.2 9.2l-9.2 9.2l-9.2 -9.2zM459.7 1927.7l9.2 9.2l-9.2 9.2l-9.2 -9.2zM460 1926.1l9.2 9.2l-9.2 9.2l-9.2 -9.2zM460.3 1924.4l9.2 9.2l-9.2 9.2l-9.2 -9.2zM460.6 1922.7l9.2 9.2l-9.2 9.2l-9.2 -9.2zM460.8 1921.1l9.2 9.2l-9.2 9.2l-9.2 -9.2zM461.1 1919.4l9.2 9.2l-9.2 9.2l-9.2 -9.2zM461.4 1917.8l9.2 9.2l-9.2 9.2l-9.2 -9.2zM461.7 1916.1l9.2 9.2l-9.2 9.2l-9.2 -9.2zM462 1914.4l9.2 9.2l-9.2 9.2l-9.2 -9.2zM462.3 1912.8l9.2 9.2l-9.2 9.2l-9.2 -9.2zM462.6 1911.1l9.2 9.2l-9.2 9.2l-9.2 -9.2zM462.9 1909.4l9.2 9.2l-9.2 9.2l-9.2 -9.2zM463.2 1907.8l9.2 9.2l-9.2 9.2l-9.2 -9.2zM463.4 1906.1l9.2 9.2l-9.2 9.2l-9.2 -9.2zM463.7 1904.4l9.2 9.2l-9.2 9.2l-9.2 -9.2zM464 1902.8l9.2 9.2l-9.2 9.2l-9.2 -9.2zM464.3 1901.1l9.2 9.2l-9.2 9.2l-9.2 -9.2zM464.6 1899.4l9.2 9.2l-9.2 9.2l-9.2 -9.2zM464.9 1897.8l9.2 9.2l-9.2 9.2l-9.2 -9.2zM465.2 1896.1l9.2 9.2l-9.2 9.2l-9.2 -9.2zM465.5 1894.4l9.2 9.2l-9.2 9.2l-9.2 -9.2zM465.8 1892.8l9.2 9.2l-9.2 9.2l-9.2 -9.2zM466 1891.1l9.2 9.2l-9.2 9.2l-9.2 -9.2zM466.3 1889.4l9.2 9.2l-9.2 9.2l-9.2 -9.2zM466.6 1887.8l9.2 9.2l-9.2 9.2l-9.2 -9.2zM466.9 1886.1l9.2 9.2l-9.2 9.2l-9.2 -9.2zM467.2 1884.4l9.2 9.2l-9.2 9.2l-9.2 -9.2zM467.5 1882.8l9.2 9.2l-9.2 9.2l-9.2 -9.2zM467.8 1881.1l9.2 9.2l-9.2 9.2l-9.2 -9.2zM468.1 1879.4l9.2 9.2l-9.2 9.2l-9.2 -9.2zM468.4 1877.8l9.2 9.2l-9.2 9.2l-9.2 -9.2zM468.6 1876.1l9.2 9.2l-9.2 9.2l-9.2 -9.2zM468.9 1874.5l9.2 9.2l-9.2 9.2l-9.2 -9.2zM469.2 1872.8l9.2 9.2l-9.2 9.2l-9.2 -9.2zM469.5 1871.1l9.2 9.2l-9.2 9.2l-9.2 -9.2zM469.8 1869.5l9.2 9.2l-9.2 9.2l-9.2 -9.2zM470.1 1867.8l9.2 9.2l-9.2 9.2l-9.2 -9.2zM470.4 1866.1l9.2 9.2l-9.2 9.2l-9.2 -9.2zM470.7 1864.5l9.2 9.2l-9.2 9.2l-9.2 -9.2zM471 1862.8l9.2 9.2l-9.2 9.2l-9.2 -9.2zM471.2 1861.1l9.2 9.2l-9.2 9.2l-9.2 -9.2zM471.5 1859.5l9.2 9.2l-9.2 9.2l-9.2 -9.2zM471.8 1857.8l9.2 9.2l-9.2 9.2l-9.2 -9.2zM472.1 1856.1l9.2 9.2l-9.2 9.2l-9.2 -9.2zM472.4 1854.5l9.2 9.2l-9.2 9.2l-9.2 -9.2zM472.7 1852.8l9.2 9.2l-9.2 9.2l-9.2 -9.2zM473 1851.1l9.2 9.2l-9.2 9.2l-9.2 -9.2zM473.3 1849.5l9.2 9.2l-9.2 9.2l-9.2 -9.2zM473.6 1847.8l9.2 9.2l-9.2 9.2l-9.2 -9.2zM473.8 1846.1l9.2 9.2l-9.2 9.2l-9.2 -9.2zM474.1 1844.5l9.2 9.2l-9.2 9.2l-9.2 -9.2zM474.4 1842.8l9.2 9.2l-9.2 9.2l-9.2 -9.2zM474.7 1841.1l9.2 9.2l-9.2 9.2l-9.2 -9.2zM475 1839.5l9.2 9.2l-9.2 9.2l-9.2 -9.2zM475.3 1837.8l9.2 9.2l-9.2 9.2l-9.2 -9.2zM475.6 1836.1l9.2 9.2l-9.2 9.2l-9.2 -9.2zM475.9 1834.5l9.2 9.2l-9.2 9.2l-9.2 -9.2zM476.2 1832.8l9.2 9.2l-9.2 9.2l-9.2 -9.2zM476.4 1831.2l9.2 9.2l-9.2 9.2l-9.2 -9.2zM476.7 1829.5l9.2 9.2l-9.2 9.2l-9.2 -9.2zM477 1827.8l9.2 9.2l-9.2 9.2l-9.2 -9.2zM477.3 1826.2l9.2 9.2l-9.2 9.2l-9.2 -9.2zM477.6 1824.5l9.2 9.2l-9.2 9.2l-9.2 -9.2zM477.9 1822.8l9.2 9.2l-9.2 9.2l-9.2 -9.2zM478.2 1821.2l9.2 9.2l-9.2 9.2l-9.2 -9.2zM478.5 1819.5l9.2 9.2l-9.2 9.2l-9.2 -9.2zM478.8 1817.8l9.2 9.2l-9.2 9.2l-9.2 -9.2zM479 1816.2l9.2 9.2l-9.2 9.2l-9.2 -9.2zM479.3 1814.5l9.2 9.2l-9.2 9.2l-9.2 -9.2zM479.6 1812.8l9.2 9.2l-9.2 9.2l-9.2 -9.2zM479.9 1811.2l9.2 9.2l-9.2 9.2l-9.2 -9.2zM480.2 1809.5l9.2 9.2l-9.2 9.2l-9.2 -9.2zM481 1883l9.2 9.2l-9.2 9.2l-9.2 -9.2zM481.4 1884.7l9.2 9.2l-9.2 9.2l-9.2 -9.2zM481.7 1886.3l9.2 9.2l-9.2 9.2l-9.2 -9.2zM482.1 1888l9.2 9.2l-9.2 9.2l-9.2 -9.2zM482.5 1889.7l9.2 9.2l-9.2 9.2l-9.2 -9.2zM482.9 1891.4l9.2 9.2l-9.2 9.2l-9.2 -9.2zM483.2 1893l9.2 9.2l-9.2 9.2l-9.2 -9.2zM483.6 1894.7l9.2 9.2l-9.2 9.2l-9.2 -9.2zM484 1896.4l9.2 9.2l-9.2 9.2l-9.2 -9.2zM484.4 1898l9.2 9.2l-9.2 9.2l-9.2 -9.2zM484.7 1899.7l9.2 9.2l-9.2 9.2l-9.2 -9.2zM485.1 1901.4l9.2 9.2l-9.2 9.2l-9.2 -9.2zM485.5 1903l9.2 9.2l-9.2 9.2l-9.2 -9.2zM485.9 1904.7l9.2 9.2l-9.2 9.2l-9.2 -9.2zM486.2 1906.4l9.2 9.2l-9.2 9.2l-9.2 -9.2zM486.6 1908.1l9.2 9.2l-9.2 9.2l-9.2 -9.2zM487 1909.7l9.2 9.2l-9.2 9.2l-9.2 -9.2zM487.4 1911.4l9.2 9.2l-9.2 9.2l-9.2 -9.2zM487.7 1913.1l9.2 9.2l-9.2 9.2l-9.2 -9.2zM488.1 1914.7l9.2 9.2l-9.2 9.2l-9.2 -9.2zM488.5 1916.4l9.2 9.2l-9.2 9.2l-9.2 -9.2zM488.9 1918.1l9.2 9.2l-9.2 9.2l-9.2 -9.2zM489.2 1919.8l9.2 9.2l-9.2 9.2l-9.2 -9.2zM489.6 1921.4l9.2 9.2l-9.2 9.2l-9.2 -9.2zM490 1923.1l9.2 9.2l-9.2 9.2l-9.2 -9.2zM490.4 1924.8l9.2 9.2l-9.2 9.2l-9.2 -9.2zM490.7 1926.4l9.2 9.2l-9.2 9.2l-9.2 -9.2zM491.1 1928.1l9.2 9.2l-9.2 9.2l-9.2 -9.2zM491.5 1929.8l9.2 9.2l-9.2 9.2l-9.2 -9.2zM491.9 1931.4l9.2 9.2l-9.2 9.2l-9.2 -9.2zM492.2 1933.1l9.2 9.2l-9.2 9.2l-9.2 -9.2zM492.6 1934.8l9.2 9.2l-9.2 9.2l-9.2 -9.2zM493 1936.5l9.2 9.2l-9.2 9.2l-9.2 -9.2zM493.3 1938.1l9.2 9.2l-9.2 9.2l-9.2 -9.2zM493.7 1939.8l9.2 9.2l-9.2 9.2l-9.2 -9.2zM494.1 1941.5l9.2 9.2l-9.2 9.2l-9.2 -9.2zM494.5 1943.1l9.2 9.2l-9.2 9.2l-9.2 -9.2zM494.8 1944.8l9.2 9.2l-9.2 9.2l-9.2 -9.2zM495.2 1946.5l9.2 9.2l-9.2 9.2l-9.2 -9.2zM495.6 1948.2l9.2 9.2l-9.2 9.2l-9.2 -9.2zM496 1949.8l9.2 9.2l-9.2 9.2l-9.2 -9.2zM496.3 1951.5l9.2 9.2l-9.2 9.2l-9.2 -9.2zM496.7 1953.2l9.2 9.2l-9.2 9.2l-9.2 -9.2zM497.1 1954.8l9.2 9.2l-9.2 9.2l-9.2 -9.2zM497.5 1956.5l9.2 9.2l-9.2 9.2l-9.2 -9.2zM497.8 1958.2l9.2 9.2l-9.2 9.2l-9.2 -9.2zM498.2 1959.9l9.2 9.2l-9.2 9.2l-9.2 -9.2zM498.6 1961.5l9.2 9.2l-9.2 9.2l-9.2 -9.2zM499 1963.2l9.2 9.2l-9.2 9.2l-9.2 -9.2zM499.3 1964.9l9.2 9.2l-9.2 9.2l-9.2 -9.2zM499.7 1966.5l9.2 9.2l-9.2 9.2l-9.2 -9.2zM500.1 1968.2l9.2 9.2l-9.2 9.2l-9.2 -9.2zM500.5 1969.9l9.2 9.2l-9.2 9.2l-9.2 -9.2zM500.8 1971.5l9.2 9.2l-9.2 9.2l-9.2 -9.2zM501.2 1973.2l9.2 9.2l-9.2 9.2l-9.2 -9.2zM501.6 1974.9l9.2 9.2l-9.2 9.2l-9.2 -9.2zM502 1976.6l9.2 9.2l-9.2 9.2l-9.2 -9.2zM502.3 1978.2l9.2 9.2l-9.2 9.2l-9.2 -9.2zM502.7 1979.9l9.2 9.2l-9.2 9.2l-9.2 -9.2zM504.4 1928.8l9.2 9.2l-9.2 9.2l-9.2 -9.2zM505.5 1930.1l9.2 9.2l-9.2 9.2l-9.2 -9.2zM506.6 1931.4l9.2 9.2l-9.2 9.2l-9.2 -9.2zM507.7 1932.8l9.2 9.2l-9.2 9.2l-9.2 -9.2zM508.8 1934.1l9.2 9.2l-9.2 9.2l-9.2 -9.2zM509.9 1935.4l9.2 9.2l-9.2 9.2l-9.2 -9.2zM511.1 1936.7l9.2 9.2l-9.2 9.2l-9.2 -9.2zM512.2 1938l9.2 9.2l-9.2 9.2l-9.2 -9.2zM513.3 1939.4l9.2 9.2l-9.2 9.2l-9.2 -9.2zM514.4 1940.7l9.2 9.2l-9.2 9.2l-9.2 -9.2zM515.5 1942l9.2 9.2l-9.2 9.2l-9.2 -9.2zM516.6 1943.3l9.2 9.2l-9.2 9.2l-9.2 -9.2zM517.7 1944.6l9.2 9.2l-9.2 9.2l-9.2 -9.2zM518.8 1945.9l9.2 9.2l-9.2 9.2l-9.2 -9.2zM519.9 1947.3l9.2 9.2l-9.2 9.2l-9.2 -9.2zM521 1948.6l9.2 9.2l-9.2 9.2l-9.2 -9.2zM522.2 1949.9l9.2 9.2l-9.2 9.2l-9.2 -9.2zM523.3 1951.2l9.2 9.2l-9.2 9.2l-9.2 -9.2zM524.4 1952.5l9.2 9.2l-9.2 9.2l-9.2 -9.2zM525.5 1953.9l9.2 9.2l-9.2 9.2l-9.2 -9.2zM526.6 1955.2l9.2 9.2l-9.2 9.2l-9.2 -9.2zM527.7 1956.5l9.2 9.2l-9.2 9.2l-9.2 -9.2zM528.6 1798.2l9.2 9.2l-9.2 9.2l-9.2 -9.2zM528.9 1799.9l9.2 9.2l-9.2 9.2l-9.2 -9.2zM529.2 1801.6l9.2 9.2l-9.2 9.2l-9.2 -9.2zM529.5 1803.2l9.2 9.2l-9.2 9.2l-9.2 -9.2zM529.8 1804.9l9.2 9.2l-9.2 9.2l-9.2 -9.2zM530.1 1806.6l9.2 9.2l-9.2 9.2l-9.2 -9.2zM530.4 1808.3l9.2 9.2l-9.2 9.2l-9.2 -9.2zM530.8 1810l9.2 9.2l-9.2 9.2l-9.2 -9.2zM531.1 1811.6l9.2 9.2l-9.2 9.2l-9.2 -9.2zM531.4 1813.3l9.2 9.2l-9.2 9.2l-9.2 -9.2zM531.7 1815l9.2 9.2l-9.2 9.2l-9.2 -9.2zM532 1816.7l9.2 9.2l-9.2 9.2l-9.2 -9.2zM532.3 1818.4l9.2 9.2l-9.2 9.2l-9.2 -9.2zM532.6 1820l9.2 9.2l-9.2 9.2l-9.2 -9.2zM532.9 1821.7l9.2 9.2l-9.2 9.2l-9.2 -9.2zM533.2 1823.4l9.2 9.2l-9.2 9.2l-9.2 -9.2zM533.5 1825.1l9.2 9.2l-9.2 9.2l-9.2 -9.2zM533.8 1826.8l9.2 9.2l-9.2 9.2l-9.2 -9.2zM534.1 1828.4l9.2 9.2l-9.2 9.2l-9.2 -9.2zM534.5 1830.1l9.2 9.2l-9.2 9.2l-9.2 -9.2zM534.8 1831.8l9.2 9.2l-9.2 9.2l-9.2 -9.2zM535.1 1833.5l9.2 9.2l-9.2 9.2l-9.2 -9.2zM535.4 1835.2l9.2 9.2l-9.2 9.2l-9.2 -9.2zM535.7 1836.9l9.2 9.2l-9.2 9.2l-9.2 -9.2zM536 1838.5l9.2 9.2l-9.2 9.2l-9.2 -9.2zM536.3 1840.2l9.2 9.2l-9.2 9.2l-9.2 -9.2zM536.6 1841.9l9.2 9.2l-9.2 9.2l-9.2 -9.2zM536.9 1843.6l9.2 9.2l-9.2 9.2l-9.2 -9.2zM537.2 1845.3l9.2 9.2l-9.2 9.2l-9.2 -9.2zM537.5 1846.9l9.2 9.2l-9.2 9.2l-9.2 -9.2zM537.8 1848.6l9.2 9.2l-9.2 9.2l-9.2 -9.2zM538.1 1850.3l9.2 9.2l-9.2 9.2l-9.2 -9.2zM538.5 1852l9.2 9.2l-9.2 9.2l-9.2 -9.2zM538.8 1853.7l9.2 9.2l-9.2 9.2l-9.2 -9.2zM539.1 1855.3l9.2 9.2l-9.2 9.2l-9.2 -9.2zM539.4 1857l9.2 9.2l-9.2 9.2l-9.2 -9.2zM539.7 1858.7l9.2 9.2l-9.2 9.2l-9.2 -9.2zM540 1860.4l9.2 9.2l-9.2 9.2l-9.2 -9.2zM540.3 1862.1l9.2 9.2l-9.2 9.2l-9.2 -9.2zM540.6 1863.7l9.2 9.2l-9.2 9.2l-9.2 -9.2zM540.9 1865.4l9.2 9.2l-9.2 9.2l-9.2 -9.2zM541.2 1867.1l9.2 9.2l-9.2 9.2l-9.2 -9.2zM541.5 1868.8l9.2 9.2l-9.2 9.2l-9.2 -9.2zM541.8 1870.5l9.2 9.2l-9.2 9.2l-9.2 -9.2zM542.2 1872.1l9.2 9.2l-9.2 9.2l-9.2 -9.2zM542.5 1873.8l9.2 9.2l-9.2 9.2l-9.2 -9.2zM542.8 1875.5l9.2 9.2l-9.2 9.2l-9.2 -9.2zM543.1 1877.2l9.2 9.2l-9.2 9.2l-9.2 -9.2zM543.4 1878.9l9.2 9.2l-9.2 9.2l-9.2 -9.2zM543.7 1880.5l9.2 9.2l-9.2 9.2l-9.2 -9.2zM544 1882.2l9.2 9.2l-9.2 9.2l-9.2 -9.2zM544.3 1883.9l9.2 9.2l-9.2 9.2l-9.2 -9.2zM544.6 1885.6l9.2 9.2l-9.2 9.2l-9.2 -9.2zM544.9 1887.3l9.2 9.2l-9.2 9.2l-9.2 -9.2zM545.2 1888.9l9.2 9.2l-9.2 9.2l-9.2 -9.2zM545.5 1890.6l9.2 9.2l-9.2 9.2l-9.2 -9.2zM545.9 1892.3l9.2 9.2l-9.2 9.2l-9.2 -9.2zM546.2 1894l9.2 9.2l-9.2 9.2l-9.2 -9.2zM546.5 1895.7l9.2 9.2l-9.2 9.2l-9.2 -9.2zM546.8 1897.3l9.2 9.2l-9.2 9.2l-9.2 -9.2zM547.1 1899l9.2 9.2l-9.2 9.2l-9.2 -9.2zM547.4 1900.7l9.2 9.2l-9.2 9.2l-9.2 -9.2zM547.7 1902.4l9.2 9.2l-9.2 9.2l-9.2 -9.2zM548 1904.1l9.2 9.2l-9.2 9.2l-9.2 -9.2zM548.3 1905.7l9.2 9.2l-9.2 9.2l-9.2 -9.2zM548.6 1907.4l9.2 9.2l-9.2 9.2l-9.2 -9.2zM548.9 1909.1l9.2 9.2l-9.2 9.2l-9.2 -9.2zM549.2 1910.8l9.2 9.2l-9.2 9.2l-9.2 -9.2zM549.5 1912.5l9.2 9.2l-9.2 9.2l-9.2 -9.2zM549.9 1914.2l9.2 9.2l-9.2 9.2l-9.2 -9.2zM550.2 1915.8l9.2 9.2l-9.2 9.2l-9.2 -9.2zM550.5 1917.5l9.2 9.2l-9.2 9.2l-9.2 -9.2zM550.8 1919.2l9.2 9.2l-9.2 9.2l-9.2 -9.2zM551.1 1920.9l9.2 9.2l-9.2 9.2l-9.2 -9.2zM551.4 1922.6l9.2 9.2l-9.2 9.2l-9.2 -9.2zM551.7 1924.2l9.2 9.2l-9.2 9.2l-9.2 -9.2zM552 1925.9l9.2 9.2l-9.2 9.2l-9.2 -9.2zM552.3 1927.6l9.2 9.2l-9.2 9.2l-9.2 -9.2zM552.6 1929.3l9.2 9.2l-9.2 9.2l-9.2 -9.2zM552.9 1931l9.2 9.2l-9.2 9.2l-9.2 -9.2zM553.2 1932.6l9.2 9.2l-9.2 9.2l-9.2 -9.2zM553.6 1934.3l9.2 9.2l-9.2 9.2l-9.2 -9.2zM553.9 1936l9.2 9.2l-9.2 9.2l-9.2 -9.2zM554.2 1937.7l9.2 9.2l-9.2 9.2l-9.2 -9.2zM554.5 1939.4l9.2 9.2l-9.2 9.2l-9.2 -9.2zM554.8 1941l9.2 9.2l-9.2 9.2l-9.2 -9.2zM555.1 1942.7l9.2 9.2l-9.2 9.2l-9.2 -9.2zM555.4 1944.4l9.2 9.2l-9.2 9.2l-9.2 -9.2zM555.4 1944.4l9.2 9.2l-9.2 9.2l-9.2 -9.2zM555.7 1942.7l9.2 9.2l-9.2 9.2l-9.2 -9.2zM556 1941l9.2 9.2l-9.2 9.2l-9.2 -9.2zM556.3 1939.3l9.2 9.2l-9.2 9.2l-9.2 -9.2zM556.6 1937.7l9.2 9.2l-9.2 9.2l-9.2 -9.2zM556.9 1936l9.2 9.2l-9.2 9.2l-9.2 -9.2zM557.2 1934.3l9.2 9.2l-9.2 9.2l-9.2 -9.2zM557.5 1932.6l9.2 9.2l-9.2 9.2l-9.2 -9.2zM557.8 1930.9l9.2 9.2l-9.2 9.2l-9.2 -9.2zM558.1 1929.2l9.2 9.2l-9.2 9.2l-9.2 -9.2zM558.4 1927.6l9.2 9.2l-9.2 9.2l-9.2 -9.2zM558.7 1925.9l9.2 9.2l-9.2 9.2l-9.2 -9.2zM559 1924.2l9.2 9.2l-9.2 9.2l-9.2 -9.2zM559.3 1922.5l9.2 9.2l-9.2 9.2l-9.2 -9.2zM559.6 1920.8l9.2 9.2l-9.2 9.2l-9.2 -9.2zM560 1919.1l9.2 9.2l-9.2 9.2l-9.2 -9.2zM560.3 1917.5l9.2 9.2l-9.2 9.2l-9.2 -9.2zM560.6 1915.8l9.2 9.2l-9.2 9.2l-9.2 -9.2zM560.9 1914.1l9.2 9.2l-9.2 9.2l-9.2 -9.2zM561.2 1912.4l9.2 9.2l-9.2 9.2l-9.2 -9.2zM561.5 1910.7l9.2 9.2l-9.2 9.2l-9.2 -9.2zM561.8 1909l9.2 9.2l-9.2 9.2l-9.2 -9.2zM562.1 1907.3l9.2 9.2l-9.2 9.2l-9.2 -9.2zM562.4 1905.7l9.2 9.2l-9.2 9.2l-9.2 -9.2zM562.7 1904l9.2 9.2l-9.2 9.2l-9.2 -9.2zM563 1902.3l9.2 9.2l-9.2 9.2l-9.2 -9.2zM563.3 1900.6l9.2 9.2l-9.2 9.2l-9.2 -9.2zM563.6 1898.9l9.2 9.2l-9.2 9.2l-9.2 -9.2zM563.9 1897.2l9.2 9.2l-9.2 9.2l-9.2 -9.2zM564.2 1895.6l9.2 9.2l-9.2 9.2l-9.2 -9.2zM564.5 1893.9l9.2 9.2l-9.2 9.2l-9.2 -9.2zM564.8 1892.2l9.2 9.2l-9.2 9.2l-9.2 -9.2zM565.1 1890.5l9.2 9.2l-9.2 9.2l-9.2 -9.2zM565.4 1888.8l9.2 9.2l-9.2 9.2l-9.2 -9.2zM565.7 1887.1l9.2 9.2l-9.2 9.2l-9.2 -9.2zM566 1885.5l9.2 9.2l-9.2 9.2l-9.2 -9.2zM566.3 1883.8l9.2 9.2l-9.2 9.2l-9.2 -9.2zM566.6 1882.1l9.2 9.2l-9.2 9.2l-9.2 -9.2zM566.9 1880.4l9.2 9.2l-9.2 9.2l-9.2 -9.2zM567.2 1878.7l9.2 9.2l-9.2 9.2l-9.2 -9.2zM567.5 1877l9.2 9.2l-9.2 9.2l-9.2 -9.2zM567.8 1875.3l9.2 9.2l-9.2 9.2l-9.2 -9.2zM568.1 1873.7l9.2 9.2l-9.2 9.2l-9.2 -9.2zM568.5 1872l9.2 9.2l-9.2 9.2l-9.2 -9.2zM568.8 1870.3l9.2 9.2l-9.2 9.2l-9.2 -9.2zM569.1 1868.6l9.2 9.2l-9.2 9.2l-9.2 -9.2zM569.4 1866.9l9.2 9.2l-9.2 9.2l-9.2 -9.2zM569.7 1865.2l9.2 9.2l-9.2 9.2l-9.2 -9.2zM570 1863.6l9.2 9.2l-9.2 9.2l-9.2 -9.2zM570.3 1861.9l9.2 9.2l-9.2 9.2l-9.2 -9.2zM570.6 1860.2l9.2 9.2l-9.2 9.2l-9.2 -9.2zM570.9 1858.5l9.2 9.2l-9.2 9.2l-9.2 -9.2zM571.2 1856.8l9.2 9.2l-9.2 9.2l-9.2 -9.2zM571.5 1855.1l9.2 9.2l-9.2 9.2l-9.2 -9.2zM571.8 1853.5l9.2 9.2l-9.2 9.2l-9.2 -9.2zM572.1 1851.8l9.2 9.2l-9.2 9.2l-9.2 -9.2zM572.4 1850.1l9.2 9.2l-9.2 9.2l-9.2 -9.2zM572.7 1848.4l9.2 9.2l-9.2 9.2l-9.2 -9.2zM573.5 1901.2l9.2 9.2l-9.2 9.2l-9.2 -9.2zM574.4 1902.6l9.2 9.2l-9.2 9.2l-9.2 -9.2zM575.4 1904l9.2 9.2l-9.2 9.2l-9.2 -9.2zM576.3 1905.5l9.2 9.2l-9.2 9.2l-9.2 -9.2zM577.3 1906.9l9.2 9.2l-9.2 9.2l-9.2 -9.2zM578.2 1908.3l9.2 9.2l-9.2 9.2l-9.2 -9.2zM579.2 1909.7l9.2 9.2l-9.2 9.2l-9.2 -9.2zM580.1 1911.1l9.2 9.2l-9.2 9.2l-9.2 -9.2zM581 1912.6l9.2 9.2l-9.2 9.2l-9.2 -9.2zM582 1914l9.2 9.2l-9.2 9.2l-9.2 -9.2zM582.9 1915.4l9.2 9.2l-9.2 9.2l-9.2 -9.2zM583.9 1916.8l9.2 9.2l-9.2 9.2l-9.2 -9.2zM584.8 1918.2l9.2 9.2l-9.2 9.2l-9.2 -9.2zM585.8 1919.7l9.2 9.2l-9.2 9.2l-9.2 -9.2zM586.7 1921.1l9.2 9.2l-9.2 9.2l-9.2 -9.2zM587.7 1922.5l9.2 9.2l-9.2 9.2l-9.2 -9.2zM588.6 1923.9l9.2 9.2l-9.2 9.2l-9.2 -9.2zM589.5 1925.3l9.2 9.2l-9.2 9.2l-9.2 -9.2zM590.5 1926.8l9.2 9.2l-9.2 9.2l-9.2 -9.2zM591.4 1928.2l9.2 9.2l-9.2 9.2l-9.2 -9.2zM592.4 1929.6l9.2 9.2l-9.2 9.2l-9.2 -9.2zM593.3 1931l9.2 9.2l-9.2 9.2l-9.2 -9.2zM594.3 1932.4l9.2 9.2l-9.2 9.2l-9.2 -9.2zM595.2 1933.9l9.2 9.2l-9.2 9.2l-9.2 -9.2zM596.1 1935.3l9.2 9.2l-9.2 9.2l-9.2 -9.2zM597.1 1936.7l9.2 9.2l-9.2 9.2l-9.2 -9.2zM598 1938.1l9.2 9.2l-9.2 9.2l-9.2 -9.2zM599 1939.5l9.2 9.2l-9.2 9.2l-9.2 -9.2zM599.9 1941l9.2 9.2l-9.2 9.2l-9.2 -9.2zM600.9 1942.4l9.2 9.2l-9.2 9.2l-9.2 -9.2zM601.8 1943.8l9.2 9.2l-9.2 9.2l-9.2 -9.2zM602.8 1945.2l9.2 9.2l-9.2 9.2l-9.2 -9.2zM603.7 1946.6l9.2 9.2l-9.2 9.2l-9.2 -9.2zM604.6 1948.1l9.2 9.2l-9.2 9.2l-9.2 -9.2zM605.6 1949.5l9.2 9.2l-9.2 9.2l-9.2 -9.2zM606.5 1950.9l9.2 9.2l-9.2 9.2l-9.2 -9.2zM607.5 1952.3l9.2 9.2l-9.2 9.2l-9.2 -9.2zM608.4 1953.7l9.2 9.2l-9.2 9.2l-9.2 -9.2zM609.4 1955.2l9.2 9.2l-9.2 9.2l-9.2 -9.2zM610.3 1956.6l9.2 9.2l-9.2 9.2l-9.2 -9.2zM611.2 1958l9.2 9.2l-9.2 9.2l-9.2 -9.2zM612.2 1959.4l9.2 9.2l-9.2 9.2l-9.2 -9.2zM613.1 1960.8l9.2 9.2l-9.2 9.2l-9.2 -9.2zM614.1 1962.3l9.2 9.2l-9.2 9.2l-9.2 -9.2zM615 1963.7l9.2 9.2l-9.2 9.2l-9.2 -9.2zM616 1965.1l9.2 9.2l-9.2 9.2l-9.2 -9.2zM616.9 1966.5l9.2 9.2l-9.2 9.2l-9.2 -9.2zM617.9 1967.9l9.2 9.2l-9.2 9.2l-9.2 -9.2zM618.8 1969.4l9.2 9.2l-9.2 9.2l-9.2 -9.2zM619.7 1970.8l9.2 9.2l-9.2 9.2l-9.2 -9.2zM620.7 1972.2l9.2 9.2l-9.2 9.2l-9.2 -9.2zM621.6 1973.6l9.2 9.2l-9.2 9.2l-9.2 -9.2zM622.6 1975l9.2 9.2l-9.2 9.2l-9.2 -9.2zM623.5 1976.5l9.2 9.2l-9.2 9.2l-9.2 -9.2zM624.5 1977.9l9.2 9.2l-9.2 9.2l-9.2 -9.2zM625.4 1979.3l9.2 9.2l-9.2 9.2l-9.2 -9.2zM625.4 1979.3l9.2 9.2l-9.2 9.2l-9.2 -9.2zM625.6 1977.6l9.2 9.2l-9.2 9.2l-9.2 -9.2zM625.8 1975.9l9.2 9.2l-9.2 9.2l-9.2 -9.2zM626 1974.2l9.2 9.2l-9.2 9.2l-9.2 -9.2zM626.2 1972.5l9.2 9.2l-9.2 9.2l-9.2 -9.2zM626.4 1970.8l9.2 9.2l-9.2 9.2l-9.2 -9.2zM626.7 1969l9.2 9.2l-9.2 9.2l-9.2 -9.2zM626.9 1967.3l9.2 9.2l-9.2 9.2l-9.2 -9.2zM627.1 1965.6l9.2 9.2l-9.2 9.2l-9.2 -9.2zM627.3 1963.9l9.2 9.2l-9.2 9.2l-9.2 -9.2zM627.5 1962.2l9.2 9.2l-9.2 9.2l-9.2 -9.2zM627.7 1960.5l9.2 9.2l-9.2 9.2l-9.2 -9.2zM631.7 1927.6l9.2 9.2l-9.2 9.2l-9.2 -9.2zM631.8 1925.9l9.2 9.2l-9.2 9.2l-9.2 -9.2zM631.8 1924.1l9.2 9.2l-9.2 9.2l-9.2 -9.2zM631.9 1922.4l9.2 9.2l-9.2 9.2l-9.2 -9.2zM631.9 1920.7l9.2 9.2l-9.2 9.2l-9.2 -9.2zM632 1919l9.2 9.2l-9.2 9.2l-9.2 -9.2zM632 1917.2l9.2 9.2l-9.2 9.2l-9.2 -9.2zM632.1 1915.5l9.2 9.2l-9.2 9.2l-9.2 -9.2zM632.1 1913.8l9.2 9.2l-9.2 9.2l-9.2 -9.2zM632.2 1912l9.2 9.2l-9.2 9.2l-9.2 -9.2zM632.2 1910.3l9.2 9.2l-9.2 9.2l-9.2 -9.2zM632.2 1908.6l9.2 9.2l-9.2 9.2l-9.2 -9.2zM632.3 1906.9l9.2 9.2l-9.2 9.2l-9.2 -9.2zM632.4 1905.1l9.2 9.2l-9.2 9.2l-9.2 -9.2zM632.4 1903.4l9.2 9.2l-9.2 9.2l-9.2 -9.2zM632.5 1901.7l9.2 9.2l-9.2 9.2l-9.2 -9.2zM632.5 1900l9.2 9.2l-9.2 9.2l-9.2 -9.2zM632.6 1898.2l9.2 9.2l-9.2 9.2l-9.2 -9.2zM632.6 1896.5l9.2 9.2l-9.2 9.2l-9.2 -9.2zM634.4 1863.8l9.2 9.2l-9.2 9.2l-9.2 -9.2zM634.4 1862.1l9.2 9.2l-9.2 9.2l-9.2 -9.2zM634.5 1860.3l9.2 9.2l-9.2 9.2l-9.2 -9.2zM634.5 1858.6l9.2 9.2l-9.2 9.2l-9.2 -9.2zM634.6 1856.9l9.2 9.2l-9.2 9.2l-9.2 -9.2zM634.6 1855.1l9.2 9.2l-9.2 9.2l-9.2 -9.2zM634.6 1853.4l9.2 9.2l-9.2 9.2l-9.2 -9.2zM634.7 1851.7l9.2 9.2l-9.2 9.2l-9.2 -9.2zM634.7 1849.9l9.2 9.2l-9.2 9.2l-9.2 -9.2zM634.8 1848.2l9.2 9.2l-9.2 9.2l-9.2 -9.2zM634.8 1846.5l9.2 9.2l-9.2 9.2l-9.2 -9.2zM634.8 1844.7l9.2 9.2l-9.2 9.2l-9.2 -9.2zM634.9 1843l9.2 9.2l-9.2 9.2l-9.2 -9.2zM634.9 1841.3l9.2 9.2l-9.2 9.2l-9.2 -9.2zM635 1839.5l9.2 9.2l-9.2 9.2l-9.2 -9.2zM635 1837.8l9.2 9.2l-9.2 9.2l-9.2 -9.2zM637.6 1815.8l9.2 9.2l-9.2 9.2l-9.2 -9.2zM637.7 1814.1l9.2 9.2l-9.2 9.2l-9.2 -9.2zM637.9 1812.4l9.2 9.2l-9.2 9.2l-9.2 -9.2zM638 1810.7l9.2 9.2l-9.2 9.2l-9.2 -9.2zM638.1 1809l9.2 9.2l-9.2 9.2l-9.2 -9.2zM638.3 1807.3l9.2 9.2l-9.2 9.2l-9.2 -9.2zM638.4 1805.6l9.2 9.2l-9.2 9.2l-9.2 -9.2zM638.5 1803.9l9.2 9.2l-9.2 9.2l-9.2 -9.2zM638.7 1802.3l9.2 9.2l-9.2 9.2l-9.2 -9.2zM638.8 1800.6l9.2 9.2l-9.2 9.2l-9.2 -9.2zM638.9 1798.9l9.2 9.2l-9.2 9.2l-9.2 -9.2zM639 1797.2l9.2 9.2l-9.2 9.2l-9.2 -9.2zM639.2 1795.5l9.2 9.2l-9.2 9.2l-9.2 -9.2zM639.3 1793.8l9.2 9.2l-9.2 9.2l-9.2 -9.2zM639.4 1792.1l9.2 9.2l-9.2 9.2l-9.2 -9.2zM639.6 1790.4l9.2 9.2l-9.2 9.2l-9.2 -9.2zM639.7 1788.7l9.2 9.2l-9.2 9.2l-9.2 -9.2zM639.8 1787l9.2 9.2l-9.2 9.2l-9.2 -9.2zM640 1785.3l9.2 9.2l-9.2 9.2l-9.2 -9.2zM640.1 1783.6l9.2 9.2l-9.2 9.2l-9.2 -9.2zM640.2 1781.9l9.2 9.2l-9.2 9.2l-9.2 -9.2zM640.4 1780.2l9.2 9.2l-9.2 9.2l-9.2 -9.2zM640.5 1778.5l9.2 9.2l-9.2 9.2l-9.2 -9.2zM640.6 1776.9l9.2 9.2l-9.2 9.2l-9.2 -9.2zM640.8 1775.2l9.2 9.2l-9.2 9.2l-9.2 -9.2zM640.9 1773.5l9.2 9.2l-9.2 9.2l-9.2 -9.2zM641 1771.8l9.2 9.2l-9.2 9.2l-9.2 -9.2zM641.2 1770.1l9.2 9.2l-9.2 9.2l-9.2 -9.2zM641.3 1768.4l9.2 9.2l-9.2 9.2l-9.2 -9.2zM641.4 1766.7l9.2 9.2l-9.2 9.2l-9.2 -9.2zM641.6 1765l9.2 9.2l-9.2 9.2l-9.2 -9.2zM641.7 1763.3l9.2 9.2l-9.2 9.2l-9.2 -9.2zM641.8 1761.6l9.2 9.2l-9.2 9.2l-9.2 -9.2zM642 1759.9l9.2 9.2l-9.2 9.2l-9.2 -9.2zM642.1 1758.2l9.2 9.2l-9.2 9.2l-9.2 -9.2zM642.2 1756.5l9.2 9.2l-9.2 9.2l-9.2 -9.2zM642.3 1754.8l9.2 9.2l-9.2 9.2l-9.2 -9.2zM642.5 1753.2l9.2 9.2l-9.2 9.2l-9.2 -9.2zM642.6 1751.5l9.2 9.2l-9.2 9.2l-9.2 -9.2zM642.7 1749.8l9.2 9.2l-9.2 9.2l-9.2 -9.2zM642.9 1748.1l9.2 9.2l-9.2 9.2l-9.2 -9.2zM643 1746.4l9.2 9.2l-9.2 9.2l-9.2 -9.2zM643.1 1744.7l9.2 9.2l-9.2 9.2l-9.2 -9.2zM643.3 1743l9.2 9.2l-9.2 9.2l-9.2 -9.2zM643.4 1741.3l9.2 9.2l-9.2 9.2l-9.2 -9.2zM645.5 1932.3l9.2 9.2l-9.2 9.2l-9.2 -9.2zM647.1 1932.9l9.2 9.2l-9.2 9.2l-9.2 -9.2zM648.7 1933.4l9.2 9.2l-9.2 9.2l-9.2 -9.2zM650.2 1934l9.2 9.2l-9.2 9.2l-9.2 -9.2zM651.8 1934.5l9.2 9.2l-9.2 9.2l-9.2 -9.2zM653.4 1935.1l9.2 9.2l-9.2 9.2l-9.2 -9.2zM655 1935.6l9.2 9.2l-9.2 9.2l-9.2 -9.2zM656.6 1936.2l9.2 9.2l-9.2 9.2l-9.2 -9.2zM658.1 1936.7l9.2 9.2l-9.2 9.2l-9.2 -9.2zM659.7 1937.3l9.2 9.2l-9.2 9.2l-9.2 -9.2zM661.3 1937.8l9.2 9.2l-9.2 9.2l-9.2 -9.2zM662.9 1938.4l9.2 9.2l-9.2 9.2l-9.2 -9.2zM664.5 1938.9l9.2 9.2l-9.2 9.2l-9.2 -9.2zM666 1939.5l9.2 9.2l-9.2 9.2l-9.2 -9.2zM667.6 1940l9.2 9.2l-9.2 9.2l-9.2 -9.2zM669.2 1940.6l9.2 9.2l-9.2 9.2l-9.2 -9.2zM669.2 1849.8l9.2 9.2l-9.2 9.2l-9.2 -9.2zM670.5 1850.9l9.2 9.2l-9.2 9.2l-9.2 -9.2zM671.9 1851.9l9.2 9.2l-9.2 9.2l-9.2 -9.2zM673.2 1853l9.2 9.2l-9.2 9.2l-9.2 -9.2zM674.6 1854l9.2 9.2l-9.2 9.2l-9.2 -9.2zM675.9 1855.1l9.2 9.2l-9.2 9.2l-9.2 -9.2zM677.3 1856.1l9.2 9.2l-9.2 9.2l-9.2 -9.2zM678.6 1857.2l9.2 9.2l-9.2 9.2l-9.2 -9.2zM680 1858.2l9.2 9.2l-9.2 9.2l-9.2 -9.2zM681.3 1859.3l9.2 9.2l-9.2 9.2l-9.2 -9.2zM682.6 1860.4l9.2 9.2l-9.2 9.2l-9.2 -9.2zM684 1861.4l9.2 9.2l-9.2 9.2l-9.2 -9.2zM685.3 1862.5l9.2 9.2l-9.2 9.2l-9.2 -9.2zM686.7 1863.5l9.2 9.2l-9.2 9.2l-9.2 -9.2zM688 1864.6l9.2 9.2l-9.2 9.2l-9.2 -9.2zM689.4 1865.6l9.2 9.2l-9.2 9.2l-9.2 -9.2zM690.7 1866.7l9.2 9.2l-9.2 9.2l-9.2 -9.2zM692.1 1867.7l9.2 9.2l-9.2 9.2l-9.2 -9.2zM693.4 1868.8l9.2 9.2l-9.2 9.2l-9.2 -9.2zM693.4 1920.7l9.2 9.2l-9.2 9.2l-9.2 -9.2zM695.1 1920.7l9.2 9.2l-9.2 9.2l-9.2 -9.2zM696.9 1920.7l9.2 9.2l-9.2 9.2l-9.2 -9.2zM698.6 1920.7l9.2 9.2l-9.2 9.2l-9.2 -9.2zM700.3 1920.7l9.2 9.2l-9.2 9.2l-9.2 -9.2zM702 1920.7l9.2 9.2l-9.2 9.2l-9.2 -9.2zM703.8 1920.7l9.2 9.2l-9.2 9.2l-9.2 -9.2zM705.5 1920.7l9.2 9.2l-9.2 9.2l-9.2 -9.2zM707.2 1920.7l9.2 9.2l-9.2 9.2l-9.2 -9.2zM709 1920.7l9.2 9.2l-9.2 9.2l-9.2 -9.2zM710.7 1920.7l9.2 9.2l-9.2 9.2l-9.2 -9.2zM712.4 1920.7l9.2 9.2l-9.2 9.2l-9.2 -9.2zM714.1 1920.7l9.2 9.2l-9.2 9.2l-9.2 -9.2zM715.9 1920.7l9.2 9.2l-9.2 9.2l-9.2 -9.2zM717.6 1920.7l9.2 9.2l-9.2 9.2l-9.2 -9.2zM717.6 1838.3l9.2 9.2l-9.2 9.2l-9.2 -9.2zM719.2 1838.7l9.2 9.2l-9.2 9.2l-9.2 -9.2zM720.8 1839.1l9.2 9.2l-9.2 9.2l-9.2 -9.2zM722.4 1839.6l9.2 9.2l-9.2 9.2l-9.2 -9.2zM724 1840l9.2 9.2l-9.2 9.2l-9.2 -9.2zM725.7 1840.4l9.2 9.2l-9.2 9.2l-9.2 -9.2zM727.3 1840.8l9.2 9.2l-9.2 9.2l-9.2 -9.2zM728.9 1841.2l9.2 9.2l-9.2 9.2l-9.2 -9.2zM730.5 1841.6l9.2 9.2l-9.2 9.2l-9.2 -9.2zM732.1 1842.1l9.2 9.2l-9.2 9.2l-9.2 -9.2zM733.7 1842.5l9.2 9.2l-9.2 9.2l-9.2 -9.2zM735.3 1842.9l9.2 9.2l-9.2 9.2l-9.2 -9.2zM736.9 1843.3l9.2 9.2l-9.2 9.2l-9.2 -9.2zM738.6 1843.7l9.2 9.2l-9.2 9.2l-9.2 -9.2zM740.2 1844.1l9.2 9.2l-9.2 9.2l-9.2 -9.2zM741.8 1844.6l9.2 9.2l-9.2 9.2l-9.2 -9.2zM743.4 1845l9.2 9.2l-9.2 9.2l-9.2 -9.2zM745 1845.4l9.2 9.2l-9.2 9.2l-9.2 -9.2zM745.3 1863.7l9.2 9.2l-9.2 9.2l-9.2 -9.2zM746.5 1864.9l9.2 9.2l-9.2 9.2l-9.2 -9.2zM747.8 1866l9.2 9.2l-9.2 9.2l-9.2 -9.2zM749 1867.2l9.2 9.2l-9.2 9.2l-9.2 -9.2zM750.3 1868.3l9.2 9.2l-9.2 9.2l-9.2 -9.2zM751.5 1869.5l9.2 9.2l-9.2 9.2l-9.2 -9.2zM752.8 1870.6l9.2 9.2l-9.2 9.2l-9.2 -9.2zM754 1871.8l9.2 9.2l-9.2 9.2l-9.2 -9.2zM755.3 1872.9l9.2 9.2l-9.2 9.2l-9.2 -9.2zM756.5 1874l9.2 9.2l-9.2 9.2l-9.2 -9.2zM757.7 1875.2l9.2 9.2l-9.2 9.2l-9.2 -9.2zM759 1876.3l9.2 9.2l-9.2 9.2l-9.2 -9.2zM760.2 1877.5l9.2 9.2l-9.2 9.2l-9.2 -9.2zM761.5 1878.6l9.2 9.2l-9.2 9.2l-9.2 -9.2zM762.7 1879.8l9.2 9.2l-9.2 9.2l-9.2 -9.2zM764 1880.9l9.2 9.2l-9.2 9.2l-9.2 -9.2zM765.2 1882.1l9.2 9.2l-9.2 9.2l-9.2 -9.2zM766.5 1883.2l9.2 9.2l-9.2 9.2l-9.2 -9.2zM767.7 1884.4l9.2 9.2l-9.2 9.2l-9.2 -9.2zM767.7 1817.8l9.2 9.2l-9.2 9.2l-9.2 -9.2zM768.6 1816.4l9.2 9.2l-9.2 9.2l-9.2 -9.2zM769.5 1815l9.2 9.2l-9.2 9.2l-9.2 -9.2zM770.4 1813.5l9.2 9.2l-9.2 9.2l-9.2 -9.2zM771.3 1812.1l9.2 9.2l-9.2 9.2l-9.2 -9.2zM772.2 1810.7l9.2 9.2l-9.2 9.2l-9.2 -9.2zM773.1 1809.3l9.2 9.2l-9.2 9.2l-9.2 -9.2zM774 1807.9l9.2 9.2l-9.2 9.2l-9.2 -9.2zM774.9 1806.4l9.2 9.2l-9.2 9.2l-9.2 -9.2zM775.8 1805l9.2 9.2l-9.2 9.2l-9.2 -9.2zM776.7 1803.6l9.2 9.2l-9.2 9.2l-9.2 -9.2zM777.6 1802.2l9.2 9.2l-9.2 9.2l-9.2 -9.2zM778.5 1800.8l9.2 9.2l-9.2 9.2l-9.2 -9.2zM779.4 1799.3l9.2 9.2l-9.2 9.2l-9.2 -9.2zM780.3 1797.9l9.2 9.2l-9.2 9.2l-9.2 -9.2zM781.2 1796.5l9.2 9.2l-9.2 9.2l-9.2 -9.2zM782.1 1795.1l9.2 9.2l-9.2 9.2l-9.2 -9.2zM783 1793.7l9.2 9.2l-9.2 9.2l-9.2 -9.2zM783.9 1792.2l9.2 9.2l-9.2 9.2l-9.2 -9.2zM784.8 1790.8l9.2 9.2l-9.2 9.2l-9.2 -9.2zM785.7 1789.4l9.2 9.2l-9.2 9.2l-9.2 -9.2zM786.6 1788l9.2 9.2l-9.2 9.2l-9.2 -9.2zM787.5 1786.6l9.2 9.2l-9.2 9.2l-9.2 -9.2zM788.4 1785.1l9.2 9.2l-9.2 9.2l-9.2 -9.2zM789.3 1783.7l9.2 9.2l-9.2 9.2l-9.2 -9.2zM790.2 1782.3l9.2 9.2l-9.2 9.2l-9.2 -9.2zM792.8 1896l9.2 9.2l-9.2 9.2l-9.2 -9.2zM793.6 1894.4l9.2 9.2l-9.2 9.2l-9.2 -9.2zM794.3 1892.9l9.2 9.2l-9.2 9.2l-9.2 -9.2zM795.1 1891.3l9.2 9.2l-9.2 9.2l-9.2 -9.2zM795.8 1889.8l9.2 9.2l-9.2 9.2l-9.2 -9.2zM796.6 1888.2l9.2 9.2l-9.2 9.2l-9.2 -9.2zM797.3 1886.7l9.2 9.2l-9.2 9.2l-9.2 -9.2zM798.1 1885.1l9.2 9.2l-9.2 9.2l-9.2 -9.2zM798.8 1883.5l9.2 9.2l-9.2 9.2l-9.2 -9.2zM799.6 1882l9.2 9.2l-9.2 9.2l-9.2 -9.2zM800.3 1880.4l9.2 9.2l-9.2 9.2l-9.2 -9.2zM801.1 1878.9l9.2 9.2l-9.2 9.2l-9.2 -9.2zM801.8 1877.3l9.2 9.2l-9.2 9.2l-9.2 -9.2zM802.6 1875.8l9.2 9.2l-9.2 9.2l-9.2 -9.2zM803.3 1874.2l9.2 9.2l-9.2 9.2l-9.2 -9.2zM804.1 1872.7l9.2 9.2l-9.2 9.2l-9.2 -9.2zM804.8 1871.1l9.2 9.2l-9.2 9.2l-9.2 -9.2zM805.6 1869.5l9.2 9.2l-9.2 9.2l-9.2 -9.2zM806.3 1868l9.2 9.2l-9.2 9.2l-9.2 -9.2zM807.1 1866.4l9.2 9.2l-9.2 9.2l-9.2 -9.2zM807.8 1864.9l9.2 9.2l-9.2 9.2l-9.2 -9.2zM808.6 1863.3l9.2 9.2l-9.2 9.2l-9.2 -9.2zM809.3 1861.8l9.2 9.2l-9.2 9.2l-9.2 -9.2zM810.1 1860.2l9.2 9.2l-9.2 9.2l-9.2 -9.2zM810.1 1837.8l9.2 9.2l-9.2 9.2l-9.2 -9.2zM811.4 1838.8l9.2 9.2l-9.2 9.2l-9.2 -9.2zM812.7 1839.9l9.2 9.2l-9.2 9.2l-9.2 -9.2zM814.1 1840.9l9.2 9.2l-9.2 9.2l-9.2 -9.2zM815.4 1842l9.2 9.2l-9.2 9.2l-9.2 -9.2zM816.7 1843l9.2 9.2l-9.2 9.2l-9.2 -9.2zM818 1844.1l9.2 9.2l-9.2 9.2l-9.2 -9.2zM819.3 1845.1l9.2 9.2l-9.2 9.2l-9.2 -9.2zM820.7 1846.1l9.2 9.2l-9.2 9.2l-9.2 -9.2zM822 1847.2l9.2 9.2l-9.2 9.2l-9.2 -9.2zM823.3 1848.2l9.2 9.2l-9.2 9.2l-9.2 -9.2zM824.6 1849.3l9.2 9.2l-9.2 9.2l-9.2 -9.2zM826 1850.3l9.2 9.2l-9.2 9.2l-9.2 -9.2zM827.3 1851.3l9.2 9.2l-9.2 9.2l-9.2 -9.2zM828.6 1852.4l9.2 9.2l-9.2 9.2l-9.2 -9.2zM829.9 1853.4l9.2 9.2l-9.2 9.2l-9.2 -9.2zM831.2 1854.5l9.2 9.2l-9.2 9.2l-9.2 -9.2zM832.6 1855.5l9.2 9.2l-9.2 9.2l-9.2 -9.2zM833.9 1856.6l9.2 9.2l-9.2 9.2l-9.2 -9.2zM835.2 1857.6l9.2 9.2l-9.2 9.2l-9.2 -9.2z" fill="#2a7a3a"/><path d="M115.5 1829 122.9 1829 123.2 1957.1 161.3 1919 161.8 1876.6 208.6 1977.8 209.1 1932.9 209.3 1977.8 227.8 1936.3 227.8 1909 252.4 1912.9 252.4 1964 277.1 1847.5 278 1895.6 305.5 2038.3 305.7 2047.8 305.7 1929.4 329 1866.2 329 1967.4 329.2 1866.2 360.1 1857.6 360.5 1945 360.5 1880 382.5 1782.4 388.5 1914 403.2 1900.8 404.3 2002 404.3 1957.1 424.8 1990.8 425.7 1951.9 455.1 1828.2 456.8 1953.6 480.2 1818.7 481 1892.2 502.7 1989.1 504.4 1938 527.7 1965.7 528.6 1807.4 555.4 1953.6 572.7 1857.6 572.7 1763.3 573.5 1910.4 625.4 1988.5 643.4 1750.5 645.5 1941.5 669.2 1949.8 669.2 1859 693.4 1878 693.4 1970 693.4 1929.9 717.6 1929.9 717.6 1847.5 745 1854.6 744.4 1690.4 745.3 1872.9 767.7 1893.6 767.7 1827 790.2 1791.5 792.8 1905.2 810.1 1869.4 810.1 1847 835.2 1866.8" fill="none" stroke="#2b2626" stroke-opacity="0.75" stroke-width="4.1" stroke-linejoin="round" stroke-linecap="butt"/>
<text transform="translate(66 1753.3) scale(1 1.04)" text-anchor="end" font-size="26.4" fill="#424347" stroke="#424347" stroke-width="0.6">75</text>
<text transform="translate(66 1830.2) scale(1 1.04)" text-anchor="end" font-size="26.4" fill="#424347" stroke="#424347" stroke-width="0.6">70</text>
<text transform="translate(66 1907) scale(1 1.04)" text-anchor="end" font-size="26.4" fill="#424347" stroke="#424347" stroke-width="0.6">65</text>
<text transform="translate(66 1983.9) scale(1 1.04)" text-anchor="end" font-size="26.4" fill="#424347" stroke="#424347" stroke-width="0.6">60</text>
<text transform="translate(66 2060.8) scale(1 1.04)" text-anchor="end" font-size="26.4" fill="#424347" stroke="#424347" stroke-width="0.6">55</text>
<text transform="translate(153.1 2111.3) scale(1 1.04)" text-anchor="middle" font-size="26.4" fill="#424347" stroke="#424347" stroke-width="0.6">2010</text>
<text transform="translate(309.4 2111.3) scale(1 1.04)" text-anchor="middle" font-size="26.4" fill="#424347" stroke="#424347" stroke-width="0.6">2011</text>
<text transform="translate(465.7 2111.3) scale(1 1.04)" text-anchor="middle" font-size="26.4" fill="#424347" stroke="#424347" stroke-width="0.6">2012</text>
<text transform="translate(622 2111.3) scale(1 1.04)" text-anchor="middle" font-size="26.4" fill="#424347" stroke="#424347" stroke-width="0.6">2013</text>
<text transform="translate(778.3 2111.3) scale(1 1.04)" text-anchor="middle" font-size="26.4" fill="#424347" stroke="#424347" stroke-width="0.6">2014</text>
<text transform="translate(476 2146.2) scale(1 1.03)" text-anchor="middle" font-size="32" fill="#000" stroke="#000" stroke-width="0.4">Time</text>
<text transform="translate(22.8 1876.1) rotate(-90) scale(0.985 1.04)" text-anchor="middle" font-size="32" fill="#000" stroke="#000" stroke-width="0.4">Noise (dBA): Daytime</text>
<!-- p8 -->
<path d="M979.3 1704.6H1772M979.3 1781.4H1772M979.3 1858.3H1772M979.3 1935.2H1772M979.3 2012.1H1772M1131.2 1673.2V2078.8M1287.8 1673.2V2078.8M1444.2 1673.2V2078.8M1600.8 1673.2V2078.8M1757.2 1673.2V2078.8" stroke="#ebebeb" stroke-width="1.5" fill="none"/>
<path d="M979.3 1743H1772M979.3 1819.9H1772M979.3 1896.8H1772M979.3 1973.6H1772M979.3 2050.5H1772M1053 1673.2V2078.8M1209.5 1673.2V2078.8M1366 1673.2V2078.8M1522.5 1673.2V2078.8M1679 1673.2V2078.8" stroke="#ebebeb" stroke-width="3.0" fill="none"/>
<path d="M1020.8 1924.4l9.2 9.2l-9.2 9.2l-9.2 -9.2zM1036.3 1924.4l9.2 9.2l-9.2 9.2l-9.2 -9.2zM1050.1 1924.4l9.2 9.2l-9.2 9.2l-9.2 -9.2zM1058.8 1924.4l9.2 9.2l-9.2 9.2l-9.2 -9.2zM1066.6 1924.4l9.2 9.2l-9.2 9.2l-9.2 -9.2zM1016.5 1924.4l9.2 9.2l-9.2 9.2l-9.2 -9.2zM1025 1924.4l9.2 9.2l-9.2 9.2l-9.2 -9.2zM1054 1924.4l9.2 9.2l-9.2 9.2l-9.2 -9.2zM1062 1924.4l9.2 9.2l-9.2 9.2l-9.2 -9.2zM1178.1 1916.6l9.2 9.2l-9.2 9.2l-9.2 -9.2zM1179.6 1693.9l9.2 9.2l-9.2 9.2l-9.2 -9.2zM1181.3 1708.8l9.2 9.2l-9.2 9.2l-9.2 -9.2zM1181.5 1716.9l9.2 9.2l-9.2 9.2l-9.2 -9.2zM1183.4 1741.1l9.2 9.2l-9.2 9.2l-9.2 -9.2zM1183.6 1745.7l9.2 9.2l-9.2 9.2l-9.2 -9.2zM1183.9 1751.5l9.2 9.2l-9.2 9.2l-9.2 -9.2zM1184.4 1756.7l9.2 9.2l-9.2 9.2l-9.2 -9.2zM1185.9 1773.4l9.2 9.2l-9.2 9.2l-9.2 -9.2zM1187.3 1791.8l9.2 9.2l-9.2 9.2l-9.2 -9.2zM1187.5 1795.9l9.2 9.2l-9.2 9.2l-9.2 -9.2zM1189.4 1818.4l9.2 9.2l-9.2 9.2l-9.2 -9.2zM1191.1 1841.2l9.2 9.2l-9.2 9.2l-9.2 -9.2zM1192.6 1859.3l9.2 9.2l-9.2 9.2l-9.2 -9.2zM1194 1881.2l9.2 9.2l-9.2 9.2l-9.2 -9.2zM1195.9 1904.5l9.2 9.2l-9.2 9.2l-9.2 -9.2zM1199.2 1949.5l9.2 9.2l-9.2 9.2l-9.2 -9.2zM1473.2 1822.2l9.2 9.2l-9.2 9.2l-9.2 -9.2zM1549.1 1794.6l9.2 9.2l-9.2 9.2l-9.2 -9.2zM1548.5 1787.8l9.2 9.2l-9.2 9.2l-9.2 -9.2zM1550.8 1811.8l9.2 9.2l-9.2 9.2l-9.2 -9.2zM1552.5 1829.1l9.2 9.2l-9.2 9.2l-9.2 -9.2zM1553.8 1838.8l9.2 9.2l-9.2 9.2l-9.2 -9.2zM1555.1 1848.2l9.2 9.2l-9.2 9.2l-9.2 -9.2zM1556.9 1865.4l9.2 9.2l-9.2 9.2l-9.2 -9.2zM1550 1802.8l9.2 9.2l-9.2 9.2l-9.2 -9.2zM1564.7 1961.1l9.2 9.2l-9.2 9.2l-9.2 -9.2zM1566.4 1980.1l9.2 9.2l-9.2 9.2l-9.2 -9.2zM1568.1 1995.7l9.2 9.2l-9.2 9.2l-9.2 -9.2zM1567.2 1987.8l9.2 9.2l-9.2 9.2l-9.2 -9.2zM1079.5 1924.4l9.2 9.2l-9.2 9.2l-9.2 -9.2zM1081.2 1924.4l9.2 9.2l-9.2 9.2l-9.2 -9.2zM1082.9 1924.4l9.2 9.2l-9.2 9.2l-9.2 -9.2zM1084.6 1924.4l9.2 9.2l-9.2 9.2l-9.2 -9.2zM1086.3 1924.4l9.2 9.2l-9.2 9.2l-9.2 -9.2zM1088 1924.4l9.2 9.2l-9.2 9.2l-9.2 -9.2zM1089.7 1924.4l9.2 9.2l-9.2 9.2l-9.2 -9.2zM1091.4 1924.4l9.2 9.2l-9.2 9.2l-9.2 -9.2zM1093.1 1924.4l9.2 9.2l-9.2 9.2l-9.2 -9.2zM1094.8 1924.4l9.2 9.2l-9.2 9.2l-9.2 -9.2zM1096.5 1924.4l9.2 9.2l-9.2 9.2l-9.2 -9.2zM1098.2 1924.4l9.2 9.2l-9.2 9.2l-9.2 -9.2zM1099.9 1924.4l9.2 9.2l-9.2 9.2l-9.2 -9.2zM1101.6 1924.4l9.2 9.2l-9.2 9.2l-9.2 -9.2zM1103.3 1924.4l9.2 9.2l-9.2 9.2l-9.2 -9.2zM1105 1924.4l9.2 9.2l-9.2 9.2l-9.2 -9.2zM1106.7 1924.4l9.2 9.2l-9.2 9.2l-9.2 -9.2zM1108.4 1924.4l9.2 9.2l-9.2 9.2l-9.2 -9.2zM1110.1 1924.4l9.2 9.2l-9.2 9.2l-9.2 -9.2zM1111.8 1924.4l9.2 9.2l-9.2 9.2l-9.2 -9.2zM1113.5 1924.4l9.2 9.2l-9.2 9.2l-9.2 -9.2zM1115.2 1924.4l9.2 9.2l-9.2 9.2l-9.2 -9.2zM1116.9 1924.4l9.2 9.2l-9.2 9.2l-9.2 -9.2zM1118.6 1924.4l9.2 9.2l-9.2 9.2l-9.2 -9.2zM1120.3 1924.4l9.2 9.2l-9.2 9.2l-9.2 -9.2zM1122 1924.4l9.2 9.2l-9.2 9.2l-9.2 -9.2zM1123.7 1924.4l9.2 9.2l-9.2 9.2l-9.2 -9.2zM1125.4 1924.4l9.2 9.2l-9.2 9.2l-9.2 -9.2zM1127.1 1924.4l9.2 9.2l-9.2 9.2l-9.2 -9.2zM1127.1 1924.4l9.2 9.2l-9.2 9.2l-9.2 -9.2zM1127.1 1926.1l9.2 9.2l-9.2 9.2l-9.2 -9.2zM1127.1 1927.9l9.2 9.2l-9.2 9.2l-9.2 -9.2zM1127.1 1929.6l9.2 9.2l-9.2 9.2l-9.2 -9.2zM1127.1 1931.3l9.2 9.2l-9.2 9.2l-9.2 -9.2zM1127.1 1933l9.2 9.2l-9.2 9.2l-9.2 -9.2zM1127.1 1934.8l9.2 9.2l-9.2 9.2l-9.2 -9.2zM1127.1 1936.5l9.2 9.2l-9.2 9.2l-9.2 -9.2zM1127.1 1938.2l9.2 9.2l-9.2 9.2l-9.2 -9.2zM1127.1 1940l9.2 9.2l-9.2 9.2l-9.2 -9.2zM1127.1 1941.7l9.2 9.2l-9.2 9.2l-9.2 -9.2zM1127.1 1941.7l9.2 9.2l-9.2 9.2l-9.2 -9.2zM1128.7 1942.3l9.2 9.2l-9.2 9.2l-9.2 -9.2zM1130.2 1942.9l9.2 9.2l-9.2 9.2l-9.2 -9.2zM1131.8 1943.6l9.2 9.2l-9.2 9.2l-9.2 -9.2zM1133.4 1944.2l9.2 9.2l-9.2 9.2l-9.2 -9.2zM1134.9 1944.8l9.2 9.2l-9.2 9.2l-9.2 -9.2zM1136.5 1945.4l9.2 9.2l-9.2 9.2l-9.2 -9.2zM1138.1 1946.1l9.2 9.2l-9.2 9.2l-9.2 -9.2zM1139.6 1946.7l9.2 9.2l-9.2 9.2l-9.2 -9.2zM1141.2 1947.3l9.2 9.2l-9.2 9.2l-9.2 -9.2zM1142.8 1947.9l9.2 9.2l-9.2 9.2l-9.2 -9.2zM1144.3 1948.5l9.2 9.2l-9.2 9.2l-9.2 -9.2zM1145.9 1949.2l9.2 9.2l-9.2 9.2l-9.2 -9.2zM1147.5 1949.8l9.2 9.2l-9.2 9.2l-9.2 -9.2zM1149 1950.4l9.2 9.2l-9.2 9.2l-9.2 -9.2zM1150.6 1951l9.2 9.2l-9.2 9.2l-9.2 -9.2zM1152.2 1951.6l9.2 9.2l-9.2 9.2l-9.2 -9.2zM1153.7 1952.3l9.2 9.2l-9.2 9.2l-9.2 -9.2zM1155.3 1952.9l9.2 9.2l-9.2 9.2l-9.2 -9.2zM1156.8 1953.5l9.2 9.2l-9.2 9.2l-9.2 -9.2zM1158.4 1954.1l9.2 9.2l-9.2 9.2l-9.2 -9.2zM1160 1954.8l9.2 9.2l-9.2 9.2l-9.2 -9.2zM1161.5 1955.4l9.2 9.2l-9.2 9.2l-9.2 -9.2zM1163.1 1956l9.2 9.2l-9.2 9.2l-9.2 -9.2zM1164.7 1956.6l9.2 9.2l-9.2 9.2l-9.2 -9.2zM1166.2 1957.2l9.2 9.2l-9.2 9.2l-9.2 -9.2zM1167.8 1957.9l9.2 9.2l-9.2 9.2l-9.2 -9.2zM1169.4 1958.5l9.2 9.2l-9.2 9.2l-9.2 -9.2zM1170.9 1959.1l9.2 9.2l-9.2 9.2l-9.2 -9.2zM1172.5 1959.7l9.2 9.2l-9.2 9.2l-9.2 -9.2zM1174.1 1960.4l9.2 9.2l-9.2 9.2l-9.2 -9.2zM1175.6 1961l9.2 9.2l-9.2 9.2l-9.2 -9.2zM1177.2 1961.6l9.2 9.2l-9.2 9.2l-9.2 -9.2zM1200.6 2002.2l9.2 9.2l-9.2 9.2l-9.2 -9.2zM1200.9 2003.8l9.2 9.2l-9.2 9.2l-9.2 -9.2zM1201.2 2005.5l9.2 9.2l-9.2 9.2l-9.2 -9.2zM1201.5 2007.1l9.2 9.2l-9.2 9.2l-9.2 -9.2zM1201.8 2008.7l9.2 9.2l-9.2 9.2l-9.2 -9.2zM1202 2010.4l9.2 9.2l-9.2 9.2l-9.2 -9.2zM1202.3 2012l9.2 9.2l-9.2 9.2l-9.2 -9.2zM1202.6 2013.6l9.2 9.2l-9.2 9.2l-9.2 -9.2zM1202.9 2015.3l9.2 9.2l-9.2 9.2l-9.2 -9.2zM1203.2 2016.9l9.2 9.2l-9.2 9.2l-9.2 -9.2zM1203.5 2018.5l9.2 9.2l-9.2 9.2l-9.2 -9.2zM1203.8 2020.2l9.2 9.2l-9.2 9.2l-9.2 -9.2zM1204.1 2021.8l9.2 9.2l-9.2 9.2l-9.2 -9.2zM1204.4 2023.4l9.2 9.2l-9.2 9.2l-9.2 -9.2zM1204.6 2025.1l9.2 9.2l-9.2 9.2l-9.2 -9.2zM1204.9 2026.7l9.2 9.2l-9.2 9.2l-9.2 -9.2zM1205.2 2028.3l9.2 9.2l-9.2 9.2l-9.2 -9.2zM1205.5 2030l9.2 9.2l-9.2 9.2l-9.2 -9.2zM1205.8 2031.6l9.2 9.2l-9.2 9.2l-9.2 -9.2zM1205.8 2031.6l9.2 9.2l-9.2 9.2l-9.2 -9.2zM1206.4 2030l9.2 9.2l-9.2 9.2l-9.2 -9.2zM1206.9 2028.4l9.2 9.2l-9.2 9.2l-9.2 -9.2zM1207.5 2026.8l9.2 9.2l-9.2 9.2l-9.2 -9.2zM1208 2025.2l9.2 9.2l-9.2 9.2l-9.2 -9.2zM1208.6 2023.6l9.2 9.2l-9.2 9.2l-9.2 -9.2zM1209.1 2022l9.2 9.2l-9.2 9.2l-9.2 -9.2zM1209.7 2020.4l9.2 9.2l-9.2 9.2l-9.2 -9.2zM1210.2 2018.8l9.2 9.2l-9.2 9.2l-9.2 -9.2zM1210.8 2017.2l9.2 9.2l-9.2 9.2l-9.2 -9.2zM1211.3 2015.6l9.2 9.2l-9.2 9.2l-9.2 -9.2zM1211.9 2013.9l9.2 9.2l-9.2 9.2l-9.2 -9.2zM1212.5 2012.3l9.2 9.2l-9.2 9.2l-9.2 -9.2zM1213 2010.7l9.2 9.2l-9.2 9.2l-9.2 -9.2zM1213.6 2009.1l9.2 9.2l-9.2 9.2l-9.2 -9.2zM1214.1 2007.5l9.2 9.2l-9.2 9.2l-9.2 -9.2zM1214.7 2005.9l9.2 9.2l-9.2 9.2l-9.2 -9.2zM1215.2 2004.3l9.2 9.2l-9.2 9.2l-9.2 -9.2zM1215.8 2002.7l9.2 9.2l-9.2 9.2l-9.2 -9.2zM1216.3 2001.1l9.2 9.2l-9.2 9.2l-9.2 -9.2zM1216.9 1999.5l9.2 9.2l-9.2 9.2l-9.2 -9.2zM1217.4 1997.9l9.2 9.2l-9.2 9.2l-9.2 -9.2zM1218 1996.3l9.2 9.2l-9.2 9.2l-9.2 -9.2zM1218.6 1994.7l9.2 9.2l-9.2 9.2l-9.2 -9.2zM1219.1 1993.1l9.2 9.2l-9.2 9.2l-9.2 -9.2zM1219.7 1991.5l9.2 9.2l-9.2 9.2l-9.2 -9.2zM1220.2 1989.9l9.2 9.2l-9.2 9.2l-9.2 -9.2zM1220.8 1988.3l9.2 9.2l-9.2 9.2l-9.2 -9.2zM1221.3 1986.7l9.2 9.2l-9.2 9.2l-9.2 -9.2zM1221.9 1985.1l9.2 9.2l-9.2 9.2l-9.2 -9.2zM1222.4 1983.5l9.2 9.2l-9.2 9.2l-9.2 -9.2zM1223 1981.9l9.2 9.2l-9.2 9.2l-9.2 -9.2zM1223.6 1980.2l9.2 9.2l-9.2 9.2l-9.2 -9.2zM1224.1 1978.6l9.2 9.2l-9.2 9.2l-9.2 -9.2zM1224.7 1977l9.2 9.2l-9.2 9.2l-9.2 -9.2zM1225.2 1975.4l9.2 9.2l-9.2 9.2l-9.2 -9.2zM1225.8 1973.8l9.2 9.2l-9.2 9.2l-9.2 -9.2zM1226.3 1972.2l9.2 9.2l-9.2 9.2l-9.2 -9.2zM1226.9 1970.6l9.2 9.2l-9.2 9.2l-9.2 -9.2zM1227.4 1969l9.2 9.2l-9.2 9.2l-9.2 -9.2zM1228 1967.4l9.2 9.2l-9.2 9.2l-9.2 -9.2zM1228.5 1965.8l9.2 9.2l-9.2 9.2l-9.2 -9.2zM1229.1 1964.2l9.2 9.2l-9.2 9.2l-9.2 -9.2zM1230 1920.9l9.2 9.2l-9.2 9.2l-9.2 -9.2zM1231.1 1922.2l9.2 9.2l-9.2 9.2l-9.2 -9.2zM1232.3 1923.4l9.2 9.2l-9.2 9.2l-9.2 -9.2zM1233.4 1924.7l9.2 9.2l-9.2 9.2l-9.2 -9.2zM1234.5 1926l9.2 9.2l-9.2 9.2l-9.2 -9.2zM1235.7 1927.2l9.2 9.2l-9.2 9.2l-9.2 -9.2zM1236.8 1928.5l9.2 9.2l-9.2 9.2l-9.2 -9.2zM1237.9 1929.8l9.2 9.2l-9.2 9.2l-9.2 -9.2zM1239 1931l9.2 9.2l-9.2 9.2l-9.2 -9.2zM1240.2 1932.3l9.2 9.2l-9.2 9.2l-9.2 -9.2zM1241.3 1933.6l9.2 9.2l-9.2 9.2l-9.2 -9.2zM1242.4 1934.8l9.2 9.2l-9.2 9.2l-9.2 -9.2zM1243.6 1936.1l9.2 9.2l-9.2 9.2l-9.2 -9.2zM1244.7 1937.3l9.2 9.2l-9.2 9.2l-9.2 -9.2zM1245.8 1938.6l9.2 9.2l-9.2 9.2l-9.2 -9.2zM1247 1939.9l9.2 9.2l-9.2 9.2l-9.2 -9.2zM1248.1 1941.1l9.2 9.2l-9.2 9.2l-9.2 -9.2zM1249.2 1942.4l9.2 9.2l-9.2 9.2l-9.2 -9.2zM1250.4 1943.7l9.2 9.2l-9.2 9.2l-9.2 -9.2zM1251.5 1944.9l9.2 9.2l-9.2 9.2l-9.2 -9.2zM1252.6 1946.2l9.2 9.2l-9.2 9.2l-9.2 -9.2zM1253.7 1947.5l9.2 9.2l-9.2 9.2l-9.2 -9.2zM1254.9 1948.7l9.2 9.2l-9.2 9.2l-9.2 -9.2zM1256 1950l9.2 9.2l-9.2 9.2l-9.2 -9.2zM1257.1 1951.3l9.2 9.2l-9.2 9.2l-9.2 -9.2zM1258.3 1952.5l9.2 9.2l-9.2 9.2l-9.2 -9.2zM1259.4 1953.8l9.2 9.2l-9.2 9.2l-9.2 -9.2zM1259.4 1953.8l9.2 9.2l-9.2 9.2l-9.2 -9.2zM1259.6 1952.1l9.2 9.2l-9.2 9.2l-9.2 -9.2zM1259.7 1950.4l9.2 9.2l-9.2 9.2l-9.2 -9.2zM1259.9 1948.7l9.2 9.2l-9.2 9.2l-9.2 -9.2zM1260 1946.9l9.2 9.2l-9.2 9.2l-9.2 -9.2zM1260.2 1945.2l9.2 9.2l-9.2 9.2l-9.2 -9.2zM1260.3 1943.5l9.2 9.2l-9.2 9.2l-9.2 -9.2zM1260.5 1941.8l9.2 9.2l-9.2 9.2l-9.2 -9.2zM1260.5 1941.8l9.2 9.2l-9.2 9.2l-9.2 -9.2zM1262.1 1941.5l9.2 9.2l-9.2 9.2l-9.2 -9.2zM1263.8 1941.2l9.2 9.2l-9.2 9.2l-9.2 -9.2zM1265.4 1940.9l9.2 9.2l-9.2 9.2l-9.2 -9.2zM1267 1940.6l9.2 9.2l-9.2 9.2l-9.2 -9.2zM1268.7 1940.3l9.2 9.2l-9.2 9.2l-9.2 -9.2zM1270.3 1940l9.2 9.2l-9.2 9.2l-9.2 -9.2zM1271.9 1939.7l9.2 9.2l-9.2 9.2l-9.2 -9.2zM1273.6 1939.4l9.2 9.2l-9.2 9.2l-9.2 -9.2zM1275.2 1939.1l9.2 9.2l-9.2 9.2l-9.2 -9.2zM1276.8 1938.8l9.2 9.2l-9.2 9.2l-9.2 -9.2zM1278.5 1938.5l9.2 9.2l-9.2 9.2l-9.2 -9.2zM1280.1 1938.2l9.2 9.2l-9.2 9.2l-9.2 -9.2zM1287.3 1952.1l9.2 9.2l-9.2 9.2l-9.2 -9.2zM1287.9 1953.7l9.2 9.2l-9.2 9.2l-9.2 -9.2zM1288.6 1955.3l9.2 9.2l-9.2 9.2l-9.2 -9.2zM1289.2 1956.8l9.2 9.2l-9.2 9.2l-9.2 -9.2zM1289.9 1958.4l9.2 9.2l-9.2 9.2l-9.2 -9.2zM1290.5 1960l9.2 9.2l-9.2 9.2l-9.2 -9.2zM1291.2 1961.6l9.2 9.2l-9.2 9.2l-9.2 -9.2zM1291.8 1963.2l9.2 9.2l-9.2 9.2l-9.2 -9.2zM1292.5 1964.7l9.2 9.2l-9.2 9.2l-9.2 -9.2zM1293.1 1966.3l9.2 9.2l-9.2 9.2l-9.2 -9.2zM1293.8 1967.9l9.2 9.2l-9.2 9.2l-9.2 -9.2zM1294.4 1969.5l9.2 9.2l-9.2 9.2l-9.2 -9.2zM1295.1 1971.1l9.2 9.2l-9.2 9.2l-9.2 -9.2zM1295.7 1972.6l9.2 9.2l-9.2 9.2l-9.2 -9.2zM1296.4 1974.2l9.2 9.2l-9.2 9.2l-9.2 -9.2zM1297 1975.8l9.2 9.2l-9.2 9.2l-9.2 -9.2zM1297 1975.8l9.2 9.2l-9.2 9.2l-9.2 -9.2zM1297.8 1977.2l9.2 9.2l-9.2 9.2l-9.2 -9.2zM1298.5 1978.7l9.2 9.2l-9.2 9.2l-9.2 -9.2zM1299.3 1980.1l9.2 9.2l-9.2 9.2l-9.2 -9.2zM1300 1981.5l9.2 9.2l-9.2 9.2l-9.2 -9.2zM1300.8 1983l9.2 9.2l-9.2 9.2l-9.2 -9.2zM1301.6 1984.4l9.2 9.2l-9.2 9.2l-9.2 -9.2zM1302.3 1985.8l9.2 9.2l-9.2 9.2l-9.2 -9.2zM1303.1 1987.2l9.2 9.2l-9.2 9.2l-9.2 -9.2zM1303.8 1988.7l9.2 9.2l-9.2 9.2l-9.2 -9.2zM1304.6 1990.1l9.2 9.2l-9.2 9.2l-9.2 -9.2zM1304.6 1990.1l9.2 9.2l-9.2 9.2l-9.2 -9.2zM1306 1991l9.2 9.2l-9.2 9.2l-9.2 -9.2zM1307.4 1992l9.2 9.2l-9.2 9.2l-9.2 -9.2zM1308.7 1992.9l9.2 9.2l-9.2 9.2l-9.2 -9.2zM1310.1 1993.8l9.2 9.2l-9.2 9.2l-9.2 -9.2zM1311.5 1994.7l9.2 9.2l-9.2 9.2l-9.2 -9.2zM1312.9 1995.7l9.2 9.2l-9.2 9.2l-9.2 -9.2zM1314.3 1996.6l9.2 9.2l-9.2 9.2l-9.2 -9.2zM1315.6 1997.5l9.2 9.2l-9.2 9.2l-9.2 -9.2zM1317 1998.4l9.2 9.2l-9.2 9.2l-9.2 -9.2zM1318.4 1999.4l9.2 9.2l-9.2 9.2l-9.2 -9.2zM1319.8 2000.3l9.2 9.2l-9.2 9.2l-9.2 -9.2zM1321.2 2001.2l9.2 9.2l-9.2 9.2l-9.2 -9.2zM1322.5 2002.1l9.2 9.2l-9.2 9.2l-9.2 -9.2zM1323.9 2003.1l9.2 9.2l-9.2 9.2l-9.2 -9.2zM1325.3 2004l9.2 9.2l-9.2 9.2l-9.2 -9.2zM1325.3 2004l9.2 9.2l-9.2 9.2l-9.2 -9.2zM1326 2002.5l9.2 9.2l-9.2 9.2l-9.2 -9.2zM1326.8 2001l9.2 9.2l-9.2 9.2l-9.2 -9.2zM1327.5 1999.5l9.2 9.2l-9.2 9.2l-9.2 -9.2zM1328.2 1997.9l9.2 9.2l-9.2 9.2l-9.2 -9.2zM1329 1996.4l9.2 9.2l-9.2 9.2l-9.2 -9.2zM1329.7 1994.9l9.2 9.2l-9.2 9.2l-9.2 -9.2zM1330.4 1993.4l9.2 9.2l-9.2 9.2l-9.2 -9.2zM1331.2 1991.9l9.2 9.2l-9.2 9.2l-9.2 -9.2zM1331.9 1990.4l9.2 9.2l-9.2 9.2l-9.2 -9.2zM1332.7 1988.8l9.2 9.2l-9.2 9.2l-9.2 -9.2zM1333.4 1987.3l9.2 9.2l-9.2 9.2l-9.2 -9.2zM1334.1 1985.8l9.2 9.2l-9.2 9.2l-9.2 -9.2zM1334.9 1984.3l9.2 9.2l-9.2 9.2l-9.2 -9.2zM1335.6 1982.8l9.2 9.2l-9.2 9.2l-9.2 -9.2zM1336.3 1981.3l9.2 9.2l-9.2 9.2l-9.2 -9.2zM1337.1 1979.8l9.2 9.2l-9.2 9.2l-9.2 -9.2zM1337.8 1978.2l9.2 9.2l-9.2 9.2l-9.2 -9.2zM1338.5 1976.7l9.2 9.2l-9.2 9.2l-9.2 -9.2zM1339.3 1975.2l9.2 9.2l-9.2 9.2l-9.2 -9.2zM1340 1973.7l9.2 9.2l-9.2 9.2l-9.2 -9.2zM1340.7 1972.2l9.2 9.2l-9.2 9.2l-9.2 -9.2zM1341.5 1970.7l9.2 9.2l-9.2 9.2l-9.2 -9.2zM1342.2 1969.2l9.2 9.2l-9.2 9.2l-9.2 -9.2zM1342.9 1967.6l9.2 9.2l-9.2 9.2l-9.2 -9.2zM1343.7 1966.1l9.2 9.2l-9.2 9.2l-9.2 -9.2zM1344.4 1964.6l9.2 9.2l-9.2 9.2l-9.2 -9.2zM1345.1 1963.1l9.2 9.2l-9.2 9.2l-9.2 -9.2zM1345.9 1961.6l9.2 9.2l-9.2 9.2l-9.2 -9.2zM1346.6 1960.1l9.2 9.2l-9.2 9.2l-9.2 -9.2zM1347.3 1958.5l9.2 9.2l-9.2 9.2l-9.2 -9.2zM1348.1 1957l9.2 9.2l-9.2 9.2l-9.2 -9.2zM1348.8 1955.5l9.2 9.2l-9.2 9.2l-9.2 -9.2zM1349.6 1954l9.2 9.2l-9.2 9.2l-9.2 -9.2zM1350.3 1952.5l9.2 9.2l-9.2 9.2l-9.2 -9.2zM1351 1951l9.2 9.2l-9.2 9.2l-9.2 -9.2zM1351.8 1949.5l9.2 9.2l-9.2 9.2l-9.2 -9.2zM1352.5 1947.9l9.2 9.2l-9.2 9.2l-9.2 -9.2zM1353.2 1946.4l9.2 9.2l-9.2 9.2l-9.2 -9.2zM1354 1944.9l9.2 9.2l-9.2 9.2l-9.2 -9.2zM1354.7 1943.4l9.2 9.2l-9.2 9.2l-9.2 -9.2zM1354.7 1943.4l9.2 9.2l-9.2 9.2l-9.2 -9.2zM1354.8 1945.1l9.2 9.2l-9.2 9.2l-9.2 -9.2zM1354.9 1946.9l9.2 9.2l-9.2 9.2l-9.2 -9.2zM1355.1 1948.6l9.2 9.2l-9.2 9.2l-9.2 -9.2zM1355.2 1950.3l9.2 9.2l-9.2 9.2l-9.2 -9.2zM1355.3 1952.1l9.2 9.2l-9.2 9.2l-9.2 -9.2zM1355.4 1953.8l9.2 9.2l-9.2 9.2l-9.2 -9.2zM1355.5 1955.5l9.2 9.2l-9.2 9.2l-9.2 -9.2zM1355.7 1957.3l9.2 9.2l-9.2 9.2l-9.2 -9.2zM1355.8 1959l9.2 9.2l-9.2 9.2l-9.2 -9.2zM1355.9 1960.7l9.2 9.2l-9.2 9.2l-9.2 -9.2zM1356 1962.5l9.2 9.2l-9.2 9.2l-9.2 -9.2zM1356.1 1964.2l9.2 9.2l-9.2 9.2l-9.2 -9.2zM1356.3 1965.9l9.2 9.2l-9.2 9.2l-9.2 -9.2zM1356.4 1967.7l9.2 9.2l-9.2 9.2l-9.2 -9.2zM1356.5 1969.4l9.2 9.2l-9.2 9.2l-9.2 -9.2zM1356.5 1969.4l9.2 9.2l-9.2 9.2l-9.2 -9.2zM1357.8 1968.2l9.2 9.2l-9.2 9.2l-9.2 -9.2zM1359 1967.1l9.2 9.2l-9.2 9.2l-9.2 -9.2zM1360.2 1965.9l9.2 9.2l-9.2 9.2l-9.2 -9.2zM1361.5 1964.7l9.2 9.2l-9.2 9.2l-9.2 -9.2zM1362.8 1963.5l9.2 9.2l-9.2 9.2l-9.2 -9.2zM1364 1962.4l9.2 9.2l-9.2 9.2l-9.2 -9.2zM1365.2 1961.2l9.2 9.2l-9.2 9.2l-9.2 -9.2zM1366.5 1960l9.2 9.2l-9.2 9.2l-9.2 -9.2zM1367.8 1958.9l9.2 9.2l-9.2 9.2l-9.2 -9.2zM1369 1957.7l9.2 9.2l-9.2 9.2l-9.2 -9.2zM1370.2 1956.5l9.2 9.2l-9.2 9.2l-9.2 -9.2zM1371.5 1955.4l9.2 9.2l-9.2 9.2l-9.2 -9.2zM1372.8 1954.2l9.2 9.2l-9.2 9.2l-9.2 -9.2zM1374 1953l9.2 9.2l-9.2 9.2l-9.2 -9.2zM1375.2 1951.8l9.2 9.2l-9.2 9.2l-9.2 -9.2zM1376.5 1950.7l9.2 9.2l-9.2 9.2l-9.2 -9.2zM1377.8 1949.5l9.2 9.2l-9.2 9.2l-9.2 -9.2zM1379 1948.3l9.2 9.2l-9.2 9.2l-9.2 -9.2zM1380.2 1947.2l9.2 9.2l-9.2 9.2l-9.2 -9.2zM1381.5 1946l9.2 9.2l-9.2 9.2l-9.2 -9.2zM1381.5 1946l9.2 9.2l-9.2 9.2l-9.2 -9.2zM1382.3 1947.5l9.2 9.2l-9.2 9.2l-9.2 -9.2zM1383.2 1949l9.2 9.2l-9.2 9.2l-9.2 -9.2zM1384 1950.5l9.2 9.2l-9.2 9.2l-9.2 -9.2zM1384.8 1952l9.2 9.2l-9.2 9.2l-9.2 -9.2zM1385.7 1953.5l9.2 9.2l-9.2 9.2l-9.2 -9.2zM1386.5 1955l9.2 9.2l-9.2 9.2l-9.2 -9.2zM1387.3 1956.6l9.2 9.2l-9.2 9.2l-9.2 -9.2zM1388.2 1958.1l9.2 9.2l-9.2 9.2l-9.2 -9.2zM1389 1959.6l9.2 9.2l-9.2 9.2l-9.2 -9.2zM1389.8 1961.1l9.2 9.2l-9.2 9.2l-9.2 -9.2zM1390.7 1962.6l9.2 9.2l-9.2 9.2l-9.2 -9.2zM1391.5 1964.1l9.2 9.2l-9.2 9.2l-9.2 -9.2zM1392.3 1965.6l9.2 9.2l-9.2 9.2l-9.2 -9.2zM1393.2 1967.1l9.2 9.2l-9.2 9.2l-9.2 -9.2zM1394 1968.6l9.2 9.2l-9.2 9.2l-9.2 -9.2zM1394.8 1970.1l9.2 9.2l-9.2 9.2l-9.2 -9.2zM1395.7 1971.6l9.2 9.2l-9.2 9.2l-9.2 -9.2zM1396.5 1973.1l9.2 9.2l-9.2 9.2l-9.2 -9.2zM1397.3 1974.6l9.2 9.2l-9.2 9.2l-9.2 -9.2zM1398.2 1976.1l9.2 9.2l-9.2 9.2l-9.2 -9.2zM1399 1977.7l9.2 9.2l-9.2 9.2l-9.2 -9.2zM1399.8 1979.2l9.2 9.2l-9.2 9.2l-9.2 -9.2zM1400.7 1980.7l9.2 9.2l-9.2 9.2l-9.2 -9.2zM1401.5 1982.2l9.2 9.2l-9.2 9.2l-9.2 -9.2zM1402.3 1983.7l9.2 9.2l-9.2 9.2l-9.2 -9.2zM1403.2 1985.2l9.2 9.2l-9.2 9.2l-9.2 -9.2zM1404 1986.7l9.2 9.2l-9.2 9.2l-9.2 -9.2zM1404 1986.7l9.2 9.2l-9.2 9.2l-9.2 -9.2zM1405.4 1985.9l9.2 9.2l-9.2 9.2l-9.2 -9.2zM1406.9 1985.1l9.2 9.2l-9.2 9.2l-9.2 -9.2zM1408.3 1984.3l9.2 9.2l-9.2 9.2l-9.2 -9.2zM1409.8 1983.5l9.2 9.2l-9.2 9.2l-9.2 -9.2zM1411.2 1982.7l9.2 9.2l-9.2 9.2l-9.2 -9.2zM1412.6 1981.9l9.2 9.2l-9.2 9.2l-9.2 -9.2zM1414.1 1981.1l9.2 9.2l-9.2 9.2l-9.2 -9.2zM1415.5 1980.2l9.2 9.2l-9.2 9.2l-9.2 -9.2zM1417 1979.4l9.2 9.2l-9.2 9.2l-9.2 -9.2zM1418.4 1978.6l9.2 9.2l-9.2 9.2l-9.2 -9.2zM1419.8 1977.8l9.2 9.2l-9.2 9.2l-9.2 -9.2zM1421.3 1977l9.2 9.2l-9.2 9.2l-9.2 -9.2zM1422.7 1976.2l9.2 9.2l-9.2 9.2l-9.2 -9.2zM1424.2 1975.4l9.2 9.2l-9.2 9.2l-9.2 -9.2zM1425.6 1974.6l9.2 9.2l-9.2 9.2l-9.2 -9.2zM1425.6 1974.6l9.2 9.2l-9.2 9.2l-9.2 -9.2zM1426.4 1973.1l9.2 9.2l-9.2 9.2l-9.2 -9.2zM1427.2 1971.6l9.2 9.2l-9.2 9.2l-9.2 -9.2zM1428 1970.2l9.2 9.2l-9.2 9.2l-9.2 -9.2zM1428.9 1968.7l9.2 9.2l-9.2 9.2l-9.2 -9.2zM1429.7 1967.2l9.2 9.2l-9.2 9.2l-9.2 -9.2zM1430.5 1965.7l9.2 9.2l-9.2 9.2l-9.2 -9.2zM1431.3 1964.3l9.2 9.2l-9.2 9.2l-9.2 -9.2zM1432.1 1962.8l9.2 9.2l-9.2 9.2l-9.2 -9.2zM1432.9 1961.3l9.2 9.2l-9.2 9.2l-9.2 -9.2zM1433.7 1959.8l9.2 9.2l-9.2 9.2l-9.2 -9.2zM1434.6 1958.4l9.2 9.2l-9.2 9.2l-9.2 -9.2zM1435.4 1956.9l9.2 9.2l-9.2 9.2l-9.2 -9.2zM1436.2 1955.4l9.2 9.2l-9.2 9.2l-9.2 -9.2zM1437 1953.9l9.2 9.2l-9.2 9.2l-9.2 -9.2zM1437.8 1952.5l9.2 9.2l-9.2 9.2l-9.2 -9.2zM1438.6 1951l9.2 9.2l-9.2 9.2l-9.2 -9.2zM1439.4 1949.5l9.2 9.2l-9.2 9.2l-9.2 -9.2zM1440.3 1948l9.2 9.2l-9.2 9.2l-9.2 -9.2zM1441.1 1946.5l9.2 9.2l-9.2 9.2l-9.2 -9.2zM1441.9 1945.1l9.2 9.2l-9.2 9.2l-9.2 -9.2zM1442.7 1943.6l9.2 9.2l-9.2 9.2l-9.2 -9.2zM1443.5 1942.1l9.2 9.2l-9.2 9.2l-9.2 -9.2zM1444.3 1940.6l9.2 9.2l-9.2 9.2l-9.2 -9.2zM1445.2 1939.2l9.2 9.2l-9.2 9.2l-9.2 -9.2zM1446 1937.7l9.2 9.2l-9.2 9.2l-9.2 -9.2zM1446.8 1936.2l9.2 9.2l-9.2 9.2l-9.2 -9.2zM1447.6 1934.7l9.2 9.2l-9.2 9.2l-9.2 -9.2zM1448.4 1933.3l9.2 9.2l-9.2 9.2l-9.2 -9.2zM1449.2 1931.8l9.2 9.2l-9.2 9.2l-9.2 -9.2zM1450 1930.3l9.2 9.2l-9.2 9.2l-9.2 -9.2zM1450.9 1928.8l9.2 9.2l-9.2 9.2l-9.2 -9.2zM1451.7 1927.4l9.2 9.2l-9.2 9.2l-9.2 -9.2zM1452.5 1925.9l9.2 9.2l-9.2 9.2l-9.2 -9.2zM1453.3 1924.4l9.2 9.2l-9.2 9.2l-9.2 -9.2zM1453.3 1924.4l9.2 9.2l-9.2 9.2l-9.2 -9.2zM1453.4 1926l9.2 9.2l-9.2 9.2l-9.2 -9.2zM1453.4 1927.7l9.2 9.2l-9.2 9.2l-9.2 -9.2zM1453.5 1929.3l9.2 9.2l-9.2 9.2l-9.2 -9.2zM1453.6 1931l9.2 9.2l-9.2 9.2l-9.2 -9.2zM1453.7 1932.6l9.2 9.2l-9.2 9.2l-9.2 -9.2zM1453.7 1934.2l9.2 9.2l-9.2 9.2l-9.2 -9.2zM1453.8 1935.9l9.2 9.2l-9.2 9.2l-9.2 -9.2zM1453.9 1937.5l9.2 9.2l-9.2 9.2l-9.2 -9.2zM1453.9 1939.2l9.2 9.2l-9.2 9.2l-9.2 -9.2zM1454 1940.8l9.2 9.2l-9.2 9.2l-9.2 -9.2zM1454 1940.8l9.2 9.2l-9.2 9.2l-9.2 -9.2zM1455.1 1942.1l9.2 9.2l-9.2 9.2l-9.2 -9.2zM1456.3 1943.4l9.2 9.2l-9.2 9.2l-9.2 -9.2zM1457.4 1944.6l9.2 9.2l-9.2 9.2l-9.2 -9.2zM1458.6 1945.9l9.2 9.2l-9.2 9.2l-9.2 -9.2zM1459.7 1947.2l9.2 9.2l-9.2 9.2l-9.2 -9.2zM1460.8 1948.5l9.2 9.2l-9.2 9.2l-9.2 -9.2zM1462 1949.7l9.2 9.2l-9.2 9.2l-9.2 -9.2zM1463.1 1951l9.2 9.2l-9.2 9.2l-9.2 -9.2zM1464.3 1952.3l9.2 9.2l-9.2 9.2l-9.2 -9.2zM1465.4 1953.6l9.2 9.2l-9.2 9.2l-9.2 -9.2zM1466.6 1954.8l9.2 9.2l-9.2 9.2l-9.2 -9.2zM1467.7 1956.1l9.2 9.2l-9.2 9.2l-9.2 -9.2zM1468.8 1957.4l9.2 9.2l-9.2 9.2l-9.2 -9.2zM1470 1958.7l9.2 9.2l-9.2 9.2l-9.2 -9.2zM1471.1 1959.9l9.2 9.2l-9.2 9.2l-9.2 -9.2zM1472.3 1961.2l9.2 9.2l-9.2 9.2l-9.2 -9.2zM1473.4 1962.5l9.2 9.2l-9.2 9.2l-9.2 -9.2zM1474.5 1963.8l9.2 9.2l-9.2 9.2l-9.2 -9.2zM1475.7 1965l9.2 9.2l-9.2 9.2l-9.2 -9.2zM1476.8 1966.3l9.2 9.2l-9.2 9.2l-9.2 -9.2zM1478 1967.6l9.2 9.2l-9.2 9.2l-9.2 -9.2zM1479.1 1968.9l9.2 9.2l-9.2 9.2l-9.2 -9.2zM1480.2 1970.2l9.2 9.2l-9.2 9.2l-9.2 -9.2zM1481.4 1971.4l9.2 9.2l-9.2 9.2l-9.2 -9.2zM1482.5 1972.7l9.2 9.2l-9.2 9.2l-9.2 -9.2zM1483.7 1974l9.2 9.2l-9.2 9.2l-9.2 -9.2zM1484.8 1975.3l9.2 9.2l-9.2 9.2l-9.2 -9.2zM1486 1976.5l9.2 9.2l-9.2 9.2l-9.2 -9.2zM1487.1 1977.8l9.2 9.2l-9.2 9.2l-9.2 -9.2zM1488.2 1979.1l9.2 9.2l-9.2 9.2l-9.2 -9.2zM1489.4 1980.4l9.2 9.2l-9.2 9.2l-9.2 -9.2zM1490.5 1981.6l9.2 9.2l-9.2 9.2l-9.2 -9.2zM1491.7 1982.9l9.2 9.2l-9.2 9.2l-9.2 -9.2zM1492.8 1984.2l9.2 9.2l-9.2 9.2l-9.2 -9.2zM1493.9 1985.5l9.2 9.2l-9.2 9.2l-9.2 -9.2zM1495.1 1986.7l9.2 9.2l-9.2 9.2l-9.2 -9.2zM1496.2 1988l9.2 9.2l-9.2 9.2l-9.2 -9.2zM1497.4 1989.3l9.2 9.2l-9.2 9.2l-9.2 -9.2zM1498.5 1990.6l9.2 9.2l-9.2 9.2l-9.2 -9.2zM1499.7 1991.8l9.2 9.2l-9.2 9.2l-9.2 -9.2zM1500.8 1993.1l9.2 9.2l-9.2 9.2l-9.2 -9.2zM1501.9 1994.4l9.2 9.2l-9.2 9.2l-9.2 -9.2zM1503.1 1995.7l9.2 9.2l-9.2 9.2l-9.2 -9.2zM1504.2 1997l9.2 9.2l-9.2 9.2l-9.2 -9.2zM1505.4 1998.2l9.2 9.2l-9.2 9.2l-9.2 -9.2zM1506.5 1999.5l9.2 9.2l-9.2 9.2l-9.2 -9.2zM1507.6 2000.8l9.2 9.2l-9.2 9.2l-9.2 -9.2zM1508.8 2002.1l9.2 9.2l-9.2 9.2l-9.2 -9.2zM1509.9 2003.3l9.2 9.2l-9.2 9.2l-9.2 -9.2zM1511.1 2004.6l9.2 9.2l-9.2 9.2l-9.2 -9.2zM1512.2 2005.9l9.2 9.2l-9.2 9.2l-9.2 -9.2zM1513.3 2007.2l9.2 9.2l-9.2 9.2l-9.2 -9.2zM1514.5 2008.4l9.2 9.2l-9.2 9.2l-9.2 -9.2zM1515.6 2009.7l9.2 9.2l-9.2 9.2l-9.2 -9.2zM1516.8 2011l9.2 9.2l-9.2 9.2l-9.2 -9.2zM1517.9 2012.3l9.2 9.2l-9.2 9.2l-9.2 -9.2zM1519.1 2013.5l9.2 9.2l-9.2 9.2l-9.2 -9.2zM1520.2 2014.8l9.2 9.2l-9.2 9.2l-9.2 -9.2zM1521.3 2016.1l9.2 9.2l-9.2 9.2l-9.2 -9.2zM1522.5 2017.4l9.2 9.2l-9.2 9.2l-9.2 -9.2zM1523.6 2018.6l9.2 9.2l-9.2 9.2l-9.2 -9.2zM1524.8 2019.9l9.2 9.2l-9.2 9.2l-9.2 -9.2zM1525.9 2021.2l9.2 9.2l-9.2 9.2l-9.2 -9.2zM1525.9 2021.2l9.2 9.2l-9.2 9.2l-9.2 -9.2zM1526.3 2019.5l9.2 9.2l-9.2 9.2l-9.2 -9.2zM1526.7 2017.9l9.2 9.2l-9.2 9.2l-9.2 -9.2zM1527.1 2016.2l9.2 9.2l-9.2 9.2l-9.2 -9.2zM1527.6 2014.6l9.2 9.2l-9.2 9.2l-9.2 -9.2zM1528 2013l9.2 9.2l-9.2 9.2l-9.2 -9.2zM1528.4 2011.3l9.2 9.2l-9.2 9.2l-9.2 -9.2zM1528.8 2009.7l9.2 9.2l-9.2 9.2l-9.2 -9.2zM1529.2 2008l9.2 9.2l-9.2 9.2l-9.2 -9.2zM1529.6 2006.3l9.2 9.2l-9.2 9.2l-9.2 -9.2zM1530 2004.7l9.2 9.2l-9.2 9.2l-9.2 -9.2zM1530.5 2003l9.2 9.2l-9.2 9.2l-9.2 -9.2zM1530.9 2001.4l9.2 9.2l-9.2 9.2l-9.2 -9.2zM1531.3 1999.8l9.2 9.2l-9.2 9.2l-9.2 -9.2zM1531.7 1998.1l9.2 9.2l-9.2 9.2l-9.2 -9.2zM1532.1 1996.5l9.2 9.2l-9.2 9.2l-9.2 -9.2zM1532.5 1994.8l9.2 9.2l-9.2 9.2l-9.2 -9.2zM1532.9 1993.2l9.2 9.2l-9.2 9.2l-9.2 -9.2zM1533.3 1991.5l9.2 9.2l-9.2 9.2l-9.2 -9.2zM1533.8 1989.8l9.2 9.2l-9.2 9.2l-9.2 -9.2zM1534.2 1988.2l9.2 9.2l-9.2 9.2l-9.2 -9.2zM1534.6 1986.5l9.2 9.2l-9.2 9.2l-9.2 -9.2zM1535 1984.9l9.2 9.2l-9.2 9.2l-9.2 -9.2zM1535.4 1983.2l9.2 9.2l-9.2 9.2l-9.2 -9.2zM1535.8 1981.6l9.2 9.2l-9.2 9.2l-9.2 -9.2zM1536.2 1980l9.2 9.2l-9.2 9.2l-9.2 -9.2zM1536.7 1978.3l9.2 9.2l-9.2 9.2l-9.2 -9.2zM1537.1 1976.6l9.2 9.2l-9.2 9.2l-9.2 -9.2zM1537.5 1975l9.2 9.2l-9.2 9.2l-9.2 -9.2zM1537.9 1973.3l9.2 9.2l-9.2 9.2l-9.2 -9.2zM1538.3 1971.7l9.2 9.2l-9.2 9.2l-9.2 -9.2zM1538.7 1970l9.2 9.2l-9.2 9.2l-9.2 -9.2zM1539.1 1968.4l9.2 9.2l-9.2 9.2l-9.2 -9.2zM1539.5 1966.8l9.2 9.2l-9.2 9.2l-9.2 -9.2zM1540 1965.1l9.2 9.2l-9.2 9.2l-9.2 -9.2zM1540.4 1963.5l9.2 9.2l-9.2 9.2l-9.2 -9.2zM1540.8 1961.8l9.2 9.2l-9.2 9.2l-9.2 -9.2zM1541.2 1960.1l9.2 9.2l-9.2 9.2l-9.2 -9.2zM1541.6 1958.5l9.2 9.2l-9.2 9.2l-9.2 -9.2zM1542 1956.8l9.2 9.2l-9.2 9.2l-9.2 -9.2zM1542.4 1955.2l9.2 9.2l-9.2 9.2l-9.2 -9.2zM1542.9 1953.5l9.2 9.2l-9.2 9.2l-9.2 -9.2zM1543.3 1951.9l9.2 9.2l-9.2 9.2l-9.2 -9.2zM1543.7 1950.2l9.2 9.2l-9.2 9.2l-9.2 -9.2zM1544.1 1948.6l9.2 9.2l-9.2 9.2l-9.2 -9.2zM1545.6 1758.2l9.2 9.2l-9.2 9.2l-9.2 -9.2zM1545.8 1759.9l9.2 9.2l-9.2 9.2l-9.2 -9.2zM1545.9 1761.7l9.2 9.2l-9.2 9.2l-9.2 -9.2zM1546.1 1763.4l9.2 9.2l-9.2 9.2l-9.2 -9.2zM1546.3 1765.1l9.2 9.2l-9.2 9.2l-9.2 -9.2zM1546.4 1766.9l9.2 9.2l-9.2 9.2l-9.2 -9.2zM1546.6 1768.6l9.2 9.2l-9.2 9.2l-9.2 -9.2zM1546.7 1770.4l9.2 9.2l-9.2 9.2l-9.2 -9.2zM1546.9 1772.1l9.2 9.2l-9.2 9.2l-9.2 -9.2zM1547.1 1773.8l9.2 9.2l-9.2 9.2l-9.2 -9.2zM1547.2 1775.6l9.2 9.2l-9.2 9.2l-9.2 -9.2zM1547.4 1777.3l9.2 9.2l-9.2 9.2l-9.2 -9.2zM1555.1 1866.8l9.2 9.2l-9.2 9.2l-9.2 -9.2zM1555.3 1868.5l9.2 9.2l-9.2 9.2l-9.2 -9.2zM1555.5 1870.1l9.2 9.2l-9.2 9.2l-9.2 -9.2zM1555.7 1871.8l9.2 9.2l-9.2 9.2l-9.2 -9.2zM1555.9 1873.5l9.2 9.2l-9.2 9.2l-9.2 -9.2zM1556.1 1875.2l9.2 9.2l-9.2 9.2l-9.2 -9.2zM1556.4 1876.8l9.2 9.2l-9.2 9.2l-9.2 -9.2zM1556.6 1878.5l9.2 9.2l-9.2 9.2l-9.2 -9.2zM1556.8 1880.2l9.2 9.2l-9.2 9.2l-9.2 -9.2zM1557 1881.9l9.2 9.2l-9.2 9.2l-9.2 -9.2zM1557.2 1883.5l9.2 9.2l-9.2 9.2l-9.2 -9.2zM1557.4 1885.2l9.2 9.2l-9.2 9.2l-9.2 -9.2zM1557.6 1886.9l9.2 9.2l-9.2 9.2l-9.2 -9.2zM1557.8 1888.6l9.2 9.2l-9.2 9.2l-9.2 -9.2zM1558 1890.2l9.2 9.2l-9.2 9.2l-9.2 -9.2zM1558.2 1891.9l9.2 9.2l-9.2 9.2l-9.2 -9.2zM1558.4 1893.6l9.2 9.2l-9.2 9.2l-9.2 -9.2zM1558.6 1895.3l9.2 9.2l-9.2 9.2l-9.2 -9.2zM1558.9 1896.9l9.2 9.2l-9.2 9.2l-9.2 -9.2zM1559.1 1898.6l9.2 9.2l-9.2 9.2l-9.2 -9.2zM1559.3 1900.3l9.2 9.2l-9.2 9.2l-9.2 -9.2zM1559.5 1902l9.2 9.2l-9.2 9.2l-9.2 -9.2zM1559.7 1903.6l9.2 9.2l-9.2 9.2l-9.2 -9.2zM1559.9 1905.3l9.2 9.2l-9.2 9.2l-9.2 -9.2zM1560.1 1907l9.2 9.2l-9.2 9.2l-9.2 -9.2zM1560.3 1908.6l9.2 9.2l-9.2 9.2l-9.2 -9.2zM1560.5 1910.3l9.2 9.2l-9.2 9.2l-9.2 -9.2zM1560.7 1912l9.2 9.2l-9.2 9.2l-9.2 -9.2zM1560.9 1913.7l9.2 9.2l-9.2 9.2l-9.2 -9.2zM1561.2 1915.3l9.2 9.2l-9.2 9.2l-9.2 -9.2zM1561.4 1917l9.2 9.2l-9.2 9.2l-9.2 -9.2zM1561.6 1918.7l9.2 9.2l-9.2 9.2l-9.2 -9.2zM1561.8 1920.4l9.2 9.2l-9.2 9.2l-9.2 -9.2zM1562 1922l9.2 9.2l-9.2 9.2l-9.2 -9.2zM1562.2 1923.7l9.2 9.2l-9.2 9.2l-9.2 -9.2zM1562.4 1925.4l9.2 9.2l-9.2 9.2l-9.2 -9.2zM1562.6 1927.1l9.2 9.2l-9.2 9.2l-9.2 -9.2zM1562.8 1928.7l9.2 9.2l-9.2 9.2l-9.2 -9.2zM1563 1930.4l9.2 9.2l-9.2 9.2l-9.2 -9.2zM1563.2 1932.1l9.2 9.2l-9.2 9.2l-9.2 -9.2zM1563.4 1933.8l9.2 9.2l-9.2 9.2l-9.2 -9.2zM1563.7 1935.4l9.2 9.2l-9.2 9.2l-9.2 -9.2zM1563.9 1937.1l9.2 9.2l-9.2 9.2l-9.2 -9.2zM1564.1 1938.8l9.2 9.2l-9.2 9.2l-9.2 -9.2zM1564.3 1940.5l9.2 9.2l-9.2 9.2l-9.2 -9.2zM1564.5 1942.1l9.2 9.2l-9.2 9.2l-9.2 -9.2zM1564.7 1943.8l9.2 9.2l-9.2 9.2l-9.2 -9.2zM1561 1961.1l9.2 9.2l-9.2 9.2l-9.2 -9.2zM1562.7 1961.1l9.2 9.2l-9.2 9.2l-9.2 -9.2zM1564.5 1961l9.2 9.2l-9.2 9.2l-9.2 -9.2zM1566.2 1961l9.2 9.2l-9.2 9.2l-9.2 -9.2zM1567.9 1960.9l9.2 9.2l-9.2 9.2l-9.2 -9.2zM1569.7 1960.9l9.2 9.2l-9.2 9.2l-9.2 -9.2zM1571.4 1960.8l9.2 9.2l-9.2 9.2l-9.2 -9.2zM1573.2 1960.8l9.2 9.2l-9.2 9.2l-9.2 -9.2zM1574.9 1960.7l9.2 9.2l-9.2 9.2l-9.2 -9.2zM1576.6 1960.7l9.2 9.2l-9.2 9.2l-9.2 -9.2zM1578.4 1960.6l9.2 9.2l-9.2 9.2l-9.2 -9.2zM1580.1 1960.6l9.2 9.2l-9.2 9.2l-9.2 -9.2zM1581.8 1960.5l9.2 9.2l-9.2 9.2l-9.2 -9.2zM1583.6 1960.5l9.2 9.2l-9.2 9.2l-9.2 -9.2zM1585.3 1960.4l9.2 9.2l-9.2 9.2l-9.2 -9.2zM1587.1 1960.4l9.2 9.2l-9.2 9.2l-9.2 -9.2zM1588.8 1960.3l9.2 9.2l-9.2 9.2l-9.2 -9.2zM1590.5 1960.3l9.2 9.2l-9.2 9.2l-9.2 -9.2zM1592.3 1960.2l9.2 9.2l-9.2 9.2l-9.2 -9.2zM1594 1960.2l9.2 9.2l-9.2 9.2l-9.2 -9.2zM1594 1960.2l9.2 9.2l-9.2 9.2l-9.2 -9.2zM1594.5 1961.8l9.2 9.2l-9.2 9.2l-9.2 -9.2zM1595 1963.5l9.2 9.2l-9.2 9.2l-9.2 -9.2zM1595.4 1965.1l9.2 9.2l-9.2 9.2l-9.2 -9.2zM1595.9 1966.8l9.2 9.2l-9.2 9.2l-9.2 -9.2zM1596.4 1968.4l9.2 9.2l-9.2 9.2l-9.2 -9.2zM1596.9 1970l9.2 9.2l-9.2 9.2l-9.2 -9.2zM1597.4 1971.7l9.2 9.2l-9.2 9.2l-9.2 -9.2zM1597.8 1973.3l9.2 9.2l-9.2 9.2l-9.2 -9.2zM1598.3 1974.9l9.2 9.2l-9.2 9.2l-9.2 -9.2zM1598.8 1976.6l9.2 9.2l-9.2 9.2l-9.2 -9.2zM1599.3 1978.2l9.2 9.2l-9.2 9.2l-9.2 -9.2zM1599.7 1979.9l9.2 9.2l-9.2 9.2l-9.2 -9.2zM1600.2 1981.5l9.2 9.2l-9.2 9.2l-9.2 -9.2zM1600.7 1983.1l9.2 9.2l-9.2 9.2l-9.2 -9.2zM1601.2 1984.8l9.2 9.2l-9.2 9.2l-9.2 -9.2zM1601.7 1986.4l9.2 9.2l-9.2 9.2l-9.2 -9.2zM1602.1 1988.1l9.2 9.2l-9.2 9.2l-9.2 -9.2zM1602.6 1989.7l9.2 9.2l-9.2 9.2l-9.2 -9.2zM1603.1 1991.3l9.2 9.2l-9.2 9.2l-9.2 -9.2zM1603.6 1993l9.2 9.2l-9.2 9.2l-9.2 -9.2zM1604.1 1994.6l9.2 9.2l-9.2 9.2l-9.2 -9.2zM1604.5 1996.2l9.2 9.2l-9.2 9.2l-9.2 -9.2zM1605 1997.9l9.2 9.2l-9.2 9.2l-9.2 -9.2zM1605.5 1999.5l9.2 9.2l-9.2 9.2l-9.2 -9.2zM1606 2001.2l9.2 9.2l-9.2 9.2l-9.2 -9.2zM1606.4 2002.8l9.2 9.2l-9.2 9.2l-9.2 -9.2zM1606.9 2004.4l9.2 9.2l-9.2 9.2l-9.2 -9.2zM1607.4 2006.1l9.2 9.2l-9.2 9.2l-9.2 -9.2zM1607.9 2007.7l9.2 9.2l-9.2 9.2l-9.2 -9.2zM1608.4 2009.3l9.2 9.2l-9.2 9.2l-9.2 -9.2zM1608.8 2011l9.2 9.2l-9.2 9.2l-9.2 -9.2zM1609.3 2012.6l9.2 9.2l-9.2 9.2l-9.2 -9.2zM1609.8 2014.3l9.2 9.2l-9.2 9.2l-9.2 -9.2zM1610.3 2015.9l9.2 9.2l-9.2 9.2l-9.2 -9.2zM1610.8 2017.5l9.2 9.2l-9.2 9.2l-9.2 -9.2zM1611.2 2019.2l9.2 9.2l-9.2 9.2l-9.2 -9.2zM1611.7 2020.8l9.2 9.2l-9.2 9.2l-9.2 -9.2zM1612.2 2022.5l9.2 9.2l-9.2 9.2l-9.2 -9.2zM1612.7 2024.1l9.2 9.2l-9.2 9.2l-9.2 -9.2zM1613.1 2025.7l9.2 9.2l-9.2 9.2l-9.2 -9.2zM1613.6 2027.4l9.2 9.2l-9.2 9.2l-9.2 -9.2zM1614.1 2029l9.2 9.2l-9.2 9.2l-9.2 -9.2zM1614.6 2030.6l9.2 9.2l-9.2 9.2l-9.2 -9.2zM1615.1 2032.3l9.2 9.2l-9.2 9.2l-9.2 -9.2zM1615.5 2033.9l9.2 9.2l-9.2 9.2l-9.2 -9.2zM1616 2035.6l9.2 9.2l-9.2 9.2l-9.2 -9.2zM1616.5 2037.2l9.2 9.2l-9.2 9.2l-9.2 -9.2zM1618.3 1992.2l9.2 9.2l-9.2 9.2l-9.2 -9.2zM1618.8 1990.6l9.2 9.2l-9.2 9.2l-9.2 -9.2zM1619.2 1988.9l9.2 9.2l-9.2 9.2l-9.2 -9.2zM1619.7 1987.3l9.2 9.2l-9.2 9.2l-9.2 -9.2zM1620.2 1985.7l9.2 9.2l-9.2 9.2l-9.2 -9.2zM1620.7 1984l9.2 9.2l-9.2 9.2l-9.2 -9.2zM1621.1 1982.4l9.2 9.2l-9.2 9.2l-9.2 -9.2zM1621.6 1980.8l9.2 9.2l-9.2 9.2l-9.2 -9.2zM1622.1 1979.1l9.2 9.2l-9.2 9.2l-9.2 -9.2zM1622.5 1977.5l9.2 9.2l-9.2 9.2l-9.2 -9.2zM1623 1975.9l9.2 9.2l-9.2 9.2l-9.2 -9.2zM1623.5 1974.2l9.2 9.2l-9.2 9.2l-9.2 -9.2zM1624 1972.6l9.2 9.2l-9.2 9.2l-9.2 -9.2zM1624.4 1971l9.2 9.2l-9.2 9.2l-9.2 -9.2zM1624.9 1969.3l9.2 9.2l-9.2 9.2l-9.2 -9.2zM1625.4 1967.7l9.2 9.2l-9.2 9.2l-9.2 -9.2zM1625.8 1966l9.2 9.2l-9.2 9.2l-9.2 -9.2zM1626.3 1964.4l9.2 9.2l-9.2 9.2l-9.2 -9.2zM1626.8 1962.8l9.2 9.2l-9.2 9.2l-9.2 -9.2zM1627.2 1961.1l9.2 9.2l-9.2 9.2l-9.2 -9.2zM1627.7 1959.5l9.2 9.2l-9.2 9.2l-9.2 -9.2zM1628.2 1957.9l9.2 9.2l-9.2 9.2l-9.2 -9.2zM1628.7 1956.2l9.2 9.2l-9.2 9.2l-9.2 -9.2zM1629.1 1954.6l9.2 9.2l-9.2 9.2l-9.2 -9.2zM1629.6 1953l9.2 9.2l-9.2 9.2l-9.2 -9.2zM1630.1 1951.3l9.2 9.2l-9.2 9.2l-9.2 -9.2zM1630.5 1949.7l9.2 9.2l-9.2 9.2l-9.2 -9.2zM1631 1948.1l9.2 9.2l-9.2 9.2l-9.2 -9.2zM1631.5 1946.4l9.2 9.2l-9.2 9.2l-9.2 -9.2zM1632 1944.8l9.2 9.2l-9.2 9.2l-9.2 -9.2zM1632.4 1943.2l9.2 9.2l-9.2 9.2l-9.2 -9.2zM1632.9 1941.5l9.2 9.2l-9.2 9.2l-9.2 -9.2zM1633.4 1939.9l9.2 9.2l-9.2 9.2l-9.2 -9.2zM1633.8 1938.3l9.2 9.2l-9.2 9.2l-9.2 -9.2zM1634.3 1936.6l9.2 9.2l-9.2 9.2l-9.2 -9.2zM1634.8 1935l9.2 9.2l-9.2 9.2l-9.2 -9.2zM1635.3 1933.4l9.2 9.2l-9.2 9.2l-9.2 -9.2zM1635.7 1931.7l9.2 9.2l-9.2 9.2l-9.2 -9.2zM1636.2 1930.1l9.2 9.2l-9.2 9.2l-9.2 -9.2zM1636.7 1928.5l9.2 9.2l-9.2 9.2l-9.2 -9.2zM1637.1 1926.8l9.2 9.2l-9.2 9.2l-9.2 -9.2zM1637.6 1925.2l9.2 9.2l-9.2 9.2l-9.2 -9.2zM1638.1 1923.5l9.2 9.2l-9.2 9.2l-9.2 -9.2zM1638.5 1921.9l9.2 9.2l-9.2 9.2l-9.2 -9.2zM1639 1920.3l9.2 9.2l-9.2 9.2l-9.2 -9.2zM1639.5 1918.6l9.2 9.2l-9.2 9.2l-9.2 -9.2zM1640 1917l9.2 9.2l-9.2 9.2l-9.2 -9.2zM1640.4 1915.4l9.2 9.2l-9.2 9.2l-9.2 -9.2zM1640.9 1913.7l9.2 9.2l-9.2 9.2l-9.2 -9.2zM1641.4 1912.1l9.2 9.2l-9.2 9.2l-9.2 -9.2zM1641.8 1910.5l9.2 9.2l-9.2 9.2l-9.2 -9.2zM1642.3 1908.8l9.2 9.2l-9.2 9.2l-9.2 -9.2zM1642.8 1907.2l9.2 9.2l-9.2 9.2l-9.2 -9.2zM1643.3 1905.6l9.2 9.2l-9.2 9.2l-9.2 -9.2zM1643.7 1903.9l9.2 9.2l-9.2 9.2l-9.2 -9.2zM1644.2 1902.3l9.2 9.2l-9.2 9.2l-9.2 -9.2zM1644.2 1902.3l9.2 9.2l-9.2 9.2l-9.2 -9.2zM1645.8 1902.9l9.2 9.2l-9.2 9.2l-9.2 -9.2zM1647.4 1903.4l9.2 9.2l-9.2 9.2l-9.2 -9.2zM1649 1904l9.2 9.2l-9.2 9.2l-9.2 -9.2zM1650.7 1904.6l9.2 9.2l-9.2 9.2l-9.2 -9.2zM1652.3 1905.2l9.2 9.2l-9.2 9.2l-9.2 -9.2zM1653.9 1905.7l9.2 9.2l-9.2 9.2l-9.2 -9.2zM1655.5 1906.3l9.2 9.2l-9.2 9.2l-9.2 -9.2zM1657.1 1906.9l9.2 9.2l-9.2 9.2l-9.2 -9.2zM1658.7 1907.5l9.2 9.2l-9.2 9.2l-9.2 -9.2zM1660.3 1908l9.2 9.2l-9.2 9.2l-9.2 -9.2zM1661.9 1908.6l9.2 9.2l-9.2 9.2l-9.2 -9.2zM1663.6 1909.2l9.2 9.2l-9.2 9.2l-9.2 -9.2zM1665.2 1909.8l9.2 9.2l-9.2 9.2l-9.2 -9.2zM1666.8 1910.3l9.2 9.2l-9.2 9.2l-9.2 -9.2zM1668.4 1910.9l9.2 9.2l-9.2 9.2l-9.2 -9.2zM1668.4 1869.4l9.2 9.2l-9.2 9.2l-9.2 -9.2zM1669.1 1871l9.2 9.2l-9.2 9.2l-9.2 -9.2zM1669.8 1872.6l9.2 9.2l-9.2 9.2l-9.2 -9.2zM1670.5 1874.1l9.2 9.2l-9.2 9.2l-9.2 -9.2zM1671.1 1875.7l9.2 9.2l-9.2 9.2l-9.2 -9.2zM1671.8 1877.3l9.2 9.2l-9.2 9.2l-9.2 -9.2zM1672.5 1878.9l9.2 9.2l-9.2 9.2l-9.2 -9.2zM1673.2 1880.5l9.2 9.2l-9.2 9.2l-9.2 -9.2zM1673.9 1882l9.2 9.2l-9.2 9.2l-9.2 -9.2zM1674.6 1883.6l9.2 9.2l-9.2 9.2l-9.2 -9.2zM1675.3 1885.2l9.2 9.2l-9.2 9.2l-9.2 -9.2zM1675.9 1886.8l9.2 9.2l-9.2 9.2l-9.2 -9.2zM1676.6 1888.4l9.2 9.2l-9.2 9.2l-9.2 -9.2zM1677.3 1889.9l9.2 9.2l-9.2 9.2l-9.2 -9.2zM1678 1891.5l9.2 9.2l-9.2 9.2l-9.2 -9.2zM1678.7 1893.1l9.2 9.2l-9.2 9.2l-9.2 -9.2zM1679.4 1894.7l9.2 9.2l-9.2 9.2l-9.2 -9.2zM1680.1 1896.2l9.2 9.2l-9.2 9.2l-9.2 -9.2zM1680.7 1897.8l9.2 9.2l-9.2 9.2l-9.2 -9.2zM1681.4 1899.4l9.2 9.2l-9.2 9.2l-9.2 -9.2zM1682.1 1901l9.2 9.2l-9.2 9.2l-9.2 -9.2zM1682.8 1902.6l9.2 9.2l-9.2 9.2l-9.2 -9.2zM1683.5 1904.1l9.2 9.2l-9.2 9.2l-9.2 -9.2zM1684.2 1905.7l9.2 9.2l-9.2 9.2l-9.2 -9.2zM1684.8 1907.3l9.2 9.2l-9.2 9.2l-9.2 -9.2zM1685.5 1908.9l9.2 9.2l-9.2 9.2l-9.2 -9.2zM1686.2 1910.5l9.2 9.2l-9.2 9.2l-9.2 -9.2zM1686.9 1912l9.2 9.2l-9.2 9.2l-9.2 -9.2zM1687.6 1913.6l9.2 9.2l-9.2 9.2l-9.2 -9.2zM1688.3 1915.2l9.2 9.2l-9.2 9.2l-9.2 -9.2zM1689 1916.8l9.2 9.2l-9.2 9.2l-9.2 -9.2zM1689.6 1918.4l9.2 9.2l-9.2 9.2l-9.2 -9.2zM1690.3 1919.9l9.2 9.2l-9.2 9.2l-9.2 -9.2zM1691 1921.5l9.2 9.2l-9.2 9.2l-9.2 -9.2zM1691.7 1923.1l9.2 9.2l-9.2 9.2l-9.2 -9.2zM1692.6 1791.1l9.2 9.2l-9.2 9.2l-9.2 -9.2zM1694.3 1791.2l9.2 9.2l-9.2 9.2l-9.2 -9.2zM1695.9 1791.3l9.2 9.2l-9.2 9.2l-9.2 -9.2zM1697.6 1791.3l9.2 9.2l-9.2 9.2l-9.2 -9.2zM1699.2 1791.4l9.2 9.2l-9.2 9.2l-9.2 -9.2zM1700.9 1791.5l9.2 9.2l-9.2 9.2l-9.2 -9.2zM1702.5 1791.6l9.2 9.2l-9.2 9.2l-9.2 -9.2zM1704.2 1791.7l9.2 9.2l-9.2 9.2l-9.2 -9.2zM1705.8 1791.8l9.2 9.2l-9.2 9.2l-9.2 -9.2zM1707.5 1791.8l9.2 9.2l-9.2 9.2l-9.2 -9.2zM1709.1 1791.9l9.2 9.2l-9.2 9.2l-9.2 -9.2zM1710.8 1792l9.2 9.2l-9.2 9.2l-9.2 -9.2zM1710.8 1792l9.2 9.2l-9.2 9.2l-9.2 -9.2zM1711.2 1793.6l9.2 9.2l-9.2 9.2l-9.2 -9.2zM1711.6 1795.3l9.2 9.2l-9.2 9.2l-9.2 -9.2zM1712 1796.9l9.2 9.2l-9.2 9.2l-9.2 -9.2zM1712.4 1798.6l9.2 9.2l-9.2 9.2l-9.2 -9.2zM1712.8 1800.2l9.2 9.2l-9.2 9.2l-9.2 -9.2zM1713.2 1801.8l9.2 9.2l-9.2 9.2l-9.2 -9.2zM1713.6 1803.5l9.2 9.2l-9.2 9.2l-9.2 -9.2zM1714 1805.1l9.2 9.2l-9.2 9.2l-9.2 -9.2zM1714.4 1806.8l9.2 9.2l-9.2 9.2l-9.2 -9.2zM1714.8 1808.4l9.2 9.2l-9.2 9.2l-9.2 -9.2zM1715.2 1810l9.2 9.2l-9.2 9.2l-9.2 -9.2zM1715.6 1811.7l9.2 9.2l-9.2 9.2l-9.2 -9.2zM1716 1813.3l9.2 9.2l-9.2 9.2l-9.2 -9.2zM1716.4 1815l9.2 9.2l-9.2 9.2l-9.2 -9.2zM1716.8 1816.6l9.2 9.2l-9.2 9.2l-9.2 -9.2zM1717.3 1818.2l9.2 9.2l-9.2 9.2l-9.2 -9.2zM1717.7 1819.9l9.2 9.2l-9.2 9.2l-9.2 -9.2zM1718.1 1821.5l9.2 9.2l-9.2 9.2l-9.2 -9.2zM1718.5 1823.2l9.2 9.2l-9.2 9.2l-9.2 -9.2zM1718.9 1824.8l9.2 9.2l-9.2 9.2l-9.2 -9.2zM1719.3 1826.4l9.2 9.2l-9.2 9.2l-9.2 -9.2zM1719.7 1828.1l9.2 9.2l-9.2 9.2l-9.2 -9.2zM1720.1 1829.7l9.2 9.2l-9.2 9.2l-9.2 -9.2zM1720.5 1831.4l9.2 9.2l-9.2 9.2l-9.2 -9.2zM1720.9 1833l9.2 9.2l-9.2 9.2l-9.2 -9.2zM1721.3 1834.6l9.2 9.2l-9.2 9.2l-9.2 -9.2zM1721.7 1836.3l9.2 9.2l-9.2 9.2l-9.2 -9.2zM1722.1 1837.9l9.2 9.2l-9.2 9.2l-9.2 -9.2zM1722.5 1839.6l9.2 9.2l-9.2 9.2l-9.2 -9.2zM1722.9 1841.2l9.2 9.2l-9.2 9.2l-9.2 -9.2zM1723.3 1842.9l9.2 9.2l-9.2 9.2l-9.2 -9.2zM1723.7 1844.5l9.2 9.2l-9.2 9.2l-9.2 -9.2zM1724.1 1846.1l9.2 9.2l-9.2 9.2l-9.2 -9.2zM1724.5 1847.8l9.2 9.2l-9.2 9.2l-9.2 -9.2zM1724.9 1849.4l9.2 9.2l-9.2 9.2l-9.2 -9.2zM1725.3 1851.1l9.2 9.2l-9.2 9.2l-9.2 -9.2zM1725.7 1852.7l9.2 9.2l-9.2 9.2l-9.2 -9.2zM1726.1 1854.3l9.2 9.2l-9.2 9.2l-9.2 -9.2zM1726.5 1856l9.2 9.2l-9.2 9.2l-9.2 -9.2zM1726.9 1857.6l9.2 9.2l-9.2 9.2l-9.2 -9.2zM1727.3 1859.3l9.2 9.2l-9.2 9.2l-9.2 -9.2zM1727.7 1860.9l9.2 9.2l-9.2 9.2l-9.2 -9.2zM1728.1 1862.5l9.2 9.2l-9.2 9.2l-9.2 -9.2zM1728.5 1864.2l9.2 9.2l-9.2 9.2l-9.2 -9.2zM1728.9 1865.8l9.2 9.2l-9.2 9.2l-9.2 -9.2zM1729.3 1867.5l9.2 9.2l-9.2 9.2l-9.2 -9.2zM1729.8 1869.1l9.2 9.2l-9.2 9.2l-9.2 -9.2zM1730.2 1870.7l9.2 9.2l-9.2 9.2l-9.2 -9.2zM1730.6 1872.4l9.2 9.2l-9.2 9.2l-9.2 -9.2zM1731 1874l9.2 9.2l-9.2 9.2l-9.2 -9.2zM1731.4 1875.7l9.2 9.2l-9.2 9.2l-9.2 -9.2zM1731.8 1877.3l9.2 9.2l-9.2 9.2l-9.2 -9.2zM1732.2 1878.9l9.2 9.2l-9.2 9.2l-9.2 -9.2zM1732.6 1880.6l9.2 9.2l-9.2 9.2l-9.2 -9.2zM1733 1882.2l9.2 9.2l-9.2 9.2l-9.2 -9.2zM1733.4 1883.9l9.2 9.2l-9.2 9.2l-9.2 -9.2zM1733.8 1885.5l9.2 9.2l-9.2 9.2l-9.2 -9.2zM1734.2 1887.1l9.2 9.2l-9.2 9.2l-9.2 -9.2zM1734.6 1888.8l9.2 9.2l-9.2 9.2l-9.2 -9.2zM1735 1890.4l9.2 9.2l-9.2 9.2l-9.2 -9.2zM1735.4 1892.1l9.2 9.2l-9.2 9.2l-9.2 -9.2zM1735.8 1893.7l9.2 9.2l-9.2 9.2l-9.2 -9.2z" fill="#2a7a3a"/><path d="M1015.6 1933.6 1127.1 1933.6 1127.1 1950.9 1177.2 1970.8 1179.2 1700 1181.3 1723.8 1183.6 1754.9 1185.9 1782.6 1187.3 1802.2 1189.4 1827.6 1191.1 1850.4 1192.6 1868.5 1194 1890.4 1195.9 1913.7 1199.2 1958.7 1205.8 2040.8 1229.1 1973.4 1230 1930.1 1259.4 1963 1260.5 1951 1280.1 1947.4 1287.3 1961.3 1297 1985 1304.6 1999.3 1325.3 2013.2 1354.7 1952.6 1356.5 1978.6 1381.5 1955.2 1404 1995.9 1425.6 1983.8 1453.3 1933.6 1454 1950 1473.2 1971.5 1473.2 1831.4 1473.4 1971.7 1525.9 2030.4 1544.1 1957.8 1545.6 1767.4 1564.7 1953 1568.1 2006.6" fill="none" stroke="#2b2626" stroke-opacity="0.75" stroke-width="4.1" stroke-linejoin="round" stroke-linecap="butt"/><path d="M1561 1970.3 1594 1969.4 1616.5 2046.4 1618.3 2001.4 1644.2 1911.5 1668.4 1920.1 1668.4 1878.6 1691.7 1932.3 1692.6 1800.3 1710.8 1801.2 1735.8 1902.9" fill="none" stroke="#2b2626" stroke-opacity="0.75" stroke-width="4.1" stroke-linejoin="round" stroke-linecap="butt"/>
<text transform="translate(966.6 1753.3) scale(1 1.04)" text-anchor="end" font-size="26.4" fill="#424347" stroke="#424347" stroke-width="0.6">75</text>
<text transform="translate(966.6 1830.2) scale(1 1.04)" text-anchor="end" font-size="26.4" fill="#424347" stroke="#424347" stroke-width="0.6">70</text>
<text transform="translate(966.6 1907) scale(1 1.04)" text-anchor="end" font-size="26.4" fill="#424347" stroke="#424347" stroke-width="0.6">65</text>
<text transform="translate(966.6 1983.9) scale(1 1.04)" text-anchor="end" font-size="26.4" fill="#424347" stroke="#424347" stroke-width="0.6">60</text>
<text transform="translate(966.6 2060.8) scale(1 1.04)" text-anchor="end" font-size="26.4" fill="#424347" stroke="#424347" stroke-width="0.6">55</text>
<text transform="translate(1052.6 2111.3) scale(1 1.04)" text-anchor="middle" font-size="26.4" fill="#424347" stroke="#424347" stroke-width="0.6">2010</text>
<text transform="translate(1209.1 2111.3) scale(1 1.04)" text-anchor="middle" font-size="26.4" fill="#424347" stroke="#424347" stroke-width="0.6">2011</text>
<text transform="translate(1365.6 2111.3) scale(1 1.04)" text-anchor="middle" font-size="26.4" fill="#424347" stroke="#424347" stroke-width="0.6">2012</text>
<text transform="translate(1522.1 2111.3) scale(1 1.04)" text-anchor="middle" font-size="26.4" fill="#424347" stroke="#424347" stroke-width="0.6">2013</text>
<text transform="translate(1678.6 2111.3) scale(1 1.04)" text-anchor="middle" font-size="26.4" fill="#424347" stroke="#424347" stroke-width="0.6">2014</text>
<text transform="translate(1375 2146.2) scale(1 1.03)" text-anchor="middle" font-size="32" fill="#000" stroke="#000" stroke-width="0.4">Time</text>
<text transform="translate(921.9 1875.5) rotate(-90) scale(0.985 1.04)" text-anchor="middle" font-size="32" fill="#000" stroke="#000" stroke-width="0.4">Noise (dBA): Nighttime</text>
<path d="M541 2171.6l12 12l-12 12l-12 -12z" fill="#a8bce6"/>
<text x="589.4" y="2195.6" font-size="33.2" fill="#000" stroke="#000" stroke-width="0.4">Original</text>
<path d="M747.1 2171.6l12 12l-12 12l-12 -12z" fill="#2a7a3a"/>
<text x="795.6" y="2195.6" font-size="33.2" fill="#000" stroke="#000" stroke-width="0.4">Interpolated</text>
<path d="M1006.7 2183.3H1052.6" stroke="#2b2626" stroke-opacity="0.75" stroke-width="5.6"/>
<text x="1077.8" y="2195.6" font-size="33.2" fill="#000" stroke="#000" stroke-width="0.4">Smooth Fit</text>
</svg>
</body></html>
